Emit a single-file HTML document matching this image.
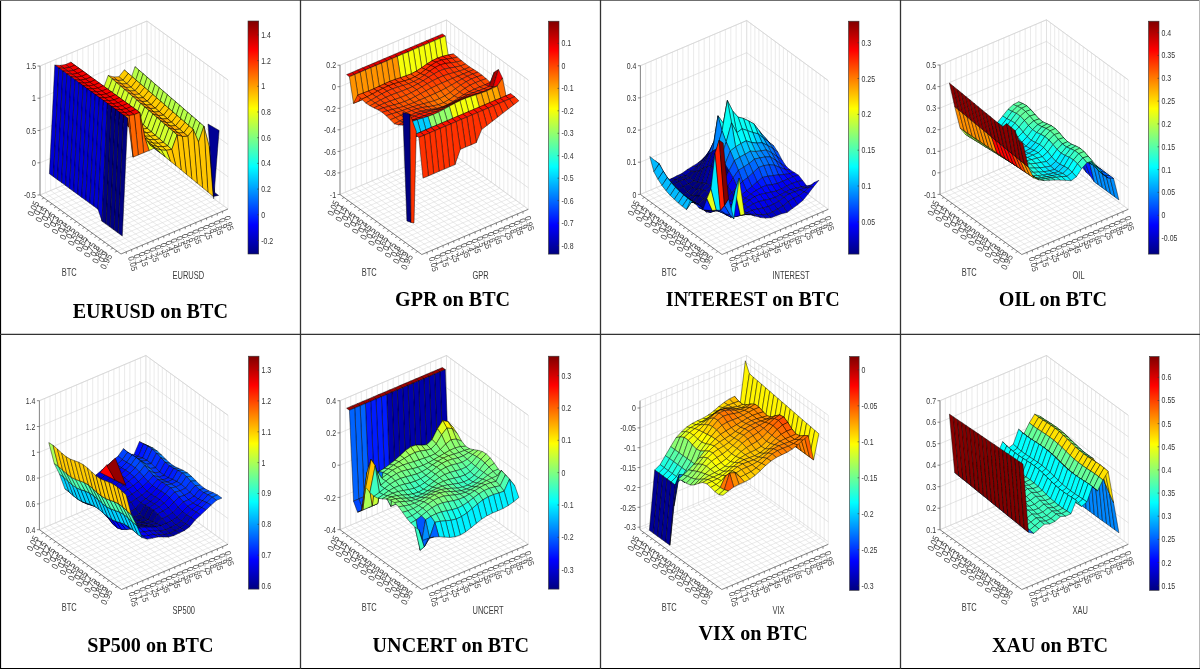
<!DOCTYPE html>
<html><head><meta charset="utf-8"><style>
html,body{margin:0;padding:0;background:#fff;}
svg{display:block;will-change:transform;}
</style></head><body>
<svg width="1200" height="669" viewBox="0 0 1200 669">
<rect width="1200" height="669" fill="#fff"/>
<g transform="translate(0,0)"><g stroke="#dcdcdc" stroke-width="0.6" fill="none">
<line x1="40.0" y1="195.0" x2="147.0" y2="150.0"/>
<line x1="40.0" y1="195.0" x2="121.0" y2="254.0"/>
<line x1="40.0" y1="195.0" x2="40.0" y2="66.0"/>
<line x1="147.0" y1="150.0" x2="147.0" y2="21.0"/>
<line x1="44.0" y1="197.9" x2="151.1" y2="152.9"/>
<line x1="45.4" y1="192.8" x2="126.3" y2="251.8"/>
<line x1="45.4" y1="192.8" x2="45.4" y2="63.8"/>
<line x1="151.1" y1="152.9" x2="151.1" y2="23.9"/>
<line x1="48.1" y1="200.9" x2="155.1" y2="155.9"/>
<line x1="50.7" y1="190.5" x2="131.7" y2="249.5"/>
<line x1="50.7" y1="190.5" x2="50.7" y2="61.5"/>
<line x1="155.1" y1="155.9" x2="155.1" y2="26.9"/>
<line x1="52.1" y1="203.8" x2="159.2" y2="158.8"/>
<line x1="56.0" y1="188.2" x2="137.1" y2="247.2"/>
<line x1="56.0" y1="188.2" x2="56.0" y2="59.2"/>
<line x1="159.2" y1="158.8" x2="159.2" y2="29.8"/>
<line x1="56.2" y1="206.8" x2="163.2" y2="161.8"/>
<line x1="61.4" y1="186.0" x2="142.4" y2="245.0"/>
<line x1="61.4" y1="186.0" x2="61.4" y2="57.0"/>
<line x1="163.2" y1="161.8" x2="163.2" y2="32.8"/>
<line x1="60.2" y1="209.8" x2="167.2" y2="164.8"/>
<line x1="66.8" y1="183.8" x2="147.8" y2="242.8"/>
<line x1="66.8" y1="183.8" x2="66.8" y2="54.8"/>
<line x1="167.2" y1="164.8" x2="167.2" y2="35.8"/>
<line x1="64.3" y1="212.7" x2="171.3" y2="167.7"/>
<line x1="72.1" y1="181.5" x2="153.1" y2="240.5"/>
<line x1="72.1" y1="181.5" x2="72.1" y2="52.5"/>
<line x1="171.3" y1="167.7" x2="171.3" y2="38.7"/>
<line x1="68.3" y1="215.7" x2="175.3" y2="170.7"/>
<line x1="77.4" y1="179.2" x2="158.4" y2="238.2"/>
<line x1="77.4" y1="179.2" x2="77.4" y2="50.2"/>
<line x1="175.3" y1="170.7" x2="175.3" y2="41.7"/>
<line x1="72.4" y1="218.6" x2="179.4" y2="173.6"/>
<line x1="82.8" y1="177.0" x2="163.8" y2="236.0"/>
<line x1="82.8" y1="177.0" x2="82.8" y2="48.0"/>
<line x1="179.4" y1="173.6" x2="179.4" y2="44.6"/>
<line x1="76.5" y1="221.6" x2="183.4" y2="176.6"/>
<line x1="88.2" y1="174.8" x2="169.2" y2="233.8"/>
<line x1="88.2" y1="174.8" x2="88.2" y2="45.8"/>
<line x1="183.4" y1="176.6" x2="183.4" y2="47.6"/>
<line x1="80.5" y1="224.5" x2="187.5" y2="179.5"/>
<line x1="93.5" y1="172.5" x2="174.5" y2="231.5"/>
<line x1="93.5" y1="172.5" x2="93.5" y2="43.5"/>
<line x1="187.5" y1="179.5" x2="187.5" y2="50.5"/>
<line x1="84.6" y1="227.4" x2="191.6" y2="182.4"/>
<line x1="98.8" y1="170.2" x2="179.8" y2="229.2"/>
<line x1="98.8" y1="170.2" x2="98.8" y2="41.2"/>
<line x1="191.6" y1="182.4" x2="191.6" y2="53.4"/>
<line x1="88.6" y1="230.4" x2="195.6" y2="185.4"/>
<line x1="104.2" y1="168.0" x2="185.2" y2="227.0"/>
<line x1="104.2" y1="168.0" x2="104.2" y2="39.0"/>
<line x1="195.6" y1="185.4" x2="195.6" y2="56.4"/>
<line x1="92.7" y1="233.3" x2="199.7" y2="188.3"/>
<line x1="109.5" y1="165.8" x2="190.6" y2="224.8"/>
<line x1="109.5" y1="165.8" x2="109.5" y2="36.8"/>
<line x1="199.7" y1="188.3" x2="199.7" y2="59.3"/>
<line x1="96.7" y1="236.3" x2="203.7" y2="191.3"/>
<line x1="114.9" y1="163.5" x2="195.9" y2="222.5"/>
<line x1="114.9" y1="163.5" x2="114.9" y2="34.5"/>
<line x1="203.7" y1="191.3" x2="203.7" y2="62.3"/>
<line x1="100.8" y1="239.2" x2="207.8" y2="194.2"/>
<line x1="120.2" y1="161.2" x2="201.2" y2="220.2"/>
<line x1="120.2" y1="161.2" x2="120.2" y2="32.2"/>
<line x1="207.8" y1="194.2" x2="207.8" y2="65.2"/>
<line x1="104.8" y1="242.2" x2="211.8" y2="197.2"/>
<line x1="125.6" y1="159.0" x2="206.6" y2="218.0"/>
<line x1="125.6" y1="159.0" x2="125.6" y2="30.0"/>
<line x1="211.8" y1="197.2" x2="211.8" y2="68.2"/>
<line x1="108.8" y1="245.2" x2="215.8" y2="200.2"/>
<line x1="130.9" y1="156.8" x2="211.9" y2="215.8"/>
<line x1="130.9" y1="156.8" x2="130.9" y2="27.8"/>
<line x1="215.8" y1="200.2" x2="215.8" y2="71.2"/>
<line x1="112.9" y1="248.1" x2="219.9" y2="203.1"/>
<line x1="136.3" y1="154.5" x2="217.3" y2="213.5"/>
<line x1="136.3" y1="154.5" x2="136.3" y2="25.5"/>
<line x1="219.9" y1="203.1" x2="219.9" y2="74.1"/>
<line x1="117.0" y1="251.1" x2="223.9" y2="206.1"/>
<line x1="141.6" y1="152.2" x2="222.6" y2="211.2"/>
<line x1="141.6" y1="152.2" x2="141.6" y2="23.2"/>
<line x1="223.9" y1="206.1" x2="223.9" y2="77.1"/>
<line x1="121.0" y1="254.0" x2="228.0" y2="209.0"/>
<line x1="147.0" y1="150.0" x2="228.0" y2="209.0"/>
<line x1="147.0" y1="150.0" x2="147.0" y2="21.0"/>
<line x1="228.0" y1="209.0" x2="228.0" y2="80.0"/>
<polyline points="40.0,195.0 147.0,150.0 228.0,209.0" stroke="#d2d2d2"/>
<polyline points="40.0,162.8 147.0,117.8 228.0,176.8" stroke="#d2d2d2"/>
<polyline points="40.0,130.5 147.0,85.5 228.0,144.5" stroke="#d2d2d2"/>
<polyline points="40.0,98.2 147.0,53.2 228.0,112.2" stroke="#d2d2d2"/>
<polyline points="40.0,66.0 147.0,21.0 228.0,80.0" stroke="#d2d2d2"/>
<polyline points="40.0,66.0 147.0,21.0 228.0,80.0" stroke="#d2d2d2"/>
</g>
<g stroke="#5a5a5a" stroke-width="0.7" fill="none">
<polyline points="40.0,195.0 121.0,254.0 228.0,209.0"/>
<polyline points="40.0,195.0 40.0,66.0"/>
<line x1="44.0" y1="197.9" x2="41.8" y2="199.1"/>
<line x1="126.3" y1="251.8" x2="126.3" y2="253.9"/>
<line x1="48.1" y1="200.9" x2="45.9" y2="202.1"/>
<line x1="131.7" y1="249.5" x2="131.7" y2="251.7"/>
<line x1="52.1" y1="203.8" x2="49.9" y2="205.0"/>
<line x1="137.1" y1="247.2" x2="137.1" y2="249.4"/>
<line x1="56.2" y1="206.8" x2="54.0" y2="208.0"/>
<line x1="142.4" y1="245.0" x2="142.4" y2="247.2"/>
<line x1="60.2" y1="209.8" x2="58.0" y2="210.9"/>
<line x1="147.8" y1="242.8" x2="147.8" y2="244.9"/>
<line x1="64.3" y1="212.7" x2="62.1" y2="213.9"/>
<line x1="153.1" y1="240.5" x2="153.1" y2="242.7"/>
<line x1="68.3" y1="215.7" x2="66.1" y2="216.8"/>
<line x1="158.4" y1="238.2" x2="158.4" y2="240.4"/>
<line x1="72.4" y1="218.6" x2="70.2" y2="219.8"/>
<line x1="163.8" y1="236.0" x2="163.8" y2="238.2"/>
<line x1="76.5" y1="221.6" x2="74.2" y2="222.8"/>
<line x1="169.2" y1="233.8" x2="169.2" y2="235.9"/>
<line x1="80.5" y1="224.5" x2="78.3" y2="225.7"/>
<line x1="174.5" y1="231.5" x2="174.5" y2="233.7"/>
<line x1="84.6" y1="227.4" x2="82.4" y2="228.6"/>
<line x1="179.8" y1="229.2" x2="179.8" y2="231.4"/>
<line x1="88.6" y1="230.4" x2="86.4" y2="231.6"/>
<line x1="185.2" y1="227.0" x2="185.2" y2="229.2"/>
<line x1="92.7" y1="233.3" x2="90.5" y2="234.5"/>
<line x1="190.6" y1="224.8" x2="190.6" y2="226.9"/>
<line x1="96.7" y1="236.3" x2="94.5" y2="237.5"/>
<line x1="195.9" y1="222.5" x2="195.9" y2="224.7"/>
<line x1="100.8" y1="239.2" x2="98.5" y2="240.4"/>
<line x1="201.2" y1="220.2" x2="201.2" y2="222.4"/>
<line x1="104.8" y1="242.2" x2="102.6" y2="243.4"/>
<line x1="206.6" y1="218.0" x2="206.6" y2="220.2"/>
<line x1="108.8" y1="245.2" x2="106.6" y2="246.3"/>
<line x1="211.9" y1="215.8" x2="211.9" y2="217.9"/>
<line x1="112.9" y1="248.1" x2="110.7" y2="249.3"/>
<line x1="217.3" y1="213.5" x2="217.3" y2="215.7"/>
<line x1="117.0" y1="251.1" x2="114.8" y2="252.2"/>
<line x1="222.6" y1="211.2" x2="222.6" y2="213.4"/>
<line x1="40.0" y1="195.0" x2="37.5" y2="195.0"/>
<line x1="40.0" y1="162.8" x2="37.5" y2="162.8"/>
<line x1="40.0" y1="130.5" x2="37.5" y2="130.5"/>
<line x1="40.0" y1="98.2" x2="37.5" y2="98.2"/>
<line x1="40.0" y1="66.0" x2="37.5" y2="66.0"/>
</g>
<g font-family="Liberation Sans" font-size="8.5" fill="#333" text-anchor="end">
<text transform="translate(36.00 198.20) scale(0.82 1)" text-anchor="end">-0.5</text>
<text transform="translate(36.00 165.95) scale(0.82 1)" text-anchor="end">0</text>
<text transform="translate(36.00 133.70) scale(0.82 1)" text-anchor="end">0.5</text>
<text transform="translate(36.00 101.45) scale(0.82 1)" text-anchor="end">1</text>
<text transform="translate(36.00 69.20) scale(0.82 1)" text-anchor="end">1.5</text>
</g>
<g stroke="#000" stroke-width="0.45" stroke-linejoin="round">
<polygon points="140.3,87.0 144.4,90.5 149.8,145.2 145.7,142.3" fill="#000082"/>
<polygon points="135.0,66.7 139.1,70.2 144.4,90.5 140.3,87.0" fill="#b7ff48"/>
<polygon points="144.4,90.5 148.4,94.0 153.8,148.2 149.8,145.2" fill="#000082"/>
<polygon points="129.6,82.5 133.7,86.0 139.1,70.2 135.0,66.7" fill="#b7ff48"/>
<polygon points="139.1,70.2 143.1,73.7 148.4,94.0 144.4,90.5" fill="#b7ff48"/>
<polygon points="148.4,94.0 152.5,97.5 157.8,151.2 153.8,148.2" fill="#000082"/>
<polygon points="124.3,69.9 128.3,73.4 133.7,86.0 129.6,82.5" fill="#ffd700"/>
<polygon points="133.7,86.0 137.8,89.5 143.1,73.7 139.1,70.2" fill="#b7ff48"/>
<polygon points="143.1,73.7 147.2,77.2 152.5,97.5 148.4,94.0" fill="#b7ff48"/>
<polygon points="152.5,97.5 156.6,101.0 161.9,154.1 157.8,151.2" fill="#000082"/>
<polygon points="118.9,76.7 123.0,80.2 128.3,73.4 124.3,69.9" fill="#ffcb00"/>
<polygon points="128.3,73.4 132.4,76.9 137.8,89.5 133.7,86.0" fill="#ffd700"/>
<polygon points="137.8,89.5 141.8,93.0 147.2,77.2 143.1,73.7" fill="#b7ff48"/>
<polygon points="147.2,77.2 151.2,80.7 156.6,101.0 152.5,97.5" fill="#b7ff48"/>
<polygon points="113.6,77.0 117.7,80.5 123.0,80.2 118.9,76.7" fill="#ffaf00"/>
<polygon points="156.6,101.0 160.6,104.5 165.9,157.0 161.9,154.1" fill="#000082"/>
<polygon points="123.0,80.2 127.0,83.7 132.4,76.9 128.3,73.4" fill="#ffcb00"/>
<polygon points="132.4,76.9 136.4,80.4 141.8,93.0 137.8,89.5" fill="#ffd700"/>
<polygon points="141.8,93.0 145.8,96.5 151.2,80.7 147.2,77.2" fill="#b7ff48"/>
<polygon points="108.2,75.4 112.3,78.9 117.7,80.5 113.6,77.0" fill="#ff9e00"/>
<polygon points="151.2,80.7 155.2,84.2 160.6,104.5 156.6,101.0" fill="#b7ff48"/>
<polygon points="117.7,80.5 121.7,84.0 127.0,83.7 123.0,80.2" fill="#ffcb00"/>
<polygon points="160.6,104.5 164.6,108.0 170.0,160.0 165.9,157.0" fill="#000082"/>
<polygon points="127.0,83.7 131.1,87.2 136.4,80.4 132.4,76.9" fill="#ffcb00"/>
<polygon points="136.4,80.4 140.5,83.9 145.8,96.5 141.8,93.0" fill="#ffd700"/>
<polygon points="102.9,89.9 106.9,93.4 112.3,78.9 108.2,75.4" fill="#d3ff2c"/>
<polygon points="145.8,96.5 149.9,100.0 155.2,84.2 151.2,80.7" fill="#b7ff48"/>
<polygon points="112.3,78.9 116.3,82.4 121.7,84.0 117.7,80.5" fill="#ff9e00"/>
<polygon points="155.2,84.2 159.3,87.7 164.6,108.0 160.6,104.5" fill="#b7ff48"/>
<polygon points="121.7,84.0 125.8,87.5 131.1,87.2 127.0,83.7" fill="#ffaf00"/>
<polygon points="164.6,108.0 168.7,111.5 174.1,162.9 170.0,160.0" fill="#000082"/>
<polygon points="131.1,87.2 135.1,90.7 140.5,83.9 136.4,80.4" fill="#ffcb00"/>
<polygon points="97.5,90.9 101.6,94.4 106.9,93.4 102.9,89.9" fill="#ffd700"/>
<polygon points="140.5,83.9 144.6,87.4 149.9,100.0 145.8,96.5" fill="#ffd700"/>
<polygon points="106.9,93.4 111.0,96.9 116.3,82.4 112.3,78.9" fill="#d3ff2c"/>
<polygon points="149.9,100.0 153.9,103.5 159.3,87.7 155.2,84.2" fill="#b7ff48"/>
<polygon points="116.3,82.4 120.4,85.9 125.8,87.5 121.7,84.0" fill="#ff9e00"/>
<polygon points="159.3,87.7 163.4,91.2 168.7,111.5 164.6,108.0" fill="#b7ff48"/>
<polygon points="125.8,87.5 129.8,91.0 135.1,90.7 131.1,87.2" fill="#ffcb00"/>
<polygon points="92.2,90.5 96.2,94.0 101.6,94.4 97.5,90.9" fill="#ffd700"/>
<polygon points="168.7,111.5 172.8,115.0 178.1,165.9 174.1,162.9" fill="#000082"/>
<polygon points="135.1,90.7 139.2,94.2 144.6,87.4 140.5,83.9" fill="#ffcb00"/>
<polygon points="101.6,94.4 105.6,97.9 111.0,96.9 106.9,93.4" fill="#ffd700"/>
<polygon points="144.6,87.4 148.6,90.9 153.9,103.5 149.9,100.0" fill="#ffd700"/>
<polygon points="111.0,96.9 115.0,100.4 120.4,85.9 116.3,82.4" fill="#d3ff2c"/>
<polygon points="153.9,103.5 158.0,107.0 163.4,91.2 159.3,87.7" fill="#b7ff48"/>
<polygon points="120.4,85.9 124.5,89.4 129.8,91.0 125.8,87.5" fill="#ff9e00"/>
<polygon points="86.8,88.9 90.9,92.4 96.2,94.0 92.2,90.5" fill="#ffd700"/>
<polygon points="163.4,91.2 167.4,94.7 172.8,115.0 168.7,111.5" fill="#b7ff48"/>
<polygon points="129.8,91.0 133.8,94.5 139.2,94.2 135.1,90.7" fill="#ffaf00"/>
<polygon points="96.2,94.0 100.3,97.5 105.6,97.9 101.6,94.4" fill="#ffd700"/>
<polygon points="172.8,115.0 176.8,118.5 182.1,168.8 178.1,165.9" fill="#000082"/>
<polygon points="139.2,94.2 143.2,97.7 148.6,90.9 144.6,87.4" fill="#ffcb00"/>
<polygon points="105.6,97.9 109.7,101.4 115.0,100.4 111.0,96.9" fill="#ffd700"/>
<polygon points="148.6,90.9 152.7,94.4 158.0,107.0 153.9,103.5" fill="#ffd700"/>
<polygon points="115.0,100.4 119.1,103.9 124.5,89.4 120.4,85.9" fill="#d3ff2c"/>
<polygon points="81.5,86.0 85.5,89.5 90.9,92.4 86.8,88.9" fill="#ffd700"/>
<polygon points="158.0,107.0 162.0,110.5 167.4,94.7 163.4,91.2" fill="#b7ff48"/>
<polygon points="124.5,89.4 128.5,92.9 133.8,94.5 129.8,91.0" fill="#ff9e00"/>
<polygon points="90.9,92.4 94.9,95.9 100.3,97.5 96.2,94.0" fill="#ffd700"/>
<polygon points="167.4,94.7 171.4,98.2 176.8,118.5 172.8,115.0" fill="#b7ff48"/>
<polygon points="133.8,94.5 137.9,98.0 143.2,97.7 139.2,94.2" fill="#ffcb00"/>
<polygon points="100.3,97.5 104.3,101.0 109.7,101.4 105.6,97.9" fill="#ffd700"/>
<polygon points="176.8,118.5 180.8,122.0 186.2,171.8 182.1,168.8" fill="#000082"/>
<polygon points="143.2,97.7 147.3,101.2 152.7,94.4 148.6,90.9" fill="#ffcb00"/>
<polygon points="109.7,101.4 113.8,104.9 119.1,103.9 115.0,100.4" fill="#ffd700"/>
<polygon points="76.2,78.6 80.2,82.1 85.5,89.5 81.5,86.0" fill="#ff2e00"/>
<polygon points="152.7,94.4 156.7,97.9 162.0,110.5 158.0,107.0" fill="#ffd700"/>
<polygon points="119.1,103.9 123.1,107.4 128.5,92.9 124.5,89.4" fill="#d3ff2c"/>
<polygon points="85.5,89.5 89.6,93.0 94.9,95.9 90.9,92.4" fill="#ffd700"/>
<polygon points="162.0,110.5 166.1,114.0 171.4,98.2 167.4,94.7" fill="#b7ff48"/>
<polygon points="128.5,92.9 132.6,96.4 137.9,98.0 133.8,94.5" fill="#ff9e00"/>
<polygon points="94.9,95.9 99.0,99.4 104.3,101.0 100.3,97.5" fill="#ffd700"/>
<polygon points="171.4,98.2 175.5,101.7 180.8,122.0 176.8,118.5" fill="#b7ff48"/>
<polygon points="137.9,98.0 141.9,101.5 147.3,101.2 143.2,97.7" fill="#ffaf00"/>
<polygon points="104.3,101.0 108.4,104.5 113.8,104.9 109.7,101.4" fill="#ffd700"/>
<polygon points="70.8,62.2 74.8,65.2 80.2,82.1 76.2,78.6" fill="#ff2e00"/>
<polygon points="180.8,122.0 184.9,125.5 190.2,174.8 186.2,171.8" fill="#000082"/>
<polygon points="147.3,101.2 151.3,104.7 156.7,97.9 152.7,94.4" fill="#ffcb00"/>
<polygon points="113.8,104.9 117.8,108.3 123.1,107.4 119.1,103.9" fill="#ffd700"/>
<polygon points="80.2,82.1 84.2,85.6 89.6,93.0 85.5,89.5" fill="#ff2e00"/>
<polygon points="156.7,97.9 160.8,101.4 166.1,114.0 162.0,110.5" fill="#ffd700"/>
<polygon points="123.1,107.4 127.2,110.9 132.6,96.4 128.5,92.9" fill="#d3ff2c"/>
<polygon points="89.6,93.0 93.7,96.5 99.0,99.4 94.9,95.9" fill="#ffd700"/>
<polygon points="166.1,114.0 170.1,117.5 175.5,101.7 171.4,98.2" fill="#b7ff48"/>
<polygon points="132.6,96.4 136.6,99.9 141.9,101.5 137.9,98.0" fill="#ff9e00"/>
<polygon points="99.0,99.4 103.0,102.9 108.4,104.5 104.3,101.0" fill="#ffd700"/>
<polygon points="65.5,64.5 69.5,67.4 74.8,65.2 70.8,62.2" fill="#f50000"/>
<polygon points="175.5,101.7 179.6,105.2 184.9,125.5 180.8,122.0" fill="#b7ff48"/>
<polygon points="141.9,101.5 146.0,105.0 151.3,104.7 147.3,101.2" fill="#ffcb00"/>
<polygon points="108.4,104.5 112.4,108.0 117.8,108.3 113.8,104.9" fill="#ffd700"/>
<polygon points="74.8,65.2 78.9,68.1 84.2,85.6 80.2,82.1" fill="#ff2e00"/>
<polygon points="184.9,125.5 188.9,129.0 194.3,177.7 190.2,174.8" fill="#000082"/>
<polygon points="151.3,104.7 155.4,108.2 160.8,101.4 156.7,97.9" fill="#ffcb00"/>
<polygon points="117.8,108.3 121.8,111.8 127.2,110.9 123.1,107.4" fill="#ffd700"/>
<polygon points="84.2,85.6 88.3,89.1 93.7,96.5 89.6,93.0" fill="#ff2e00"/>
<polygon points="160.8,101.4 164.8,104.9 170.1,117.5 166.1,114.0" fill="#ffd700"/>
<polygon points="127.2,110.9 131.2,114.4 136.6,99.9 132.6,96.4" fill="#d3ff2c"/>
<polygon points="93.7,96.5 97.7,100.0 103.0,102.9 99.0,99.4" fill="#ffd700"/>
<polygon points="60.1,65.4 64.2,68.4 69.5,67.4 65.5,64.5" fill="#f50000"/>
<polygon points="170.1,117.5 174.2,121.0 179.6,105.2 175.5,101.7" fill="#b7ff48"/>
<polygon points="136.6,99.9 140.6,103.4 146.0,105.0 141.9,101.5" fill="#ff9e00"/>
<polygon points="103.0,102.9 107.1,106.4 112.4,108.0 108.4,104.5" fill="#ffd700"/>
<polygon points="69.5,67.4 73.5,70.4 78.9,68.1 74.8,65.2" fill="#f50000"/>
<polygon points="179.6,105.2 183.6,108.7 188.9,129.0 184.9,125.5" fill="#b7ff48"/>
<polygon points="146.0,105.0 150.1,108.5 155.4,108.2 151.3,104.7" fill="#ffaf00"/>
<polygon points="112.4,108.0 116.5,111.5 121.8,111.8 117.8,108.3" fill="#ffd700"/>
<polygon points="78.9,68.1 83.0,71.1 88.3,89.1 84.2,85.6" fill="#ff2e00"/>
<polygon points="188.9,129.0 193.0,132.5 198.3,180.7 194.3,177.7" fill="#000082"/>
<polygon points="155.4,108.2 159.4,111.7 164.8,104.9 160.8,101.4" fill="#ffcb00"/>
<polygon points="121.8,111.8 125.9,115.3 131.2,114.4 127.2,110.9" fill="#ffd700"/>
<polygon points="88.3,89.1 92.3,92.6 97.7,100.0 93.7,96.5" fill="#ff2e00"/>
<polygon points="54.8,65.1 58.8,68.0 64.2,68.4 60.1,65.4" fill="#f50000"/>
<polygon points="164.8,104.9 168.8,108.4 174.2,121.0 170.1,117.5" fill="#ffd700"/>
<polygon points="131.2,114.4 135.3,117.9 140.6,103.4 136.6,99.9" fill="#d3ff2c"/>
<polygon points="97.7,100.0 101.8,103.5 107.1,106.4 103.0,102.9" fill="#ffd700"/>
<polygon points="64.2,68.4 68.2,71.3 73.5,70.4 69.5,67.4" fill="#f50000"/>
<polygon points="174.2,121.0 178.2,124.5 183.6,108.7 179.6,105.2" fill="#b7ff48"/>
<polygon points="140.6,103.4 144.7,106.9 150.1,108.5 146.0,105.0" fill="#ff9e00"/>
<polygon points="107.1,106.4 111.1,109.9 116.5,111.5 112.4,108.0" fill="#ffd700"/>
<polygon points="73.5,70.4 77.6,73.3 83.0,71.1 78.9,68.1" fill="#f50000"/>
<polygon points="183.6,108.7 187.6,112.2 193.0,132.5 188.9,129.0" fill="#b7ff48"/>
<polygon points="150.1,108.5 154.1,112.0 159.4,111.7 155.4,108.2" fill="#ffcb00"/>
<polygon points="116.5,111.5 120.6,115.0 125.9,115.3 121.8,111.8" fill="#ffd700"/>
<polygon points="83.0,71.1 87.0,74.0 92.3,92.6 88.3,89.1" fill="#ff2e00"/>
<polygon points="49.4,173.8 53.5,176.7 58.8,68.0 54.8,65.1" fill="#0000d1"/>
<polygon points="193.0,132.5 197.1,136.0 202.4,183.6 198.3,180.7" fill="#000082"/>
<polygon points="159.4,111.7 163.5,115.2 168.8,108.4 164.8,104.9" fill="#ffcb00"/>
<polygon points="125.9,115.3 129.9,118.8 135.3,117.9 131.2,114.4" fill="#ffd700"/>
<polygon points="92.3,92.6 96.4,96.1 101.8,103.5 97.7,100.0" fill="#ff2e00"/>
<polygon points="58.8,68.0 62.9,71.0 68.2,71.3 64.2,68.4" fill="#f50000"/>
<polygon points="168.8,108.4 172.9,111.9 178.2,124.5 174.2,121.0" fill="#ffd700"/>
<polygon points="135.3,117.9 139.3,121.4 144.7,106.9 140.6,103.4" fill="#d3ff2c"/>
<polygon points="101.8,103.5 105.8,107.0 111.1,109.9 107.1,106.4" fill="#ffd700"/>
<polygon points="68.2,71.3 72.2,74.3 77.6,73.3 73.5,70.4" fill="#f50000"/>
<polygon points="178.2,124.5 182.3,128.0 187.6,112.2 183.6,108.7" fill="#b7ff48"/>
<polygon points="144.7,106.9 148.8,110.4 154.1,112.0 150.1,108.5" fill="#ff9e00"/>
<polygon points="111.1,109.9 115.2,113.4 120.6,115.0 116.5,111.5" fill="#ffd700"/>
<polygon points="77.6,73.3 81.7,76.3 87.0,74.0 83.0,71.1" fill="#f50000"/>
<polygon points="187.6,112.2 191.7,115.7 197.1,136.0 193.0,132.5" fill="#b7ff48"/>
<polygon points="154.1,112.0 158.1,115.5 163.5,115.2 159.4,111.7" fill="#ffaf00"/>
<polygon points="120.6,115.0 124.6,118.5 129.9,118.8 125.9,115.3" fill="#ffd700"/>
<polygon points="87.0,74.0 91.0,77.0 96.4,96.1 92.3,92.6" fill="#ff2e00"/>
<polygon points="53.5,176.7 57.5,179.7 62.9,71.0 58.8,68.0" fill="#0000d1"/>
<polygon points="197.1,136.0 201.1,139.5 206.4,186.5 202.4,183.6" fill="#000082"/>
<polygon points="163.5,115.2 167.6,118.7 172.9,111.9 168.8,108.4" fill="#ffcb00"/>
<polygon points="129.9,118.8 134.0,122.3 139.3,121.4 135.3,117.9" fill="#ffd700"/>
<polygon points="96.4,96.1 100.4,99.6 105.8,107.0 101.8,103.5" fill="#ff2e00"/>
<polygon points="62.9,71.0 66.9,73.9 72.2,74.3 68.2,71.3" fill="#f50000"/>
<polygon points="172.9,111.9 176.9,115.4 182.3,128.0 178.2,124.5" fill="#ffd700"/>
<polygon points="139.3,121.4 143.4,124.9 148.8,110.4 144.7,106.9" fill="#d3ff2c"/>
<polygon points="105.8,107.0 109.8,110.5 115.2,113.4 111.1,109.9" fill="#ffd700"/>
<polygon points="72.2,74.3 76.3,77.2 81.7,76.3 77.6,73.3" fill="#f50000"/>
<polygon points="182.3,128.0 186.3,131.5 191.7,115.7 187.6,112.2" fill="#b7ff48"/>
<polygon points="148.8,110.4 152.8,113.9 158.1,115.5 154.1,112.0" fill="#ff9e00"/>
<polygon points="115.2,113.4 119.2,116.9 124.6,118.5 120.6,115.0" fill="#ffd700"/>
<polygon points="81.7,76.3 85.7,79.2 91.0,77.0 87.0,74.0" fill="#f50000"/>
<polygon points="191.7,115.7 195.8,119.2 201.1,139.5 197.1,136.0" fill="#b7ff48"/>
<polygon points="158.1,115.5 162.2,119.0 167.6,118.7 163.5,115.2" fill="#ffcb00"/>
<polygon points="124.6,118.5 128.7,122.0 134.0,122.3 129.9,118.8" fill="#ffd700"/>
<polygon points="91.0,77.0 95.1,79.9 100.4,99.6 96.4,96.1" fill="#ff2e00"/>
<polygon points="57.5,179.7 61.6,182.6 66.9,73.9 62.9,71.0" fill="#0000d1"/>
<polygon points="201.1,139.5 205.1,143.0 210.5,189.5 206.4,186.5" fill="#000082"/>
<polygon points="167.6,118.7 171.6,122.2 176.9,115.4 172.9,111.9" fill="#ffcb00"/>
<polygon points="134.0,122.3 138.0,125.8 143.4,124.9 139.3,121.4" fill="#ffd700"/>
<polygon points="100.4,99.6 104.5,103.1 109.8,110.5 105.8,107.0" fill="#ff2e00"/>
<polygon points="66.9,73.9 71.0,76.9 76.3,77.2 72.2,74.3" fill="#f50000"/>
<polygon points="176.9,115.4 181.0,118.9 186.3,131.5 182.3,128.0" fill="#ffd700"/>
<polygon points="143.4,124.9 147.4,128.4 152.8,113.9 148.8,110.4" fill="#d3ff2c"/>
<polygon points="109.8,110.5 113.9,114.0 119.2,116.9 115.2,113.4" fill="#ffd700"/>
<polygon points="76.3,77.2 80.3,80.2 85.7,79.2 81.7,76.3" fill="#f50000"/>
<polygon points="186.3,131.5 190.4,135.0 195.8,119.2 191.7,115.7" fill="#b7ff48"/>
<polygon points="152.8,113.9 156.9,117.4 162.2,119.0 158.1,115.5" fill="#ff9e00"/>
<polygon points="119.2,116.9 123.3,120.4 128.7,122.0 124.6,118.5" fill="#ffd700"/>
<polygon points="85.7,79.2 89.8,82.2 95.1,79.9 91.0,77.0" fill="#f50000"/>
<polygon points="195.8,119.2 199.8,122.7 205.1,143.0 201.1,139.5" fill="#b7ff48"/>
<polygon points="162.2,119.0 166.2,122.5 171.6,122.2 167.6,118.7" fill="#ffaf00"/>
<polygon points="128.7,122.0 132.7,125.5 138.0,125.8 134.0,122.3" fill="#ffd700"/>
<polygon points="95.1,79.9 99.2,82.9 104.5,103.1 100.4,99.6" fill="#ff2e00"/>
<polygon points="61.6,182.6 65.6,185.6 71.0,76.9 66.9,73.9" fill="#0000d1"/>
<polygon points="205.1,143.0 209.2,146.5 214.6,192.4 210.5,189.5" fill="#000082"/>
<polygon points="171.6,122.2 175.6,125.7 181.0,118.9 176.9,115.4" fill="#ffcb00"/>
<polygon points="138.0,125.8 142.1,129.3 147.4,128.4 143.4,124.9" fill="#ffd700"/>
<polygon points="104.5,103.1 108.5,106.6 113.9,114.0 109.8,110.5" fill="#ff2e00"/>
<polygon points="71.0,76.9 75.0,79.8 80.3,80.2 76.3,77.2" fill="#f50000"/>
<polygon points="181.0,118.9 185.1,122.4 190.4,135.0 186.3,131.5" fill="#ffd700"/>
<polygon points="147.4,128.4 151.5,131.9 156.9,117.4 152.8,113.9" fill="#d3ff2c"/>
<polygon points="113.9,114.0 117.9,117.5 123.3,120.4 119.2,116.9" fill="#ffd700"/>
<polygon points="80.3,80.2 84.4,83.1 89.8,82.2 85.7,79.2" fill="#f50000"/>
<polygon points="190.4,135.0 194.4,138.5 199.8,122.7 195.8,119.2" fill="#b7ff48"/>
<polygon points="156.9,117.4 160.9,120.9 166.2,122.5 162.2,119.0" fill="#ff9e00"/>
<polygon points="123.3,120.4 127.3,123.9 132.7,125.5 128.7,122.0" fill="#ffd700"/>
<polygon points="89.8,82.2 93.8,85.1 99.2,82.9 95.1,79.9" fill="#f50000"/>
<polygon points="199.8,122.7 203.9,126.2 209.2,146.5 205.1,143.0" fill="#b7ff48"/>
<polygon points="166.2,122.5 170.3,126.0 175.6,125.7 171.6,122.2" fill="#ffcb00"/>
<polygon points="132.7,125.5 136.8,129.0 142.1,129.3 138.0,125.8" fill="#ffd700"/>
<polygon points="99.2,82.9 103.2,85.8 108.5,106.6 104.5,103.1" fill="#ff2e00"/>
<polygon points="65.6,185.6 69.6,188.5 75.0,79.8 71.0,76.9" fill="#0000d1"/>
<polygon points="209.2,146.5 213.2,196.4 218.6,195.4 214.6,192.4" fill="#000082"/>
<polygon points="175.6,125.7 179.7,129.2 185.1,122.4 181.0,118.9" fill="#ffcb00"/>
<polygon points="142.1,129.3 146.2,132.8 151.5,131.9 147.4,128.4" fill="#ffd700"/>
<polygon points="108.5,106.6 112.6,110.1 117.9,117.5 113.9,114.0" fill="#ff2e00"/>
<polygon points="75.0,79.8 79.0,82.8 84.4,83.1 80.3,80.2" fill="#f50000"/>
<polygon points="185.1,122.4 189.1,125.9 194.4,138.5 190.4,135.0" fill="#ffd700"/>
<polygon points="151.5,131.9 155.5,135.4 160.9,120.9 156.9,117.4" fill="#d3ff2c"/>
<polygon points="117.9,117.5 122.0,121.0 127.3,123.9 123.3,120.4" fill="#ffd700"/>
<polygon points="84.4,83.1 88.5,86.1 93.8,85.1 89.8,82.2" fill="#f50000"/>
<polygon points="194.4,138.5 198.5,142.0 203.9,126.2 199.8,122.7" fill="#b7ff48"/>
<polygon points="160.9,120.9 164.9,124.4 170.3,126.0 166.2,122.5" fill="#ff9e00"/>
<polygon points="127.3,123.9 131.4,127.4 136.8,129.0 132.7,125.5" fill="#ffd700"/>
<polygon points="93.8,85.1 97.8,88.1 103.2,85.8 99.2,82.9" fill="#f50000"/>
<polygon points="203.9,126.2 207.9,192.0 213.2,196.4 209.2,146.5" fill="#ffc600"/>
<polygon points="170.3,126.0 174.3,129.5 179.7,129.2 175.6,125.7" fill="#ffaf00"/>
<polygon points="136.8,129.0 140.8,132.5 146.2,132.8 142.1,129.3" fill="#ffd700"/>
<polygon points="103.2,85.8 107.2,88.8 112.6,110.1 108.5,106.6" fill="#ff2e00"/>
<polygon points="69.6,188.5 73.7,191.5 79.0,82.8 75.0,79.8" fill="#0000d1"/>
<polygon points="179.7,129.2 183.8,132.7 189.1,125.9 185.1,122.4" fill="#ffcb00"/>
<polygon points="146.2,132.8 150.2,136.3 155.5,135.4 151.5,131.9" fill="#ffd700"/>
<polygon points="112.6,110.1 116.7,113.6 122.0,121.0 117.9,117.5" fill="#ff2e00"/>
<polygon points="79.0,82.8 83.1,85.7 88.5,86.1 84.4,83.1" fill="#f50000"/>
<polygon points="189.1,125.9 193.2,129.4 198.5,142.0 194.4,138.5" fill="#ffd700"/>
<polygon points="155.5,135.4 159.6,138.9 164.9,124.4 160.9,120.9" fill="#d3ff2c"/>
<polygon points="122.0,121.0 126.0,124.5 131.4,127.4 127.3,123.9" fill="#ffd700"/>
<polygon points="88.5,86.1 92.5,89.0 97.8,88.1 93.8,85.1" fill="#f50000"/>
<polygon points="198.5,142.0 202.6,187.6 207.9,192.0 203.9,126.2" fill="#ffc600"/>
<polygon points="164.9,124.4 169.0,127.9 174.3,129.5 170.3,126.0" fill="#ff9e00"/>
<polygon points="131.4,127.4 135.4,130.9 140.8,132.5 136.8,129.0" fill="#ffd700"/>
<polygon points="97.8,88.1 101.9,91.0 107.2,88.8 103.2,85.8" fill="#f50000"/>
<polygon points="174.3,129.5 178.4,133.0 183.8,132.7 179.7,129.2" fill="#ffcb00"/>
<polygon points="140.8,132.5 144.8,136.0 150.2,136.3 146.2,132.8" fill="#ffd700"/>
<polygon points="107.2,88.8 111.3,91.7 116.7,113.6 112.6,110.1" fill="#ff2e00"/>
<polygon points="73.7,191.5 77.8,194.4 83.1,85.7 79.0,82.8" fill="#0000d1"/>
<polygon points="183.8,132.7 187.8,136.2 193.2,129.4 189.1,125.9" fill="#ffcb00"/>
<polygon points="150.2,136.3 154.2,139.8 159.6,138.9 155.5,135.4" fill="#ffd700"/>
<polygon points="116.7,113.6 120.7,117.1 126.0,124.5 122.0,121.0" fill="#ff2e00"/>
<polygon points="83.1,85.7 87.1,88.7 92.5,89.0 88.5,86.1" fill="#f50000"/>
<polygon points="193.2,129.4 197.2,183.2 202.6,187.6 198.5,142.0" fill="#ffc600"/>
<polygon points="159.6,138.9 163.6,142.4 169.0,127.9 164.9,124.4" fill="#d3ff2c"/>
<polygon points="126.0,124.5 130.1,128.0 135.4,130.9 131.4,127.4" fill="#ffd700"/>
<polygon points="92.5,89.0 96.5,92.0 101.9,91.0 97.8,88.1" fill="#f50000"/>
<polygon points="169.0,127.9 173.1,131.4 178.4,133.0 174.3,129.5" fill="#ff9e00"/>
<polygon points="135.4,130.9 139.5,134.4 144.8,136.0 140.8,132.5" fill="#ffd700"/>
<polygon points="101.9,91.0 106.0,94.0 111.3,91.7 107.2,88.8" fill="#f50000"/>
<polygon points="178.4,133.0 182.4,136.5 187.8,136.2 183.8,132.7" fill="#ffaf00"/>
<polygon points="144.8,136.0 148.9,139.5 154.2,139.8 150.2,136.3" fill="#ffd700"/>
<polygon points="111.3,91.7 115.3,94.7 120.7,117.1 116.7,113.6" fill="#ff2e00"/>
<polygon points="77.8,194.4 81.8,197.4 87.1,88.7 83.1,85.7" fill="#0000d1"/>
<polygon points="187.8,136.2 191.8,178.8 197.2,183.2 193.2,129.4" fill="#ffc600"/>
<polygon points="154.2,139.8 158.3,143.3 163.6,142.4 159.6,138.9" fill="#ffd700"/>
<polygon points="120.7,117.1 124.8,120.6 130.1,128.0 126.0,124.5" fill="#ff2e00"/>
<polygon points="87.1,88.7 91.2,91.6 96.5,92.0 92.5,89.0" fill="#f50000"/>
<polygon points="163.6,142.4 167.7,145.9 173.1,131.4 169.0,127.9" fill="#d3ff2c"/>
<polygon points="130.1,128.0 134.1,131.5 139.5,134.4 135.4,130.9" fill="#ffd700"/>
<polygon points="96.5,92.0 100.6,94.9 106.0,94.0 101.9,91.0" fill="#f50000"/>
<polygon points="173.1,131.4 177.1,134.9 182.4,136.5 178.4,133.0" fill="#ff9e00"/>
<polygon points="139.5,134.4 143.6,137.9 148.9,139.5 144.8,136.0" fill="#ffd700"/>
<polygon points="106.0,94.0 110.0,96.9 115.3,94.7 111.3,91.7" fill="#f50000"/>
<polygon points="182.4,136.5 186.5,174.4 191.8,178.8 187.8,136.2" fill="#ffc600"/>
<polygon points="148.9,139.5 152.9,143.0 158.3,143.3 154.2,139.8" fill="#ffd700"/>
<polygon points="115.3,94.7 119.4,97.6 124.8,120.6 120.7,117.1" fill="#ff2e00"/>
<polygon points="81.8,197.4 85.8,200.3 91.2,91.6 87.1,88.7" fill="#0000d1"/>
<polygon points="158.3,143.3 162.3,146.8 167.7,145.9 163.6,142.4" fill="#ffd700"/>
<polygon points="124.8,120.6 128.8,124.1 134.1,131.5 130.1,128.0" fill="#ff2e00"/>
<polygon points="91.2,91.6 95.2,94.6 100.6,94.9 96.5,92.0" fill="#f50000"/>
<polygon points="167.7,145.9 171.8,149.4 177.1,134.9 173.1,131.4" fill="#d3ff2c"/>
<polygon points="134.1,131.5 138.2,135.0 143.6,137.9 139.5,134.4" fill="#ffd700"/>
<polygon points="100.6,94.9 104.6,97.9 110.0,96.9 106.0,94.0" fill="#f50000"/>
<polygon points="177.1,134.9 181.2,170.0 186.5,174.4 182.4,136.5" fill="#ffc600"/>
<polygon points="143.6,137.9 147.6,141.4 152.9,143.0 148.9,139.5" fill="#ffd700"/>
<polygon points="110.0,96.9 114.1,99.9 119.4,97.6 115.3,94.7" fill="#f50000"/>
<polygon points="152.9,143.0 157.0,146.5 162.3,146.8 158.3,143.3" fill="#ffd700"/>
<polygon points="119.4,97.6 123.4,100.6 128.8,124.1 124.8,120.6" fill="#ff2e00"/>
<polygon points="85.8,200.3 89.9,203.3 95.2,94.6 91.2,91.6" fill="#0000d1"/>
<polygon points="162.3,146.8 166.4,150.3 171.8,149.4 167.7,145.9" fill="#ffd700"/>
<polygon points="128.8,124.1 132.8,127.5 138.2,135.0 134.1,131.5" fill="#ff2e00"/>
<polygon points="95.2,94.6 99.3,97.5 104.6,97.9 100.6,94.9" fill="#f50000"/>
<polygon points="171.8,149.4 175.8,165.6 181.2,170.0 177.1,134.9" fill="#ffc600"/>
<polygon points="138.2,135.0 142.2,138.5 147.6,141.4 143.6,137.9" fill="#ffd700"/>
<polygon points="104.6,97.9 108.7,100.8 114.1,99.9 110.0,96.9" fill="#f50000"/>
<polygon points="147.6,141.4 151.6,144.9 157.0,146.5 152.9,143.0" fill="#ffd700"/>
<polygon points="114.1,99.9 118.1,102.8 123.4,100.6 119.4,97.6" fill="#f50000"/>
<polygon points="157.0,146.5 161.1,150.0 166.4,150.3 162.3,146.8" fill="#ffd700"/>
<polygon points="123.4,100.6 127.5,103.5 132.8,127.5 128.8,124.1" fill="#ff2e00"/>
<polygon points="89.9,203.3 93.9,206.2 99.3,97.5 95.2,94.6" fill="#0000d1"/>
<polygon points="166.4,150.3 170.4,161.2 175.8,165.6 171.8,149.4" fill="#ffc600"/>
<polygon points="132.8,127.5 136.9,131.0 142.2,138.5 138.2,135.0" fill="#ff2e00"/>
<polygon points="99.3,97.5 103.4,100.5 108.7,100.8 104.6,97.9" fill="#f50000"/>
<polygon points="142.2,138.5 146.3,142.0 151.6,144.9 147.6,141.4" fill="#ffd700"/>
<polygon points="108.7,100.8 112.7,103.8 118.1,102.8 114.1,99.9" fill="#f50000"/>
<polygon points="151.6,144.9 155.7,148.4 161.1,150.0 157.0,146.5" fill="#ffd700"/>
<polygon points="118.1,102.8 122.2,105.8 127.5,103.5 123.4,100.6" fill="#f50000"/>
<polygon points="161.1,150.0 165.1,156.8 170.4,161.2 166.4,150.3" fill="#e4ff1b"/>
<polygon points="127.5,103.5 131.6,106.5 136.9,131.0 132.8,127.5" fill="#ff2e00"/>
<polygon points="93.9,206.2 98.0,209.2 103.4,100.5 99.3,97.5" fill="#0000d1"/>
<polygon points="136.9,131.0 140.9,134.5 146.3,142.0 142.2,138.5" fill="#ff2e00"/>
<polygon points="103.4,100.5 107.4,103.4 112.7,103.8 108.7,100.8" fill="#f50000"/>
<polygon points="146.3,142.0 150.3,145.5 155.7,148.4 151.6,144.9" fill="#ffd700"/>
<polygon points="112.7,103.8 116.8,106.7 122.2,105.8 118.1,102.8" fill="#f50000"/>
<polygon points="155.7,148.4 159.8,152.4 165.1,156.8 161.1,150.0" fill="#e4ff1b"/>
<polygon points="122.2,105.8 126.2,108.7 131.6,106.5 127.5,103.5" fill="#f50000"/>
<polygon points="131.6,106.5 135.6,109.4 140.9,134.5 136.9,131.0" fill="#ff2e00"/>
<polygon points="98.0,209.2 102.0,221.2 107.4,103.4 103.4,100.5" fill="#0000d1"/>
<polygon points="140.9,134.5 145.0,138.0 150.3,145.5 146.3,142.0" fill="#ff2e00"/>
<polygon points="107.4,103.4 111.5,106.4 116.8,106.7 112.7,103.8" fill="#f50000"/>
<polygon points="150.3,145.5 154.4,148.2 159.8,152.4 155.7,148.4" fill="#e4ff1b"/>
<polygon points="116.8,106.7 120.8,109.7 126.2,108.7 122.2,105.8" fill="#f50000"/>
<polygon points="126.2,108.7 130.2,111.7 135.6,109.4 131.6,106.5" fill="#f50000"/>
<polygon points="135.6,109.4 139.7,112.4 145.0,138.0 140.9,134.5" fill="#ff2e00"/>
<polygon points="102.0,221.2 106.1,224.1 111.5,106.4 107.4,103.4" fill="#000082"/>
<polygon points="145.0,138.0 149.1,150.5 154.4,148.2 150.3,145.5" fill="#e4ff1b"/>
<polygon points="111.5,106.4 115.5,109.3 120.8,109.7 116.8,106.7" fill="#f50000"/>
<polygon points="120.8,109.7 124.9,112.6 130.2,111.7 126.2,108.7" fill="#f50000"/>
<polygon points="130.2,111.7 134.3,114.6 139.7,112.4 135.6,109.4" fill="#f50000"/>
<polygon points="139.7,112.4 143.7,152.7 149.1,150.5 145.0,138.0" fill="#ff6600"/>
<polygon points="106.1,224.1 110.1,227.0 115.5,109.3 111.5,106.4" fill="#000082"/>
<polygon points="115.5,109.3 119.5,112.3 124.9,112.6 120.8,109.7" fill="#f50000"/>
<polygon points="124.9,112.6 129.0,115.6 134.3,114.6 130.2,111.7" fill="#f50000"/>
<polygon points="134.3,114.6 138.3,155.0 143.7,152.7 139.7,112.4" fill="#ff6600"/>
<polygon points="110.1,227.0 114.2,230.0 119.5,112.3 115.5,109.3" fill="#000082"/>
<polygon points="119.5,112.3 123.6,115.2 129.0,115.6 124.9,112.6" fill="#f50000"/>
<polygon points="129.0,115.6 133.0,157.2 138.3,155.0 134.3,114.6" fill="#ff6600"/>
<polygon points="114.2,230.0 118.2,232.9 123.6,115.2 119.5,112.3" fill="#000082"/>
<polygon points="123.6,115.2 127.7,118.2 133.0,157.2 129.0,115.6" fill="#ff6600"/>
<polygon points="118.2,232.9 122.3,235.9 127.7,118.2 123.6,115.2" fill="#000082"/>
<polygon points="208.0,124.0 219.1,130.4 213.7,198.7" fill="#000094"/>
</g>
<defs><linearGradient id="jg1" x1="0" y1="1" x2="0" y2="0">
<stop offset="0.000" stop-color="#000080"/>
<stop offset="0.125" stop-color="#0000ff"/>
<stop offset="0.250" stop-color="#0080ff"/>
<stop offset="0.375" stop-color="#00ffff"/>
<stop offset="0.500" stop-color="#80ff80"/>
<stop offset="0.625" stop-color="#ffff00"/>
<stop offset="0.750" stop-color="#ff8000"/>
<stop offset="0.875" stop-color="#ff0000"/>
<stop offset="1.000" stop-color="#800000"/>
</linearGradient></defs>
<rect x="248.0" y="21.0" width="10.7" height="233.0" fill="url(#jg1)" stroke="#333" stroke-width="0.6"/>
<g font-family="Liberation Sans" font-size="8.5" fill="#333">
<line x1="257.2" y1="240.5" x2="258.7" y2="240.5" stroke="#333" stroke-width="0.6"/>
<text transform="translate(261.20 243.51) scale(0.82 1)">-0.2</text>
<line x1="257.2" y1="214.8" x2="258.7" y2="214.8" stroke="#333" stroke-width="0.6"/>
<text transform="translate(261.20 217.80) scale(0.82 1)">0</text>
<line x1="257.2" y1="189.1" x2="258.7" y2="189.1" stroke="#333" stroke-width="0.6"/>
<text transform="translate(261.20 192.10) scale(0.82 1)">0.2</text>
<line x1="257.2" y1="163.4" x2="258.7" y2="163.4" stroke="#333" stroke-width="0.6"/>
<text transform="translate(261.20 166.40) scale(0.82 1)">0.4</text>
<line x1="257.2" y1="137.7" x2="258.7" y2="137.7" stroke="#333" stroke-width="0.6"/>
<text transform="translate(261.20 140.69) scale(0.82 1)">0.6</text>
<line x1="257.2" y1="112.0" x2="258.7" y2="112.0" stroke="#333" stroke-width="0.6"/>
<text transform="translate(261.20 114.99) scale(0.82 1)">0.8</text>
<line x1="257.2" y1="86.3" x2="258.7" y2="86.3" stroke="#333" stroke-width="0.6"/>
<text transform="translate(261.20 89.29) scale(0.82 1)">1</text>
<line x1="257.2" y1="60.6" x2="258.7" y2="60.6" stroke="#333" stroke-width="0.6"/>
<text transform="translate(261.20 63.58) scale(0.82 1)">1.2</text>
<line x1="257.2" y1="34.9" x2="258.7" y2="34.9" stroke="#333" stroke-width="0.6"/>
<text transform="translate(261.20 37.88) scale(0.82 1)">1.4</text>
</g>
<g font-family="Liberation Sans" font-size="10.0" fill="#3a3a3a">
<text transform="translate(61.70 276.30) scale(0.75 1)">BTC</text>
<text transform="translate(172.50 279.20) scale(0.75 1)">EURUSD</text>
</g>
<g font-family="Liberation Sans" font-size="8.5" fill="#444">
<text transform="translate(39.55 202.95) rotate(-63.0) scale(0.90 1)" font-size="9.0" text-anchor="end">0.05</text>
<text transform="translate(128.05 257.15) rotate(75.0) scale(0.90 1)">0.05</text>
<text transform="translate(43.60 205.90) rotate(-63.0) scale(0.90 1)" font-size="9.0" text-anchor="end">0.1</text>
<text transform="translate(133.40 254.90) rotate(75.0) scale(0.90 1)">0.1</text>
<text transform="translate(47.65 208.85) rotate(-63.0) scale(0.90 1)" font-size="9.0" text-anchor="end">0.15</text>
<text transform="translate(138.75 252.65) rotate(75.0) scale(0.90 1)">0.15</text>
<text transform="translate(51.70 211.80) rotate(-63.0) scale(0.90 1)" font-size="9.0" text-anchor="end">0.2</text>
<text transform="translate(144.10 250.40) rotate(75.0) scale(0.90 1)">0.2</text>
<text transform="translate(55.75 214.75) rotate(-63.0) scale(0.90 1)" font-size="9.0" text-anchor="end">0.25</text>
<text transform="translate(149.45 248.15) rotate(75.0) scale(0.90 1)">0.25</text>
<text transform="translate(59.80 217.70) rotate(-63.0) scale(0.90 1)" font-size="9.0" text-anchor="end">0.3</text>
<text transform="translate(154.80 245.90) rotate(75.0) scale(0.90 1)">0.3</text>
<text transform="translate(63.85 220.65) rotate(-63.0) scale(0.90 1)" font-size="9.0" text-anchor="end">0.35</text>
<text transform="translate(160.15 243.65) rotate(75.0) scale(0.90 1)">0.35</text>
<text transform="translate(67.90 223.60) rotate(-63.0) scale(0.90 1)" font-size="9.0" text-anchor="end">0.4</text>
<text transform="translate(165.50 241.40) rotate(75.0) scale(0.90 1)">0.4</text>
<text transform="translate(71.95 226.55) rotate(-63.0) scale(0.90 1)" font-size="9.0" text-anchor="end">0.45</text>
<text transform="translate(170.85 239.15) rotate(75.0) scale(0.90 1)">0.45</text>
<text transform="translate(76.00 229.50) rotate(-63.0) scale(0.90 1)" font-size="9.0" text-anchor="end">0.5</text>
<text transform="translate(176.20 236.90) rotate(75.0) scale(0.90 1)">0.5</text>
<text transform="translate(80.05 232.45) rotate(-63.0) scale(0.90 1)" font-size="9.0" text-anchor="end">0.55</text>
<text transform="translate(181.55 234.65) rotate(75.0) scale(0.90 1)">0.55</text>
<text transform="translate(84.10 235.40) rotate(-63.0) scale(0.90 1)" font-size="9.0" text-anchor="end">0.6</text>
<text transform="translate(186.90 232.40) rotate(75.0) scale(0.90 1)">0.6</text>
<text transform="translate(88.15 238.35) rotate(-63.0) scale(0.90 1)" font-size="9.0" text-anchor="end">0.65</text>
<text transform="translate(192.25 230.15) rotate(75.0) scale(0.90 1)">0.65</text>
<text transform="translate(92.20 241.30) rotate(-63.0) scale(0.90 1)" font-size="9.0" text-anchor="end">0.7</text>
<text transform="translate(197.60 227.90) rotate(75.0) scale(0.90 1)">0.7</text>
<text transform="translate(96.25 244.25) rotate(-63.0) scale(0.90 1)" font-size="9.0" text-anchor="end">0.75</text>
<text transform="translate(202.95 225.65) rotate(75.0) scale(0.90 1)">0.75</text>
<text transform="translate(100.30 247.20) rotate(-63.0) scale(0.90 1)" font-size="9.0" text-anchor="end">0.8</text>
<text transform="translate(208.30 223.40) rotate(75.0) scale(0.90 1)">0.8</text>
<text transform="translate(104.35 250.15) rotate(-63.0) scale(0.90 1)" font-size="9.0" text-anchor="end">0.85</text>
<text transform="translate(213.65 221.15) rotate(75.0) scale(0.90 1)">0.85</text>
<text transform="translate(108.40 253.10) rotate(-63.0) scale(0.90 1)" font-size="9.0" text-anchor="end">0.9</text>
<text transform="translate(219.00 218.90) rotate(75.0) scale(0.90 1)">0.9</text>
<text transform="translate(112.45 256.05) rotate(-63.0) scale(0.90 1)" font-size="9.0" text-anchor="end">0.95</text>
<text transform="translate(224.35 216.65) rotate(75.0) scale(0.90 1)">0.95</text>
</g>
<text x="150.3" y="317.5" font-family="Liberation Serif" font-weight="bold" font-size="20.1" fill="#000" text-anchor="middle">EURUSD on BTC</text></g>
<g transform="translate(300,0)"><g stroke="#dcdcdc" stroke-width="0.6" fill="none">
<line x1="40.0" y1="194.5" x2="146.5" y2="149.3"/>
<line x1="40.0" y1="194.5" x2="121.8" y2="254.5"/>
<line x1="40.0" y1="194.5" x2="40.0" y2="65.2"/>
<line x1="146.5" y1="149.3" x2="146.5" y2="20.0"/>
<line x1="44.1" y1="197.5" x2="150.6" y2="152.3"/>
<line x1="45.3" y1="192.2" x2="127.1" y2="252.2"/>
<line x1="45.3" y1="192.2" x2="45.3" y2="62.9"/>
<line x1="150.6" y1="152.3" x2="150.6" y2="23.0"/>
<line x1="48.2" y1="200.5" x2="154.7" y2="155.3"/>
<line x1="50.7" y1="190.0" x2="132.4" y2="250.0"/>
<line x1="50.7" y1="190.0" x2="50.7" y2="60.7"/>
<line x1="154.7" y1="155.3" x2="154.7" y2="26.0"/>
<line x1="52.3" y1="203.5" x2="158.8" y2="158.3"/>
<line x1="56.0" y1="187.7" x2="137.8" y2="247.7"/>
<line x1="56.0" y1="187.7" x2="56.0" y2="58.4"/>
<line x1="158.8" y1="158.3" x2="158.8" y2="29.0"/>
<line x1="56.4" y1="206.5" x2="162.9" y2="161.3"/>
<line x1="61.3" y1="185.5" x2="143.1" y2="245.5"/>
<line x1="61.3" y1="185.5" x2="61.3" y2="56.2"/>
<line x1="162.9" y1="161.3" x2="162.9" y2="32.0"/>
<line x1="60.5" y1="209.5" x2="167.0" y2="164.3"/>
<line x1="66.6" y1="183.2" x2="148.4" y2="243.2"/>
<line x1="66.6" y1="183.2" x2="66.6" y2="53.9"/>
<line x1="167.0" y1="164.3" x2="167.0" y2="35.0"/>
<line x1="64.5" y1="212.5" x2="171.0" y2="167.3"/>
<line x1="72.0" y1="180.9" x2="153.8" y2="240.9"/>
<line x1="72.0" y1="180.9" x2="72.0" y2="51.6"/>
<line x1="171.0" y1="167.3" x2="171.0" y2="38.0"/>
<line x1="68.6" y1="215.5" x2="175.1" y2="170.3"/>
<line x1="77.3" y1="178.7" x2="159.1" y2="238.7"/>
<line x1="77.3" y1="178.7" x2="77.3" y2="49.4"/>
<line x1="175.1" y1="170.3" x2="175.1" y2="41.0"/>
<line x1="72.7" y1="218.5" x2="179.2" y2="173.3"/>
<line x1="82.6" y1="176.4" x2="164.4" y2="236.4"/>
<line x1="82.6" y1="176.4" x2="82.6" y2="47.1"/>
<line x1="179.2" y1="173.3" x2="179.2" y2="44.0"/>
<line x1="76.8" y1="221.5" x2="183.3" y2="176.3"/>
<line x1="87.9" y1="174.2" x2="169.7" y2="234.2"/>
<line x1="87.9" y1="174.2" x2="87.9" y2="44.9"/>
<line x1="183.3" y1="176.3" x2="183.3" y2="47.0"/>
<line x1="80.9" y1="224.5" x2="187.4" y2="179.3"/>
<line x1="93.2" y1="171.9" x2="175.1" y2="231.9"/>
<line x1="93.2" y1="171.9" x2="93.2" y2="42.6"/>
<line x1="187.4" y1="179.3" x2="187.4" y2="50.0"/>
<line x1="85.0" y1="227.5" x2="191.5" y2="182.3"/>
<line x1="98.6" y1="169.6" x2="180.4" y2="229.6"/>
<line x1="98.6" y1="169.6" x2="98.6" y2="40.3"/>
<line x1="191.5" y1="182.3" x2="191.5" y2="53.0"/>
<line x1="89.1" y1="230.5" x2="195.6" y2="185.3"/>
<line x1="103.9" y1="167.4" x2="185.7" y2="227.4"/>
<line x1="103.9" y1="167.4" x2="103.9" y2="38.1"/>
<line x1="195.6" y1="185.3" x2="195.6" y2="56.0"/>
<line x1="93.2" y1="233.5" x2="199.7" y2="188.3"/>
<line x1="109.2" y1="165.1" x2="191.0" y2="225.1"/>
<line x1="109.2" y1="165.1" x2="109.2" y2="35.8"/>
<line x1="199.7" y1="188.3" x2="199.7" y2="59.0"/>
<line x1="97.3" y1="236.5" x2="203.8" y2="191.3"/>
<line x1="114.6" y1="162.9" x2="196.4" y2="222.9"/>
<line x1="114.6" y1="162.9" x2="114.6" y2="33.6"/>
<line x1="203.8" y1="191.3" x2="203.8" y2="62.0"/>
<line x1="101.3" y1="239.5" x2="207.9" y2="194.3"/>
<line x1="119.9" y1="160.6" x2="201.7" y2="220.6"/>
<line x1="119.9" y1="160.6" x2="119.9" y2="31.3"/>
<line x1="207.9" y1="194.3" x2="207.9" y2="65.0"/>
<line x1="105.4" y1="242.5" x2="211.9" y2="197.3"/>
<line x1="125.2" y1="158.3" x2="207.0" y2="218.3"/>
<line x1="125.2" y1="158.3" x2="125.2" y2="29.0"/>
<line x1="211.9" y1="197.3" x2="211.9" y2="68.0"/>
<line x1="109.5" y1="245.5" x2="216.0" y2="200.3"/>
<line x1="130.5" y1="156.1" x2="212.3" y2="216.1"/>
<line x1="130.5" y1="156.1" x2="130.5" y2="26.8"/>
<line x1="216.0" y1="200.3" x2="216.0" y2="71.0"/>
<line x1="113.6" y1="248.5" x2="220.1" y2="203.3"/>
<line x1="135.9" y1="153.8" x2="217.7" y2="213.8"/>
<line x1="135.9" y1="153.8" x2="135.9" y2="24.5"/>
<line x1="220.1" y1="203.3" x2="220.1" y2="74.0"/>
<line x1="117.7" y1="251.5" x2="224.2" y2="206.3"/>
<line x1="141.2" y1="151.6" x2="223.0" y2="211.6"/>
<line x1="141.2" y1="151.6" x2="141.2" y2="22.3"/>
<line x1="224.2" y1="206.3" x2="224.2" y2="77.0"/>
<line x1="121.8" y1="254.5" x2="228.3" y2="209.3"/>
<line x1="146.5" y1="149.3" x2="228.3" y2="209.3"/>
<line x1="146.5" y1="149.3" x2="146.5" y2="20.0"/>
<line x1="228.3" y1="209.3" x2="228.3" y2="80.0"/>
<polyline points="40.0,194.5 146.5,149.3 228.3,209.3" stroke="#d2d2d2"/>
<polyline points="40.0,172.9 146.5,127.8 228.3,187.8" stroke="#d2d2d2"/>
<polyline points="40.0,151.4 146.5,106.2 228.3,166.2" stroke="#d2d2d2"/>
<polyline points="40.0,129.8 146.5,84.7 228.3,144.7" stroke="#d2d2d2"/>
<polyline points="40.0,108.3 146.5,63.1 228.3,123.1" stroke="#d2d2d2"/>
<polyline points="40.0,86.7 146.5,41.5 228.3,101.5" stroke="#d2d2d2"/>
<polyline points="40.0,65.2 146.5,20.0 228.3,80.0" stroke="#d2d2d2"/>
<polyline points="40.0,65.2 146.5,20.0 228.3,80.0" stroke="#d2d2d2"/>
</g>
<g stroke="#5a5a5a" stroke-width="0.7" fill="none">
<polyline points="40.0,194.5 121.8,254.5 228.3,209.3"/>
<polyline points="40.0,194.5 40.0,65.2"/>
<line x1="44.1" y1="197.5" x2="41.9" y2="198.7"/>
<line x1="127.1" y1="252.2" x2="127.1" y2="254.4"/>
<line x1="48.2" y1="200.5" x2="46.0" y2="201.7"/>
<line x1="132.4" y1="250.0" x2="132.4" y2="252.2"/>
<line x1="52.3" y1="203.5" x2="50.1" y2="204.7"/>
<line x1="137.8" y1="247.7" x2="137.8" y2="249.9"/>
<line x1="56.4" y1="206.5" x2="54.2" y2="207.7"/>
<line x1="143.1" y1="245.5" x2="143.1" y2="247.7"/>
<line x1="60.5" y1="209.5" x2="58.2" y2="210.7"/>
<line x1="148.4" y1="243.2" x2="148.4" y2="245.4"/>
<line x1="64.5" y1="212.5" x2="62.3" y2="213.7"/>
<line x1="153.8" y1="240.9" x2="153.8" y2="243.1"/>
<line x1="68.6" y1="215.5" x2="66.4" y2="216.7"/>
<line x1="159.1" y1="238.7" x2="159.1" y2="240.9"/>
<line x1="72.7" y1="218.5" x2="70.5" y2="219.7"/>
<line x1="164.4" y1="236.4" x2="164.4" y2="238.6"/>
<line x1="76.8" y1="221.5" x2="74.6" y2="222.7"/>
<line x1="169.7" y1="234.2" x2="169.7" y2="236.4"/>
<line x1="80.9" y1="224.5" x2="78.7" y2="225.7"/>
<line x1="175.1" y1="231.9" x2="175.1" y2="234.1"/>
<line x1="85.0" y1="227.5" x2="82.8" y2="228.7"/>
<line x1="180.4" y1="229.6" x2="180.4" y2="231.8"/>
<line x1="89.1" y1="230.5" x2="86.9" y2="231.7"/>
<line x1="185.7" y1="227.4" x2="185.7" y2="229.6"/>
<line x1="93.2" y1="233.5" x2="91.0" y2="234.7"/>
<line x1="191.0" y1="225.1" x2="191.0" y2="227.3"/>
<line x1="97.3" y1="236.5" x2="95.1" y2="237.7"/>
<line x1="196.4" y1="222.9" x2="196.4" y2="225.1"/>
<line x1="101.3" y1="239.5" x2="99.1" y2="240.7"/>
<line x1="201.7" y1="220.6" x2="201.7" y2="222.8"/>
<line x1="105.4" y1="242.5" x2="103.2" y2="243.7"/>
<line x1="207.0" y1="218.3" x2="207.0" y2="220.5"/>
<line x1="109.5" y1="245.5" x2="107.3" y2="246.7"/>
<line x1="212.3" y1="216.1" x2="212.3" y2="218.3"/>
<line x1="113.6" y1="248.5" x2="111.4" y2="249.7"/>
<line x1="217.7" y1="213.8" x2="217.7" y2="216.0"/>
<line x1="117.7" y1="251.5" x2="115.5" y2="252.7"/>
<line x1="223.0" y1="211.6" x2="223.0" y2="213.8"/>
<line x1="40.0" y1="194.5" x2="37.5" y2="194.5"/>
<line x1="40.0" y1="172.9" x2="37.5" y2="172.9"/>
<line x1="40.0" y1="151.4" x2="37.5" y2="151.4"/>
<line x1="40.0" y1="129.8" x2="37.5" y2="129.8"/>
<line x1="40.0" y1="108.3" x2="37.5" y2="108.3"/>
<line x1="40.0" y1="86.7" x2="37.5" y2="86.7"/>
<line x1="40.0" y1="65.2" x2="37.5" y2="65.2"/>
</g>
<g font-family="Liberation Sans" font-size="8.5" fill="#333" text-anchor="end">
<text transform="translate(36.00 197.70) scale(0.82 1)" text-anchor="end">-1</text>
<text transform="translate(36.00 176.15) scale(0.82 1)" text-anchor="end">-0.8</text>
<text transform="translate(36.00 154.60) scale(0.82 1)" text-anchor="end">-0.6</text>
<text transform="translate(36.00 133.05) scale(0.82 1)" text-anchor="end">-0.4</text>
<text transform="translate(36.00 111.50) scale(0.82 1)" text-anchor="end">-0.2</text>
<text transform="translate(36.00 89.95) scale(0.82 1)" text-anchor="end">0</text>
<text transform="translate(36.00 68.40) scale(0.82 1)" text-anchor="end">0.2</text>
</g>
<g stroke="#000" stroke-width="0.45" stroke-linejoin="round">
<polygon points="137.1,36.2 139.9,38.3 145.3,36.0 142.4,33.9" fill="#e10000"/>
<polygon points="131.8,38.5 134.6,40.6 139.9,38.3 137.1,36.2" fill="#e10000"/>
<polygon points="139.9,38.3 144.0,65.0 149.4,62.7 145.3,36.0" fill="#f5ff0a"/>
<polygon points="126.4,40.7 129.3,42.8 134.6,40.6 131.8,38.5" fill="#e10000"/>
<polygon points="134.6,40.6 138.7,67.3 144.0,65.0 139.9,38.3" fill="#f5ff0a"/>
<polygon points="144.0,65.0 148.1,55.0 153.4,53.9 149.4,62.7" fill="#ff3000"/>
<polygon points="121.1,43.0 124.0,45.1 129.3,42.8 126.4,40.7" fill="#e10000"/>
<polygon points="129.3,42.8 133.4,69.5 138.7,67.3 134.6,40.6" fill="#f5ff0a"/>
<polygon points="138.7,67.3 142.8,56.3 148.1,55.0 144.0,65.0" fill="#ff2700"/>
<polygon points="148.1,55.0 152.2,58.3 157.5,57.2 153.4,53.9" fill="#ff3300"/>
<polygon points="115.8,45.2 118.6,47.3 124.0,45.1 121.1,43.0" fill="#e10000"/>
<polygon points="124.0,45.1 128.1,71.8 133.4,69.5 129.3,42.8" fill="#f5ff0a"/>
<polygon points="133.4,69.5 137.5,58.1 142.8,56.3 138.7,67.3" fill="#ff2300"/>
<polygon points="142.8,56.3 146.9,59.1 152.2,58.3 148.1,55.0" fill="#ff2500"/>
<polygon points="110.5,47.5 113.3,49.6 118.6,47.3 115.8,45.2" fill="#e10000"/>
<polygon points="152.2,58.3 156.3,62.1 161.6,60.7 157.5,57.2" fill="#ff3a00"/>
<polygon points="118.6,47.3 122.7,74.0 128.1,71.8 124.0,45.1" fill="#f5ff0a"/>
<polygon points="128.1,71.8 132.1,60.7 137.5,58.1 133.4,69.5" fill="#ff2600"/>
<polygon points="137.5,58.1 141.6,60.1 146.9,59.1 142.8,56.3" fill="#ff1a00"/>
<polygon points="105.1,49.8 108.0,51.9 113.3,49.6 110.5,47.5" fill="#e10000"/>
<polygon points="146.9,59.1 151.0,62.8 156.3,62.1 152.2,58.3" fill="#ff2c00"/>
<polygon points="113.3,49.6 117.4,76.3 122.7,74.0 118.6,47.3" fill="#f5ff0a"/>
<polygon points="156.3,62.1 160.4,66.0 165.7,64.0 161.6,60.7" fill="#ff4200"/>
<polygon points="122.7,74.0 126.8,64.1 132.1,60.7 128.1,71.8" fill="#ff3100"/>
<polygon points="132.1,60.7 136.2,62.1 141.6,60.1 137.5,58.1" fill="#ff1800"/>
<polygon points="99.8,52.0 102.7,54.1 108.0,51.9 105.1,49.8" fill="#e10000"/>
<polygon points="141.6,60.1 145.7,63.4 151.0,62.8 146.9,59.1" fill="#ff1d00"/>
<polygon points="108.0,51.9 112.1,78.6 117.4,76.3 113.3,49.6" fill="#f5ff0a"/>
<polygon points="151.0,62.8 155.1,67.2 160.4,66.0 156.3,62.1" fill="#ff3800"/>
<polygon points="117.4,76.3 121.5,67.8 126.8,64.1 122.7,74.0" fill="#ff3e00"/>
<polygon points="160.4,66.0 164.5,69.3 169.8,67.0 165.7,64.0" fill="#ff4500"/>
<polygon points="126.8,64.1 130.9,65.4 136.2,62.1 132.1,60.7" fill="#ff2100"/>
<polygon points="94.5,54.3 97.3,56.4 102.7,54.1 99.8,52.0" fill="#e10000"/>
<polygon points="136.2,62.1 140.3,64.8 145.7,63.4 141.6,60.1" fill="#ff1400"/>
<polygon points="102.7,54.1 106.8,80.8 112.1,78.6 108.0,51.9" fill="#f5ff0a"/>
<polygon points="145.7,63.4 149.7,68.0 155.1,67.2 151.0,62.8" fill="#ff2b00"/>
<polygon points="112.1,78.6 116.2,71.2 121.5,67.8 117.4,76.3" fill="#ff4800"/>
<polygon points="155.1,67.2 159.2,71.1 164.5,69.3 160.4,66.0" fill="#ff4100"/>
<polygon points="121.5,67.8 125.6,69.5 130.9,65.4 126.8,64.1" fill="#ff3200"/>
<polygon points="89.2,56.5 92.0,58.6 97.3,56.4 94.5,54.3" fill="#e10000"/>
<polygon points="164.5,69.3 168.6,71.7 173.9,69.6 169.8,67.0" fill="#ff4000"/>
<polygon points="130.9,65.4 135.0,67.5 140.3,64.8 136.2,62.1" fill="#ff1800"/>
<polygon points="97.3,56.4 101.4,83.1 106.8,80.8 102.7,54.1" fill="#f5ff0a"/>
<polygon points="140.3,64.8 144.4,69.1 149.7,68.0 145.7,63.4" fill="#ff2000"/>
<polygon points="106.8,80.8 110.8,74.0 116.2,71.2 112.1,78.6" fill="#ff4d00"/>
<polygon points="149.7,68.0 153.8,72.6 159.2,71.1 155.1,67.2" fill="#ff3900"/>
<polygon points="116.2,71.2 120.3,73.5 125.6,69.5 121.5,67.8" fill="#ff4200"/>
<polygon points="83.8,58.8 86.7,60.9 92.0,58.6 89.2,56.5" fill="#e10000"/>
<polygon points="159.2,71.1 163.2,74.0 168.6,71.7 164.5,69.3" fill="#ff3f00"/>
<polygon points="125.6,69.5 129.7,71.2 135.0,67.5 130.9,65.4" fill="#ff2600"/>
<polygon points="92.0,58.6 96.1,85.3 101.4,83.1 97.3,56.4" fill="#ff9300"/>
<polygon points="168.6,71.7 172.7,74.0 178.0,72.2 173.9,69.6" fill="#ff3900"/>
<polygon points="135.0,67.5 139.1,71.1 144.4,69.1 140.3,64.8" fill="#ff1e00"/>
<polygon points="101.4,83.1 105.5,76.0 110.8,74.0 106.8,80.8" fill="#ff4b00"/>
<polygon points="144.4,69.1 148.5,74.1 153.8,72.6 149.7,68.0" fill="#ff3200"/>
<polygon points="110.8,74.0 114.9,76.8 120.3,73.5 116.2,71.2" fill="#ff4b00"/>
<polygon points="78.5,61.1 81.4,63.2 86.7,60.9 83.8,58.8" fill="#e10000"/>
<polygon points="153.8,72.6 157.9,76.2 163.2,74.0 159.2,71.1" fill="#ff3f00"/>
<polygon points="120.3,73.5 124.4,75.2 129.7,71.2 125.6,69.5" fill="#ff3600"/>
<polygon points="86.7,60.9 90.8,87.6 96.1,85.3 92.0,58.6" fill="#ff9300"/>
<polygon points="163.2,74.0 167.3,76.3 172.7,74.0 168.6,71.7" fill="#ff3900"/>
<polygon points="129.7,71.2 133.8,74.0 139.1,71.1 135.0,67.5" fill="#ff2400"/>
<polygon points="96.1,85.3 100.2,77.8 105.5,76.0 101.4,83.1" fill="#ff4600"/>
<polygon points="172.7,74.0 176.8,76.9 182.1,75.2 178.0,72.2" fill="#ff3800"/>
<polygon points="139.1,71.1 143.2,75.9 148.5,74.1 144.4,69.1" fill="#ff2e00"/>
<polygon points="105.5,76.0 109.6,79.2 114.9,76.8 110.8,74.0" fill="#ff4c00"/>
<polygon points="73.2,63.3 76.0,65.4 81.4,63.2 78.5,61.1" fill="#e10000"/>
<polygon points="148.5,74.1 152.6,78.4 157.9,76.2 153.8,72.6" fill="#ff3f00"/>
<polygon points="114.9,76.8 119.0,78.8 124.4,75.2 120.3,73.5" fill="#ff4200"/>
<polygon points="81.4,63.2 85.5,89.9 90.8,87.6 86.7,60.9" fill="#ff9300"/>
<polygon points="157.9,76.2 162.0,79.0 167.3,76.3 163.2,74.0" fill="#ff3d00"/>
<polygon points="124.4,75.2 128.4,77.4 133.8,74.0 129.7,71.2" fill="#ff2f00"/>
<polygon points="90.8,87.6 94.9,79.5 100.2,77.8 96.1,85.3" fill="#ff4200"/>
<polygon points="167.3,76.3 171.4,79.0 176.8,76.9 172.7,74.0" fill="#ff3700"/>
<polygon points="133.8,74.0 137.9,78.2 143.2,75.9 139.1,71.1" fill="#ff2f00"/>
<polygon points="100.2,77.8 104.3,80.9 109.6,79.2 105.5,76.0" fill="#ff4700"/>
<polygon points="67.9,65.6 70.7,67.7 76.0,65.4 73.2,63.3" fill="#e10000"/>
<polygon points="176.8,76.9 180.8,80.6 186.2,78.7 182.1,75.2" fill="#ff3e00"/>
<polygon points="143.2,75.9 147.3,80.7 152.6,78.4 148.5,74.1" fill="#ff3f00"/>
<polygon points="109.6,79.2 113.7,81.6 119.0,78.8 114.9,76.8" fill="#ff4700"/>
<polygon points="76.0,65.4 80.1,92.1 85.5,89.9 81.4,63.2" fill="#ff9300"/>
<polygon points="152.6,78.4 156.7,82.0 162.0,79.0 157.9,76.2" fill="#ff4400"/>
<polygon points="119.0,78.8 123.1,80.8 128.4,77.4 124.4,75.2" fill="#ff3900"/>
<polygon points="85.5,89.9 89.5,81.5 94.9,79.5 90.8,87.6" fill="#ff3f00"/>
<polygon points="162.0,79.0 166.1,81.8 171.4,79.0 167.3,76.3" fill="#ff3b00"/>
<polygon points="128.4,77.4 132.5,80.8 137.9,78.2 133.8,74.0" fill="#ff3200"/>
<polygon points="94.9,79.5 99.0,82.3 104.3,80.9 100.2,77.8" fill="#ff4000"/>
<polygon points="62.5,67.8 65.4,69.9 70.7,67.7 67.9,65.6" fill="#e10000"/>
<polygon points="171.4,79.0 175.5,82.7 180.8,80.6 176.8,76.9" fill="#ff3d00"/>
<polygon points="137.9,78.2 141.9,83.1 147.3,80.7 143.2,75.9" fill="#ff4000"/>
<polygon points="104.3,80.9 108.4,83.8 113.7,81.6 109.6,79.2" fill="#ff4600"/>
<polygon points="70.7,67.7 74.8,94.4 80.1,92.1 76.0,65.4" fill="#ff9300"/>
<polygon points="180.8,80.6 184.9,84.8 190.3,82.4 186.2,78.7" fill="#ff4900"/>
<polygon points="147.3,80.7 151.4,85.1 156.7,82.0 152.6,78.4" fill="#ff4c00"/>
<polygon points="113.7,81.6 117.8,83.9 123.1,80.8 119.0,78.8" fill="#ff4100"/>
<polygon points="80.1,92.1 84.2,83.9 89.5,81.5 85.5,89.9" fill="#ff4000"/>
<polygon points="156.7,82.0 160.8,85.1 166.1,81.8 162.0,79.0" fill="#ff4500"/>
<polygon points="123.1,80.8 127.2,83.8 132.5,80.8 128.4,77.4" fill="#ff3800"/>
<polygon points="89.5,81.5 93.6,83.9 99.0,82.3 94.9,79.5" fill="#ff3900"/>
<polygon points="57.2,70.1 60.1,72.2 65.4,69.9 62.5,67.8" fill="#e10000"/>
<polygon points="166.1,81.8 170.2,85.2 175.5,82.7 171.4,79.0" fill="#ff4000"/>
<polygon points="132.5,80.8 136.6,85.5 141.9,83.1 137.9,78.2" fill="#ff4100"/>
<polygon points="99.0,82.3 103.1,85.5 108.4,83.8 104.3,80.9" fill="#ff4100"/>
<polygon points="65.4,69.9 69.5,96.6 74.8,94.4 70.7,67.7" fill="#ff9300"/>
<polygon points="175.5,82.7 179.6,87.0 184.9,84.8 180.8,80.6" fill="#ff4900"/>
<polygon points="141.9,83.1 146.0,88.1 151.4,85.1 147.3,80.7" fill="#ff5200"/>
<polygon points="108.4,83.8 112.5,86.7 117.8,83.9 113.7,81.6" fill="#ff4500"/>
<polygon points="74.8,94.4 78.9,86.4 84.2,83.9 80.1,92.1" fill="#ff4200"/>
<polygon points="184.9,84.8 189.0,86.5 194.3,72.0 190.3,82.4" fill="#f50000"/>
<polygon points="151.4,85.1 155.4,88.8 160.8,85.1 156.7,82.0" fill="#ff5300"/>
<polygon points="117.8,83.9 121.9,86.8 127.2,83.8 123.1,80.8" fill="#ff4000"/>
<polygon points="84.2,83.9 88.3,85.9 93.6,83.9 89.5,81.5" fill="#ff3700"/>
<polygon points="51.9,72.4 54.7,74.5 60.1,72.2 57.2,70.1" fill="#e10000"/>
<polygon points="160.8,85.1 164.9,88.4 170.2,85.2 166.1,81.8" fill="#ff4800"/>
<polygon points="127.2,83.8 131.3,88.0 136.6,85.5 132.5,80.8" fill="#ff4400"/>
<polygon points="93.6,83.9 97.7,87.1 103.1,85.5 99.0,82.3" fill="#ff3b00"/>
<polygon points="60.1,72.2 64.2,98.9 69.5,96.6 65.4,69.9" fill="#ff9300"/>
<polygon points="170.2,85.2 174.3,89.2 179.6,87.0 175.5,82.7" fill="#ff4800"/>
<polygon points="136.6,85.5 140.7,90.9 146.0,88.1 141.9,83.1" fill="#ff5700"/>
<polygon points="103.1,85.5 107.1,89.0 112.5,86.7 108.4,83.8" fill="#ff4600"/>
<polygon points="69.5,96.6 73.6,88.9 78.9,86.4 74.8,94.4" fill="#ff4400"/>
<polygon points="179.6,87.0 183.7,88.8 189.0,86.5 184.9,84.8" fill="#ff3e00"/>
<polygon points="146.0,88.1 150.1,92.6 155.4,88.8 151.4,85.1" fill="#ff6000"/>
<polygon points="112.5,86.7 116.6,89.9 121.9,86.8 117.8,83.9" fill="#ff4700"/>
<polygon points="78.9,86.4 83.0,88.3 88.3,85.9 84.2,83.9" fill="#ff3900"/>
<polygon points="46.6,74.6 49.4,76.7 54.7,74.5 51.9,72.4" fill="#e10000"/>
<polygon points="189.0,86.5 193.1,87.2 198.4,69.6 194.3,72.0" fill="#a60000"/>
<polygon points="155.4,88.8 159.5,92.1 164.9,88.4 160.8,85.1" fill="#ff5500"/>
<polygon points="121.9,86.8 126.0,90.8 131.3,88.0 127.2,83.8" fill="#ff4900"/>
<polygon points="88.3,85.9 92.4,88.9 97.7,87.1 93.6,83.9" fill="#ff3700"/>
<polygon points="54.7,74.5 58.8,101.2 64.2,98.9 60.1,72.2" fill="#ff9300"/>
<polygon points="164.9,88.4 169.0,91.7 174.3,89.2 170.2,85.2" fill="#ff4b00"/>
<polygon points="131.3,88.0 135.4,93.4 140.7,90.9 136.6,85.5" fill="#ff5a00"/>
<polygon points="97.7,87.1 101.8,91.1 107.1,89.0 103.1,85.5" fill="#ff4400"/>
<polygon points="64.2,98.9 68.2,91.1 73.6,88.9 69.5,96.6" fill="#ff4400"/>
<polygon points="174.3,89.2 178.4,90.9 183.7,88.8 179.6,87.0" fill="#ff3c00"/>
<polygon points="140.7,90.9 144.8,95.9 150.1,92.6 146.0,88.1" fill="#ff6a00"/>
<polygon points="107.1,89.0 111.2,92.8 116.6,89.9 112.5,86.7" fill="#ff4d00"/>
<polygon points="73.6,88.9 77.7,91.1 83.0,88.3 78.9,86.4" fill="#ff3e00"/>
<polygon points="183.7,88.8 187.8,89.8 193.1,87.2 189.0,86.5" fill="#ff2c00"/>
<polygon points="150.1,92.6 154.2,96.0 159.5,92.1 155.4,88.8" fill="#ff6400"/>
<polygon points="116.6,89.9 120.6,93.7 126.0,90.8 121.9,86.8" fill="#ff4e00"/>
<polygon points="83.0,88.3 87.1,91.2 92.4,88.9 88.3,85.9" fill="#ff3700"/>
<polygon points="49.4,76.7 53.5,103.4 58.8,101.2 54.7,74.5" fill="#ff9300"/>
<polygon points="193.1,87.2 197.2,86.1 202.5,78.0 198.4,69.6" fill="#f50000"/>
<polygon points="159.5,92.1 163.6,94.7 169.0,91.7 164.9,88.4" fill="#ff5200"/>
<polygon points="126.0,90.8 130.1,95.7 135.4,93.4 131.3,88.0" fill="#ff5a00"/>
<polygon points="92.4,88.9 96.5,93.0 101.8,91.1 97.7,87.1" fill="#ff4100"/>
<polygon points="58.8,101.2 62.9,93.2 68.2,91.1 64.2,98.9" fill="#ff4200"/>
<polygon points="169.0,91.7 173.0,92.8 178.4,90.9 174.3,89.2" fill="#ff3a00"/>
<polygon points="135.4,93.4 139.5,98.7 144.8,95.9 140.7,90.9" fill="#ff6f00"/>
<polygon points="101.8,91.1 105.9,95.3 111.2,92.8 107.1,89.0" fill="#ff4f00"/>
<polygon points="68.2,91.1 72.3,94.0 77.7,91.1 73.6,88.9" fill="#ff4300"/>
<polygon points="178.4,90.9 182.5,91.9 187.8,89.8 183.7,88.8" fill="#ff2a00"/>
<polygon points="144.8,95.9 148.9,99.7 154.2,96.0 150.1,92.6" fill="#ff7100"/>
<polygon points="111.2,92.8 115.3,96.5 120.6,93.7 116.6,89.9" fill="#ff5400"/>
<polygon points="77.7,91.1 81.8,93.9 87.1,91.2 83.0,88.3" fill="#ff3c00"/>
<polygon points="187.8,89.8 191.9,88.6 197.2,86.1 193.1,87.2" fill="#ff0600"/>
<polygon points="154.2,96.0 158.3,98.1 163.6,94.7 159.5,92.1" fill="#ff5c00"/>
<polygon points="120.6,93.7 124.7,98.0 130.1,95.7 126.0,90.8" fill="#ff5a00"/>
<polygon points="87.1,91.2 91.2,95.0 96.5,93.0 92.4,88.9" fill="#ff3f00"/>
<polygon points="53.5,103.4 57.6,95.1 62.9,93.2 58.8,101.2" fill="#ff3f00"/>
<polygon points="197.2,86.1 201.3,100.5 206.6,98.3 202.5,78.0" fill="#ff6c00"/>
<polygon points="163.6,94.7 167.7,95.0 173.0,92.8 169.0,91.7" fill="#ff3900"/>
<polygon points="130.1,95.7 134.1,100.8 139.5,98.7 135.4,93.4" fill="#ff6d00"/>
<polygon points="96.5,93.0 100.6,97.5 105.9,95.3 101.8,91.1" fill="#ff4f00"/>
<polygon points="62.9,93.2 67.0,96.8 72.3,94.0 68.2,91.1" fill="#ff4800"/>
<polygon points="173.0,92.8 177.1,93.7 182.5,91.9 178.4,90.9" fill="#ff2600"/>
<polygon points="139.5,98.7 143.6,102.7 148.9,99.7 144.8,95.9" fill="#ff7800"/>
<polygon points="105.9,95.3 110.0,99.2 115.3,96.5 111.2,92.8" fill="#ff5800"/>
<polygon points="72.3,94.0 76.4,97.0 81.8,93.9 77.7,91.1" fill="#ff4300"/>
<polygon points="182.5,91.9 186.6,91.0 191.9,88.6 187.8,89.8" fill="#ff0600"/>
<polygon points="148.9,99.7 153.0,101.6 158.3,98.1 154.2,96.0" fill="#ff6700"/>
<polygon points="115.3,96.5 119.4,100.2 124.7,98.0 120.6,93.7" fill="#ff5a00"/>
<polygon points="81.8,93.9 85.8,97.4 91.2,95.0 87.1,91.2" fill="#ff4000"/>
<polygon points="191.9,88.6 196.0,102.8 201.3,100.5 197.2,86.1" fill="#ffa700"/>
<polygon points="158.3,98.1 162.4,97.5 167.7,95.0 163.6,94.7" fill="#ff3b00"/>
<polygon points="124.7,98.0 128.8,102.3 134.1,100.8 130.1,95.7" fill="#ff6700"/>
<polygon points="91.2,95.0 95.3,99.4 100.6,97.5 96.5,93.0" fill="#ff4b00"/>
<polygon points="57.6,95.1 61.7,99.2 67.0,96.8 62.9,93.2" fill="#ff4900"/>
<polygon points="201.3,100.5 205.4,96.0 210.7,93.7 206.6,98.3" fill="#ff2700"/>
<polygon points="167.7,95.0 171.8,95.3 177.1,93.7 173.0,92.8" fill="#ff2000"/>
<polygon points="134.1,100.8 138.2,104.7 143.6,102.7 139.5,98.7" fill="#ff7600"/>
<polygon points="100.6,97.5 104.7,101.5 110.0,99.2 105.9,95.3" fill="#ff5800"/>
<polygon points="67.0,96.8 71.1,100.1 76.4,97.0 72.3,94.0" fill="#ff4b00"/>
<polygon points="177.1,93.7 181.2,93.0 186.6,91.0 182.5,91.9" fill="#ff0400"/>
<polygon points="143.6,102.7 147.7,104.7 153.0,101.6 148.9,99.7" fill="#ff6f00"/>
<polygon points="110.0,99.2 114.1,102.5 119.4,100.2 115.3,96.5" fill="#ff5a00"/>
<polygon points="76.4,97.0 80.5,100.1 85.8,97.4 81.8,93.9" fill="#ff4400"/>
<polygon points="186.6,91.0 190.6,105.1 196.0,102.8 191.9,88.6" fill="#ffa700"/>
<polygon points="153.0,101.6 157.1,100.4 162.4,97.5 158.3,98.1" fill="#ff4000"/>
<polygon points="119.4,100.2 123.5,103.7 128.8,102.3 124.7,98.0" fill="#ff5e00"/>
<polygon points="85.8,97.4 89.9,101.2 95.3,99.4 91.2,95.0" fill="#ff4700"/>
<polygon points="196.0,102.8 200.1,98.3 205.4,96.0 201.3,100.5" fill="#ffa700"/>
<polygon points="162.4,97.5 166.5,97.1 171.8,95.3 167.7,95.0" fill="#ff1c00"/>
<polygon points="128.8,102.3 132.9,106.0 138.2,104.7 134.1,100.8" fill="#ff6d00"/>
<polygon points="95.3,99.4 99.3,103.4 104.7,101.5 100.6,97.5" fill="#ff5400"/>
<polygon points="61.7,99.2 65.8,103.0 71.1,100.1 67.0,96.8" fill="#ff5000"/>
<polygon points="205.4,96.0 209.5,99.0 214.8,96.7 210.7,93.7" fill="#ff1300"/>
<polygon points="171.8,95.3 175.9,94.8 181.2,93.0 177.1,93.7" fill="#ff0000"/>
<polygon points="138.2,104.7 142.3,107.0 147.7,104.7 143.6,102.7" fill="#ff6f00"/>
<polygon points="104.7,101.5 108.8,104.6 114.1,102.5 110.0,99.2" fill="#ff5900"/>
<polygon points="71.1,100.1 75.2,103.0 80.5,100.1 76.4,97.0" fill="#ff4900"/>
<polygon points="181.2,93.0 185.3,107.3 190.6,105.1 186.6,91.0" fill="#ffa700"/>
<polygon points="147.7,104.7 151.7,103.3 157.1,100.4 153.0,101.6" fill="#ff4600"/>
<polygon points="114.1,102.5 118.2,105.1 123.5,103.7 119.4,100.2" fill="#ff5700"/>
<polygon points="80.5,100.1 84.6,103.2 89.9,101.2 85.8,97.4" fill="#ff4500"/>
<polygon points="190.6,105.1 194.7,100.5 200.1,98.3 196.0,102.8" fill="#ffa700"/>
<polygon points="157.1,100.4 161.2,99.3 166.5,97.1 162.4,97.5" fill="#ff1b00"/>
<polygon points="123.5,103.7 127.6,106.7 132.9,106.0 128.8,102.3" fill="#ff5f00"/>
<polygon points="89.9,101.2 94.0,104.9 99.3,103.4 95.3,99.4" fill="#ff4e00"/>
<polygon points="200.1,98.3 204.1,101.3 209.5,99.0 205.4,96.0" fill="#ff1300"/>
<polygon points="166.5,97.1 170.6,96.5 175.9,94.8 171.8,95.3" fill="#fa0000"/>
<polygon points="132.9,106.0 137.0,108.5 142.3,107.0 138.2,104.7" fill="#ff6800"/>
<polygon points="99.3,103.4 103.4,106.5 108.8,104.6 104.7,101.5" fill="#ff5500"/>
<polygon points="65.8,103.0 69.9,105.8 75.2,103.0 71.1,100.1" fill="#ff4f00"/>
<polygon points="209.5,99.0 213.6,104.9 218.9,100.8 214.8,96.7" fill="#ff3100"/>
<polygon points="175.9,94.8 180.0,109.6 185.3,107.3 181.2,93.0" fill="#ffa700"/>
<polygon points="142.3,107.0 146.4,105.9 151.7,103.3 147.7,104.7" fill="#ff4a00"/>
<polygon points="108.8,104.6 112.8,106.8 118.2,105.1 114.1,102.5" fill="#ff5200"/>
<polygon points="75.2,103.0 79.3,105.4 84.6,103.2 80.5,100.1" fill="#ff4500"/>
<polygon points="185.3,107.3 189.4,102.8 194.7,100.5 190.6,105.1" fill="#ffa700"/>
<polygon points="151.7,103.3 155.8,101.9 161.2,99.3 157.1,100.4" fill="#ff1f00"/>
<polygon points="118.2,105.1 122.3,107.5 127.6,106.7 123.5,103.7" fill="#ff5100"/>
<polygon points="84.6,103.2 88.7,106.3 94.0,104.9 89.9,101.2" fill="#ff4600"/>
<polygon points="194.7,100.5 198.8,103.5 204.1,101.3 200.1,98.3" fill="#ff1300"/>
<polygon points="161.2,99.3 165.2,98.4 170.6,96.5 166.5,97.1" fill="#f70000"/>
<polygon points="127.6,106.7 131.7,109.4 137.0,108.5 132.9,106.0" fill="#ff5b00"/>
<polygon points="94.0,104.9 98.1,108.0 103.4,106.5 99.3,103.4" fill="#ff4f00"/>
<polygon points="204.1,101.3 208.2,109.0 213.6,104.9 209.5,99.0" fill="#ff3100"/>
<polygon points="170.6,96.5 174.7,111.8 180.0,109.6 175.9,94.8" fill="#f5ff0a"/>
<polygon points="137.0,108.5 141.1,108.1 146.4,105.9 142.3,107.0" fill="#ff4900"/>
<polygon points="103.4,106.5 107.5,108.7 112.8,106.8 108.8,104.6" fill="#ff4e00"/>
<polygon points="69.9,105.8 74.0,107.9 79.3,105.4 75.2,103.0" fill="#ff4700"/>
<polygon points="180.0,109.6 184.1,105.0 189.4,102.8 185.3,107.3" fill="#ffa700"/>
<polygon points="146.4,105.9 150.5,104.7 155.8,101.9 151.7,103.3" fill="#ff2400"/>
<polygon points="112.8,106.8 116.9,108.8 122.3,107.5 118.2,105.1" fill="#ff4800"/>
<polygon points="79.3,105.4 83.4,107.9 88.7,106.3 84.6,103.2" fill="#ff4000"/>
<polygon points="189.4,102.8 193.5,105.8 198.8,103.5 194.7,100.5" fill="#ff1300"/>
<polygon points="155.8,101.9 159.9,100.7 165.2,98.4 161.2,99.3" fill="#f70000"/>
<polygon points="122.3,107.5 126.4,110.1 131.7,109.4 127.6,106.7" fill="#ff4d00"/>
<polygon points="88.7,106.3 92.8,109.4 98.1,108.0 94.0,104.9" fill="#ff4700"/>
<polygon points="198.8,103.5 202.9,113.1 208.2,109.0 204.1,101.3" fill="#ff3100"/>
<polygon points="165.2,98.4 169.3,114.1 174.7,111.8 170.6,96.5" fill="#f5ff0a"/>
<polygon points="131.7,109.4 135.8,109.7 141.1,108.1 137.0,108.5" fill="#ff4300"/>
<polygon points="98.1,108.0 102.2,110.6 107.5,108.7 103.4,106.5" fill="#ff4b00"/>
<polygon points="174.7,111.8 178.8,107.3 184.1,105.0 180.0,109.6" fill="#f5ff0a"/>
<polygon points="141.1,108.1 145.2,107.5 150.5,104.7 146.4,105.9" fill="#ff2800"/>
<polygon points="107.5,108.7 111.6,110.6 116.9,108.8 112.8,106.8" fill="#ff4400"/>
<polygon points="74.0,107.9 78.0,109.8 83.4,107.9 79.3,105.4" fill="#ff3d00"/>
<polygon points="184.1,105.0 188.2,108.0 193.5,105.8 189.4,102.8" fill="#ff1300"/>
<polygon points="150.5,104.7 154.6,103.4 159.9,100.7 155.8,101.9" fill="#fb0000"/>
<polygon points="116.9,108.8 121.0,111.2 126.4,110.1 122.3,107.5" fill="#ff4300"/>
<polygon points="83.4,107.9 87.5,110.7 92.8,109.4 88.7,106.3" fill="#ff3e00"/>
<polygon points="193.5,105.8 197.6,117.2 202.9,113.1 198.8,103.5" fill="#ff3100"/>
<polygon points="159.9,100.7 164.0,116.4 169.3,114.1 165.2,98.4" fill="#f5ff0a"/>
<polygon points="126.4,110.1 130.4,111.0 135.8,109.7 131.7,109.4" fill="#ff3a00"/>
<polygon points="92.8,109.4 96.9,112.4 102.2,110.6 98.1,108.0" fill="#ff4600"/>
<polygon points="169.3,114.1 173.4,109.6 178.8,107.3 174.7,111.8" fill="#f5ff0a"/>
<polygon points="135.8,109.7 139.9,110.0 145.2,107.5 141.1,108.1" fill="#ff2a00"/>
<polygon points="102.2,110.6 106.3,112.8 111.6,110.6 107.5,108.7" fill="#ff4400"/>
<polygon points="178.8,107.3 182.8,110.3 188.2,108.0 184.1,105.0" fill="#ff1300"/>
<polygon points="145.2,107.5 149.3,106.3 154.6,103.4 150.5,104.7" fill="#ff0200"/>
<polygon points="111.6,110.6 115.7,112.9 121.0,111.2 116.9,108.8" fill="#ff3e00"/>
<polygon points="78.0,109.8 82.1,112.3 87.5,110.7 83.4,107.9" fill="#ff3800"/>
<polygon points="188.2,108.0 192.3,121.3 197.6,117.2 193.5,105.8" fill="#ff3100"/>
<polygon points="154.6,103.4 158.7,118.6 164.0,116.4 159.9,100.7" fill="#f5ff0a"/>
<polygon points="121.0,111.2 125.1,112.3 130.4,111.0 126.4,110.1" fill="#ff3100"/>
<polygon points="87.5,110.7 91.5,114.0 96.9,112.4 92.8,109.4" fill="#ff4100"/>
<polygon points="164.0,116.4 168.1,111.8 173.4,109.6 169.3,114.1" fill="#f5ff0a"/>
<polygon points="130.4,111.0 134.5,112.1 139.9,110.0 135.8,109.7" fill="#ff2900"/>
<polygon points="96.9,112.4 101.0,115.3 106.3,112.8 102.2,110.6" fill="#ff4600"/>
<polygon points="173.4,109.6 177.5,112.6 182.8,110.3 178.8,107.3" fill="#ff1300"/>
<polygon points="139.9,110.0 143.9,109.3 149.3,106.3 145.2,107.5" fill="#ff0900"/>
<polygon points="106.3,112.8 110.4,115.3 115.7,112.9 111.6,110.6" fill="#ff3f00"/>
<polygon points="182.8,110.3 186.9,125.5 192.3,121.3 188.2,108.0" fill="#ff3100"/>
<polygon points="149.3,106.3 153.4,120.9 158.7,118.6 154.6,103.4" fill="#f5ff0a"/>
<polygon points="115.7,112.9 119.8,114.0 125.1,112.3 121.0,111.2" fill="#ff2c00"/>
<polygon points="82.1,112.3 86.2,115.7 91.5,114.0 87.5,110.7" fill="#ff3c00"/>
<polygon points="158.7,118.6 162.8,114.1 168.1,111.8 164.0,116.4" fill="#f5ff0a"/>
<polygon points="125.1,112.3 129.2,114.0 134.5,112.1 130.4,111.0" fill="#ff2600"/>
<polygon points="91.5,114.0 95.6,117.6 101.0,115.3 96.9,112.4" fill="#ff4600"/>
<polygon points="168.1,111.8 172.2,114.8 177.5,112.6 173.4,109.6" fill="#ff1300"/>
<polygon points="134.5,112.1 138.6,112.1 143.9,109.3 139.9,110.0" fill="#ff0e00"/>
<polygon points="101.0,115.3 105.1,118.2 110.4,115.3 106.3,112.8" fill="#ff4500"/>
<polygon points="177.5,112.6 181.6,129.6 186.9,125.5 182.8,110.3" fill="#ff3100"/>
<polygon points="143.9,109.3 148.0,123.1 153.4,120.9 149.3,106.3" fill="#93ff6c"/>
<polygon points="110.4,115.3 114.5,116.2 119.8,114.0 115.7,112.9" fill="#ff2c00"/>
<polygon points="153.4,120.9 157.5,116.3 162.8,114.1 158.7,118.6" fill="#f5ff0a"/>
<polygon points="119.8,114.0 123.9,115.8 129.2,114.0 125.1,112.3" fill="#ff2100"/>
<polygon points="86.2,115.7 90.3,119.8 95.6,117.6 91.5,114.0" fill="#ff4500"/>
<polygon points="162.8,114.1 166.9,117.1 172.2,114.8 168.1,111.8" fill="#ff1300"/>
<polygon points="129.2,114.0 133.3,114.5 138.6,112.1 134.5,112.1" fill="#ff0f00"/>
<polygon points="95.6,117.6 99.7,121.1 105.1,118.2 101.0,115.3" fill="#ff4b00"/>
<polygon points="172.2,114.8 176.3,142.6 181.6,129.6 177.5,112.6" fill="#ff3100"/>
<polygon points="138.6,112.1 142.7,125.4 148.0,123.1 143.9,109.3" fill="#93ff6c"/>
<polygon points="105.1,118.2 109.1,119.0 114.5,116.2 110.4,115.3" fill="#ff3100"/>
<polygon points="148.0,123.1 152.1,118.6 157.5,116.3 153.4,120.9" fill="#93ff6c"/>
<polygon points="114.5,116.2 118.6,117.7 123.9,115.8 119.8,114.0" fill="#ff1e00"/>
<polygon points="157.5,116.3 161.5,119.3 166.9,117.1 162.8,114.1" fill="#ff1300"/>
<polygon points="123.9,115.8 128.0,116.4 133.3,114.5 129.2,114.0" fill="#ff0c00"/>
<polygon points="90.3,119.8 94.4,123.8 99.7,121.1 95.6,117.6" fill="#ff4f00"/>
<polygon points="166.9,117.1 171.0,144.9 176.3,142.6 172.2,114.8" fill="#ff3100"/>
<polygon points="133.3,114.5 137.4,127.7 142.7,125.4 138.6,112.1" fill="#93ff6c"/>
<polygon points="99.7,121.1 103.8,122.0 109.1,119.0 105.1,118.2" fill="#ff3700"/>
<polygon points="142.7,125.4 146.8,120.9 152.1,118.6 148.0,123.1" fill="#93ff6c"/>
<polygon points="109.1,119.0 113.2,119.9 118.6,117.7 114.5,116.2" fill="#ff1d00"/>
<polygon points="152.1,118.6 156.2,121.6 161.5,119.3 157.5,116.3" fill="#ff1300"/>
<polygon points="118.6,117.7 122.7,118.1 128.0,116.4 123.9,115.8" fill="#ff0600"/>
<polygon points="161.5,119.3 165.6,147.1 171.0,144.9 166.9,117.1" fill="#ff3100"/>
<polygon points="128.0,116.4 132.1,129.9 137.4,127.7 133.3,114.5" fill="#93ff6c"/>
<polygon points="94.4,123.8 98.5,124.9 103.8,122.0 99.7,121.1" fill="#ff3d00"/>
<polygon points="137.4,127.7 141.5,123.1 146.8,120.9 142.7,125.4" fill="#93ff6c"/>
<polygon points="103.8,122.0 107.9,122.4 113.2,119.9 109.1,119.0" fill="#ff2000"/>
<polygon points="146.8,120.9 150.9,123.9 156.2,121.6 152.1,118.6" fill="#ff1300"/>
<polygon points="113.2,119.9 117.3,119.7 122.7,118.1 118.6,117.7" fill="#ff0000"/>
<polygon points="156.2,121.6 160.3,149.4 165.6,147.1 161.5,119.3" fill="#ff3100"/>
<polygon points="122.7,118.1 126.7,132.2 132.1,129.9 128.0,116.4" fill="#00cdff"/>
<polygon points="132.1,129.9 136.2,125.4 141.5,123.1 137.4,127.7" fill="#93ff6c"/>
<polygon points="98.5,124.9 102.6,125.0 107.9,122.4 103.8,122.0" fill="#ff2300"/>
<polygon points="141.5,123.1 145.6,126.1 150.9,123.9 146.8,120.9" fill="#ff1300"/>
<polygon points="107.9,122.4 112.0,121.5 117.3,119.7 113.2,119.9" fill="#fb0000"/>
<polygon points="150.9,123.9 155.0,164.6 160.3,149.4 156.2,121.6" fill="#ff3100"/>
<polygon points="117.3,119.7 121.4,134.4 126.7,132.2 122.7,118.1" fill="#00cdff"/>
<polygon points="126.7,132.2 130.8,127.6 136.2,125.4 132.1,129.9" fill="#00cdff"/>
<polygon points="136.2,125.4 140.2,128.4 145.6,126.1 141.5,123.1" fill="#ff1300"/>
<polygon points="102.6,125.0 106.7,123.7 112.0,121.5 107.9,122.4" fill="#fa0000"/>
<polygon points="145.6,126.1 149.7,166.8 155.0,164.6 150.9,123.9" fill="#ff3100"/>
<polygon points="112.0,121.5 116.1,136.7 121.4,134.4 117.3,119.7" fill="#00cdff"/>
<polygon points="121.4,134.4 125.5,129.9 130.8,127.6 126.7,132.2" fill="#00cdff"/>
<polygon points="130.8,127.6 134.9,130.6 140.2,128.4 136.2,125.4" fill="#ff1300"/>
<polygon points="140.2,128.4 144.3,169.1 149.7,166.8 145.6,126.1" fill="#ff3100"/>
<polygon points="106.7,123.7 110.8,139.0 116.1,136.7 112.0,121.5" fill="#00cdff"/>
<polygon points="116.1,136.7 120.2,132.2 125.5,129.9 121.4,134.4" fill="#00cdff"/>
<polygon points="125.5,129.9 129.6,132.9 134.9,130.6 130.8,127.6" fill="#ff1300"/>
<polygon points="134.9,130.6 139.0,171.3 144.3,169.1 140.2,128.4" fill="#ff3100"/>
<polygon points="110.8,139.0 114.9,134.4 120.2,132.2 116.1,136.7" fill="#00cdff"/>
<polygon points="120.2,132.2 124.3,135.2 129.6,132.9 125.5,129.9" fill="#ff1300"/>
<polygon points="129.6,132.9 133.7,173.6 139.0,171.3 134.9,130.6" fill="#ff3100"/>
<polygon points="114.9,134.4 118.9,137.4 124.3,135.2 120.2,132.2" fill="#ff1300"/>
<polygon points="124.3,135.2 128.4,175.9 133.7,173.6 129.6,132.9" fill="#ff3100"/>
<polygon points="118.9,137.4 123.0,178.1 128.4,175.9 124.3,135.2" fill="#ff3100"/>
<polygon points="102.8,112.6 110.0,114.2 111.0,222.4 106.9,220.9" fill="#000080"/>
<polygon points="110.0,114.2 116.3,131.4 114.0,223.0 111.0,222.4" fill="#ff3300"/>
</g>
<defs><linearGradient id="jg2" x1="0" y1="1" x2="0" y2="0">
<stop offset="0.000" stop-color="#000080"/>
<stop offset="0.125" stop-color="#0000ff"/>
<stop offset="0.250" stop-color="#0080ff"/>
<stop offset="0.375" stop-color="#00ffff"/>
<stop offset="0.500" stop-color="#80ff80"/>
<stop offset="0.625" stop-color="#ffff00"/>
<stop offset="0.750" stop-color="#ff8000"/>
<stop offset="0.875" stop-color="#ff0000"/>
<stop offset="1.000" stop-color="#800000"/>
</linearGradient></defs>
<rect x="248.5" y="21.2" width="10.5" height="232.9" fill="url(#jg2)" stroke="#333" stroke-width="0.6"/>
<g font-family="Liberation Sans" font-size="8.5" fill="#333">
<line x1="257.5" y1="245.6" x2="259.0" y2="245.6" stroke="#333" stroke-width="0.6"/>
<text transform="translate(261.50 248.57) scale(0.82 1)">-0.8</text>
<line x1="257.5" y1="223.1" x2="259.0" y2="223.1" stroke="#333" stroke-width="0.6"/>
<text transform="translate(261.50 226.11) scale(0.82 1)">-0.7</text>
<line x1="257.5" y1="200.6" x2="259.0" y2="200.6" stroke="#333" stroke-width="0.6"/>
<text transform="translate(261.50 203.65) scale(0.82 1)">-0.6</text>
<line x1="257.5" y1="178.2" x2="259.0" y2="178.2" stroke="#333" stroke-width="0.6"/>
<text transform="translate(261.50 181.19) scale(0.82 1)">-0.5</text>
<line x1="257.5" y1="155.7" x2="259.0" y2="155.7" stroke="#333" stroke-width="0.6"/>
<text transform="translate(261.50 158.73) scale(0.82 1)">-0.4</text>
<line x1="257.5" y1="133.3" x2="259.0" y2="133.3" stroke="#333" stroke-width="0.6"/>
<text transform="translate(261.50 136.27) scale(0.82 1)">-0.3</text>
<line x1="257.5" y1="110.8" x2="259.0" y2="110.8" stroke="#333" stroke-width="0.6"/>
<text transform="translate(261.50 113.81) scale(0.82 1)">-0.2</text>
<line x1="257.5" y1="88.4" x2="259.0" y2="88.4" stroke="#333" stroke-width="0.6"/>
<text transform="translate(261.50 91.35) scale(0.82 1)">-0.1</text>
<line x1="257.5" y1="65.9" x2="259.0" y2="65.9" stroke="#333" stroke-width="0.6"/>
<text transform="translate(261.50 68.89) scale(0.82 1)">0</text>
<line x1="257.5" y1="43.4" x2="259.0" y2="43.4" stroke="#333" stroke-width="0.6"/>
<text transform="translate(261.50 46.43) scale(0.82 1)">0.1</text>
</g>
<g font-family="Liberation Sans" font-size="10.0" fill="#3a3a3a">
<text transform="translate(61.70 276.30) scale(0.75 1)">BTC</text>
<text transform="translate(172.50 279.20) scale(0.75 1)">GPR</text>
</g>
<g font-family="Liberation Sans" font-size="8.5" fill="#444">
<text transform="translate(39.59 202.50) rotate(-63.0) scale(0.90 1)" font-size="9.0" text-anchor="end">0.05</text>
<text transform="translate(128.82 257.64) rotate(75.0) scale(0.90 1)">0.05</text>
<text transform="translate(43.68 205.50) rotate(-63.0) scale(0.90 1)" font-size="9.0" text-anchor="end">0.1</text>
<text transform="translate(134.15 255.38) rotate(75.0) scale(0.90 1)">0.1</text>
<text transform="translate(47.77 208.50) rotate(-63.0) scale(0.90 1)" font-size="9.0" text-anchor="end">0.15</text>
<text transform="translate(139.47 253.12) rotate(75.0) scale(0.90 1)">0.15</text>
<text transform="translate(51.86 211.50) rotate(-63.0) scale(0.90 1)" font-size="9.0" text-anchor="end">0.2</text>
<text transform="translate(144.80 250.86) rotate(75.0) scale(0.90 1)">0.2</text>
<text transform="translate(55.95 214.50) rotate(-63.0) scale(0.90 1)" font-size="9.0" text-anchor="end">0.25</text>
<text transform="translate(150.12 248.60) rotate(75.0) scale(0.90 1)">0.25</text>
<text transform="translate(60.04 217.50) rotate(-63.0) scale(0.90 1)" font-size="9.0" text-anchor="end">0.3</text>
<text transform="translate(155.45 246.34) rotate(75.0) scale(0.90 1)">0.3</text>
<text transform="translate(64.13 220.50) rotate(-63.0) scale(0.90 1)" font-size="9.0" text-anchor="end">0.35</text>
<text transform="translate(160.77 244.08) rotate(75.0) scale(0.90 1)">0.35</text>
<text transform="translate(68.22 223.50) rotate(-63.0) scale(0.90 1)" font-size="9.0" text-anchor="end">0.4</text>
<text transform="translate(166.10 241.82) rotate(75.0) scale(0.90 1)">0.4</text>
<text transform="translate(72.31 226.50) rotate(-63.0) scale(0.90 1)" font-size="9.0" text-anchor="end">0.45</text>
<text transform="translate(171.42 239.56) rotate(75.0) scale(0.90 1)">0.45</text>
<text transform="translate(76.40 229.50) rotate(-63.0) scale(0.90 1)" font-size="9.0" text-anchor="end">0.5</text>
<text transform="translate(176.75 237.30) rotate(75.0) scale(0.90 1)">0.5</text>
<text transform="translate(80.49 232.50) rotate(-63.0) scale(0.90 1)" font-size="9.0" text-anchor="end">0.55</text>
<text transform="translate(182.07 235.04) rotate(75.0) scale(0.90 1)">0.55</text>
<text transform="translate(84.58 235.50) rotate(-63.0) scale(0.90 1)" font-size="9.0" text-anchor="end">0.6</text>
<text transform="translate(187.40 232.78) rotate(75.0) scale(0.90 1)">0.6</text>
<text transform="translate(88.67 238.50) rotate(-63.0) scale(0.90 1)" font-size="9.0" text-anchor="end">0.65</text>
<text transform="translate(192.72 230.52) rotate(75.0) scale(0.90 1)">0.65</text>
<text transform="translate(92.76 241.50) rotate(-63.0) scale(0.90 1)" font-size="9.0" text-anchor="end">0.7</text>
<text transform="translate(198.05 228.26) rotate(75.0) scale(0.90 1)">0.7</text>
<text transform="translate(96.85 244.50) rotate(-63.0) scale(0.90 1)" font-size="9.0" text-anchor="end">0.75</text>
<text transform="translate(203.38 226.00) rotate(75.0) scale(0.90 1)">0.75</text>
<text transform="translate(100.94 247.50) rotate(-63.0) scale(0.90 1)" font-size="9.0" text-anchor="end">0.8</text>
<text transform="translate(208.70 223.74) rotate(75.0) scale(0.90 1)">0.8</text>
<text transform="translate(105.03 250.50) rotate(-63.0) scale(0.90 1)" font-size="9.0" text-anchor="end">0.85</text>
<text transform="translate(214.02 221.48) rotate(75.0) scale(0.90 1)">0.85</text>
<text transform="translate(109.12 253.50) rotate(-63.0) scale(0.90 1)" font-size="9.0" text-anchor="end">0.9</text>
<text transform="translate(219.35 219.22) rotate(75.0) scale(0.90 1)">0.9</text>
<text transform="translate(113.21 256.50) rotate(-63.0) scale(0.90 1)" font-size="9.0" text-anchor="end">0.95</text>
<text transform="translate(224.68 216.96) rotate(75.0) scale(0.90 1)">0.95</text>
</g>
<text x="152.6" y="305.8" font-family="Liberation Serif" font-weight="bold" font-size="20.1" fill="#000" text-anchor="middle">GPR on BTC</text></g>
<g transform="translate(600,0)"><g stroke="#dcdcdc" stroke-width="0.6" fill="none">
<line x1="40.4" y1="194.4" x2="146.7" y2="149.2"/>
<line x1="40.4" y1="194.4" x2="122.0" y2="254.5"/>
<line x1="40.4" y1="194.4" x2="40.4" y2="65.7"/>
<line x1="146.7" y1="149.2" x2="146.7" y2="20.5"/>
<line x1="44.5" y1="197.4" x2="150.8" y2="152.2"/>
<line x1="45.7" y1="192.1" x2="127.3" y2="252.2"/>
<line x1="45.7" y1="192.1" x2="45.7" y2="63.4"/>
<line x1="150.8" y1="152.2" x2="150.8" y2="23.5"/>
<line x1="48.6" y1="200.4" x2="154.9" y2="155.2"/>
<line x1="51.0" y1="189.9" x2="132.6" y2="250.0"/>
<line x1="51.0" y1="189.9" x2="51.0" y2="61.2"/>
<line x1="154.9" y1="155.2" x2="154.9" y2="26.5"/>
<line x1="52.6" y1="203.4" x2="158.9" y2="158.2"/>
<line x1="56.3" y1="187.6" x2="137.9" y2="247.7"/>
<line x1="56.3" y1="187.6" x2="56.3" y2="58.9"/>
<line x1="158.9" y1="158.2" x2="158.9" y2="29.5"/>
<line x1="56.7" y1="206.4" x2="163.0" y2="161.2"/>
<line x1="61.7" y1="185.4" x2="143.3" y2="245.5"/>
<line x1="61.7" y1="185.4" x2="61.7" y2="56.7"/>
<line x1="163.0" y1="161.2" x2="163.0" y2="32.5"/>
<line x1="60.8" y1="209.4" x2="167.1" y2="164.2"/>
<line x1="67.0" y1="183.1" x2="148.6" y2="243.2"/>
<line x1="67.0" y1="183.1" x2="67.0" y2="54.4"/>
<line x1="167.1" y1="164.2" x2="167.1" y2="35.5"/>
<line x1="64.9" y1="212.4" x2="171.2" y2="167.2"/>
<line x1="72.3" y1="180.8" x2="153.9" y2="240.9"/>
<line x1="72.3" y1="180.8" x2="72.3" y2="52.1"/>
<line x1="171.2" y1="167.2" x2="171.2" y2="38.5"/>
<line x1="69.0" y1="215.4" x2="175.3" y2="170.2"/>
<line x1="77.6" y1="178.6" x2="159.2" y2="238.7"/>
<line x1="77.6" y1="178.6" x2="77.6" y2="49.9"/>
<line x1="175.3" y1="170.2" x2="175.3" y2="41.5"/>
<line x1="73.0" y1="218.4" x2="179.3" y2="173.2"/>
<line x1="82.9" y1="176.3" x2="164.5" y2="236.4"/>
<line x1="82.9" y1="176.3" x2="82.9" y2="47.6"/>
<line x1="179.3" y1="173.2" x2="179.3" y2="44.5"/>
<line x1="77.1" y1="221.4" x2="183.4" y2="176.2"/>
<line x1="88.2" y1="174.1" x2="169.8" y2="234.2"/>
<line x1="88.2" y1="174.1" x2="88.2" y2="45.4"/>
<line x1="183.4" y1="176.2" x2="183.4" y2="47.5"/>
<line x1="81.2" y1="224.4" x2="187.5" y2="179.2"/>
<line x1="93.6" y1="171.8" x2="175.2" y2="231.9"/>
<line x1="93.6" y1="171.8" x2="93.6" y2="43.1"/>
<line x1="187.5" y1="179.2" x2="187.5" y2="50.6"/>
<line x1="85.3" y1="227.5" x2="191.6" y2="182.3"/>
<line x1="98.9" y1="169.5" x2="180.5" y2="229.6"/>
<line x1="98.9" y1="169.5" x2="98.9" y2="40.8"/>
<line x1="191.6" y1="182.3" x2="191.6" y2="53.6"/>
<line x1="89.4" y1="230.5" x2="195.7" y2="185.3"/>
<line x1="104.2" y1="167.3" x2="185.8" y2="227.4"/>
<line x1="104.2" y1="167.3" x2="104.2" y2="38.6"/>
<line x1="195.7" y1="185.3" x2="195.7" y2="56.6"/>
<line x1="93.4" y1="233.5" x2="199.7" y2="188.3"/>
<line x1="109.5" y1="165.0" x2="191.1" y2="225.1"/>
<line x1="109.5" y1="165.0" x2="109.5" y2="36.3"/>
<line x1="199.7" y1="188.3" x2="199.7" y2="59.6"/>
<line x1="97.5" y1="236.5" x2="203.8" y2="191.3"/>
<line x1="114.8" y1="162.8" x2="196.4" y2="222.9"/>
<line x1="114.8" y1="162.8" x2="114.8" y2="34.1"/>
<line x1="203.8" y1="191.3" x2="203.8" y2="62.6"/>
<line x1="101.6" y1="239.5" x2="207.9" y2="194.3"/>
<line x1="120.1" y1="160.5" x2="201.7" y2="220.6"/>
<line x1="120.1" y1="160.5" x2="120.1" y2="31.8"/>
<line x1="207.9" y1="194.3" x2="207.9" y2="65.6"/>
<line x1="105.7" y1="242.5" x2="212.0" y2="197.3"/>
<line x1="125.4" y1="158.2" x2="207.0" y2="218.3"/>
<line x1="125.4" y1="158.2" x2="125.4" y2="29.5"/>
<line x1="212.0" y1="197.3" x2="212.0" y2="68.6"/>
<line x1="109.8" y1="245.5" x2="216.1" y2="200.3"/>
<line x1="130.8" y1="156.0" x2="212.4" y2="216.1"/>
<line x1="130.8" y1="156.0" x2="130.8" y2="27.3"/>
<line x1="216.1" y1="200.3" x2="216.1" y2="71.6"/>
<line x1="113.8" y1="248.5" x2="220.1" y2="203.3"/>
<line x1="136.1" y1="153.7" x2="217.7" y2="213.8"/>
<line x1="136.1" y1="153.7" x2="136.1" y2="25.0"/>
<line x1="220.1" y1="203.3" x2="220.1" y2="74.6"/>
<line x1="117.9" y1="251.5" x2="224.2" y2="206.3"/>
<line x1="141.4" y1="151.5" x2="223.0" y2="211.6"/>
<line x1="141.4" y1="151.5" x2="141.4" y2="22.8"/>
<line x1="224.2" y1="206.3" x2="224.2" y2="77.6"/>
<line x1="122.0" y1="254.5" x2="228.3" y2="209.3"/>
<line x1="146.7" y1="149.2" x2="228.3" y2="209.3"/>
<line x1="146.7" y1="149.2" x2="146.7" y2="20.5"/>
<line x1="228.3" y1="209.3" x2="228.3" y2="80.6"/>
<polyline points="40.4,194.4 146.7,149.2 228.3,209.3" stroke="#d2d2d2"/>
<polyline points="40.4,162.2 146.7,117.0 228.3,177.1" stroke="#d2d2d2"/>
<polyline points="40.4,130.1 146.7,84.9 228.3,145.0" stroke="#d2d2d2"/>
<polyline points="40.4,97.9 146.7,52.7 228.3,112.8" stroke="#d2d2d2"/>
<polyline points="40.4,65.7 146.7,20.5 228.3,80.6" stroke="#d2d2d2"/>
<polyline points="40.4,65.7 146.7,20.5 228.3,80.6" stroke="#d2d2d2"/>
</g>
<g stroke="#5a5a5a" stroke-width="0.7" fill="none">
<polyline points="40.4,194.4 122.0,254.5 228.3,209.3"/>
<polyline points="40.4,194.4 40.4,65.7"/>
<line x1="44.5" y1="197.4" x2="42.3" y2="198.6"/>
<line x1="127.3" y1="252.2" x2="127.3" y2="254.4"/>
<line x1="48.6" y1="200.4" x2="46.4" y2="201.6"/>
<line x1="132.6" y1="250.0" x2="132.6" y2="252.2"/>
<line x1="52.6" y1="203.4" x2="50.4" y2="204.6"/>
<line x1="137.9" y1="247.7" x2="137.9" y2="249.9"/>
<line x1="56.7" y1="206.4" x2="54.5" y2="207.6"/>
<line x1="143.3" y1="245.5" x2="143.3" y2="247.7"/>
<line x1="60.8" y1="209.4" x2="58.6" y2="210.6"/>
<line x1="148.6" y1="243.2" x2="148.6" y2="245.4"/>
<line x1="64.9" y1="212.4" x2="62.7" y2="213.6"/>
<line x1="153.9" y1="240.9" x2="153.9" y2="243.1"/>
<line x1="69.0" y1="215.4" x2="66.8" y2="216.6"/>
<line x1="159.2" y1="238.7" x2="159.2" y2="240.9"/>
<line x1="73.0" y1="218.4" x2="70.8" y2="219.6"/>
<line x1="164.5" y1="236.4" x2="164.5" y2="238.6"/>
<line x1="77.1" y1="221.4" x2="74.9" y2="222.6"/>
<line x1="169.8" y1="234.2" x2="169.8" y2="236.4"/>
<line x1="81.2" y1="224.4" x2="79.0" y2="225.6"/>
<line x1="175.2" y1="231.9" x2="175.2" y2="234.1"/>
<line x1="85.3" y1="227.5" x2="83.1" y2="228.7"/>
<line x1="180.5" y1="229.6" x2="180.5" y2="231.8"/>
<line x1="89.4" y1="230.5" x2="87.2" y2="231.7"/>
<line x1="185.8" y1="227.4" x2="185.8" y2="229.6"/>
<line x1="93.4" y1="233.5" x2="91.2" y2="234.7"/>
<line x1="191.1" y1="225.1" x2="191.1" y2="227.3"/>
<line x1="97.5" y1="236.5" x2="95.3" y2="237.7"/>
<line x1="196.4" y1="222.9" x2="196.4" y2="225.1"/>
<line x1="101.6" y1="239.5" x2="99.4" y2="240.7"/>
<line x1="201.7" y1="220.6" x2="201.7" y2="222.8"/>
<line x1="105.7" y1="242.5" x2="103.5" y2="243.7"/>
<line x1="207.0" y1="218.3" x2="207.0" y2="220.5"/>
<line x1="109.8" y1="245.5" x2="107.6" y2="246.7"/>
<line x1="212.4" y1="216.1" x2="212.4" y2="218.3"/>
<line x1="113.8" y1="248.5" x2="111.6" y2="249.7"/>
<line x1="217.7" y1="213.8" x2="217.7" y2="216.0"/>
<line x1="117.9" y1="251.5" x2="115.7" y2="252.7"/>
<line x1="223.0" y1="211.6" x2="223.0" y2="213.8"/>
<line x1="40.4" y1="194.4" x2="37.9" y2="194.4"/>
<line x1="40.4" y1="162.2" x2="37.9" y2="162.2"/>
<line x1="40.4" y1="130.1" x2="37.9" y2="130.1"/>
<line x1="40.4" y1="97.9" x2="37.9" y2="97.9"/>
<line x1="40.4" y1="65.7" x2="37.9" y2="65.7"/>
</g>
<g font-family="Liberation Sans" font-size="8.5" fill="#333" text-anchor="end">
<text transform="translate(36.40 197.60) scale(0.82 1)" text-anchor="end">0</text>
<text transform="translate(36.40 165.43) scale(0.82 1)" text-anchor="end">0.1</text>
<text transform="translate(36.40 133.25) scale(0.82 1)" text-anchor="end">0.2</text>
<text transform="translate(36.40 101.08) scale(0.82 1)" text-anchor="end">0.3</text>
<text transform="translate(36.40 68.90) scale(0.82 1)" text-anchor="end">0.4</text>
</g>
<g stroke="#000" stroke-width="0.45" stroke-linejoin="round">
<polygon points="140.2,140.6 144.2,140.0 149.5,138.6 145.5,139.3" fill="#0000e0"/>
<polygon points="134.8,140.9 138.9,141.2 144.2,140.0 140.2,140.6" fill="#0000ed"/>
<polygon points="144.2,140.0 148.3,140.3 153.6,139.9 149.5,138.6" fill="#0000f8"/>
<polygon points="129.5,140.6 133.6,141.8 138.9,141.2 134.8,140.9" fill="#0000fe"/>
<polygon points="138.9,141.2 143.0,141.6 148.3,140.3 144.2,140.0" fill="#0000ff"/>
<polygon points="148.3,140.3 152.4,142.7 157.7,144.0 153.6,139.9" fill="#000aff"/>
<polygon points="124.2,141.8 128.3,142.4 133.6,141.8 129.5,140.6" fill="#0006ff"/>
<polygon points="133.6,141.8 137.7,142.8 143.0,141.6 138.9,141.2" fill="#000bff"/>
<polygon points="143.0,141.6 147.1,142.2 152.4,142.7 148.3,140.3" fill="#0011ff"/>
<polygon points="152.4,142.7 156.5,142.4 161.8,146.2 157.7,144.0" fill="#000fff"/>
<polygon points="118.9,144.0 123.0,143.0 128.3,142.4 124.2,141.8" fill="#0006ff"/>
<polygon points="128.3,142.4 132.4,143.6 137.7,142.8 133.6,141.8" fill="#0016ff"/>
<polygon points="137.7,142.8 141.8,142.4 147.1,142.2 143.0,141.6" fill="#0018ff"/>
<polygon points="147.1,142.2 151.2,138.5 156.5,142.4 152.4,142.7" fill="#0021ff"/>
<polygon points="113.6,147.3 117.7,144.3 123.0,143.0 118.9,144.0" fill="#0000fe"/>
<polygon points="156.5,142.4 160.6,140.7 165.9,145.7 161.8,146.2" fill="#0024ff"/>
<polygon points="123.0,143.0 127.0,143.3 132.4,143.6 128.3,142.4" fill="#0021ff"/>
<polygon points="132.4,143.6 136.4,142.5 141.8,142.4 137.7,142.8" fill="#0022ff"/>
<polygon points="141.8,142.4 145.8,135.3 151.2,138.5 147.1,142.2" fill="#002fff"/>
<polygon points="108.3,153.2 112.3,149.8 117.7,144.3 113.6,147.3" fill="#0000e6"/>
<polygon points="151.2,138.5 155.2,134.8 160.6,140.7 156.5,142.4" fill="#004dff"/>
<polygon points="117.7,144.3 121.7,142.4 127.0,143.3 123.0,143.0" fill="#0027ff"/>
<polygon points="160.6,140.7 164.6,137.2 169.9,143.0 165.9,145.7" fill="#0043ff"/>
<polygon points="127.0,143.3 131.1,141.8 136.4,142.5 132.4,143.6" fill="#0033ff"/>
<polygon points="136.4,142.5 140.5,134.2 145.8,135.3 141.8,142.4" fill="#003dff"/>
<polygon points="102.9,158.7 107.0,155.7 112.3,149.8 108.3,153.2" fill="#0000d1"/>
<polygon points="145.8,135.3 149.9,128.7 155.2,134.8 151.2,138.5" fill="#0072ff"/>
<polygon points="112.3,149.8 116.4,146.2 121.7,142.4 117.7,144.3" fill="#0012ff"/>
<polygon points="155.2,134.8 159.3,130.9 164.6,137.2 160.6,140.7" fill="#007aff"/>
<polygon points="121.7,142.4 125.8,139.9 131.1,141.8 127.0,143.3" fill="#0047ff"/>
<polygon points="164.6,137.2 168.7,141.9 174.0,146.2 169.9,143.0" fill="#006fff"/>
<polygon points="131.1,141.8 135.2,133.5 140.5,134.2 136.4,142.5" fill="#0051ff"/>
<polygon points="97.6,163.2 101.7,161.0 107.0,155.7 102.9,158.7" fill="#0000c2"/>
<polygon points="140.5,134.2 144.6,126.2 149.9,128.7 145.8,135.3" fill="#0088ff"/>
<polygon points="107.0,155.7 111.1,150.8 116.4,146.2 112.3,149.8" fill="#0000f9"/>
<polygon points="149.9,128.7 154.0,123.9 159.3,130.9 155.2,134.8" fill="#00b1ff"/>
<polygon points="116.4,146.2 120.5,142.7 125.8,139.9 121.7,142.4" fill="#003dff"/>
<polygon points="159.3,130.9 163.4,138.1 168.7,141.9 164.6,137.2" fill="#00a7ff"/>
<polygon points="125.8,139.9 129.9,132.4 135.2,133.5 131.1,141.8" fill="#006cff"/>
<polygon points="92.3,166.4 96.4,166.6 101.7,161.0 97.6,163.2" fill="#0000bc"/>
<polygon points="168.7,141.9 172.8,148.4 178.1,152.4 174.0,146.2" fill="#0063ff"/>
<polygon points="135.2,133.5 139.3,124.8 144.6,126.2 140.5,134.2" fill="#009bff"/>
<polygon points="101.7,161.0 105.8,155.9 111.1,150.8 107.0,155.7" fill="#0000e4"/>
<polygon points="144.6,126.2 148.7,120.9 154.0,123.9 149.9,128.7" fill="#00d1ff"/>
<polygon points="111.1,150.8 115.2,145.8 120.5,142.7 116.4,146.2" fill="#002eff"/>
<polygon points="154.0,123.9 158.1,133.8 163.4,138.1 159.3,130.9" fill="#00e5ff"/>
<polygon points="120.5,142.7 124.6,135.7 129.9,132.4 125.8,139.9" fill="#0069ff"/>
<polygon points="87.0,169.7 91.1,171.3 96.4,166.6 92.3,166.4" fill="#0000b5"/>
<polygon points="163.4,138.1 167.5,145.4 172.8,148.4 168.7,141.9" fill="#008cff"/>
<polygon points="129.9,132.4 134.0,124.2 139.3,124.8 135.2,133.5" fill="#00b2ff"/>
<polygon points="96.4,166.6 100.5,164.2 105.8,155.9 101.7,161.0" fill="#0000ce"/>
<polygon points="172.8,148.4 176.9,156.4 182.2,160.3 178.1,152.4" fill="#004cff"/>
<polygon points="139.3,124.8 143.4,118.4 148.7,120.9 144.6,126.2" fill="#00e9ff"/>
<polygon points="105.8,155.9 109.9,149.8 115.2,145.8 111.1,150.8" fill="#001bff"/>
<polygon points="148.7,120.9 152.8,132.5 158.1,133.8 154.0,123.9" fill="#09fff6"/>
<polygon points="115.2,145.8 119.3,138.5 124.6,135.7 120.5,142.7" fill="#0063ff"/>
<polygon points="81.7,173.6 85.8,175.7 91.1,171.3 87.0,169.7" fill="#0000aa"/>
<polygon points="158.1,133.8 162.2,142.7 167.5,145.4 163.4,138.1" fill="#00b7ff"/>
<polygon points="124.6,135.7 128.7,128.9 134.0,124.2 129.9,132.4" fill="#00abff"/>
<polygon points="91.1,171.3 95.2,171.6 100.5,164.2 96.4,166.6" fill="#00008f"/>
<polygon points="167.5,145.4 171.6,152.8 176.9,156.4 172.8,148.4" fill="#0070ff"/>
<polygon points="134.0,124.2 138.1,117.1 143.4,118.4 139.3,124.8" fill="#00fcff"/>
<polygon points="100.5,164.2 104.6,160.2 109.9,149.8 105.8,155.9" fill="#0000f2"/>
<polygon points="176.9,156.4 180.9,163.8 186.3,166.6 182.2,160.3" fill="#002cff"/>
<polygon points="143.4,118.4 147.4,130.6 152.8,132.5 148.7,120.9" fill="#0afff5"/>
<polygon points="109.9,149.8 113.9,141.6 119.3,138.5 115.2,145.8" fill="#0057ff"/>
<polygon points="76.4,176.1 80.5,177.1 85.8,175.7 81.7,173.6" fill="#0000a8"/>
<polygon points="152.8,132.5 156.8,143.1 162.2,142.7 158.1,133.8" fill="#00cfff"/>
<polygon points="119.3,138.5 123.3,123.2 128.7,128.9 124.6,135.7" fill="#00a7ff"/>
<polygon points="85.8,175.7 89.8,178.1 95.2,171.6 91.1,171.3" fill="#000081"/>
<polygon points="162.2,142.7 166.2,150.0 171.6,152.8 167.5,145.4" fill="#0090ff"/>
<polygon points="128.7,128.9 132.7,111.1 138.1,117.1 134.0,124.2" fill="#00ecff"/>
<polygon points="95.2,171.6 99.2,170.8 104.6,160.2 100.5,164.2" fill="#00009f"/>
<polygon points="171.6,152.8 175.6,160.2 180.9,163.8 176.9,156.4" fill="#0052ff"/>
<polygon points="138.1,117.1 142.1,128.8 147.4,130.6 143.4,118.4" fill="#0afff5"/>
<polygon points="104.6,160.2 108.6,154.2 113.9,141.6 109.9,149.8" fill="#0022ff"/>
<polygon points="71.1,178.7 75.1,179.5 80.5,177.1 76.4,176.1" fill="#0000a6"/>
<polygon points="180.9,163.8 185.0,169.2 190.3,170.0 186.3,166.6" fill="#000eff"/>
<polygon points="147.4,130.6 151.5,142.5 156.8,143.1 152.8,132.5" fill="#00eaff"/>
<polygon points="113.9,141.6 118.0,115.8 123.3,123.2 119.3,138.5" fill="#00a2ff"/>
<polygon points="80.5,177.1 84.5,179.5 89.8,178.1 85.8,175.7" fill="#000086"/>
<polygon points="156.8,143.1 160.9,150.9 166.2,150.0 162.2,142.7" fill="#009cff"/>
<polygon points="123.3,123.2 127.4,100.5 132.7,111.1 128.7,128.9" fill="#0afff5"/>
<polygon points="89.8,178.1 93.9,181.0 99.2,170.8 95.2,171.6" fill="#000085"/>
<polygon points="166.2,150.0 170.3,156.9 175.6,160.2 171.6,152.8" fill="#0074ff"/>
<polygon points="132.7,111.1 136.8,132.7 142.1,128.8 138.1,117.1" fill="#0afff5"/>
<polygon points="99.2,170.8 103.3,168.0 108.6,154.2 104.6,160.2" fill="#00009f"/>
<polygon points="65.7,180.6 69.8,182.4 75.1,179.5 71.1,178.7" fill="#0000a9"/>
<polygon points="175.6,160.2 179.7,167.5 185.0,169.2 180.9,163.8" fill="#0035ff"/>
<polygon points="142.1,128.8 146.2,140.8 151.5,142.5 147.4,130.6" fill="#06fff9"/>
<polygon points="108.6,154.2 112.7,151.1 118.0,115.8 113.9,141.6" fill="#005dff"/>
<polygon points="75.1,179.5 79.2,181.5 84.5,179.5 80.5,177.1" fill="#000085"/>
<polygon points="185.0,169.2 189.1,173.6 194.4,172.5 190.3,170.0" fill="#0000fd"/>
<polygon points="151.5,142.5 155.6,151.5 160.9,150.9 156.8,143.1" fill="#00b0ff"/>
<polygon points="118.0,115.8 122.1,130.8 127.4,100.5 123.3,123.2" fill="#0afff5"/>
<polygon points="84.5,179.5 88.6,183.9 93.9,181.0 89.8,178.1" fill="#00008b"/>
<polygon points="160.9,150.9 165.0,157.0 170.3,156.9 166.2,150.0" fill="#007dff"/>
<polygon points="127.4,100.5 131.5,122.8 136.8,132.7 132.7,111.1" fill="#0afff5"/>
<polygon points="93.9,181.0 98.0,182.2 103.3,168.0 99.2,170.8" fill="#000086"/>
<polygon points="60.4,177.8 64.5,180.8 69.8,182.4 65.7,180.6" fill="#0000ca"/>
<polygon points="170.3,156.9 174.4,165.2 179.7,167.5 175.6,160.2" fill="#005aff"/>
<polygon points="136.8,132.7 140.9,143.5 146.2,140.8 142.1,128.8" fill="#00faff"/>
<polygon points="103.3,168.0 107.4,166.6 112.7,151.1 108.6,154.2" fill="#00009f"/>
<polygon points="69.8,182.4 73.9,184.7 79.2,181.5 75.1,179.5" fill="#000081"/>
<polygon points="179.7,167.5 183.8,174.6 189.1,173.6 185.0,169.2" fill="#0019ff"/>
<polygon points="146.2,140.8 150.3,151.2 155.6,151.5 151.5,142.5" fill="#00caff"/>
<polygon points="112.7,151.1 116.8,148.6 122.1,130.8 118.0,115.8" fill="#0086ff"/>
<polygon points="79.2,181.5 83.3,186.5 88.6,183.9 84.5,179.5" fill="#00008c"/>
<polygon points="189.1,173.6 193.2,176.6 198.5,175.2 194.4,172.5" fill="#0000f4"/>
<polygon points="155.6,151.5 159.7,157.9 165.0,157.0 160.9,150.9" fill="#0088ff"/>
<polygon points="122.1,130.8 126.2,142.0 131.5,122.8 127.4,100.5" fill="#0afff5"/>
<polygon points="88.6,183.9 92.7,187.6 98.0,182.2 93.9,181.0" fill="#000081"/>
<polygon points="55.1,160.7 59.2,163.7 64.5,180.8 60.4,177.8" fill="#0000ce"/>
<polygon points="165.0,157.0 169.1,164.9 174.4,165.2 170.3,156.9" fill="#0069ff"/>
<polygon points="131.5,122.8 135.6,146.8 140.9,143.5 136.8,132.7" fill="#0afff5"/>
<polygon points="98.0,182.2 102.1,183.0 107.4,166.6 103.3,168.0" fill="#000091"/>
<polygon points="64.5,180.8 68.6,183.8 73.9,184.7 69.8,182.4" fill="#00009b"/>
<polygon points="174.4,165.2 178.5,174.9 183.8,174.6 179.7,167.5" fill="#0037ff"/>
<polygon points="140.9,143.5 145.0,154.3 150.3,151.2 146.2,140.8" fill="#00c7ff"/>
<polygon points="107.4,166.6 111.5,165.9 116.8,148.6 112.7,151.1" fill="#00009f"/>
<polygon points="73.9,184.7 78.0,189.6 83.3,186.5 79.2,181.5" fill="#000086"/>
<polygon points="183.8,174.6 187.9,179.0 193.2,176.6 189.1,173.6" fill="#0000fc"/>
<polygon points="150.3,151.2 154.4,159.2 159.7,157.9 155.6,151.5" fill="#0099ff"/>
<polygon points="116.8,148.6 120.9,157.7 126.2,142.0 122.1,130.8" fill="#00aaff"/>
<polygon points="83.3,186.5 87.4,191.9 92.7,187.6 88.6,183.9" fill="#000080"/>
<polygon points="49.8,156.5 53.9,171.8 59.2,163.7 55.1,160.7" fill="#00baff"/>
<polygon points="193.2,176.6 197.3,181.6 202.6,180.5 198.5,175.2" fill="#0000f4"/>
<polygon points="159.7,157.9 163.8,165.6 169.1,164.9 165.0,157.0" fill="#0071ff"/>
<polygon points="126.2,142.0 130.3,151.0 135.6,146.8 131.5,122.8" fill="#00dbff"/>
<polygon points="92.7,187.6 96.8,189.4 102.1,183.0 98.0,182.2" fill="#000080"/>
<polygon points="59.2,163.7 63.3,171.2 68.6,183.8 64.5,180.8" fill="#00009f"/>
<polygon points="169.1,164.9 173.2,175.6 178.5,174.9 174.4,165.2" fill="#0048ff"/>
<polygon points="135.6,146.8 139.7,157.2 145.0,154.3 140.9,143.5" fill="#00c0ff"/>
<polygon points="102.1,183.0 106.2,183.4 111.5,165.9 107.4,166.6" fill="#00009f"/>
<polygon points="68.6,183.8 72.7,186.8 78.0,189.6 73.9,184.7" fill="#00009b"/>
<polygon points="178.5,174.9 182.6,181.3 187.9,179.0 183.8,174.6" fill="#000aff"/>
<polygon points="145.0,154.3 149.1,163.5 154.4,159.2 150.3,151.2" fill="#0093ff"/>
<polygon points="111.5,165.9 115.6,172.2 120.9,157.7 116.8,148.6" fill="#00009f"/>
<polygon points="78.0,189.6 82.1,195.5 87.4,191.9 83.3,186.5" fill="#000080"/>
<polygon points="187.9,179.0 192.0,183.5 197.3,181.6 193.2,176.6" fill="#0000f3"/>
<polygon points="154.4,159.2 158.5,167.5 163.8,165.6 159.7,157.9" fill="#0078ff"/>
<polygon points="120.9,157.7 125.0,164.2 130.3,151.0 126.2,142.0" fill="#0082ff"/>
<polygon points="87.4,191.9 91.5,195.4 96.8,189.4 92.7,187.6" fill="#000080"/>
<polygon points="53.9,171.8 58.0,179.3 63.3,171.2 59.2,163.7" fill="#00baff"/>
<polygon points="197.3,181.6 201.3,187.0 206.7,185.8 202.6,180.5" fill="#0000e7"/>
<polygon points="163.8,165.6 167.8,176.2 173.2,175.6 169.1,164.9" fill="#0052ff"/>
<polygon points="130.3,151.0 134.3,160.7 139.7,157.2 135.6,146.8" fill="#00b4ff"/>
<polygon points="96.8,189.4 100.8,189.3 106.2,183.4 102.1,183.0" fill="#000085"/>
<polygon points="63.3,171.2 67.3,177.4 72.7,186.8 68.6,183.8" fill="#00009f"/>
<polygon points="173.2,175.6 177.2,183.5 182.6,181.3 178.5,174.9" fill="#0015ff"/>
<polygon points="139.7,157.2 143.7,167.1 149.1,163.5 145.0,154.3" fill="#008fff"/>
<polygon points="106.2,183.4 110.2,186.1 115.6,172.2 111.5,165.9" fill="#00009f"/>
<polygon points="72.7,186.8 76.7,189.8 82.1,195.5 78.0,189.6" fill="#00009b"/>
<polygon points="182.6,181.3 186.6,186.1 192.0,183.5 187.9,179.0" fill="#0000f3"/>
<polygon points="149.1,163.5 153.1,172.7 158.5,167.5 154.4,159.2" fill="#006aff"/>
<polygon points="115.6,172.2 119.6,177.2 125.0,164.2 120.9,157.7" fill="#00009f"/>
<polygon points="82.1,195.5 86.1,200.2 91.5,195.4 87.4,191.9" fill="#000080"/>
<polygon points="192.0,183.5 196.0,188.1 201.3,187.0 197.3,181.6" fill="#0000e9"/>
<polygon points="158.5,167.5 162.5,177.5 167.8,176.2 163.8,165.6" fill="#0055ff"/>
<polygon points="125.0,164.2 129.0,170.8 134.3,160.7 130.3,151.0" fill="#006bff"/>
<polygon points="91.5,195.4 95.5,195.9 100.8,189.3 96.8,189.4" fill="#000080"/>
<polygon points="58.0,179.3 62.0,185.5 67.3,177.4 63.3,171.2" fill="#00baff"/>
<polygon points="201.3,187.0 205.4,188.0 210.7,185.1 206.7,185.8" fill="#0000d7"/>
<polygon points="167.8,176.2 171.9,184.7 177.2,183.5 173.2,175.6" fill="#0020ff"/>
<polygon points="134.3,160.7 138.4,170.3 143.7,167.1 139.7,157.2" fill="#0086ff"/>
<polygon points="100.8,189.3 104.9,190.6 110.2,186.1 106.2,183.4" fill="#000099"/>
<polygon points="67.3,177.4 71.4,182.7 76.7,189.8 72.7,186.8" fill="#00009f"/>
<polygon points="177.2,183.5 181.3,189.0 186.6,186.1 182.6,181.3" fill="#0000f3"/>
<polygon points="143.7,167.1 147.8,177.5 153.1,172.7 149.1,163.5" fill="#0062ff"/>
<polygon points="110.2,186.1 114.3,189.4 119.6,177.2 115.6,172.2" fill="#00009f"/>
<polygon points="76.7,189.8 80.8,193.0 86.1,200.2 82.1,195.5" fill="#00009b"/>
<polygon points="186.6,186.1 190.7,189.7 196.0,188.1 192.0,183.5" fill="#0000e7"/>
<polygon points="153.1,172.7 157.2,181.8 162.5,177.5 158.5,167.5" fill="#0041ff"/>
<polygon points="119.6,177.2 123.7,181.8 129.0,170.8 125.0,164.2" fill="#000080"/>
<polygon points="86.1,200.2 90.2,202.4 95.5,195.9 91.5,195.4" fill="#000080"/>
<polygon points="196.0,188.1 200.1,190.0 205.4,188.0 201.3,187.0" fill="#0000df"/>
<polygon points="162.5,177.5 166.6,185.3 171.9,184.7 167.8,176.2" fill="#0026ff"/>
<polygon points="129.0,170.8 133.1,177.9 138.4,170.3 134.3,160.7" fill="#0052ff"/>
<polygon points="95.5,195.9 99.6,196.0 104.9,190.6 100.8,189.3" fill="#000080"/>
<polygon points="62.0,185.5 66.1,190.8 71.4,182.7 67.3,177.4" fill="#00baff"/>
<polygon points="205.4,188.0 209.5,187.3 214.8,182.2 210.7,185.1" fill="#0000e4"/>
<polygon points="171.9,184.7 176.0,191.2 181.3,189.0 177.2,183.5" fill="#0000fa"/>
<polygon points="138.4,170.3 142.5,181.4 147.8,177.5 143.7,167.1" fill="#005bff"/>
<polygon points="104.9,190.6 109.0,194.0 114.3,189.4 110.2,186.1" fill="#00009f"/>
<polygon points="71.4,182.7 75.5,187.3 80.8,193.0 76.7,189.8" fill="#00009f"/>
<polygon points="181.3,189.0 185.4,192.1 190.7,189.7 186.6,186.1" fill="#0000e3"/>
<polygon points="147.8,177.5 151.9,186.5 157.2,181.8 153.1,172.7" fill="#0030ff"/>
<polygon points="114.3,189.4 118.4,192.8 123.7,181.8 119.6,177.2" fill="#000080"/>
<polygon points="80.8,193.0 84.9,196.3 90.2,202.4 86.1,200.2" fill="#00009a"/>
<polygon points="190.7,189.7 194.8,191.8 200.1,190.0 196.0,188.1" fill="#0000e3"/>
<polygon points="157.2,181.8 161.3,187.5 166.6,185.3 162.5,177.5" fill="#0019ff"/>
<polygon points="123.7,181.8 127.8,186.5 133.1,177.9 129.0,170.8" fill="#0000f8"/>
<polygon points="90.2,202.4 94.3,202.5 99.6,196.0 95.5,195.9" fill="#000080"/>
<polygon points="200.1,190.0 204.2,191.9 209.5,187.3 205.4,188.0" fill="#0000e6"/>
<polygon points="166.6,185.3 170.7,192.2 176.0,191.2 171.9,184.7" fill="#0007ff"/>
<polygon points="133.1,177.9 137.2,187.0 142.5,181.4 138.4,170.3" fill="#0038ff"/>
<polygon points="99.6,196.0 103.7,198.7 109.0,194.0 104.9,190.6" fill="#000090"/>
<polygon points="66.1,190.8 70.2,195.4 75.5,187.3 71.4,182.7" fill="#00baff"/>
<polygon points="209.5,187.3 213.6,186.7 218.9,180.3 214.8,182.2" fill="#0000fd"/>
<polygon points="176.0,191.2 180.1,195.0 185.4,192.1 181.3,189.0" fill="#0000e3"/>
<polygon points="142.5,181.4 146.6,190.8 151.9,186.5 147.8,177.5" fill="#0025ff"/>
<polygon points="109.0,194.0 113.1,198.8 118.4,192.8 114.3,189.4" fill="#000080"/>
<polygon points="75.5,187.3 79.6,191.3 84.9,196.3 80.8,193.0" fill="#00009f"/>
<polygon points="185.4,192.1 189.5,193.9 194.8,191.8 190.7,189.7" fill="#0000e2"/>
<polygon points="151.9,186.5 156.0,190.5 161.3,187.5 157.2,181.8" fill="#0008ff"/>
<polygon points="118.4,192.8 122.5,195.9 127.8,186.5 123.7,181.8" fill="#0000be"/>
<polygon points="84.9,196.3 89.0,198.8 94.3,202.5 90.2,202.4" fill="#000097"/>
<polygon points="194.8,191.8 198.9,195.6 204.2,191.9 200.1,190.0" fill="#0000e9"/>
<polygon points="161.3,187.5 165.4,193.3 170.7,192.2 166.6,185.3" fill="#0007ff"/>
<polygon points="127.8,186.5 131.9,192.5 137.2,187.0 133.1,177.9" fill="#0000ed"/>
<polygon points="94.3,202.5 98.4,204.4 103.7,198.7 99.6,196.0" fill="#000080"/>
<polygon points="204.2,191.9 208.3,193.7 213.6,186.7 209.5,187.3" fill="#0000ee"/>
<polygon points="170.7,192.2 174.8,197.5 180.1,195.0 176.0,191.2" fill="#0000eb"/>
<polygon points="137.2,187.0 141.3,195.1 146.6,190.8 142.5,181.4" fill="#0010ff"/>
<polygon points="103.7,198.7 107.8,204.0 113.1,198.8 109.0,194.0" fill="#000080"/>
<polygon points="70.2,195.4 74.3,199.3 79.6,191.3 75.5,187.3" fill="#00baff"/>
<polygon points="180.1,195.0 184.2,197.1 189.5,193.9 185.4,192.1" fill="#0000de"/>
<polygon points="146.6,190.8 150.7,194.1 156.0,190.5 151.9,186.5" fill="#0000fa"/>
<polygon points="113.1,198.8 117.2,202.2 122.5,195.9 118.4,192.8" fill="#0000a6"/>
<polygon points="79.6,191.3 83.7,194.9 89.0,198.8 84.9,196.3" fill="#00009f"/>
<polygon points="189.5,193.9 193.6,198.4 198.9,195.6 194.8,191.8" fill="#0000ea"/>
<polygon points="156.0,190.5 160.1,194.5 165.4,193.3 161.3,187.5" fill="#0002ff"/>
<polygon points="122.5,195.9 126.6,198.6 131.9,192.5 127.8,186.5" fill="#0000bd"/>
<polygon points="89.0,198.8 93.1,201.8 98.4,204.4 94.3,202.5" fill="#00009b"/>
<polygon points="198.9,195.6 203.0,200.2 208.3,193.7 204.2,191.9" fill="#0000e4"/>
<polygon points="165.4,193.3 169.5,199.2 174.8,197.5 170.7,192.2" fill="#0000f3"/>
<polygon points="131.9,192.5 136.0,198.3 141.3,195.1 137.2,187.0" fill="#0000da"/>
<polygon points="98.4,204.4 102.5,208.8 107.8,204.0 103.7,198.7" fill="#000080"/>
<polygon points="174.8,197.5 178.9,201.1 184.2,197.1 180.1,195.0" fill="#0000dc"/>
<polygon points="141.3,195.1 145.4,198.3 150.7,194.1 146.6,190.8" fill="#0000ed"/>
<polygon points="107.8,204.0 111.9,207.6 117.2,202.2 113.1,198.8" fill="#000092"/>
<polygon points="74.3,199.3 78.4,203.0 83.7,194.9 79.6,191.3" fill="#00baff"/>
<polygon points="184.2,197.1 188.2,201.7 193.6,198.4 189.5,193.9" fill="#0000e4"/>
<polygon points="150.7,194.1 154.8,196.7 160.1,194.5 156.0,190.5" fill="#0000f8"/>
<polygon points="117.2,202.2 121.2,203.3 126.6,198.6 122.5,195.9" fill="#0000a3"/>
<polygon points="83.7,194.9 87.8,198.3 93.1,201.8 89.0,198.8" fill="#00009f"/>
<polygon points="193.6,198.4 197.6,204.8 203.0,200.2 198.9,195.6" fill="#0000e0"/>
<polygon points="160.1,194.5 164.1,200.3 169.5,199.2 165.4,193.3" fill="#0000fa"/>
<polygon points="126.6,198.6 130.6,201.2 136.0,198.3 131.9,192.5" fill="#0000c0"/>
<polygon points="93.1,201.8 97.1,204.8 102.5,208.8 98.4,204.4" fill="#000080"/>
<polygon points="169.5,199.2 173.5,204.1 178.9,201.1 174.8,197.5" fill="#0000e0"/>
<polygon points="136.0,198.3 140.0,201.7 145.4,198.3 141.3,195.1" fill="#0000e6"/>
<polygon points="102.5,208.8 106.5,211.8 111.9,207.6 107.8,204.0" fill="#000081"/>
<polygon points="178.9,201.1 182.9,206.0 188.2,201.7 184.2,197.1" fill="#0000d8"/>
<polygon points="145.4,198.3 149.4,200.2 154.8,196.7 150.7,194.1" fill="#0000eb"/>
<polygon points="111.9,207.6 115.9,208.2 121.2,203.3 117.2,202.2" fill="#00008e"/>
<polygon points="78.4,203.0 82.4,206.3 87.8,198.3 83.7,194.9" fill="#00baff"/>
<polygon points="188.2,201.7 192.3,208.6 197.6,204.8 193.6,198.4" fill="#0000da"/>
<polygon points="154.8,196.7 158.8,201.6 164.1,200.3 160.1,194.5" fill="#0000fb"/>
<polygon points="121.2,203.3 125.3,203.6 130.6,201.2 126.6,198.6" fill="#0000af"/>
<polygon points="87.8,198.3 91.8,201.6 97.1,204.8 93.1,201.8" fill="#00009f"/>
<polygon points="164.1,200.3 168.2,206.5 173.5,204.1 169.5,199.2" fill="#0000e8"/>
<polygon points="130.6,201.2 134.7,204.2 140.0,201.7 136.0,198.3" fill="#0000e2"/>
<polygon points="97.1,204.8 101.2,207.4 106.5,211.8 102.5,208.8" fill="#0000ab"/>
<polygon points="173.5,204.1 177.6,209.0 182.9,206.0 178.9,201.1" fill="#0000d3"/>
<polygon points="140.0,201.7 144.1,204.1 149.4,200.2 145.4,198.3" fill="#0000e4"/>
<polygon points="106.5,211.8 110.6,212.4 115.9,208.2 111.9,207.6" fill="#000081"/>
<polygon points="182.9,206.0 187.0,212.4 192.3,208.6 188.2,201.7" fill="#0000cc"/>
<polygon points="149.4,200.2 153.5,203.8 158.8,201.6 154.8,196.7" fill="#0000f2"/>
<polygon points="115.9,208.2 120.0,207.0 125.3,203.6 121.2,203.3" fill="#00009e"/>
<polygon points="82.4,206.3 86.5,209.6 91.8,201.6 87.8,198.3" fill="#00baff"/>
<polygon points="158.8,201.6 162.9,208.0 168.2,206.5 164.1,200.3" fill="#0000ee"/>
<polygon points="125.3,203.6 129.4,205.4 134.7,204.2 130.6,201.2" fill="#0000e1"/>
<polygon points="91.8,201.6 95.9,203.3 101.2,207.4 97.1,204.8" fill="#0000ce"/>
<polygon points="168.2,206.5 172.3,212.1 177.6,209.0 173.5,204.1" fill="#0000d3"/>
<polygon points="134.7,204.2 138.8,207.6 144.1,204.1 140.0,201.7" fill="#0000e2"/>
<polygon points="101.2,207.4 105.3,209.5 110.6,212.4 106.5,211.8" fill="#0000ad"/>
<polygon points="177.6,209.0 181.7,213.7 187.0,212.4 182.9,206.0" fill="#0000c7"/>
<polygon points="144.1,204.1 148.2,207.1 153.5,203.8 149.4,200.2" fill="#0000e7"/>
<polygon points="110.6,212.4 114.7,211.0 120.0,207.0 115.9,208.2" fill="#000091"/>
<polygon points="153.5,203.8 157.6,209.0 162.9,208.0 158.8,201.6" fill="#0000ef"/>
<polygon points="120.0,207.0 124.1,207.2 129.4,205.4 125.3,203.6" fill="#0000d9"/>
<polygon points="86.5,209.6 90.6,199.9 95.9,203.3 91.8,201.6" fill="#00baff"/>
<polygon points="162.9,208.0 167.0,214.3 172.3,212.1 168.2,206.5" fill="#0000d7"/>
<polygon points="129.4,205.4 133.5,209.3 138.8,207.6 134.7,204.2" fill="#0000e9"/>
<polygon points="95.9,203.3 100.0,206.0 105.3,209.5 101.2,207.4" fill="#0000f7"/>
<polygon points="172.3,212.1 176.4,215.7 181.7,213.7 177.6,209.0" fill="#0000c2"/>
<polygon points="138.8,207.6 142.9,211.0 148.2,207.1 144.1,204.1" fill="#0000df"/>
<polygon points="105.3,209.5 109.4,210.6 114.7,211.0 110.6,212.4" fill="#0000b3"/>
<polygon points="148.2,207.1 152.3,210.4 157.6,209.0 153.5,203.8" fill="#0000e8"/>
<polygon points="114.7,211.0 118.8,210.2 124.1,207.2 120.0,207.0" fill="#0000ce"/>
<polygon points="157.6,209.0 161.7,214.7 167.0,214.3 162.9,208.0" fill="#0000e0"/>
<polygon points="124.1,207.2 128.2,210.5 133.5,209.3 129.4,205.4" fill="#0000ec"/>
<polygon points="90.6,199.9 94.7,202.6 100.0,206.0 95.9,203.3" fill="#00baff"/>
<polygon points="167.0,214.3 171.1,217.8 176.4,215.7 172.3,212.1" fill="#0000c2"/>
<polygon points="133.5,209.3 137.6,213.4 142.9,211.0 138.8,207.6" fill="#0000e3"/>
<polygon points="100.0,206.0 104.1,209.5 109.4,210.6 105.3,209.5" fill="#0000f9"/>
<polygon points="142.9,211.0 147.0,212.8 152.3,210.4 148.2,207.1" fill="#0000dd"/>
<polygon points="109.4,210.6 113.5,210.2 118.8,210.2 114.7,211.0" fill="#0000df"/>
<polygon points="152.3,210.4 156.4,214.4 161.7,214.7 157.6,209.0" fill="#0000e5"/>
<polygon points="118.8,210.2 122.9,212.0 128.2,210.5 124.1,207.2" fill="#0000e7"/>
<polygon points="161.7,214.7 165.8,218.1 171.1,217.8 167.0,214.3" fill="#0000ce"/>
<polygon points="128.2,210.5 132.3,214.8 137.6,213.4 133.5,209.3" fill="#0000ea"/>
<polygon points="94.7,202.6 98.8,207.7 104.1,209.5 100.0,206.0" fill="#0020ff"/>
<polygon points="137.6,213.4 141.6,214.8 147.0,212.8 142.9,211.0" fill="#0000dc"/>
<polygon points="104.1,209.5 108.1,210.3 113.5,210.2 109.4,210.6" fill="#0000f6"/>
<polygon points="147.0,212.8 151.0,214.3 156.4,214.4 152.3,210.4" fill="#0000e5"/>
<polygon points="113.5,210.2 117.5,210.9 122.9,212.0 118.8,210.2" fill="#0000f6"/>
<polygon points="156.4,214.4 160.4,217.4 165.8,218.1 161.7,214.7" fill="#0000df"/>
<polygon points="122.9,212.0 126.9,215.3 132.3,214.8 128.2,210.5" fill="#0000ef"/>
<polygon points="132.3,214.8 136.3,216.5 141.6,214.8 137.6,213.4" fill="#0000e2"/>
<polygon points="98.8,207.7 102.8,209.7 108.1,210.3 104.1,209.5" fill="#0012ff"/>
<polygon points="141.6,214.8 145.7,214.5 151.0,214.3 147.0,212.8" fill="#0000e6"/>
<polygon points="108.1,210.3 112.2,210.5 117.5,210.9 113.5,210.2" fill="#0005ff"/>
<polygon points="151.0,214.3 155.1,216.0 160.4,217.4 156.4,214.4" fill="#0000ef"/>
<polygon points="117.5,210.9 121.6,212.4 126.9,215.3 122.9,212.0" fill="#0006ff"/>
<polygon points="126.9,215.3 131.0,217.2 136.3,216.5 132.3,214.8" fill="#0000ed"/>
<polygon points="136.3,216.5 140.4,215.5 145.7,214.5 141.6,214.8" fill="#0000ea"/>
<polygon points="102.8,209.7 106.9,198.6 112.2,210.5 108.1,210.3" fill="#0018ff"/>
<polygon points="145.7,214.5 149.8,214.7 155.1,216.0 151.0,214.3" fill="#0000fc"/>
<polygon points="112.2,210.5 116.3,210.0 121.6,212.4 117.5,210.9" fill="#0018ff"/>
<polygon points="121.6,212.4 125.7,213.9 131.0,217.2 126.9,215.3" fill="#0010ff"/>
<polygon points="131.0,217.2 135.1,191.2 140.4,215.5 136.3,216.5" fill="#0000f5"/>
<polygon points="140.4,215.5 144.5,214.3 149.8,214.7 145.7,214.5" fill="#0006ff"/>
<polygon points="106.9,198.6 111.0,188.7 116.3,210.0 112.2,210.5" fill="#e5ff1a"/>
<polygon points="116.3,210.0 120.4,210.3 125.7,213.9 121.6,212.4" fill="#002fff"/>
<polygon points="125.7,213.9 129.8,214.3 135.1,191.2 131.0,217.2" fill="#001aff"/>
<polygon points="135.1,191.2 139.2,178.1 144.5,214.3 140.4,215.5" fill="#e5ff1a"/>
<polygon points="111.0,188.7 115.1,153.1 120.4,210.3 116.3,210.0" fill="#00e9ff"/>
<polygon points="120.4,210.3 124.5,205.4 129.8,214.3 125.7,213.9" fill="#0041ff"/>
<polygon points="129.8,214.3 133.9,219.0 139.2,178.1 135.1,191.2" fill="#00e9ff"/>
<polygon points="115.1,153.1 119.2,140.1 124.5,205.4 120.4,210.3" fill="#ff1d00"/>
<polygon points="124.5,205.4 128.5,198.7 133.9,219.0 129.8,214.3" fill="#0076ff"/>
<polygon points="119.2,140.1 123.2,143.1 128.5,198.7 124.5,205.4" fill="#800000"/>
</g>
<defs><linearGradient id="jg3" x1="0" y1="1" x2="0" y2="0">
<stop offset="0.000" stop-color="#000080"/>
<stop offset="0.125" stop-color="#0000ff"/>
<stop offset="0.250" stop-color="#0080ff"/>
<stop offset="0.375" stop-color="#00ffff"/>
<stop offset="0.500" stop-color="#80ff80"/>
<stop offset="0.625" stop-color="#ffff00"/>
<stop offset="0.750" stop-color="#ff8000"/>
<stop offset="0.875" stop-color="#ff0000"/>
<stop offset="1.000" stop-color="#800000"/>
</linearGradient></defs>
<rect x="248.5" y="21.2" width="10.5" height="232.9" fill="url(#jg3)" stroke="#333" stroke-width="0.6"/>
<g font-family="Liberation Sans" font-size="8.5" fill="#333">
<line x1="257.5" y1="221.9" x2="259.0" y2="221.9" stroke="#333" stroke-width="0.6"/>
<text transform="translate(261.50 224.85) scale(0.82 1)">0.05</text>
<line x1="257.5" y1="186.0" x2="259.0" y2="186.0" stroke="#333" stroke-width="0.6"/>
<text transform="translate(261.50 189.02) scale(0.82 1)">0.1</text>
<line x1="257.5" y1="150.2" x2="259.0" y2="150.2" stroke="#333" stroke-width="0.6"/>
<text transform="translate(261.50 153.19) scale(0.82 1)">0.15</text>
<line x1="257.5" y1="114.4" x2="259.0" y2="114.4" stroke="#333" stroke-width="0.6"/>
<text transform="translate(261.50 117.36) scale(0.82 1)">0.2</text>
<line x1="257.5" y1="78.5" x2="259.0" y2="78.5" stroke="#333" stroke-width="0.6"/>
<text transform="translate(261.50 81.53) scale(0.82 1)">0.25</text>
<line x1="257.5" y1="42.7" x2="259.0" y2="42.7" stroke="#333" stroke-width="0.6"/>
<text transform="translate(261.50 45.70) scale(0.82 1)">0.3</text>
</g>
<g font-family="Liberation Sans" font-size="10.0" fill="#3a3a3a">
<text transform="translate(61.70 276.30) scale(0.75 1)">BTC</text>
<text transform="translate(172.50 279.20) scale(0.75 1)">INTEREST</text>
</g>
<g font-family="Liberation Sans" font-size="8.5" fill="#444">
<text transform="translate(39.98 202.41) rotate(-63.0) scale(0.90 1)" font-size="9.0" text-anchor="end">0.05</text>
<text transform="translate(129.01 257.64) rotate(75.0) scale(0.90 1)">0.05</text>
<text transform="translate(44.06 205.41) rotate(-63.0) scale(0.90 1)" font-size="9.0" text-anchor="end">0.1</text>
<text transform="translate(134.33 255.38) rotate(75.0) scale(0.90 1)">0.1</text>
<text transform="translate(48.14 208.41) rotate(-63.0) scale(0.90 1)" font-size="9.0" text-anchor="end">0.15</text>
<text transform="translate(139.64 253.12) rotate(75.0) scale(0.90 1)">0.15</text>
<text transform="translate(52.22 211.42) rotate(-63.0) scale(0.90 1)" font-size="9.0" text-anchor="end">0.2</text>
<text transform="translate(144.96 250.86) rotate(75.0) scale(0.90 1)">0.2</text>
<text transform="translate(56.30 214.43) rotate(-63.0) scale(0.90 1)" font-size="9.0" text-anchor="end">0.25</text>
<text transform="translate(150.27 248.60) rotate(75.0) scale(0.90 1)">0.25</text>
<text transform="translate(60.38 217.43) rotate(-63.0) scale(0.90 1)" font-size="9.0" text-anchor="end">0.3</text>
<text transform="translate(155.59 246.34) rotate(75.0) scale(0.90 1)">0.3</text>
<text transform="translate(64.46 220.44) rotate(-63.0) scale(0.90 1)" font-size="9.0" text-anchor="end">0.35</text>
<text transform="translate(160.90 244.08) rotate(75.0) scale(0.90 1)">0.35</text>
<text transform="translate(68.54 223.44) rotate(-63.0) scale(0.90 1)" font-size="9.0" text-anchor="end">0.4</text>
<text transform="translate(166.22 241.82) rotate(75.0) scale(0.90 1)">0.4</text>
<text transform="translate(72.62 226.44) rotate(-63.0) scale(0.90 1)" font-size="9.0" text-anchor="end">0.45</text>
<text transform="translate(171.53 239.56) rotate(75.0) scale(0.90 1)">0.45</text>
<text transform="translate(76.70 229.45) rotate(-63.0) scale(0.90 1)" font-size="9.0" text-anchor="end">0.5</text>
<text transform="translate(176.85 237.30) rotate(75.0) scale(0.90 1)">0.5</text>
<text transform="translate(80.78 232.46) rotate(-63.0) scale(0.90 1)" font-size="9.0" text-anchor="end">0.55</text>
<text transform="translate(182.16 235.04) rotate(75.0) scale(0.90 1)">0.55</text>
<text transform="translate(84.86 235.46) rotate(-63.0) scale(0.90 1)" font-size="9.0" text-anchor="end">0.6</text>
<text transform="translate(187.48 232.78) rotate(75.0) scale(0.90 1)">0.6</text>
<text transform="translate(88.94 238.47) rotate(-63.0) scale(0.90 1)" font-size="9.0" text-anchor="end">0.65</text>
<text transform="translate(192.80 230.52) rotate(75.0) scale(0.90 1)">0.65</text>
<text transform="translate(93.02 241.47) rotate(-63.0) scale(0.90 1)" font-size="9.0" text-anchor="end">0.7</text>
<text transform="translate(198.11 228.26) rotate(75.0) scale(0.90 1)">0.7</text>
<text transform="translate(97.10 244.47) rotate(-63.0) scale(0.90 1)" font-size="9.0" text-anchor="end">0.75</text>
<text transform="translate(203.43 226.00) rotate(75.0) scale(0.90 1)">0.75</text>
<text transform="translate(101.18 247.48) rotate(-63.0) scale(0.90 1)" font-size="9.0" text-anchor="end">0.8</text>
<text transform="translate(208.74 223.74) rotate(75.0) scale(0.90 1)">0.8</text>
<text transform="translate(105.26 250.49) rotate(-63.0) scale(0.90 1)" font-size="9.0" text-anchor="end">0.85</text>
<text transform="translate(214.06 221.48) rotate(75.0) scale(0.90 1)">0.85</text>
<text transform="translate(109.34 253.49) rotate(-63.0) scale(0.90 1)" font-size="9.0" text-anchor="end">0.9</text>
<text transform="translate(219.37 219.22) rotate(75.0) scale(0.90 1)">0.9</text>
<text transform="translate(113.42 256.50) rotate(-63.0) scale(0.90 1)" font-size="9.0" text-anchor="end">0.95</text>
<text transform="translate(224.69 216.96) rotate(75.0) scale(0.90 1)">0.95</text>
</g>
<text x="152.8" y="305.9" font-family="Liberation Serif" font-weight="bold" font-size="20.1" fill="#000" text-anchor="middle">INTEREST on BTC</text></g>
<g transform="translate(900,0)"><g stroke="#dcdcdc" stroke-width="0.6" fill="none">
<line x1="40.0" y1="194.4" x2="146.5" y2="149.2"/>
<line x1="40.0" y1="194.4" x2="121.8" y2="254.5"/>
<line x1="40.0" y1="194.4" x2="40.0" y2="65.0"/>
<line x1="146.5" y1="149.2" x2="146.5" y2="19.8"/>
<line x1="44.1" y1="197.4" x2="150.6" y2="152.2"/>
<line x1="45.3" y1="192.1" x2="127.1" y2="252.2"/>
<line x1="45.3" y1="192.1" x2="45.3" y2="62.7"/>
<line x1="150.6" y1="152.2" x2="150.6" y2="22.8"/>
<line x1="48.2" y1="200.4" x2="154.7" y2="155.2"/>
<line x1="50.7" y1="189.9" x2="132.4" y2="250.0"/>
<line x1="50.7" y1="189.9" x2="50.7" y2="60.5"/>
<line x1="154.7" y1="155.2" x2="154.7" y2="25.8"/>
<line x1="52.3" y1="203.4" x2="158.8" y2="158.2"/>
<line x1="56.0" y1="187.6" x2="137.8" y2="247.7"/>
<line x1="56.0" y1="187.6" x2="56.0" y2="58.2"/>
<line x1="158.8" y1="158.2" x2="158.8" y2="28.8"/>
<line x1="56.4" y1="206.4" x2="162.9" y2="161.2"/>
<line x1="61.3" y1="185.4" x2="143.1" y2="245.5"/>
<line x1="61.3" y1="185.4" x2="61.3" y2="56.0"/>
<line x1="162.9" y1="161.2" x2="162.9" y2="31.8"/>
<line x1="60.5" y1="209.4" x2="167.0" y2="164.2"/>
<line x1="66.6" y1="183.1" x2="148.4" y2="243.2"/>
<line x1="66.6" y1="183.1" x2="66.6" y2="53.7"/>
<line x1="167.0" y1="164.2" x2="167.0" y2="34.8"/>
<line x1="64.5" y1="212.4" x2="171.0" y2="167.2"/>
<line x1="72.0" y1="180.8" x2="153.8" y2="240.9"/>
<line x1="72.0" y1="180.8" x2="72.0" y2="51.4"/>
<line x1="171.0" y1="167.2" x2="171.0" y2="37.8"/>
<line x1="68.6" y1="215.4" x2="175.1" y2="170.2"/>
<line x1="77.3" y1="178.6" x2="159.1" y2="238.7"/>
<line x1="77.3" y1="178.6" x2="77.3" y2="49.2"/>
<line x1="175.1" y1="170.2" x2="175.1" y2="40.8"/>
<line x1="72.7" y1="218.4" x2="179.2" y2="173.2"/>
<line x1="82.6" y1="176.3" x2="164.4" y2="236.4"/>
<line x1="82.6" y1="176.3" x2="82.6" y2="46.9"/>
<line x1="179.2" y1="173.2" x2="179.2" y2="43.8"/>
<line x1="76.8" y1="221.4" x2="183.3" y2="176.2"/>
<line x1="87.9" y1="174.1" x2="169.7" y2="234.2"/>
<line x1="87.9" y1="174.1" x2="87.9" y2="44.7"/>
<line x1="183.3" y1="176.2" x2="183.3" y2="46.8"/>
<line x1="80.9" y1="224.4" x2="187.4" y2="179.2"/>
<line x1="93.2" y1="171.8" x2="175.1" y2="231.9"/>
<line x1="93.2" y1="171.8" x2="93.2" y2="42.4"/>
<line x1="187.4" y1="179.2" x2="187.4" y2="49.8"/>
<line x1="85.0" y1="227.5" x2="191.5" y2="182.3"/>
<line x1="98.6" y1="169.5" x2="180.4" y2="229.6"/>
<line x1="98.6" y1="169.5" x2="98.6" y2="40.1"/>
<line x1="191.5" y1="182.3" x2="191.5" y2="52.9"/>
<line x1="89.1" y1="230.5" x2="195.6" y2="185.3"/>
<line x1="103.9" y1="167.3" x2="185.7" y2="227.4"/>
<line x1="103.9" y1="167.3" x2="103.9" y2="37.9"/>
<line x1="195.6" y1="185.3" x2="195.6" y2="55.9"/>
<line x1="93.2" y1="233.5" x2="199.7" y2="188.3"/>
<line x1="109.2" y1="165.0" x2="191.0" y2="225.1"/>
<line x1="109.2" y1="165.0" x2="109.2" y2="35.6"/>
<line x1="199.7" y1="188.3" x2="199.7" y2="58.9"/>
<line x1="97.3" y1="236.5" x2="203.8" y2="191.3"/>
<line x1="114.6" y1="162.8" x2="196.4" y2="222.9"/>
<line x1="114.6" y1="162.8" x2="114.6" y2="33.4"/>
<line x1="203.8" y1="191.3" x2="203.8" y2="61.9"/>
<line x1="101.3" y1="239.5" x2="207.9" y2="194.3"/>
<line x1="119.9" y1="160.5" x2="201.7" y2="220.6"/>
<line x1="119.9" y1="160.5" x2="119.9" y2="31.1"/>
<line x1="207.9" y1="194.3" x2="207.9" y2="64.9"/>
<line x1="105.4" y1="242.5" x2="211.9" y2="197.3"/>
<line x1="125.2" y1="158.2" x2="207.0" y2="218.3"/>
<line x1="125.2" y1="158.2" x2="125.2" y2="28.8"/>
<line x1="211.9" y1="197.3" x2="211.9" y2="67.9"/>
<line x1="109.5" y1="245.5" x2="216.0" y2="200.3"/>
<line x1="130.5" y1="156.0" x2="212.3" y2="216.1"/>
<line x1="130.5" y1="156.0" x2="130.5" y2="26.6"/>
<line x1="216.0" y1="200.3" x2="216.0" y2="70.9"/>
<line x1="113.6" y1="248.5" x2="220.1" y2="203.3"/>
<line x1="135.9" y1="153.7" x2="217.7" y2="213.8"/>
<line x1="135.9" y1="153.7" x2="135.9" y2="24.3"/>
<line x1="220.1" y1="203.3" x2="220.1" y2="73.9"/>
<line x1="117.7" y1="251.5" x2="224.2" y2="206.3"/>
<line x1="141.2" y1="151.5" x2="223.0" y2="211.6"/>
<line x1="141.2" y1="151.5" x2="141.2" y2="22.1"/>
<line x1="224.2" y1="206.3" x2="224.2" y2="76.9"/>
<line x1="121.8" y1="254.5" x2="228.3" y2="209.3"/>
<line x1="146.5" y1="149.2" x2="228.3" y2="209.3"/>
<line x1="146.5" y1="149.2" x2="146.5" y2="19.8"/>
<line x1="228.3" y1="209.3" x2="228.3" y2="79.9"/>
<polyline points="40.0,194.4 146.5,149.2 228.3,209.3" stroke="#d2d2d2"/>
<polyline points="40.0,172.8 146.5,127.6 228.3,187.7" stroke="#d2d2d2"/>
<polyline points="40.0,151.3 146.5,106.1 228.3,166.2" stroke="#d2d2d2"/>
<polyline points="40.0,129.7 146.5,84.5 228.3,144.6" stroke="#d2d2d2"/>
<polyline points="40.0,108.1 146.5,62.9 228.3,123.0" stroke="#d2d2d2"/>
<polyline points="40.0,86.6 146.5,41.4 228.3,101.5" stroke="#d2d2d2"/>
<polyline points="40.0,65.0 146.5,19.8 228.3,79.9" stroke="#d2d2d2"/>
<polyline points="40.0,65.0 146.5,19.8 228.3,79.9" stroke="#d2d2d2"/>
</g>
<g stroke="#5a5a5a" stroke-width="0.7" fill="none">
<polyline points="40.0,194.4 121.8,254.5 228.3,209.3"/>
<polyline points="40.0,194.4 40.0,65.0"/>
<line x1="44.1" y1="197.4" x2="41.9" y2="198.6"/>
<line x1="127.1" y1="252.2" x2="127.1" y2="254.4"/>
<line x1="48.2" y1="200.4" x2="46.0" y2="201.6"/>
<line x1="132.4" y1="250.0" x2="132.4" y2="252.2"/>
<line x1="52.3" y1="203.4" x2="50.1" y2="204.6"/>
<line x1="137.8" y1="247.7" x2="137.8" y2="249.9"/>
<line x1="56.4" y1="206.4" x2="54.2" y2="207.6"/>
<line x1="143.1" y1="245.5" x2="143.1" y2="247.7"/>
<line x1="60.5" y1="209.4" x2="58.2" y2="210.6"/>
<line x1="148.4" y1="243.2" x2="148.4" y2="245.4"/>
<line x1="64.5" y1="212.4" x2="62.3" y2="213.6"/>
<line x1="153.8" y1="240.9" x2="153.8" y2="243.1"/>
<line x1="68.6" y1="215.4" x2="66.4" y2="216.6"/>
<line x1="159.1" y1="238.7" x2="159.1" y2="240.9"/>
<line x1="72.7" y1="218.4" x2="70.5" y2="219.6"/>
<line x1="164.4" y1="236.4" x2="164.4" y2="238.6"/>
<line x1="76.8" y1="221.4" x2="74.6" y2="222.6"/>
<line x1="169.7" y1="234.2" x2="169.7" y2="236.4"/>
<line x1="80.9" y1="224.4" x2="78.7" y2="225.6"/>
<line x1="175.1" y1="231.9" x2="175.1" y2="234.1"/>
<line x1="85.0" y1="227.5" x2="82.8" y2="228.7"/>
<line x1="180.4" y1="229.6" x2="180.4" y2="231.8"/>
<line x1="89.1" y1="230.5" x2="86.9" y2="231.7"/>
<line x1="185.7" y1="227.4" x2="185.7" y2="229.6"/>
<line x1="93.2" y1="233.5" x2="91.0" y2="234.7"/>
<line x1="191.0" y1="225.1" x2="191.0" y2="227.3"/>
<line x1="97.3" y1="236.5" x2="95.1" y2="237.7"/>
<line x1="196.4" y1="222.9" x2="196.4" y2="225.1"/>
<line x1="101.3" y1="239.5" x2="99.1" y2="240.7"/>
<line x1="201.7" y1="220.6" x2="201.7" y2="222.8"/>
<line x1="105.4" y1="242.5" x2="103.2" y2="243.7"/>
<line x1="207.0" y1="218.3" x2="207.0" y2="220.5"/>
<line x1="109.5" y1="245.5" x2="107.3" y2="246.7"/>
<line x1="212.3" y1="216.1" x2="212.3" y2="218.3"/>
<line x1="113.6" y1="248.5" x2="111.4" y2="249.7"/>
<line x1="217.7" y1="213.8" x2="217.7" y2="216.0"/>
<line x1="117.7" y1="251.5" x2="115.5" y2="252.7"/>
<line x1="223.0" y1="211.6" x2="223.0" y2="213.8"/>
<line x1="40.0" y1="194.4" x2="37.5" y2="194.4"/>
<line x1="40.0" y1="172.8" x2="37.5" y2="172.8"/>
<line x1="40.0" y1="151.3" x2="37.5" y2="151.3"/>
<line x1="40.0" y1="129.7" x2="37.5" y2="129.7"/>
<line x1="40.0" y1="108.1" x2="37.5" y2="108.1"/>
<line x1="40.0" y1="86.6" x2="37.5" y2="86.6"/>
<line x1="40.0" y1="65.0" x2="37.5" y2="65.0"/>
</g>
<g font-family="Liberation Sans" font-size="8.5" fill="#333" text-anchor="end">
<text transform="translate(36.00 197.60) scale(0.82 1)" text-anchor="end">-0.1</text>
<text transform="translate(36.00 176.03) scale(0.82 1)" text-anchor="end">0</text>
<text transform="translate(36.00 154.47) scale(0.82 1)" text-anchor="end">0.1</text>
<text transform="translate(36.00 132.90) scale(0.82 1)" text-anchor="end">0.2</text>
<text transform="translate(36.00 111.33) scale(0.82 1)" text-anchor="end">0.3</text>
<text transform="translate(36.00 89.77) scale(0.82 1)" text-anchor="end">0.4</text>
<text transform="translate(36.00 68.20) scale(0.82 1)" text-anchor="end">0.5</text>
</g>
<g stroke="#000" stroke-width="0.45" stroke-linejoin="round">
<polygon points="139.9,127.3 144.0,130.0 149.4,131.5 145.3,126.9" fill="#002eff"/>
<polygon points="134.6,127.8 138.7,129.7 144.0,130.0 139.9,127.3" fill="#003eff"/>
<polygon points="144.0,130.0 148.1,134.0 153.4,137.1 149.4,131.5" fill="#0031ff"/>
<polygon points="129.3,126.3 133.4,127.6 138.7,129.7 134.6,127.8" fill="#0061ff"/>
<polygon points="138.7,129.7 142.8,133.1 148.1,134.0 144.0,130.0" fill="#0048ff"/>
<polygon points="148.1,134.0 152.2,138.4 157.5,142.7 153.4,137.1" fill="#0027ff"/>
<polygon points="124.0,116.2 128.1,117.5 133.4,127.6 129.3,126.3" fill="#00d3ff"/>
<polygon points="133.4,127.6 137.5,130.4 142.8,133.1 138.7,129.7" fill="#0070ff"/>
<polygon points="142.8,133.1 146.9,137.3 152.2,138.4 148.1,134.0" fill="#0045ff"/>
<polygon points="152.2,138.4 156.3,142.0 161.6,147.0 157.5,142.7" fill="#001aff"/>
<polygon points="118.6,101.8 122.7,103.5 128.1,117.5 124.0,116.2" fill="#62ff9e"/>
<polygon points="128.1,117.5 132.1,119.9 137.5,130.4 133.4,127.6" fill="#00e3ff"/>
<polygon points="137.5,130.4 141.6,134.3 146.9,137.3 142.8,133.1" fill="#0073ff"/>
<polygon points="146.9,137.3 151.0,141.0 156.3,142.0 152.2,138.4" fill="#0039ff"/>
<polygon points="113.3,104.5 117.4,106.3 122.7,103.5 118.6,101.8" fill="#62ff9e"/>
<polygon points="156.3,142.0 160.4,144.0 165.7,150.0 161.6,147.0" fill="#0015ff"/>
<polygon points="122.7,103.5 126.8,105.8 132.1,119.9 128.1,117.5" fill="#62ff9e"/>
<polygon points="132.1,119.9 136.2,123.7 141.6,134.3 137.5,130.4" fill="#00e8ff"/>
<polygon points="141.6,134.3 145.7,138.2 151.0,141.0 146.9,137.3" fill="#006aff"/>
<polygon points="108.0,109.3 112.1,111.4 117.4,106.3 113.3,104.5" fill="#53ffac"/>
<polygon points="151.0,141.0 155.1,143.4 160.4,144.0 156.3,142.0" fill="#0033ff"/>
<polygon points="117.4,106.3 121.5,108.3 126.8,105.8 122.7,103.5" fill="#62ff9e"/>
<polygon points="160.4,144.0 164.5,145.4 169.8,152.6 165.7,150.0" fill="#001dff"/>
<polygon points="126.8,105.8 130.9,109.7 136.2,123.7 132.1,119.9" fill="#62ff9e"/>
<polygon points="136.2,123.7 140.3,128.1 145.7,138.2 141.6,134.3" fill="#00e1ff"/>
<polygon points="102.7,116.0 106.8,118.7 112.1,111.4 108.0,109.3" fill="#2affd5"/>
<polygon points="145.7,138.2 149.7,141.0 155.1,143.4 151.0,141.0" fill="#0061ff"/>
<polygon points="112.1,111.4 116.2,113.3 121.5,108.3 117.4,106.3" fill="#5bffa4"/>
<polygon points="155.1,143.4 159.2,144.6 164.5,145.4 160.4,144.0" fill="#0038ff"/>
<polygon points="121.5,108.3 125.6,111.5 130.9,109.7 126.8,105.8" fill="#62ff9e"/>
<polygon points="164.5,145.4 168.6,147.2 173.9,156.3 169.8,152.6" fill="#002dff"/>
<polygon points="130.9,109.7 135.0,114.4 140.3,128.1 136.2,123.7" fill="#62ff9e"/>
<polygon points="97.3,122.6 101.4,125.6 106.8,118.7 102.7,116.0" fill="#02fffd"/>
<polygon points="140.3,128.1 144.4,131.6 149.7,141.0 145.7,138.2" fill="#00d5ff"/>
<polygon points="106.8,118.7 110.8,120.6 116.2,113.3 112.1,111.4" fill="#2dffd2"/>
<polygon points="149.7,141.0 153.8,142.4 159.2,144.6 155.1,143.4" fill="#0063ff"/>
<polygon points="116.2,113.3 120.3,116.1 125.6,111.5 121.5,108.3" fill="#62ff9e"/>
<polygon points="159.2,144.6 163.2,145.9 168.6,147.2 164.5,145.4" fill="#0049ff"/>
<polygon points="125.6,111.5 129.7,116.1 135.0,114.4 130.9,109.7" fill="#62ff9e"/>
<polygon points="92.0,126.7 96.1,130.1 101.4,125.6 97.3,122.6" fill="#00efff"/>
<polygon points="168.6,147.2 172.7,150.5 178.0,161.4 173.9,156.3" fill="#0038ff"/>
<polygon points="135.0,114.4 139.1,118.9 144.4,131.6 140.3,128.1" fill="#62ff9e"/>
<polygon points="101.4,125.6 105.5,127.5 110.8,120.6 106.8,118.7" fill="#02fffd"/>
<polygon points="144.4,131.6 148.5,133.7 153.8,142.4 149.7,141.0" fill="#00d0ff"/>
<polygon points="110.8,120.6 114.9,123.1 120.3,116.1 116.2,113.3" fill="#37ffc8"/>
<polygon points="153.8,142.4 157.9,143.4 163.2,145.9 159.2,144.6" fill="#0072ff"/>
<polygon points="120.3,116.1 124.4,120.4 129.7,116.1 125.6,111.5" fill="#62ff9e"/>
<polygon points="86.7,130.7 90.8,134.3 96.1,130.1 92.0,126.7" fill="#00dfff"/>
<polygon points="163.2,145.9 167.3,148.3 172.7,150.5 168.6,147.2" fill="#0059ff"/>
<polygon points="129.7,116.1 133.8,120.8 139.1,118.9 135.0,114.4" fill="#62ff9e"/>
<polygon points="96.1,130.1 100.2,132.0 105.5,127.5 101.4,125.6" fill="#00ecff"/>
<polygon points="172.7,150.5 176.8,154.8 182.1,167.2 178.0,161.4" fill="#0035ff"/>
<polygon points="139.1,118.9 143.2,122.0 148.5,133.7 144.4,131.6" fill="#5cffa3"/>
<polygon points="105.5,127.5 109.6,129.5 114.9,123.1 110.8,120.6" fill="#0cfff3"/>
<polygon points="148.5,133.7 152.6,134.9 157.9,143.4 153.8,142.4" fill="#00d8ff"/>
<polygon points="114.9,123.1 119.0,127.0 124.4,120.4 120.3,116.1" fill="#3cffc3"/>
<polygon points="81.4,132.4 85.5,136.4 90.8,134.3 86.7,130.7" fill="#00e4ff"/>
<polygon points="157.9,143.4 162.0,145.2 167.3,148.3 163.2,145.9" fill="#0085ff"/>
<polygon points="124.4,120.4 128.4,125.4 133.8,120.8 129.7,116.1" fill="#5bffa4"/>
<polygon points="90.8,134.3 94.9,136.5 100.2,132.0 96.1,130.1" fill="#00daff"/>
<polygon points="167.3,148.3 171.4,152.2 176.8,154.8 172.7,150.5" fill="#005eff"/>
<polygon points="133.8,120.8 137.9,124.5 143.2,122.0 139.1,118.9" fill="#5fffa0"/>
<polygon points="100.2,132.0 104.3,133.6 109.6,129.5 105.5,127.5" fill="#00f6ff"/>
<polygon points="176.8,154.8 180.8,159.0 186.2,172.3 182.1,167.2" fill="#0029ff"/>
<polygon points="143.2,122.0 147.3,123.9 152.6,134.9 148.5,133.7" fill="#5bffa4"/>
<polygon points="109.6,129.5 113.7,132.8 119.0,127.0 114.9,123.1" fill="#15ffea"/>
<polygon points="76.0,134.1 80.1,138.2 85.5,136.4 81.4,132.4" fill="#00eaff"/>
<polygon points="152.6,134.9 156.7,136.6 162.0,145.2 157.9,143.4" fill="#00e9ff"/>
<polygon points="119.0,127.0 123.1,132.0 128.4,125.4 124.4,120.4" fill="#33ffcc"/>
<polygon points="85.5,136.4 89.5,138.9 94.9,136.5 90.8,134.3" fill="#00dcff"/>
<polygon points="162.0,145.2 166.1,148.5 171.4,152.2 167.3,148.3" fill="#0090ff"/>
<polygon points="128.4,125.4 132.5,129.6 137.9,124.5 133.8,120.8" fill="#4affb5"/>
<polygon points="94.9,136.5 99.0,137.8 104.3,133.6 100.2,132.0" fill="#00e1ff"/>
<polygon points="171.4,152.2 175.5,156.3 180.8,159.0 176.8,154.8" fill="#0057ff"/>
<polygon points="137.9,124.5 141.9,126.7 147.3,123.9 143.2,122.0" fill="#58ffa7"/>
<polygon points="104.3,133.6 108.4,136.1 113.7,132.8 109.6,129.5" fill="#04fffb"/>
<polygon points="70.7,133.6 74.8,137.8 80.1,138.2 76.0,134.1" fill="#04fffb"/>
<polygon points="180.8,159.0 184.9,162.0 190.3,176.1 186.2,172.3" fill="#001eff"/>
<polygon points="147.3,123.9 151.4,125.7 156.7,136.6 152.6,134.9" fill="#62ff9e"/>
<polygon points="113.7,132.8 117.8,137.3 123.1,132.0 119.0,127.0" fill="#13ffec"/>
<polygon points="80.1,138.2 84.2,141.2 89.5,138.9 85.5,136.4" fill="#00e0ff"/>
<polygon points="156.7,136.6 160.8,139.5 166.1,148.5 162.0,145.2" fill="#00f5ff"/>
<polygon points="123.1,132.0 127.2,136.7 132.5,129.6 128.4,125.4" fill="#21ffde"/>
<polygon points="89.5,138.9 93.6,140.3 99.0,137.8 94.9,136.5" fill="#00e0ff"/>
<polygon points="166.1,148.5 170.2,152.6 175.5,156.3 171.4,152.2" fill="#008eff"/>
<polygon points="132.5,129.6 136.6,132.5 141.9,126.7 137.9,124.5" fill="#3effc1"/>
<polygon points="99.0,137.8 103.1,139.6 108.4,136.1 104.3,133.6" fill="#00f1ff"/>
<polygon points="65.4,134.4 69.5,137.0 74.8,137.8 70.7,133.6" fill="#11ffee"/>
<polygon points="175.5,156.3 179.6,159.6 184.9,162.0 180.8,159.0" fill="#004cff"/>
<polygon points="141.9,126.7 146.0,128.4 151.4,125.7 147.3,123.9" fill="#5fffa0"/>
<polygon points="108.4,136.1 112.5,140.0 117.8,137.3 113.7,132.8" fill="#09fff6"/>
<polygon points="74.8,137.8 78.9,141.4 84.2,141.2 80.1,138.2" fill="#00f8ff"/>
<polygon points="184.9,162.0 189.0,160.4 194.3,181.9 190.3,176.1" fill="#001eff"/>
<polygon points="151.4,125.7 155.4,128.6 160.8,139.5 156.7,136.6" fill="#62ff9e"/>
<polygon points="117.8,137.3 121.9,142.2 127.2,136.7 123.1,132.0" fill="#04fffb"/>
<polygon points="84.2,141.2 88.3,142.8 93.6,140.3 89.5,138.9" fill="#00e0ff"/>
<polygon points="160.8,139.5 164.9,143.7 170.2,152.6 166.1,148.5" fill="#00f6ff"/>
<polygon points="127.2,136.7 131.3,140.3 136.6,132.5 132.5,129.6" fill="#11ffee"/>
<polygon points="93.6,140.3 97.7,141.7 103.1,139.6 99.0,137.8" fill="#00efff"/>
<polygon points="60.1,128.1 64.2,130.8 69.5,137.0 65.4,134.4" fill="#bcff43"/>
<polygon points="170.2,152.6 174.3,156.2 179.6,159.6 175.5,156.3" fill="#0084ff"/>
<polygon points="136.6,132.5 140.7,134.3 146.0,128.4 141.9,126.7" fill="#3fffc0"/>
<polygon points="103.1,139.6 107.1,142.8 112.5,140.0 108.4,136.1" fill="#00fcff"/>
<polygon points="69.5,137.0 73.6,139.5 78.9,141.4 74.8,137.8" fill="#16ffe9"/>
<polygon points="179.6,159.6 183.7,161.4 189.0,160.4 184.9,162.0" fill="#0049ff"/>
<polygon points="146.0,128.4 150.1,130.8 155.4,128.6 151.4,125.7" fill="#62ff9e"/>
<polygon points="112.5,140.0 116.6,144.7 121.9,142.2 117.8,137.3" fill="#01fffe"/>
<polygon points="78.9,141.4 83.0,143.4 88.3,142.8 84.2,141.2" fill="#00f3ff"/>
<polygon points="189.0,160.4 193.1,163.4 198.4,184.9 194.3,181.9" fill="#008eff"/>
<polygon points="155.4,128.6 159.5,132.9 164.9,143.7 160.8,139.5" fill="#62ff9e"/>
<polygon points="121.9,142.2 126.0,146.2 131.3,140.3 127.2,136.7" fill="#00f2ff"/>
<polygon points="88.3,142.8 92.4,143.9 97.7,141.7 93.6,140.3" fill="#00edff"/>
<polygon points="54.7,106.6 58.8,110.0 64.2,130.8 60.1,128.1" fill="#ff8f00"/>
<polygon points="164.9,143.7 169.0,147.9 174.3,156.2 170.2,152.6" fill="#00ebff"/>
<polygon points="131.3,140.3 135.4,142.5 140.7,134.3 136.6,132.5" fill="#0cfff3"/>
<polygon points="97.7,141.7 101.8,144.2 107.1,142.8 103.1,139.6" fill="#00feff"/>
<polygon points="64.2,130.8 68.2,133.6 73.6,139.5 69.5,137.0" fill="#bcff43"/>
<polygon points="174.3,156.2 178.4,158.4 183.7,161.4 179.6,159.6" fill="#007eff"/>
<polygon points="140.7,134.3 144.8,136.5 150.1,130.8 146.0,128.4" fill="#4affb5"/>
<polygon points="107.1,142.8 111.2,147.1 116.6,144.7 112.5,140.0" fill="#00fbff"/>
<polygon points="73.6,139.5 77.7,142.0 83.0,143.4 78.9,141.4" fill="#1affe5"/>
<polygon points="183.7,161.4 187.8,162.5 193.1,163.4 189.0,160.4" fill="#0054ff"/>
<polygon points="150.1,130.8 154.2,134.6 159.5,132.9 155.4,128.6" fill="#62ff9e"/>
<polygon points="116.6,144.7 120.6,148.9 126.0,146.2 121.9,142.2" fill="#00f0ff"/>
<polygon points="83.0,143.4 87.1,144.6 92.4,143.9 88.3,142.8" fill="#00fcff"/>
<polygon points="49.4,83.0 53.5,86.4 58.8,110.0 54.7,106.6" fill="#890000"/>
<polygon points="193.1,163.4 197.2,166.4 202.5,187.9 198.4,184.9" fill="#008eff"/>
<polygon points="159.5,132.9 163.6,137.7 169.0,147.9 164.9,143.7" fill="#62ff9e"/>
<polygon points="126.0,146.2 130.1,148.7 135.4,142.5 131.3,140.3" fill="#00e9ff"/>
<polygon points="92.4,143.9 96.5,145.7 101.8,144.2 97.7,141.7" fill="#00feff"/>
<polygon points="58.8,110.0 62.9,113.3 68.2,133.6 64.2,130.8" fill="#ff8f00"/>
<polygon points="169.0,147.9 173.0,150.9 178.4,158.4 174.3,156.2" fill="#00e0ff"/>
<polygon points="135.4,142.5 139.5,144.5 144.8,136.5 140.7,134.3" fill="#13ffec"/>
<polygon points="101.8,144.2 105.9,148.0 111.2,147.1 107.1,142.8" fill="#04fffb"/>
<polygon points="68.2,133.6 72.3,136.4 77.7,142.0 73.6,139.5" fill="#bcff43"/>
<polygon points="178.4,158.4 182.5,159.5 187.8,162.5 183.7,161.4" fill="#0085ff"/>
<polygon points="144.8,136.5 148.9,139.9 154.2,134.6 150.1,130.8" fill="#52ffad"/>
<polygon points="111.2,147.1 115.3,151.3 120.6,148.9 116.6,144.7" fill="#00efff"/>
<polygon points="77.7,142.0 81.8,144.6 87.1,144.6 83.0,143.4" fill="#1fffe0"/>
<polygon points="187.8,162.5 191.9,164.1 197.2,166.4 193.1,163.4" fill="#0066ff"/>
<polygon points="154.2,134.6 158.3,139.4 163.6,137.7 159.5,132.9" fill="#62ff9e"/>
<polygon points="120.6,148.9 124.7,151.6 130.1,148.7 126.0,146.2" fill="#00e5ff"/>
<polygon points="87.1,144.6 91.2,146.0 96.5,145.7 92.4,143.9" fill="#0efff1"/>
<polygon points="53.5,86.4 57.6,89.7 62.9,113.3 58.8,110.0" fill="#890000"/>
<polygon points="197.2,166.4 201.3,169.4 206.6,190.9 202.5,187.9" fill="#008eff"/>
<polygon points="163.6,137.7 167.7,141.7 173.0,150.9 169.0,147.9" fill="#54ffab"/>
<polygon points="130.1,148.7 134.1,150.4 139.5,144.5 135.4,142.5" fill="#00eeff"/>
<polygon points="96.5,145.7 100.6,149.0 105.9,148.0 101.8,144.2" fill="#0afff5"/>
<polygon points="62.9,113.3 67.0,116.7 72.3,136.4 68.2,133.6" fill="#ff8f00"/>
<polygon points="173.0,150.9 177.1,152.5 182.5,159.5 178.4,158.4" fill="#00e0ff"/>
<polygon points="139.5,144.5 143.6,147.5 148.9,139.9 144.8,136.5" fill="#1dffe2"/>
<polygon points="105.9,148.0 110.0,152.3 115.3,151.3 111.2,147.1" fill="#00fbff"/>
<polygon points="72.3,136.4 76.4,139.1 81.8,144.6 77.7,142.0" fill="#bcff43"/>
<polygon points="182.5,159.5 186.6,160.6 191.9,164.1 187.8,162.5" fill="#0097ff"/>
<polygon points="148.9,139.9 153.0,144.6 158.3,139.4 154.2,134.6" fill="#4effb1"/>
<polygon points="115.3,151.3 119.4,154.4 124.7,151.6 120.6,148.9" fill="#00e3ff"/>
<polygon points="81.8,144.6 85.8,147.1 91.2,146.0 87.1,144.6" fill="#23ffdc"/>
<polygon points="191.9,164.1 196.0,167.2 201.3,169.4 197.2,166.4" fill="#0073ff"/>
<polygon points="158.3,139.4 162.4,143.9 167.7,141.7 163.6,137.7" fill="#59ffa6"/>
<polygon points="124.7,151.6 128.8,153.3 134.1,150.4 130.1,148.7" fill="#00e7ff"/>
<polygon points="91.2,146.0 95.3,148.7 100.6,149.0 96.5,145.7" fill="#1dffe2"/>
<polygon points="57.6,89.7 61.7,93.1 67.0,116.7 62.9,113.3" fill="#890000"/>
<polygon points="201.3,169.4 205.4,172.5 210.7,193.9 206.6,190.9" fill="#008eff"/>
<polygon points="167.7,141.7 171.8,144.3 177.1,152.5 173.0,150.9" fill="#4bffb4"/>
<polygon points="134.1,150.4 138.2,152.8 143.6,147.5 139.5,144.5" fill="#00f9ff"/>
<polygon points="100.6,149.0 104.7,153.2 110.0,152.3 105.9,148.0" fill="#07fff8"/>
<polygon points="67.0,116.7 71.1,120.1 76.4,139.1 72.3,136.4" fill="#ff8f00"/>
<polygon points="177.1,152.5 181.2,153.7 186.6,160.6 182.5,159.5" fill="#00edff"/>
<polygon points="143.6,147.5 147.7,151.9 153.0,144.6 148.9,139.9" fill="#1dffe2"/>
<polygon points="110.0,152.3 114.1,155.8 119.4,154.4 115.3,151.3" fill="#00efff"/>
<polygon points="76.4,139.1 80.5,141.9 85.8,147.1 81.8,144.6" fill="#bcff43"/>
<polygon points="186.6,160.6 190.6,163.0 196.0,167.2 191.9,164.1" fill="#00a8ff"/>
<polygon points="153.0,144.6 157.1,149.4 162.4,143.9 158.3,139.4" fill="#3fffc0"/>
<polygon points="119.4,154.4 123.5,156.1 128.8,153.3 124.7,151.6" fill="#00e2ff"/>
<polygon points="85.8,147.1 89.9,149.6 95.3,148.7 91.2,146.0" fill="#28ffd7"/>
<polygon points="196.0,167.2 200.1,171.3 205.4,172.5 201.3,169.4" fill="#0072ff"/>
<polygon points="162.4,143.9 166.5,147.0 171.8,144.3 167.7,141.7" fill="#4cffb3"/>
<polygon points="128.8,153.3 132.9,155.1 138.2,152.8 134.1,150.4" fill="#00f4ff"/>
<polygon points="95.3,148.7 99.3,152.7 104.7,153.2 100.6,149.0" fill="#1fffe0"/>
<polygon points="61.7,93.1 65.8,96.5 71.1,120.1 67.0,116.7" fill="#890000"/>
<polygon points="205.4,172.5 209.5,175.5 214.8,196.9 210.7,193.9" fill="#008eff"/>
<polygon points="171.8,144.3 175.9,146.0 181.2,153.7 177.1,152.5" fill="#4fffb0"/>
<polygon points="138.2,152.8 142.3,156.7 147.7,151.9 143.6,147.5" fill="#00ffff"/>
<polygon points="104.7,153.2 108.8,157.0 114.1,155.8 110.0,152.3" fill="#00fbff"/>
<polygon points="71.1,120.1 75.2,123.4 80.5,141.9 76.4,139.1" fill="#ff8f00"/>
<polygon points="181.2,153.7 185.3,155.8 190.6,163.0 186.6,160.6" fill="#00fdff"/>
<polygon points="147.7,151.9 151.7,156.9 157.1,149.4 153.0,144.6" fill="#10ffef"/>
<polygon points="114.1,155.8 118.2,157.9 123.5,156.1 119.4,154.4" fill="#00eaff"/>
<polygon points="80.5,141.9 84.6,144.7 89.9,149.6 85.8,147.1" fill="#bcff43"/>
<polygon points="190.6,163.0 194.7,166.7 200.1,171.3 196.0,167.2" fill="#00aeff"/>
<polygon points="157.1,149.4 161.2,153.2 166.5,147.0 162.4,143.9" fill="#2effd1"/>
<polygon points="123.5,156.1 127.6,157.5 132.9,155.1 128.8,153.3" fill="#00eeff"/>
<polygon points="89.9,149.6 94.0,152.1 99.3,152.7 95.3,148.7" fill="#2cffd3"/>
<polygon points="200.1,171.3 204.1,175.3 209.5,175.5 205.4,172.5" fill="#0068ff"/>
<polygon points="166.5,147.0 170.6,148.8 175.9,146.0 171.8,144.3" fill="#4bffb4"/>
<polygon points="132.9,155.1 137.0,158.1 142.3,156.7 138.2,152.8" fill="#00ffff"/>
<polygon points="99.3,152.7 103.4,156.8 108.8,157.0 104.7,153.2" fill="#16ffe9"/>
<polygon points="65.8,96.5 69.9,99.8 75.2,123.4 71.1,120.1" fill="#890000"/>
<polygon points="209.5,175.5 213.6,178.5 218.9,199.9 214.8,196.9" fill="#008eff"/>
<polygon points="175.9,146.0 180.0,148.1 185.3,155.8 181.2,153.7" fill="#5bffa4"/>
<polygon points="142.3,156.7 146.4,161.5 151.7,156.9 147.7,151.9" fill="#00f7ff"/>
<polygon points="108.8,157.0 112.8,159.5 118.2,157.9 114.1,155.8" fill="#00f4ff"/>
<polygon points="75.2,123.4 79.3,126.8 84.6,144.7 80.5,141.9" fill="#ff8f00"/>
<polygon points="185.3,155.8 189.4,159.3 194.7,166.7 190.6,163.0" fill="#07fff8"/>
<polygon points="151.7,156.9 155.8,161.3 161.2,153.2 157.1,149.4" fill="#00fcff"/>
<polygon points="118.2,157.9 122.3,159.1 127.6,157.5 123.5,156.1" fill="#00f3ff"/>
<polygon points="84.6,144.7 88.7,147.4 94.0,152.1 89.9,149.6" fill="#bcff43"/>
<polygon points="194.7,166.7 198.8,170.8 204.1,175.3 200.1,171.3" fill="#00a7ff"/>
<polygon points="161.2,153.2 165.2,155.5 170.6,148.8 166.5,147.0" fill="#27ffd8"/>
<polygon points="127.6,157.5 131.7,159.7 137.0,158.1 132.9,155.1" fill="#00feff"/>
<polygon points="94.0,152.1 98.1,154.7 103.4,156.8 99.3,152.7" fill="#31ffce"/>
<polygon points="204.1,175.3 208.2,178.0 213.6,178.5 209.5,175.5" fill="#005fff"/>
<polygon points="170.6,148.8 174.7,150.6 180.0,148.1 175.9,146.0" fill="#56ffa9"/>
<polygon points="137.0,158.1 141.1,162.4 146.4,161.5 142.3,156.7" fill="#00ffff"/>
<polygon points="103.4,156.8 107.5,159.8 112.8,159.5 108.8,157.0" fill="#0cfff3"/>
<polygon points="69.9,99.8 74.0,103.2 79.3,126.8 75.2,123.4" fill="#890000"/>
<polygon points="180.0,148.1 184.1,151.6 189.4,159.3 185.3,155.8" fill="#62ff9e"/>
<polygon points="146.4,161.5 150.5,166.2 155.8,161.3 151.7,156.9" fill="#00e6ff"/>
<polygon points="112.8,159.5 116.9,160.7 122.3,159.1 118.2,157.9" fill="#00f9ff"/>
<polygon points="79.3,126.8 83.4,130.2 88.7,147.4 84.6,144.7" fill="#ff8f00"/>
<polygon points="189.4,159.3 193.5,163.7 198.8,170.8 194.7,166.7" fill="#02fffd"/>
<polygon points="155.8,161.3 159.9,164.3 165.2,155.5 161.2,153.2" fill="#00efff"/>
<polygon points="122.3,159.1 126.4,160.7 131.7,159.7 127.6,157.5" fill="#05fffa"/>
<polygon points="88.7,147.4 92.8,150.2 98.1,154.7 94.0,152.1" fill="#bcff43"/>
<polygon points="198.8,170.8 202.9,173.9 208.2,178.0 204.1,175.3" fill="#009eff"/>
<polygon points="165.2,155.5 169.3,157.3 174.7,150.6 170.6,148.8" fill="#2dffd2"/>
<polygon points="131.7,159.7 135.8,163.4 141.1,162.4 137.0,158.1" fill="#06fff9"/>
<polygon points="98.1,154.7 102.2,157.2 107.5,159.8 103.4,156.8" fill="#35ffca"/>
<polygon points="174.7,150.6 178.8,153.6 184.1,151.6 180.0,148.1" fill="#61ff9e"/>
<polygon points="141.1,162.4 145.2,167.1 150.5,166.2 146.4,161.5" fill="#00f2ff"/>
<polygon points="107.5,159.8 111.6,161.4 116.9,160.7 112.8,159.5" fill="#0cfff3"/>
<polygon points="74.0,103.2 78.0,106.5 83.4,130.2 79.3,126.8" fill="#890000"/>
<polygon points="184.1,151.6 188.2,156.2 193.5,163.7 189.4,159.3" fill="#5fffa0"/>
<polygon points="150.5,166.2 154.6,169.5 159.9,164.3 155.8,161.3" fill="#00d7ff"/>
<polygon points="116.9,160.7 121.0,162.0 126.4,160.7 122.3,159.1" fill="#0bfff4"/>
<polygon points="83.4,130.2 87.5,133.5 92.8,150.2 88.7,147.4" fill="#ff8f00"/>
<polygon points="193.5,163.7 197.6,167.5 202.9,173.9 198.8,170.8" fill="#00f5ff"/>
<polygon points="159.9,164.3 164.0,166.2 169.3,157.3 165.2,155.5" fill="#00efff"/>
<polygon points="126.4,160.7 130.4,163.8 135.8,163.4 131.7,159.7" fill="#11ffee"/>
<polygon points="92.8,150.2 96.9,153.0 102.2,157.2 98.1,154.7" fill="#bcff43"/>
<polygon points="169.3,157.3 173.4,159.9 178.8,153.6 174.7,150.6" fill="#38ffc7"/>
<polygon points="135.8,163.4 139.9,167.9 145.2,167.1 141.1,162.4" fill="#00feff"/>
<polygon points="102.2,157.2 106.3,159.7 111.6,161.4 107.5,159.8" fill="#39ffc6"/>
<polygon points="178.8,153.6 182.8,157.9 188.2,156.2 184.1,151.6" fill="#61ff9e"/>
<polygon points="145.2,167.1 149.3,170.8 154.6,169.5 150.5,166.2" fill="#00e3ff"/>
<polygon points="111.6,161.4 115.7,162.5 121.0,162.0 116.9,160.7" fill="#19ffe6"/>
<polygon points="78.0,106.5 82.1,109.9 87.5,133.5 83.4,130.2" fill="#890000"/>
<polygon points="188.2,156.2 192.3,160.9 197.6,167.5 193.5,163.7" fill="#50ffaf"/>
<polygon points="154.6,169.5 158.7,171.6 164.0,166.2 159.9,164.3" fill="#00d4ff"/>
<polygon points="121.0,162.0 125.1,164.3 130.4,163.8 126.4,160.7" fill="#1bffe4"/>
<polygon points="87.5,133.5 91.5,136.9 96.9,153.0 92.8,150.2" fill="#ff8f00"/>
<polygon points="164.0,166.2 168.1,168.5 173.4,159.9 169.3,157.3" fill="#00f9ff"/>
<polygon points="130.4,163.8 134.5,168.0 139.9,167.9 135.8,163.4" fill="#11ffee"/>
<polygon points="96.9,153.0 101.0,155.7 106.3,159.7 102.2,157.2" fill="#bcff43"/>
<polygon points="173.4,159.9 177.5,163.8 182.8,157.9 178.8,153.6" fill="#3cffc3"/>
<polygon points="139.9,167.9 143.9,171.8 149.3,170.8 145.2,167.1" fill="#00f1ff"/>
<polygon points="106.3,159.7 110.4,162.2 115.7,162.5 111.6,161.4" fill="#3effc1"/>
<polygon points="182.8,157.9 186.9,162.7 192.3,160.9 188.2,156.2" fill="#55ffaa"/>
<polygon points="149.3,170.8 153.4,173.0 158.7,171.6 154.6,169.5" fill="#00ddff"/>
<polygon points="115.7,162.5 119.8,164.4 125.1,164.3 121.0,162.0" fill="#2bffd4"/>
<polygon points="82.1,109.9 86.2,113.3 91.5,136.9 87.5,133.5" fill="#890000"/>
<polygon points="158.7,171.6 162.8,173.5 168.1,168.5 164.0,166.2" fill="#00dcff"/>
<polygon points="125.1,164.3 129.2,168.1 134.5,168.0 130.4,163.8" fill="#21ffde"/>
<polygon points="91.5,136.9 95.6,140.3 101.0,155.7 96.9,153.0" fill="#ff0200"/>
<polygon points="168.1,168.5 172.2,172.1 177.5,163.8 173.4,159.9" fill="#01fffe"/>
<polygon points="134.5,168.0 138.6,172.1 143.9,171.8 139.9,167.9" fill="#06fff9"/>
<polygon points="101.0,155.7 105.1,158.5 110.4,162.2 106.3,159.7" fill="#bcff43"/>
<polygon points="177.5,163.8 181.6,168.7 186.9,162.7 182.8,157.9" fill="#33ffcc"/>
<polygon points="143.9,171.8 148.0,174.3 153.4,173.0 149.3,170.8" fill="#00e8ff"/>
<polygon points="110.4,162.2 114.5,164.8 119.8,164.4 115.7,162.5" fill="#42ffbd"/>
<polygon points="153.4,173.0 157.5,174.6 162.8,173.5 158.7,171.6" fill="#00e4ff"/>
<polygon points="119.8,164.4 123.9,167.7 129.2,168.1 125.1,164.3" fill="#35ffca"/>
<polygon points="86.2,113.3 90.3,116.6 95.6,140.3 91.5,136.9" fill="#890000"/>
<polygon points="162.8,173.5 166.9,176.4 172.2,172.1 168.1,168.5" fill="#00e7ff"/>
<polygon points="129.2,168.1 133.3,172.3 138.6,172.1 134.5,168.0" fill="#1affe5"/>
<polygon points="95.6,140.3 99.7,143.6 105.1,158.5 101.0,155.7" fill="#ff0200"/>
<polygon points="172.2,172.1 176.3,176.9 181.6,168.7 177.5,163.8" fill="#00fbff"/>
<polygon points="138.6,172.1 142.7,175.1 148.0,174.3 143.9,171.8" fill="#00faff"/>
<polygon points="105.1,158.5 109.1,161.3 114.5,164.8 110.4,162.2" fill="#bcff43"/>
<polygon points="148.0,174.3 152.1,175.7 157.5,174.6 153.4,173.0" fill="#00edff"/>
<polygon points="114.5,164.8 118.6,167.3 123.9,167.7 119.8,164.4" fill="#47ffb8"/>
<polygon points="157.5,174.6 161.5,176.7 166.9,176.4 162.8,173.5" fill="#00f2ff"/>
<polygon points="123.9,167.7 128.0,171.9 133.3,172.3 129.2,168.1" fill="#33ffcc"/>
<polygon points="90.3,116.6 94.4,120.0 99.7,143.6 95.6,140.3" fill="#890000"/>
<polygon points="166.9,176.4 171.0,180.7 176.3,176.9 172.2,172.1" fill="#00e8ff"/>
<polygon points="133.3,172.3 137.4,175.6 142.7,175.1 138.6,172.1" fill="#0ffff0"/>
<polygon points="99.7,143.6 103.8,147.0 109.1,161.3 105.1,158.5" fill="#ff0200"/>
<polygon points="142.7,175.1 146.8,176.7 152.1,175.7 148.0,174.3" fill="#00fbff"/>
<polygon points="109.1,161.3 113.2,164.0 118.6,167.3 114.5,164.8" fill="#ffca00"/>
<polygon points="152.1,175.7 156.2,177.3 161.5,176.7 157.5,174.6" fill="#00fcff"/>
<polygon points="118.6,167.3 122.7,169.8 128.0,171.9 123.9,167.7" fill="#4bffb4"/>
<polygon points="161.5,176.7 165.6,180.3 171.0,180.7 166.9,176.4" fill="#00f9ff"/>
<polygon points="128.0,171.9 132.1,175.7 137.4,175.6 133.3,172.3" fill="#28ffd7"/>
<polygon points="94.4,120.0 98.5,123.4 103.8,147.0 99.7,143.6" fill="#890000"/>
<polygon points="137.4,175.6 141.5,177.5 146.8,176.7 142.7,175.1" fill="#0cfff3"/>
<polygon points="103.8,147.0 107.9,150.4 113.2,164.0 109.1,161.3" fill="#ff0200"/>
<polygon points="146.8,176.7 150.9,177.9 156.2,177.3 152.1,175.7" fill="#09fff6"/>
<polygon points="113.2,164.0 117.3,166.8 122.7,169.8 118.6,167.3" fill="#ffca00"/>
<polygon points="156.2,177.3 160.3,180.1 165.6,180.3 161.5,176.7" fill="#0afff5"/>
<polygon points="122.7,169.8 126.7,172.3 132.1,175.7 128.0,171.9" fill="#50ffaf"/>
<polygon points="132.1,175.7 136.2,178.1 141.5,177.5 137.4,175.6" fill="#20ffdf"/>
<polygon points="98.5,123.4 102.6,126.7 107.9,150.4 103.8,147.0" fill="#890000"/>
<polygon points="141.5,177.5 145.6,178.6 150.9,177.9 146.8,176.7" fill="#16ffe9"/>
<polygon points="107.9,150.4 112.0,153.7 117.3,166.8 113.2,164.0" fill="#ff0200"/>
<polygon points="150.9,177.9 155.0,180.0 160.3,180.1 156.2,177.3" fill="#1affe5"/>
<polygon points="117.3,166.8 121.4,169.6 126.7,172.3 122.7,169.8" fill="#ffca00"/>
<polygon points="126.7,172.3 130.8,174.9 136.2,178.1 132.1,175.7" fill="#54ffab"/>
<polygon points="136.2,178.1 140.2,179.3 145.6,178.6 141.5,177.5" fill="#26ffd9"/>
<polygon points="102.6,126.7 106.7,123.6 112.0,153.7 107.9,150.4" fill="#890000"/>
<polygon points="145.6,178.6 149.7,180.2 155.0,180.0 150.9,177.9" fill="#28ffd7"/>
<polygon points="112.0,153.7 116.1,157.1 121.4,169.6 117.3,166.8" fill="#ff3e00"/>
<polygon points="121.4,169.6 125.5,172.3 130.8,174.9 126.7,172.3" fill="#ffca00"/>
<polygon points="130.8,174.9 134.9,177.4 140.2,179.3 136.2,178.1" fill="#59ffa6"/>
<polygon points="140.2,179.3 144.3,180.6 149.7,180.2 145.6,178.6" fill="#36ffc9"/>
<polygon points="106.7,123.6 110.8,127.0 116.1,157.1 112.0,153.7" fill="#890000"/>
<polygon points="116.1,157.1 120.2,160.4 125.5,172.3 121.4,169.6" fill="#ff3e00"/>
<polygon points="125.5,172.3 129.6,175.1 134.9,177.4 130.8,174.9" fill="#bcff43"/>
<polygon points="134.9,177.4 139.0,179.9 144.3,180.6 140.2,179.3" fill="#5dffa2"/>
<polygon points="110.8,127.0 114.9,130.4 120.2,160.4 116.1,157.1" fill="#890000"/>
<polygon points="120.2,160.4 124.3,163.8 129.6,175.1 125.5,172.3" fill="#ff8f00"/>
<polygon points="129.6,175.1 133.7,177.9 139.0,179.9 134.9,177.4" fill="#bcff43"/>
<polygon points="114.9,130.4 118.9,140.2 124.3,163.8 120.2,160.4" fill="#890000"/>
<polygon points="124.3,163.8 128.4,167.2 133.7,177.9 129.6,175.1" fill="#ff8f00"/>
<polygon points="118.9,140.2 123.0,143.6 128.4,167.2 124.3,163.8" fill="#890000"/>
</g>
<defs><linearGradient id="jg4" x1="0" y1="1" x2="0" y2="0">
<stop offset="0.000" stop-color="#000080"/>
<stop offset="0.125" stop-color="#0000ff"/>
<stop offset="0.250" stop-color="#0080ff"/>
<stop offset="0.375" stop-color="#00ffff"/>
<stop offset="0.500" stop-color="#80ff80"/>
<stop offset="0.625" stop-color="#ffff00"/>
<stop offset="0.750" stop-color="#ff8000"/>
<stop offset="0.875" stop-color="#ff0000"/>
<stop offset="1.000" stop-color="#800000"/>
</linearGradient></defs>
<rect x="248.5" y="21.2" width="10.5" height="232.9" fill="url(#jg4)" stroke="#333" stroke-width="0.6"/>
<g font-family="Liberation Sans" font-size="8.5" fill="#333">
<line x1="257.5" y1="238.1" x2="259.0" y2="238.1" stroke="#333" stroke-width="0.6"/>
<text transform="translate(261.50 241.12) scale(0.82 1)">-0.05</text>
<line x1="257.5" y1="215.3" x2="259.0" y2="215.3" stroke="#333" stroke-width="0.6"/>
<text transform="translate(261.50 218.28) scale(0.82 1)">0</text>
<line x1="257.5" y1="192.4" x2="259.0" y2="192.4" stroke="#333" stroke-width="0.6"/>
<text transform="translate(261.50 195.45) scale(0.82 1)">0.05</text>
<line x1="257.5" y1="169.6" x2="259.0" y2="169.6" stroke="#333" stroke-width="0.6"/>
<text transform="translate(261.50 172.62) scale(0.82 1)">0.1</text>
<line x1="257.5" y1="146.8" x2="259.0" y2="146.8" stroke="#333" stroke-width="0.6"/>
<text transform="translate(261.50 149.78) scale(0.82 1)">0.15</text>
<line x1="257.5" y1="123.9" x2="259.0" y2="123.9" stroke="#333" stroke-width="0.6"/>
<text transform="translate(261.50 126.95) scale(0.82 1)">0.2</text>
<line x1="257.5" y1="101.1" x2="259.0" y2="101.1" stroke="#333" stroke-width="0.6"/>
<text transform="translate(261.50 104.12) scale(0.82 1)">0.25</text>
<line x1="257.5" y1="78.3" x2="259.0" y2="78.3" stroke="#333" stroke-width="0.6"/>
<text transform="translate(261.50 81.28) scale(0.82 1)">0.3</text>
<line x1="257.5" y1="55.4" x2="259.0" y2="55.4" stroke="#333" stroke-width="0.6"/>
<text transform="translate(261.50 58.45) scale(0.82 1)">0.35</text>
<line x1="257.5" y1="32.6" x2="259.0" y2="32.6" stroke="#333" stroke-width="0.6"/>
<text transform="translate(261.50 35.62) scale(0.82 1)">0.4</text>
</g>
<g font-family="Liberation Sans" font-size="10.0" fill="#3a3a3a">
<text transform="translate(61.70 276.30) scale(0.75 1)">BTC</text>
<text transform="translate(172.50 279.20) scale(0.75 1)">OIL</text>
</g>
<g font-family="Liberation Sans" font-size="8.5" fill="#444">
<text transform="translate(39.59 202.41) rotate(-63.0) scale(0.90 1)" font-size="9.0" text-anchor="end">0.05</text>
<text transform="translate(128.82 257.64) rotate(75.0) scale(0.90 1)">0.05</text>
<text transform="translate(43.68 205.41) rotate(-63.0) scale(0.90 1)" font-size="9.0" text-anchor="end">0.1</text>
<text transform="translate(134.15 255.38) rotate(75.0) scale(0.90 1)">0.1</text>
<text transform="translate(47.77 208.41) rotate(-63.0) scale(0.90 1)" font-size="9.0" text-anchor="end">0.15</text>
<text transform="translate(139.47 253.12) rotate(75.0) scale(0.90 1)">0.15</text>
<text transform="translate(51.86 211.42) rotate(-63.0) scale(0.90 1)" font-size="9.0" text-anchor="end">0.2</text>
<text transform="translate(144.80 250.86) rotate(75.0) scale(0.90 1)">0.2</text>
<text transform="translate(55.95 214.43) rotate(-63.0) scale(0.90 1)" font-size="9.0" text-anchor="end">0.25</text>
<text transform="translate(150.12 248.60) rotate(75.0) scale(0.90 1)">0.25</text>
<text transform="translate(60.04 217.43) rotate(-63.0) scale(0.90 1)" font-size="9.0" text-anchor="end">0.3</text>
<text transform="translate(155.45 246.34) rotate(75.0) scale(0.90 1)">0.3</text>
<text transform="translate(64.13 220.44) rotate(-63.0) scale(0.90 1)" font-size="9.0" text-anchor="end">0.35</text>
<text transform="translate(160.77 244.08) rotate(75.0) scale(0.90 1)">0.35</text>
<text transform="translate(68.22 223.44) rotate(-63.0) scale(0.90 1)" font-size="9.0" text-anchor="end">0.4</text>
<text transform="translate(166.10 241.82) rotate(75.0) scale(0.90 1)">0.4</text>
<text transform="translate(72.31 226.44) rotate(-63.0) scale(0.90 1)" font-size="9.0" text-anchor="end">0.45</text>
<text transform="translate(171.42 239.56) rotate(75.0) scale(0.90 1)">0.45</text>
<text transform="translate(76.40 229.45) rotate(-63.0) scale(0.90 1)" font-size="9.0" text-anchor="end">0.5</text>
<text transform="translate(176.75 237.30) rotate(75.0) scale(0.90 1)">0.5</text>
<text transform="translate(80.49 232.46) rotate(-63.0) scale(0.90 1)" font-size="9.0" text-anchor="end">0.55</text>
<text transform="translate(182.07 235.04) rotate(75.0) scale(0.90 1)">0.55</text>
<text transform="translate(84.58 235.46) rotate(-63.0) scale(0.90 1)" font-size="9.0" text-anchor="end">0.6</text>
<text transform="translate(187.40 232.78) rotate(75.0) scale(0.90 1)">0.6</text>
<text transform="translate(88.67 238.47) rotate(-63.0) scale(0.90 1)" font-size="9.0" text-anchor="end">0.65</text>
<text transform="translate(192.72 230.52) rotate(75.0) scale(0.90 1)">0.65</text>
<text transform="translate(92.76 241.47) rotate(-63.0) scale(0.90 1)" font-size="9.0" text-anchor="end">0.7</text>
<text transform="translate(198.05 228.26) rotate(75.0) scale(0.90 1)">0.7</text>
<text transform="translate(96.85 244.47) rotate(-63.0) scale(0.90 1)" font-size="9.0" text-anchor="end">0.75</text>
<text transform="translate(203.38 226.00) rotate(75.0) scale(0.90 1)">0.75</text>
<text transform="translate(100.94 247.48) rotate(-63.0) scale(0.90 1)" font-size="9.0" text-anchor="end">0.8</text>
<text transform="translate(208.70 223.74) rotate(75.0) scale(0.90 1)">0.8</text>
<text transform="translate(105.03 250.49) rotate(-63.0) scale(0.90 1)" font-size="9.0" text-anchor="end">0.85</text>
<text transform="translate(214.02 221.48) rotate(75.0) scale(0.90 1)">0.85</text>
<text transform="translate(109.12 253.49) rotate(-63.0) scale(0.90 1)" font-size="9.0" text-anchor="end">0.9</text>
<text transform="translate(219.35 219.22) rotate(75.0) scale(0.90 1)">0.9</text>
<text transform="translate(113.21 256.50) rotate(-63.0) scale(0.90 1)" font-size="9.0" text-anchor="end">0.95</text>
<text transform="translate(224.68 216.96) rotate(75.0) scale(0.90 1)">0.95</text>
</g>
<text x="152.8" y="305.9" font-family="Liberation Serif" font-weight="bold" font-size="20.1" fill="#000" text-anchor="middle">OIL on BTC</text></g>
<g transform="translate(0,335)"><g stroke="#dcdcdc" stroke-width="0.6" fill="none">
<line x1="39.4" y1="194.7" x2="145.9" y2="149.5"/>
<line x1="39.4" y1="194.7" x2="121.5" y2="254.5"/>
<line x1="39.4" y1="194.7" x2="39.4" y2="65.7"/>
<line x1="145.9" y1="149.5" x2="145.9" y2="20.5"/>
<line x1="43.5" y1="197.7" x2="150.0" y2="152.5"/>
<line x1="44.7" y1="192.4" x2="126.8" y2="252.2"/>
<line x1="44.7" y1="192.4" x2="44.7" y2="63.4"/>
<line x1="150.0" y1="152.5" x2="150.0" y2="23.5"/>
<line x1="47.6" y1="200.7" x2="154.1" y2="155.5"/>
<line x1="50.0" y1="190.2" x2="132.2" y2="250.0"/>
<line x1="50.0" y1="190.2" x2="50.0" y2="61.2"/>
<line x1="154.1" y1="155.5" x2="154.1" y2="26.5"/>
<line x1="51.7" y1="203.7" x2="158.2" y2="158.5"/>
<line x1="55.4" y1="187.9" x2="137.5" y2="247.7"/>
<line x1="55.4" y1="187.9" x2="55.4" y2="58.9"/>
<line x1="158.2" y1="158.5" x2="158.2" y2="29.5"/>
<line x1="55.8" y1="206.7" x2="162.3" y2="161.5"/>
<line x1="60.7" y1="185.7" x2="142.8" y2="245.5"/>
<line x1="60.7" y1="185.7" x2="60.7" y2="56.7"/>
<line x1="162.3" y1="161.5" x2="162.3" y2="32.5"/>
<line x1="59.9" y1="209.6" x2="166.4" y2="164.4"/>
<line x1="66.0" y1="183.4" x2="148.1" y2="243.2"/>
<line x1="66.0" y1="183.4" x2="66.0" y2="54.4"/>
<line x1="166.4" y1="164.4" x2="166.4" y2="35.4"/>
<line x1="64.0" y1="212.6" x2="170.5" y2="167.4"/>
<line x1="71.3" y1="181.1" x2="153.4" y2="240.9"/>
<line x1="71.3" y1="181.1" x2="71.3" y2="52.1"/>
<line x1="170.5" y1="167.4" x2="170.5" y2="38.4"/>
<line x1="68.1" y1="215.6" x2="174.6" y2="170.4"/>
<line x1="76.7" y1="178.9" x2="158.8" y2="238.7"/>
<line x1="76.7" y1="178.9" x2="76.7" y2="49.9"/>
<line x1="174.6" y1="170.4" x2="174.6" y2="41.4"/>
<line x1="72.2" y1="218.6" x2="178.7" y2="173.4"/>
<line x1="82.0" y1="176.6" x2="164.1" y2="236.4"/>
<line x1="82.0" y1="176.6" x2="82.0" y2="47.6"/>
<line x1="178.7" y1="173.4" x2="178.7" y2="44.4"/>
<line x1="76.3" y1="221.6" x2="182.8" y2="176.4"/>
<line x1="87.3" y1="174.4" x2="169.4" y2="234.2"/>
<line x1="87.3" y1="174.4" x2="87.3" y2="45.4"/>
<line x1="182.8" y1="176.4" x2="182.8" y2="47.4"/>
<line x1="80.4" y1="224.6" x2="186.9" y2="179.4"/>
<line x1="92.7" y1="172.1" x2="174.8" y2="231.9"/>
<line x1="92.7" y1="172.1" x2="92.7" y2="43.1"/>
<line x1="186.9" y1="179.4" x2="186.9" y2="50.4"/>
<line x1="84.6" y1="227.6" x2="191.1" y2="182.4"/>
<line x1="98.0" y1="169.8" x2="180.1" y2="229.6"/>
<line x1="98.0" y1="169.8" x2="98.0" y2="40.8"/>
<line x1="191.1" y1="182.4" x2="191.1" y2="53.4"/>
<line x1="88.7" y1="230.6" x2="195.2" y2="185.4"/>
<line x1="103.3" y1="167.6" x2="185.4" y2="227.4"/>
<line x1="103.3" y1="167.6" x2="103.3" y2="38.6"/>
<line x1="195.2" y1="185.4" x2="195.2" y2="56.4"/>
<line x1="92.8" y1="233.6" x2="199.3" y2="188.4"/>
<line x1="108.6" y1="165.3" x2="190.7" y2="225.1"/>
<line x1="108.6" y1="165.3" x2="108.6" y2="36.3"/>
<line x1="199.3" y1="188.4" x2="199.3" y2="59.4"/>
<line x1="96.9" y1="236.6" x2="203.4" y2="191.4"/>
<line x1="113.9" y1="163.1" x2="196.1" y2="222.9"/>
<line x1="113.9" y1="163.1" x2="113.9" y2="34.1"/>
<line x1="203.4" y1="191.4" x2="203.4" y2="62.4"/>
<line x1="101.0" y1="239.6" x2="207.5" y2="194.4"/>
<line x1="119.3" y1="160.8" x2="201.4" y2="220.6"/>
<line x1="119.3" y1="160.8" x2="119.3" y2="31.8"/>
<line x1="207.5" y1="194.4" x2="207.5" y2="65.4"/>
<line x1="105.1" y1="242.5" x2="211.6" y2="197.3"/>
<line x1="124.6" y1="158.5" x2="206.7" y2="218.3"/>
<line x1="124.6" y1="158.5" x2="124.6" y2="29.5"/>
<line x1="211.6" y1="197.3" x2="211.6" y2="68.3"/>
<line x1="109.2" y1="245.5" x2="215.7" y2="200.3"/>
<line x1="129.9" y1="156.3" x2="212.0" y2="216.1"/>
<line x1="129.9" y1="156.3" x2="129.9" y2="27.3"/>
<line x1="215.7" y1="200.3" x2="215.7" y2="71.3"/>
<line x1="113.3" y1="248.5" x2="219.8" y2="203.3"/>
<line x1="135.2" y1="154.0" x2="217.4" y2="213.8"/>
<line x1="135.2" y1="154.0" x2="135.2" y2="25.0"/>
<line x1="219.8" y1="203.3" x2="219.8" y2="74.3"/>
<line x1="117.4" y1="251.5" x2="223.9" y2="206.3"/>
<line x1="140.6" y1="151.8" x2="222.7" y2="211.6"/>
<line x1="140.6" y1="151.8" x2="140.6" y2="22.8"/>
<line x1="223.9" y1="206.3" x2="223.9" y2="77.3"/>
<line x1="121.5" y1="254.5" x2="228.0" y2="209.3"/>
<line x1="145.9" y1="149.5" x2="228.0" y2="209.3"/>
<line x1="145.9" y1="149.5" x2="145.9" y2="20.5"/>
<line x1="228.0" y1="209.3" x2="228.0" y2="80.3"/>
<polyline points="39.4,194.7 145.9,149.5 228.0,209.3" stroke="#d2d2d2"/>
<polyline points="39.4,168.9 145.9,123.7 228.0,183.5" stroke="#d2d2d2"/>
<polyline points="39.4,143.1 145.9,97.9 228.0,157.7" stroke="#d2d2d2"/>
<polyline points="39.4,117.3 145.9,72.1 228.0,131.9" stroke="#d2d2d2"/>
<polyline points="39.4,91.5 145.9,46.3 228.0,106.1" stroke="#d2d2d2"/>
<polyline points="39.4,65.7 145.9,20.5 228.0,80.3" stroke="#d2d2d2"/>
<polyline points="39.4,65.7 145.9,20.5 228.0,80.3" stroke="#d2d2d2"/>
</g>
<g stroke="#5a5a5a" stroke-width="0.7" fill="none">
<polyline points="39.4,194.7 121.5,254.5 228.0,209.3"/>
<polyline points="39.4,194.7 39.4,65.7"/>
<line x1="43.5" y1="197.7" x2="41.3" y2="198.9"/>
<line x1="126.8" y1="252.2" x2="126.8" y2="254.4"/>
<line x1="47.6" y1="200.7" x2="45.4" y2="201.9"/>
<line x1="132.2" y1="250.0" x2="132.2" y2="252.2"/>
<line x1="51.7" y1="203.7" x2="49.5" y2="204.9"/>
<line x1="137.5" y1="247.7" x2="137.5" y2="249.9"/>
<line x1="55.8" y1="206.7" x2="53.6" y2="207.9"/>
<line x1="142.8" y1="245.5" x2="142.8" y2="247.7"/>
<line x1="59.9" y1="209.6" x2="57.7" y2="210.8"/>
<line x1="148.1" y1="243.2" x2="148.1" y2="245.4"/>
<line x1="64.0" y1="212.6" x2="61.8" y2="213.8"/>
<line x1="153.4" y1="240.9" x2="153.4" y2="243.1"/>
<line x1="68.1" y1="215.6" x2="65.9" y2="216.8"/>
<line x1="158.8" y1="238.7" x2="158.8" y2="240.9"/>
<line x1="72.2" y1="218.6" x2="70.0" y2="219.8"/>
<line x1="164.1" y1="236.4" x2="164.1" y2="238.6"/>
<line x1="76.3" y1="221.6" x2="74.1" y2="222.8"/>
<line x1="169.4" y1="234.2" x2="169.4" y2="236.4"/>
<line x1="80.4" y1="224.6" x2="78.2" y2="225.8"/>
<line x1="174.8" y1="231.9" x2="174.8" y2="234.1"/>
<line x1="84.6" y1="227.6" x2="82.4" y2="228.8"/>
<line x1="180.1" y1="229.6" x2="180.1" y2="231.8"/>
<line x1="88.7" y1="230.6" x2="86.5" y2="231.8"/>
<line x1="185.4" y1="227.4" x2="185.4" y2="229.6"/>
<line x1="92.8" y1="233.6" x2="90.6" y2="234.8"/>
<line x1="190.7" y1="225.1" x2="190.7" y2="227.3"/>
<line x1="96.9" y1="236.6" x2="94.7" y2="237.8"/>
<line x1="196.1" y1="222.9" x2="196.1" y2="225.1"/>
<line x1="101.0" y1="239.6" x2="98.8" y2="240.8"/>
<line x1="201.4" y1="220.6" x2="201.4" y2="222.8"/>
<line x1="105.1" y1="242.5" x2="102.9" y2="243.7"/>
<line x1="206.7" y1="218.3" x2="206.7" y2="220.5"/>
<line x1="109.2" y1="245.5" x2="107.0" y2="246.7"/>
<line x1="212.0" y1="216.1" x2="212.0" y2="218.3"/>
<line x1="113.3" y1="248.5" x2="111.1" y2="249.7"/>
<line x1="217.4" y1="213.8" x2="217.4" y2="216.0"/>
<line x1="117.4" y1="251.5" x2="115.2" y2="252.7"/>
<line x1="222.7" y1="211.6" x2="222.7" y2="213.8"/>
<line x1="39.4" y1="194.7" x2="36.9" y2="194.7"/>
<line x1="39.4" y1="168.9" x2="36.9" y2="168.9"/>
<line x1="39.4" y1="143.1" x2="36.9" y2="143.1"/>
<line x1="39.4" y1="117.3" x2="36.9" y2="117.3"/>
<line x1="39.4" y1="91.5" x2="36.9" y2="91.5"/>
<line x1="39.4" y1="65.7" x2="36.9" y2="65.7"/>
</g>
<g font-family="Liberation Sans" font-size="8.5" fill="#333" text-anchor="end">
<text transform="translate(35.40 197.90) scale(0.82 1)" text-anchor="end">0.4</text>
<text transform="translate(35.40 172.10) scale(0.82 1)" text-anchor="end">0.6</text>
<text transform="translate(35.40 146.30) scale(0.82 1)" text-anchor="end">0.8</text>
<text transform="translate(35.40 120.50) scale(0.82 1)" text-anchor="end">1</text>
<text transform="translate(35.40 94.70) scale(0.82 1)" text-anchor="end">1.2</text>
<text transform="translate(35.40 68.90) scale(0.82 1)" text-anchor="end">1.4</text>
</g>
<g stroke="#000" stroke-width="0.45" stroke-linejoin="round">
<polygon points="139.4,106.7 143.6,108.9 149.0,111.2 144.7,109.3" fill="#007bff"/>
<polygon points="134.0,119.4 138.3,121.5 143.6,108.9 139.4,106.7" fill="#000dff"/>
<polygon points="143.6,108.9 147.9,111.2 153.3,113.2 149.0,111.2" fill="#0081ff"/>
<polygon points="128.7,119.2 133.0,121.8 138.3,121.5 134.0,119.4" fill="#0027ff"/>
<polygon points="138.3,121.5 142.6,123.2 147.9,111.2 143.6,108.9" fill="#0018ff"/>
<polygon points="147.9,111.2 152.2,114.1 157.5,116.2 153.3,113.2" fill="#0081ff"/>
<polygon points="123.4,113.7 127.7,117.2 133.0,121.8 128.7,119.2" fill="#0078ff"/>
<polygon points="133.0,121.8 137.3,123.8 142.6,123.2 138.3,121.5" fill="#002cff"/>
<polygon points="142.6,123.2 146.9,125.4 152.2,114.1 147.9,111.2" fill="#0027ff"/>
<polygon points="118.1,121.1 122.3,124.7 127.7,117.2 123.4,113.7" fill="#0043ff"/>
<polygon points="152.2,114.1 156.5,118.1 161.8,120.2 157.5,116.2" fill="#0081ff"/>
<polygon points="127.7,117.2 132.0,119.8 137.3,123.8 133.0,121.8" fill="#0074ff"/>
<polygon points="137.3,123.8 141.6,126.1 146.9,125.4 142.6,123.2" fill="#0038ff"/>
<polygon points="112.7,125.7 117.0,129.7 122.3,124.7 118.1,121.1" fill="#002aff"/>
<polygon points="146.9,125.4 151.2,128.7 156.5,118.1 152.2,114.1" fill="#0030ff"/>
<polygon points="122.3,124.7 126.6,127.4 132.0,119.8 127.7,117.2" fill="#003eff"/>
<polygon points="156.5,118.1 160.8,122.7 166.1,124.6 161.8,120.2" fill="#0081ff"/>
<polygon points="132.0,119.8 136.2,122.5 141.6,126.1 137.3,123.8" fill="#0079ff"/>
<polygon points="107.4,130.3 111.7,134.5 117.0,129.7 112.7,125.7" fill="#0011ff"/>
<polygon points="141.6,126.1 145.9,129.3 151.2,128.7 146.9,125.4" fill="#0041ff"/>
<polygon points="117.0,129.7 121.3,132.7 126.6,127.4 122.3,124.7" fill="#0020ff"/>
<polygon points="151.2,128.7 155.5,132.8 160.8,122.7 156.5,118.1" fill="#002fff"/>
<polygon points="126.6,127.4 130.9,129.8 136.2,122.5 132.0,119.8" fill="#0042ff"/>
<polygon points="160.8,122.7 165.1,127.2 170.4,128.5 166.1,124.6" fill="#0076ff"/>
<polygon points="102.1,134.8 106.4,139.2 111.7,134.5 107.4,130.3" fill="#0000f9"/>
<polygon points="136.2,122.5 140.5,126.0 145.9,129.3 141.6,126.1" fill="#007eff"/>
<polygon points="111.7,134.5 116.0,137.7 121.3,132.7 117.0,129.7" fill="#0006ff"/>
<polygon points="145.9,129.3 150.1,133.5 155.5,132.8 151.2,128.7" fill="#0040ff"/>
<polygon points="121.3,132.7 125.6,135.2 130.9,129.8 126.6,127.4" fill="#0022ff"/>
<polygon points="155.5,132.8 159.8,137.0 165.1,127.2 160.8,122.7" fill="#0025ff"/>
<polygon points="96.8,139.3 101.0,143.7 106.4,139.2 102.1,134.8" fill="#0000e1"/>
<polygon points="130.9,129.8 135.2,132.9 140.5,126.0 136.2,122.5" fill="#0049ff"/>
<polygon points="165.1,127.2 169.4,130.8 174.7,131.5 170.4,128.5" fill="#0068ff"/>
<polygon points="106.4,139.2 110.7,142.5 116.0,137.7 111.7,134.5" fill="#0000ec"/>
<polygon points="140.5,126.0 144.8,130.5 150.1,133.5 145.9,129.3" fill="#007aff"/>
<polygon points="116.0,137.7 120.3,140.2 125.6,135.2 121.3,132.7" fill="#0005ff"/>
<polygon points="150.1,133.5 154.4,138.0 159.8,137.0 155.5,132.8" fill="#0035ff"/>
<polygon points="91.4,143.7 95.7,148.1 101.0,143.7 96.8,139.3" fill="#0000ca"/>
<polygon points="125.6,135.2 129.9,138.1 135.2,132.9 130.9,129.8" fill="#0028ff"/>
<polygon points="159.8,137.0 164.0,140.4 169.4,130.8 165.1,127.2" fill="#001aff"/>
<polygon points="101.0,143.7 105.3,147.2 110.7,142.5 106.4,139.2" fill="#0000d4"/>
<polygon points="135.2,132.9 139.5,137.0 144.8,130.5 140.5,126.0" fill="#004aff"/>
<polygon points="169.4,130.8 173.7,133.3 179.0,133.5 174.7,131.5" fill="#0063ff"/>
<polygon points="110.7,142.5 114.9,145.0 120.3,140.2 116.0,137.7" fill="#0000e9"/>
<polygon points="144.8,130.5 149.1,135.6 154.4,138.0 150.1,133.5" fill="#006bff"/>
<polygon points="86.1,148.2 90.4,152.4 95.7,148.1 91.4,143.7" fill="#0000b3"/>
<polygon points="120.3,140.2 124.6,142.8 129.9,138.1 125.6,135.2" fill="#000cff"/>
<polygon points="154.4,138.0 158.7,142.1 164.0,140.4 159.8,137.0" fill="#0026ff"/>
<polygon points="95.7,148.1 100.0,151.7 105.3,147.2 101.0,143.7" fill="#0000bd"/>
<polygon points="129.9,138.1 134.2,141.9 139.5,137.0 135.2,132.9" fill="#002bff"/>
<polygon points="164.0,140.4 168.3,142.8 173.7,133.3 169.4,130.8" fill="#0016ff"/>
<polygon points="105.3,147.2 109.6,149.8 114.9,145.0 110.7,142.5" fill="#0000d0"/>
<polygon points="139.5,137.0 143.8,141.8 149.1,135.6 144.8,130.5" fill="#0040ff"/>
<polygon points="80.8,151.4 85.1,155.4 90.4,152.4 86.1,148.2" fill="#0000aa"/>
<polygon points="173.7,133.3 177.9,135.4 183.3,135.4 179.0,133.5" fill="#0069ff"/>
<polygon points="114.9,145.0 119.2,147.3 124.6,142.8 120.3,140.2" fill="#0000f0"/>
<polygon points="149.1,135.6 153.4,140.5 158.7,142.1 154.4,138.0" fill="#0057ff"/>
<polygon points="90.4,152.4 94.7,156.0 100.0,151.7 95.7,148.1" fill="#0000a8"/>
<polygon points="124.6,142.8 128.8,146.3 134.2,141.9 129.9,138.1" fill="#0011ff"/>
<polygon points="158.7,142.1 163.0,145.0 168.3,142.8 164.0,140.4" fill="#001cff"/>
<polygon points="100.0,151.7 104.3,154.3 109.6,149.8 105.3,147.2" fill="#0000b8"/>
<polygon points="134.2,141.9 138.5,146.7 143.8,141.8 139.5,137.0" fill="#0023ff"/>
<polygon points="75.5,154.6 79.7,158.4 85.1,155.4 80.8,151.4" fill="#00009f"/>
<polygon points="168.3,142.8 172.6,144.5 177.9,135.4 173.7,133.3" fill="#001eff"/>
<polygon points="109.6,149.8 113.9,151.9 119.2,147.3 114.9,145.0" fill="#0000d6"/>
<polygon points="143.8,141.8 148.1,146.7 153.4,140.5 149.1,135.6" fill="#002dff"/>
<polygon points="85.1,155.4 89.4,159.0 94.7,156.0 90.4,152.4" fill="#0000a1"/>
<polygon points="177.9,135.4 182.2,138.0 187.6,138.0 183.3,135.4" fill="#0074ff"/>
<polygon points="119.2,147.3 123.5,150.3 128.8,146.3 124.6,142.8" fill="#0000f8"/>
<polygon points="153.4,140.5 157.7,144.3 163.0,145.0 158.7,142.1" fill="#0045ff"/>
<polygon points="94.7,156.0 99.0,158.6 104.3,154.3 100.0,151.7" fill="#0000a3"/>
<polygon points="128.8,146.3 133.1,150.8 138.5,146.7 134.2,141.9" fill="#000eff"/>
<polygon points="70.1,156.7 74.4,160.2 79.7,158.4 75.5,154.6" fill="#0000a2"/>
<polygon points="163.0,145.0 167.3,147.2 172.6,144.5 168.3,142.8" fill="#001eff"/>
<polygon points="104.3,154.3 108.6,156.3 113.9,151.9 109.6,149.8" fill="#0000be"/>
<polygon points="138.5,146.7 142.7,151.7 148.1,146.7 143.8,141.8" fill="#0012ff"/>
<polygon points="79.7,158.4 84.0,162.1 89.4,159.0 85.1,155.4" fill="#000099"/>
<polygon points="172.6,144.5 176.9,146.5 182.2,138.0 177.9,135.4" fill="#002cff"/>
<polygon points="113.9,151.9 118.2,154.5 123.5,150.3 119.2,147.3" fill="#0000e0"/>
<polygon points="148.1,146.7 152.4,150.7 157.7,144.3 153.4,140.5" fill="#001bff"/>
<polygon points="89.4,159.0 93.6,161.7 99.0,158.6 94.7,156.0" fill="#00009b"/>
<polygon points="182.2,138.0 186.5,141.6 191.8,141.6 187.6,138.0" fill="#0079ff"/>
<polygon points="123.5,150.3 127.8,154.4 133.1,150.8 128.8,146.3" fill="#0000fa"/>
<polygon points="64.8,153.6 69.1,157.0 74.4,160.2 70.1,156.7" fill="#0000d9"/>
<polygon points="157.7,144.3 162.0,147.2 167.3,147.2 163.0,145.0" fill="#003dff"/>
<polygon points="99.0,158.6 103.3,160.3 108.6,156.3 104.3,154.3" fill="#0000a9"/>
<polygon points="133.1,150.8 137.4,155.7 142.7,151.7 138.5,146.7" fill="#0000fe"/>
<polygon points="74.4,160.2 78.7,163.9 84.0,162.1 79.7,158.4" fill="#00009e"/>
<polygon points="167.3,147.2 171.6,149.2 176.9,146.5 172.6,144.5" fill="#0028ff"/>
<polygon points="108.6,156.3 112.9,158.4 118.2,154.5 113.9,151.9" fill="#0000ca"/>
<polygon points="142.7,151.7 147.0,156.1 152.4,150.7 148.1,146.7" fill="#0000fd"/>
<polygon points="84.0,162.1 88.3,164.9 93.6,161.7 89.4,159.0" fill="#000093"/>
<polygon points="176.9,146.5 181.2,149.3 186.5,141.6 182.2,138.0" fill="#0039ff"/>
<polygon points="118.2,154.5 122.5,158.1 127.8,154.4 123.5,150.3" fill="#0000e6"/>
<polygon points="59.5,139.1 63.8,142.3 69.1,157.0 64.8,153.6" fill="#00d2ff"/>
<polygon points="152.4,150.7 156.6,153.7 162.0,147.2 157.7,144.3" fill="#0012ff"/>
<polygon points="93.6,161.7 97.9,163.4 103.3,160.3 99.0,158.6" fill="#0000a0"/>
<polygon points="186.5,141.6 190.8,146.1 196.1,145.9 191.8,141.6" fill="#0075ff"/>
<polygon points="127.8,154.4 132.1,159.2 137.4,155.7 133.1,150.8" fill="#0000f0"/>
<polygon points="69.1,157.0 73.4,160.8 78.7,163.9 74.4,160.2" fill="#0000d7"/>
<polygon points="162.0,147.2 166.3,149.8 171.6,149.2 167.3,147.2" fill="#003fff"/>
<polygon points="103.3,160.3 107.5,162.1 112.9,158.4 108.6,156.3" fill="#0000b7"/>
<polygon points="137.4,155.7 141.7,160.3 147.0,156.1 142.7,151.7" fill="#0000eb"/>
<polygon points="78.7,163.9 83.0,167.0 88.3,164.9 84.0,162.1" fill="#000097"/>
<polygon points="171.6,149.2 175.9,152.1 181.2,149.3 176.9,146.5" fill="#0033ff"/>
<polygon points="112.9,158.4 117.2,161.5 122.5,158.1 118.2,154.5" fill="#0000d4"/>
<polygon points="54.2,128.4 58.4,131.4 63.8,142.3 59.5,139.1" fill="#4dffb2"/>
<polygon points="147.0,156.1 151.3,159.5 156.6,153.7 152.4,150.7" fill="#0000f0"/>
<polygon points="88.3,164.9 92.6,166.7 97.9,163.4 93.6,161.7" fill="#000096"/>
<polygon points="181.2,149.3 185.5,153.1 190.8,146.1 186.5,141.6" fill="#003cff"/>
<polygon points="122.5,158.1 126.8,162.6 132.1,159.2 127.8,154.4" fill="#0000e0"/>
<polygon points="63.8,142.3 68.1,146.2 73.4,160.8 69.1,157.0" fill="#00d2ff"/>
<polygon points="156.6,153.7 160.9,156.1 166.3,149.8 162.0,147.2" fill="#0013ff"/>
<polygon points="97.9,163.4 102.2,164.8 107.5,162.1 103.3,160.3" fill="#0000af"/>
<polygon points="190.8,146.1 195.1,150.7 200.4,150.2 196.1,145.9" fill="#0066ff"/>
<polygon points="132.1,159.2 136.4,163.8 141.7,160.3 137.4,155.7" fill="#0000de"/>
<polygon points="73.4,160.8 77.7,164.2 83.0,167.0 78.7,163.9" fill="#0000cf"/>
<polygon points="166.3,149.8 170.5,152.9 175.9,152.1 171.6,149.2" fill="#0045ff"/>
<polygon points="107.5,162.1 111.8,164.6 117.2,161.5 112.9,158.4" fill="#0000c6"/>
<polygon points="48.8,107.6 53.1,110.3 58.4,131.4 54.2,128.4" fill="#abff54"/>
<polygon points="141.7,160.3 146.0,163.9 151.3,159.5 147.0,156.1" fill="#0000dc"/>
<polygon points="83.0,167.0 87.3,169.0 92.6,166.7 88.3,164.9" fill="#000098"/>
<polygon points="175.9,152.1 180.2,155.9 185.5,153.1 181.2,149.3" fill="#0037ff"/>
<polygon points="117.2,161.5 121.4,165.6 126.8,162.6 122.5,158.1" fill="#0000d5"/>
<polygon points="58.4,131.4 62.7,135.2 68.1,146.2 63.8,142.3" fill="#4dffb2"/>
<polygon points="151.3,159.5 155.6,162.1 160.9,156.1 156.6,153.7" fill="#0000ed"/>
<polygon points="92.6,166.7 96.9,168.0 102.2,164.8 97.9,163.4" fill="#0000a4"/>
<polygon points="185.5,153.1 189.8,157.4 195.1,150.7 190.8,146.1" fill="#0034ff"/>
<polygon points="126.8,162.6 131.1,167.3 136.4,163.8 132.1,159.2" fill="#0000d2"/>
<polygon points="68.1,146.2 72.3,150.0 77.7,164.2 73.4,160.8" fill="#00d2ff"/>
<polygon points="160.9,156.1 165.2,158.9 170.5,152.9 166.3,149.8" fill="#001aff"/>
<polygon points="102.2,164.8 106.5,166.8 111.8,164.6 107.5,162.1" fill="#0000c0"/>
<polygon points="195.1,150.7 199.4,154.7 204.7,153.5 200.4,150.2" fill="#0057ff"/>
<polygon points="136.4,163.8 140.7,167.6 146.0,163.9 141.7,160.3" fill="#0000ce"/>
<polygon points="77.7,164.2 82.0,166.6 87.3,169.0 83.0,167.0" fill="#0000cc"/>
<polygon points="170.5,152.9 174.8,157.0 180.2,155.9 175.9,152.1" fill="#0045ff"/>
<polygon points="111.8,164.6 116.1,168.1 121.4,165.6 117.2,161.5" fill="#0000cc"/>
<polygon points="53.1,110.3 57.4,114.0 62.7,135.2 58.4,131.4" fill="#ffcb00"/>
<polygon points="146.0,163.9 150.3,166.6 155.6,162.1 151.3,159.5" fill="#0000d7"/>
<polygon points="87.3,169.0 91.6,170.3 96.9,168.0 92.6,166.7" fill="#0000a3"/>
<polygon points="180.2,155.9 184.4,160.4 189.8,157.4 185.5,153.1" fill="#002fff"/>
<polygon points="121.4,165.6 125.7,170.1 131.1,167.3 126.8,162.6" fill="#0000ca"/>
<polygon points="62.7,135.2 67.0,139.1 72.3,150.0 68.1,146.2" fill="#4dffb2"/>
<polygon points="155.6,162.1 159.9,164.7 165.2,158.9 160.9,156.1" fill="#0000f3"/>
<polygon points="96.9,168.0 101.2,169.6 106.5,166.8 102.2,164.8" fill="#0000b7"/>
<polygon points="189.8,157.4 194.1,161.2 199.4,154.7 195.1,150.7" fill="#0028ff"/>
<polygon points="131.1,167.3 135.3,174.0 140.7,167.6 136.4,163.8" fill="#0000c2"/>
<polygon points="72.3,150.0 76.6,152.9 82.0,166.6 77.7,164.2" fill="#00d2ff"/>
<polygon points="165.2,158.9 169.5,162.5 174.8,157.0 170.5,152.9" fill="#001fff"/>
<polygon points="106.5,166.8 110.8,169.9 116.1,168.1 111.8,164.6" fill="#0000cc"/>
<polygon points="199.4,154.7 203.7,157.6 209.0,155.9 204.7,153.5" fill="#004eff"/>
<polygon points="140.7,167.6 145.0,170.4 150.3,166.6 146.0,163.9" fill="#0000c8"/>
<polygon points="82.0,166.6 86.2,168.1 91.6,170.3 87.3,169.0" fill="#0000d4"/>
<polygon points="174.8,157.0 179.1,162.0 184.4,160.4 180.2,155.9" fill="#003bff"/>
<polygon points="116.1,168.1 120.4,172.3 125.7,170.1 121.4,165.6" fill="#0000c8"/>
<polygon points="57.4,114.0 61.7,118.0 67.0,139.1 62.7,135.2" fill="#ffcb00"/>
<polygon points="150.3,166.6 154.6,169.0 159.9,164.7 155.6,162.1" fill="#0000db"/>
<polygon points="91.6,170.3 95.9,171.6 101.2,169.6 96.9,168.0" fill="#0000b7"/>
<polygon points="184.4,160.4 188.7,164.7 194.1,161.2 189.8,157.4" fill="#0020ff"/>
<polygon points="125.7,170.1 130.0,176.9 135.3,174.0 131.1,167.3" fill="#0000bc"/>
<polygon points="67.0,139.1 71.3,142.3 76.6,152.9 72.3,150.0" fill="#4dffb2"/>
<polygon points="159.9,164.7 164.2,168.1 169.5,162.5 165.2,158.9" fill="#0000f8"/>
<polygon points="101.2,169.6 105.5,172.2 110.8,169.9 106.5,166.8" fill="#0000c7"/>
<polygon points="194.1,161.2 198.3,164.0 203.7,157.6 199.4,154.7" fill="#0021ff"/>
<polygon points="135.3,174.0 139.6,179.1 145.0,170.4 140.7,167.6" fill="#00009c"/>
<polygon points="76.6,152.9 80.9,154.7 86.2,168.1 82.0,166.6" fill="#00d2ff"/>
<polygon points="169.5,162.5 173.8,167.2 179.1,162.0 174.8,157.0" fill="#0019ff"/>
<polygon points="110.8,169.9 115.1,173.7 120.4,172.3 116.1,168.1" fill="#0000cd"/>
<polygon points="203.7,157.6 208.0,159.8 213.3,157.7 209.0,155.9" fill="#0050ff"/>
<polygon points="145.0,170.4 149.2,172.6 154.6,169.0 150.3,166.6" fill="#0000cc"/>
<polygon points="86.2,168.1 90.5,169.4 95.9,171.6 91.6,170.3" fill="#0000e5"/>
<polygon points="179.1,162.0 183.4,167.0 188.7,164.7 184.4,160.4" fill="#0027ff"/>
<polygon points="120.4,172.3 124.7,179.0 130.0,176.9 125.7,170.1" fill="#0000bd"/>
<polygon points="61.7,118.0 66.0,121.6 71.3,142.3 67.0,139.1" fill="#ffcb00"/>
<polygon points="154.6,169.0 158.9,172.1 164.2,168.1 159.9,164.7" fill="#0000e2"/>
<polygon points="95.9,171.6 100.1,173.8 105.5,172.2 101.2,169.6" fill="#0000c9"/>
<polygon points="188.7,164.7 193.0,168.1 198.3,164.0 194.1,161.2" fill="#0014ff"/>
<polygon points="130.0,176.9 134.3,182.1 139.6,179.1 135.3,174.0" fill="#000096"/>
<polygon points="71.3,142.3 75.6,144.4 80.9,154.7 76.6,152.9" fill="#4dffb2"/>
<polygon points="164.2,168.1 168.5,172.6 173.8,167.2 169.5,162.5" fill="#0000f5"/>
<polygon points="105.5,172.2 109.8,175.7 115.1,173.7 110.8,169.9" fill="#0000cc"/>
<polygon points="198.3,164.0 202.6,165.9 208.0,159.8 203.7,157.6" fill="#0025ff"/>
<polygon points="139.6,179.1 143.9,182.6 149.2,172.6 145.0,170.4" fill="#000087"/>
<polygon points="80.9,154.7 85.2,156.1 90.5,169.4 86.2,168.1" fill="#00d2ff"/>
<polygon points="173.8,167.2 178.1,172.2 183.4,167.0 179.1,162.0" fill="#0009ff"/>
<polygon points="115.1,173.7 119.4,180.4 124.7,179.0 120.4,172.3" fill="#0000c6"/>
<polygon points="208.0,159.8 212.2,162.1 217.6,160.0 213.3,157.7" fill="#005aff"/>
<polygon points="149.2,172.6 153.5,175.3 158.9,172.1 154.6,169.0" fill="#0000d4"/>
<polygon points="90.5,169.4 94.8,171.4 100.1,173.8 95.9,171.6" fill="#0000f8"/>
<polygon points="183.4,167.0 187.7,171.3 193.0,168.1 188.7,164.7" fill="#0013ff"/>
<polygon points="124.7,179.0 129.0,184.2 134.3,182.1 130.0,176.9" fill="#000097"/>
<polygon points="66.0,121.6 70.3,124.1 75.6,144.4 71.3,142.3" fill="#ffcb00"/>
<polygon points="158.9,172.1 163.1,176.2 168.5,172.6 164.2,168.1" fill="#0000e3"/>
<polygon points="100.1,173.8 104.4,177.1 109.8,175.7 105.5,172.2" fill="#0000d3"/>
<polygon points="193.0,168.1 197.3,170.5 202.6,165.9 198.3,164.0" fill="#0011ff"/>
<polygon points="134.3,182.1 138.6,185.4 143.9,182.6 139.6,179.1" fill="#000080"/>
<polygon points="75.6,144.4 79.9,145.9 85.2,156.1 80.9,154.7" fill="#4dffb2"/>
<polygon points="168.5,172.6 172.8,177.6 178.1,172.2 173.8,167.2" fill="#0000e7"/>
<polygon points="109.8,175.7 114.0,182.3 119.4,180.4 115.1,173.7" fill="#0000c8"/>
<polygon points="202.6,165.9 206.9,167.6 212.2,162.1 208.0,159.8" fill="#0031ff"/>
<polygon points="143.9,182.6 148.2,184.9 153.5,175.3 149.2,172.6" fill="#000084"/>
<polygon points="85.2,156.1 89.5,158.0 94.8,171.4 90.5,169.4" fill="#00d2ff"/>
<polygon points="178.1,172.2 182.4,176.6 187.7,171.3 183.4,167.0" fill="#0000f4"/>
<polygon points="119.4,180.4 123.7,185.7 129.0,184.2 124.7,179.0" fill="#0000a1"/>
<polygon points="212.2,162.1 216.5,165.3 221.9,163.1 217.6,160.0" fill="#0062ff"/>
<polygon points="153.5,175.3 157.8,179.0 163.1,176.2 158.9,172.1" fill="#0000d9"/>
<polygon points="94.8,171.4 99.1,174.4 104.4,177.1 100.1,173.8" fill="#0005ff"/>
<polygon points="187.7,171.3 192.0,174.6 197.3,170.5 193.0,168.1" fill="#0007ff"/>
<polygon points="129.0,184.2 133.3,187.5 138.6,185.4 134.3,182.1" fill="#000081"/>
<polygon points="70.3,124.1 74.6,125.7 79.9,145.9 75.6,144.4" fill="#ffcb00"/>
<polygon points="163.1,176.2 167.4,181.1 172.8,177.6 168.5,172.6" fill="#0000d9"/>
<polygon points="104.4,177.1 108.7,183.6 114.0,182.3 109.8,175.7" fill="#0000d2"/>
<polygon points="197.3,170.5 201.6,172.5 206.9,167.6 202.6,165.9" fill="#0019ff"/>
<polygon points="138.6,185.4 142.9,187.4 148.2,184.9 143.9,182.6" fill="#000080"/>
<polygon points="79.9,145.9 84.2,147.5 89.5,158.0 85.2,156.1" fill="#4dffb2"/>
<polygon points="172.8,177.6 177.0,182.4 182.4,176.6 178.1,172.2" fill="#0000d3"/>
<polygon points="114.0,182.3 118.3,187.8 123.7,185.7 119.4,180.4" fill="#0000a4"/>
<polygon points="206.9,167.6 211.2,170.1 216.5,165.3 212.2,162.1" fill="#0040ff"/>
<polygon points="148.2,184.9 152.5,186.8 157.8,179.0 153.5,175.3" fill="#00008c"/>
<polygon points="89.5,158.0 93.8,160.8 99.1,174.4 94.8,171.4" fill="#00d2ff"/>
<polygon points="182.4,176.6 186.7,180.0 192.0,174.6 187.7,171.3" fill="#0000e7"/>
<polygon points="123.7,185.7 127.9,189.0 133.3,187.5 129.0,184.2" fill="#000089"/>
<polygon points="157.8,179.0 162.1,183.6 167.4,181.1 163.1,176.2" fill="#0000d3"/>
<polygon points="99.1,174.4 103.4,178.2 108.7,183.6 104.4,177.1" fill="#0006ff"/>
<polygon points="192.0,174.6 196.3,177.2 201.6,172.5 197.3,170.5" fill="#0006ff"/>
<polygon points="133.3,187.5 137.6,189.1 142.9,187.4 138.6,185.4" fill="#000080"/>
<polygon points="74.6,125.7 78.8,127.3 84.2,147.5 79.9,145.9" fill="#ffcb00"/>
<polygon points="167.4,181.1 171.7,185.9 177.0,182.4 172.8,177.6" fill="#0000c6"/>
<polygon points="108.7,183.6 113.0,189.3 118.3,187.8 114.0,182.3" fill="#0000ae"/>
<polygon points="201.6,172.5 205.9,175.0 211.2,170.1 206.9,167.6" fill="#0024ff"/>
<polygon points="142.9,187.4 147.2,188.8 152.5,186.8 148.2,184.9" fill="#00008a"/>
<polygon points="84.2,147.5 88.5,150.0 93.8,160.8 89.5,158.0" fill="#4dffb2"/>
<polygon points="177.0,182.4 181.3,186.1 186.7,180.0 182.4,176.6" fill="#0000c2"/>
<polygon points="118.3,187.8 122.6,191.3 127.9,189.0 123.7,185.7" fill="#00008b"/>
<polygon points="152.5,186.8 156.8,188.8 162.1,183.6 157.8,179.0" fill="#000099"/>
<polygon points="93.8,160.8 98.1,164.6 103.4,178.2 99.1,174.4" fill="#00d2ff"/>
<polygon points="186.7,180.0 190.9,182.5 196.3,177.2 192.0,174.6" fill="#0000e4"/>
<polygon points="127.9,189.0 132.2,190.4 137.6,189.1 133.3,187.5" fill="#000088"/>
<polygon points="162.1,183.6 166.4,188.4 171.7,185.9 167.4,181.1" fill="#0000c4"/>
<polygon points="103.4,178.2 107.7,181.8 113.0,189.3 108.7,183.6" fill="#0000ff"/>
<polygon points="196.3,177.2 200.6,180.0 205.9,175.0 201.6,172.5" fill="#000cff"/>
<polygon points="137.6,189.1 141.8,190.0 147.2,188.8 142.9,187.4" fill="#00008f"/>
<polygon points="78.8,127.3 83.1,129.6 88.5,150.0 84.2,147.5" fill="#ffcb00"/>
<polygon points="171.7,185.9 176.0,190.0 181.3,186.1 177.0,182.4" fill="#0000b4"/>
<polygon points="113.0,189.3 117.3,192.9 122.6,191.3 118.3,187.8" fill="#000094"/>
<polygon points="147.2,188.8 151.5,190.3 156.8,188.8 152.5,186.8" fill="#00009b"/>
<polygon points="88.5,150.0 92.7,153.6 98.1,164.6 93.8,160.8" fill="#4dffb2"/>
<polygon points="181.3,186.1 185.6,189.0 190.9,182.5 186.7,180.0" fill="#0000bb"/>
<polygon points="122.6,191.3 126.9,192.7 132.2,190.4 127.9,189.0" fill="#000088"/>
<polygon points="156.8,188.8 161.1,190.7 166.4,188.4 162.1,183.6" fill="#0000a5"/>
<polygon points="98.1,164.6 102.4,168.5 107.7,181.8 103.4,178.2" fill="#00d2ff"/>
<polygon points="190.9,182.5 195.2,185.0 200.6,180.0 196.3,177.2" fill="#0000ea"/>
<polygon points="132.2,190.4 136.5,190.9 141.8,190.0 137.6,189.1" fill="#000099"/>
<polygon points="166.4,188.4 170.7,192.5 176.0,190.0 171.7,185.9" fill="#0000b3"/>
<polygon points="107.7,181.8 112.0,184.7 117.3,192.9 113.0,189.3" fill="#0000f9"/>
<polygon points="141.8,190.0 146.1,190.9 151.5,190.3 147.2,188.8" fill="#0000a7"/>
<polygon points="83.1,129.6 87.4,132.9 92.7,153.6 88.5,150.0" fill="#ffcb00"/>
<polygon points="176.0,190.0 180.3,192.9 185.6,189.0 181.3,186.1" fill="#0000ab"/>
<polygon points="117.3,192.9 121.6,194.4 126.9,192.7 122.6,191.3" fill="#00008e"/>
<polygon points="151.5,190.3 155.7,191.9 161.1,190.7 156.8,188.8" fill="#0000ad"/>
<polygon points="92.7,153.6 97.0,157.5 102.4,168.5 98.1,164.6" fill="#4dffb2"/>
<polygon points="185.6,189.0 189.9,191.5 195.2,185.0 190.9,182.5" fill="#0000be"/>
<polygon points="126.9,192.7 131.2,192.8 136.5,190.9 132.2,190.4" fill="#00009a"/>
<polygon points="161.1,190.7 165.4,195.0 170.7,192.5 166.4,188.4" fill="#0000b2"/>
<polygon points="102.4,168.5 106.6,171.8 112.0,184.7 107.7,181.8" fill="#00d2ff"/>
<polygon points="136.5,190.9 140.8,191.3 146.1,190.9 141.8,190.0" fill="#0000b5"/>
<polygon points="170.7,192.5 175.0,195.6 180.3,192.9 176.0,190.0" fill="#0000a8"/>
<polygon points="112.0,184.7 116.3,186.5 121.6,194.4 117.3,192.9" fill="#0000fc"/>
<polygon points="146.1,190.9 150.4,192.1 155.7,191.9 151.5,190.3" fill="#0000be"/>
<polygon points="87.4,132.9 91.7,136.9 97.0,157.5 92.7,153.6" fill="#ffcb00"/>
<polygon points="180.3,192.9 184.6,195.4 189.9,191.5 185.6,189.0" fill="#0000ac"/>
<polygon points="121.6,194.4 125.9,194.4 131.2,192.8 126.9,192.7" fill="#00009f"/>
<polygon points="155.7,191.9 160.0,196.2 165.4,195.0 161.1,190.7" fill="#0000bc"/>
<polygon points="97.0,157.5 101.3,161.1 106.6,171.8 102.4,168.5" fill="#4dffb2"/>
<polygon points="131.2,192.8 135.5,192.7 140.8,191.3 136.5,190.9" fill="#0000b9"/>
<polygon points="165.4,195.0 169.6,198.3 175.0,195.6 170.7,192.5" fill="#0000a5"/>
<polygon points="106.6,171.8 110.9,174.0 116.3,186.5 112.0,184.7" fill="#00d2ff"/>
<polygon points="140.8,191.3 145.1,192.1 150.4,192.1 146.1,190.9" fill="#0000d2"/>
<polygon points="175.0,195.6 179.3,198.0 184.6,195.4 180.3,192.9" fill="#0000a8"/>
<polygon points="116.3,186.5 120.5,187.7 125.9,194.4 121.6,194.4" fill="#000bff"/>
<polygon points="150.4,192.1 154.7,196.2 160.0,196.2 155.7,191.9" fill="#0000d2"/>
<polygon points="91.7,136.9 96.0,140.7 101.3,161.1 97.0,157.5" fill="#ffcb00"/>
<polygon points="125.9,194.4 130.2,194.0 135.5,192.7 131.2,192.8" fill="#0000c0"/>
<polygon points="160.0,196.2 164.3,199.6 169.6,198.3 165.4,195.0" fill="#0000b0"/>
<polygon points="101.3,161.1 105.6,163.6 110.9,174.0 106.6,171.8" fill="#4dffb2"/>
<polygon points="135.5,192.7 139.8,193.1 145.1,192.1 140.8,191.3" fill="#0000db"/>
<polygon points="169.6,198.3 173.9,200.6 179.3,198.0 175.0,195.6" fill="#0000a4"/>
<polygon points="110.9,174.0 115.2,175.5 120.5,187.7 116.3,186.5" fill="#00d2ff"/>
<polygon points="145.1,192.1 149.4,196.0 154.7,196.2 150.4,192.1" fill="#0000eb"/>
<polygon points="120.5,187.7 124.8,189.4 130.2,194.0 125.9,194.4" fill="#001eff"/>
<polygon points="154.7,196.2 159.0,199.6 164.3,199.6 160.0,196.2" fill="#0000c8"/>
<polygon points="96.0,140.7 100.3,143.7 105.6,163.6 101.3,161.1" fill="#ffcb00"/>
<polygon points="130.2,194.0 134.4,194.0 139.8,193.1 135.5,192.7" fill="#0000e5"/>
<polygon points="164.3,199.6 168.6,202.0 173.9,200.6 169.6,198.3" fill="#0000ad"/>
<polygon points="105.6,163.6 109.9,165.2 115.2,175.5 110.9,174.0" fill="#4dffb2"/>
<polygon points="139.8,193.1 144.1,196.9 149.4,196.0 145.1,192.1" fill="#0000f7"/>
<polygon points="115.2,175.5 119.5,177.1 124.8,189.4 120.5,187.7" fill="#00d2ff"/>
<polygon points="149.4,196.0 153.7,199.5 159.0,199.6 154.7,196.2" fill="#0000e2"/>
<polygon points="124.8,189.4 129.1,192.0 134.4,194.0 130.2,194.0" fill="#002eff"/>
<polygon points="159.0,199.6 163.3,202.0 168.6,202.0 164.3,199.6" fill="#0000c5"/>
<polygon points="100.3,143.7 104.6,145.6 109.9,165.2 105.6,163.6" fill="#ffcb00"/>
<polygon points="134.4,194.0 138.7,197.6 144.1,196.9 139.8,193.1" fill="#0006ff"/>
<polygon points="109.9,165.2 114.2,166.7 119.5,177.1 115.2,175.5" fill="#4dffb2"/>
<polygon points="144.1,196.9 148.3,200.5 153.7,199.5 149.4,196.0" fill="#0000f0"/>
<polygon points="119.5,177.1 123.8,179.5 129.1,192.0 124.8,189.4" fill="#00d2ff"/>
<polygon points="153.7,199.5 158.0,201.9 163.3,202.0 159.0,199.6" fill="#0000de"/>
<polygon points="129.1,192.0 133.4,195.5 138.7,197.6 134.4,194.0" fill="#0033ff"/>
<polygon points="104.6,145.6 108.9,147.1 114.2,166.7 109.9,165.2" fill="#ffcb00"/>
<polygon points="138.7,197.6 143.0,201.3 148.3,200.5 144.1,196.9" fill="#0001ff"/>
<polygon points="114.2,166.7 118.5,168.8 123.8,179.5 119.5,177.1" fill="#4dffb2"/>
<polygon points="148.3,200.5 152.6,203.1 158.0,201.9 153.7,199.5" fill="#0000eb"/>
<polygon points="123.8,179.5 128.1,182.9 133.4,195.5 129.1,192.0" fill="#00d2ff"/>
<polygon points="133.4,195.5 137.7,199.3 143.0,201.3 138.7,197.6" fill="#002fff"/>
<polygon points="108.9,147.1 113.1,149.0 118.5,168.8 114.2,166.7" fill="#ffcb00"/>
<polygon points="143.0,201.3 147.3,204.1 152.6,203.1 148.3,200.5" fill="#0000fb"/>
<polygon points="118.5,168.8 122.8,172.0 128.1,182.9 123.8,179.5" fill="#4dffb2"/>
<polygon points="128.1,182.9 132.4,186.9 137.7,199.3 133.4,195.5" fill="#00d2ff"/>
<polygon points="137.7,199.3 142.0,202.5 147.3,204.1 143.0,201.3" fill="#0028ff"/>
<polygon points="113.1,149.0 117.4,151.9 122.8,172.0 118.5,168.8" fill="#ffcb00"/>
<polygon points="122.8,172.0 127.0,175.9 132.4,186.9 128.1,182.9" fill="#4dffb2"/>
<polygon points="132.4,186.9 136.7,190.5 142.0,202.5 137.7,199.3" fill="#00d2ff"/>
<polygon points="117.4,151.9 121.7,155.8 127.0,175.9 122.8,172.0" fill="#ffcb00"/>
<polygon points="127.0,175.9 131.3,179.7 136.7,190.5 132.4,186.9" fill="#4dffb2"/>
<polygon points="121.7,155.8 126.0,159.7 131.3,179.7 127.0,175.9" fill="#ffcb00"/>
<polygon points="100.0,137.5 107.0,129.5 115.0,145.0 108.0,141.5" fill="#ff0100"/>
<polygon points="107.0,131.0 115.3,123.0 126.0,150.5 115.0,145.0" fill="#940000"/>
</g>
<defs><linearGradient id="jg5" x1="0" y1="1" x2="0" y2="0">
<stop offset="0.000" stop-color="#000080"/>
<stop offset="0.125" stop-color="#0000ff"/>
<stop offset="0.250" stop-color="#0080ff"/>
<stop offset="0.375" stop-color="#00ffff"/>
<stop offset="0.500" stop-color="#80ff80"/>
<stop offset="0.625" stop-color="#ffff00"/>
<stop offset="0.750" stop-color="#ff8000"/>
<stop offset="0.875" stop-color="#ff0000"/>
<stop offset="1.000" stop-color="#800000"/>
</linearGradient></defs>
<rect x="248.5" y="21.2" width="10.5" height="232.9" fill="url(#jg5)" stroke="#333" stroke-width="0.6"/>
<g font-family="Liberation Sans" font-size="8.5" fill="#333">
<line x1="257.5" y1="251.0" x2="259.0" y2="251.0" stroke="#333" stroke-width="0.6"/>
<text transform="translate(261.50 254.02) scale(0.82 1)">0.6</text>
<line x1="257.5" y1="220.2" x2="259.0" y2="220.2" stroke="#333" stroke-width="0.6"/>
<text transform="translate(261.50 223.17) scale(0.82 1)">0.7</text>
<line x1="257.5" y1="189.3" x2="259.0" y2="189.3" stroke="#333" stroke-width="0.6"/>
<text transform="translate(261.50 192.32) scale(0.82 1)">0.8</text>
<line x1="257.5" y1="158.5" x2="259.0" y2="158.5" stroke="#333" stroke-width="0.6"/>
<text transform="translate(261.50 161.47) scale(0.82 1)">0.9</text>
<line x1="257.5" y1="127.6" x2="259.0" y2="127.6" stroke="#333" stroke-width="0.6"/>
<text transform="translate(261.50 130.62) scale(0.82 1)">1</text>
<line x1="257.5" y1="96.8" x2="259.0" y2="96.8" stroke="#333" stroke-width="0.6"/>
<text transform="translate(261.50 99.78) scale(0.82 1)">1.1</text>
<line x1="257.5" y1="65.9" x2="259.0" y2="65.9" stroke="#333" stroke-width="0.6"/>
<text transform="translate(261.50 68.93) scale(0.82 1)">1.2</text>
<line x1="257.5" y1="35.1" x2="259.0" y2="35.1" stroke="#333" stroke-width="0.6"/>
<text transform="translate(261.50 38.08) scale(0.82 1)">1.3</text>
</g>
<g font-family="Liberation Sans" font-size="10.0" fill="#3a3a3a">
<text transform="translate(61.70 276.30) scale(0.75 1)">BTC</text>
<text transform="translate(172.50 279.20) scale(0.75 1)">SP500</text>
</g>
<g font-family="Liberation Sans" font-size="8.5" fill="#444">
<text transform="translate(39.00 202.69) rotate(-63.0) scale(0.90 1)" font-size="9.0" text-anchor="end">0.05</text>
<text transform="translate(128.53 257.64) rotate(75.0) scale(0.90 1)">0.05</text>
<text transform="translate(43.11 205.68) rotate(-63.0) scale(0.90 1)" font-size="9.0" text-anchor="end">0.1</text>
<text transform="translate(133.85 255.38) rotate(75.0) scale(0.90 1)">0.1</text>
<text transform="translate(47.21 208.67) rotate(-63.0) scale(0.90 1)" font-size="9.0" text-anchor="end">0.15</text>
<text transform="translate(139.17 253.12) rotate(75.0) scale(0.90 1)">0.15</text>
<text transform="translate(51.32 211.66) rotate(-63.0) scale(0.90 1)" font-size="9.0" text-anchor="end">0.2</text>
<text transform="translate(144.50 250.86) rotate(75.0) scale(0.90 1)">0.2</text>
<text transform="translate(55.42 214.65) rotate(-63.0) scale(0.90 1)" font-size="9.0" text-anchor="end">0.25</text>
<text transform="translate(149.82 248.60) rotate(75.0) scale(0.90 1)">0.25</text>
<text transform="translate(59.53 217.64) rotate(-63.0) scale(0.90 1)" font-size="9.0" text-anchor="end">0.3</text>
<text transform="translate(155.15 246.34) rotate(75.0) scale(0.90 1)">0.3</text>
<text transform="translate(63.63 220.63) rotate(-63.0) scale(0.90 1)" font-size="9.0" text-anchor="end">0.35</text>
<text transform="translate(160.47 244.08) rotate(75.0) scale(0.90 1)">0.35</text>
<text transform="translate(67.74 223.62) rotate(-63.0) scale(0.90 1)" font-size="9.0" text-anchor="end">0.4</text>
<text transform="translate(165.80 241.82) rotate(75.0) scale(0.90 1)">0.4</text>
<text transform="translate(71.84 226.61) rotate(-63.0) scale(0.90 1)" font-size="9.0" text-anchor="end">0.45</text>
<text transform="translate(171.12 239.56) rotate(75.0) scale(0.90 1)">0.45</text>
<text transform="translate(75.95 229.60) rotate(-63.0) scale(0.90 1)" font-size="9.0" text-anchor="end">0.5</text>
<text transform="translate(176.45 237.30) rotate(75.0) scale(0.90 1)">0.5</text>
<text transform="translate(80.06 232.59) rotate(-63.0) scale(0.90 1)" font-size="9.0" text-anchor="end">0.55</text>
<text transform="translate(181.77 235.04) rotate(75.0) scale(0.90 1)">0.55</text>
<text transform="translate(84.16 235.58) rotate(-63.0) scale(0.90 1)" font-size="9.0" text-anchor="end">0.6</text>
<text transform="translate(187.10 232.78) rotate(75.0) scale(0.90 1)">0.6</text>
<text transform="translate(88.26 238.57) rotate(-63.0) scale(0.90 1)" font-size="9.0" text-anchor="end">0.65</text>
<text transform="translate(192.43 230.52) rotate(75.0) scale(0.90 1)">0.65</text>
<text transform="translate(92.37 241.56) rotate(-63.0) scale(0.90 1)" font-size="9.0" text-anchor="end">0.7</text>
<text transform="translate(197.75 228.26) rotate(75.0) scale(0.90 1)">0.7</text>
<text transform="translate(96.47 244.55) rotate(-63.0) scale(0.90 1)" font-size="9.0" text-anchor="end">0.75</text>
<text transform="translate(203.07 226.00) rotate(75.0) scale(0.90 1)">0.75</text>
<text transform="translate(100.58 247.54) rotate(-63.0) scale(0.90 1)" font-size="9.0" text-anchor="end">0.8</text>
<text transform="translate(208.40 223.74) rotate(75.0) scale(0.90 1)">0.8</text>
<text transform="translate(104.69 250.53) rotate(-63.0) scale(0.90 1)" font-size="9.0" text-anchor="end">0.85</text>
<text transform="translate(213.72 221.48) rotate(75.0) scale(0.90 1)">0.85</text>
<text transform="translate(108.79 253.52) rotate(-63.0) scale(0.90 1)" font-size="9.0" text-anchor="end">0.9</text>
<text transform="translate(219.05 219.22) rotate(75.0) scale(0.90 1)">0.9</text>
<text transform="translate(112.89 256.51) rotate(-63.0) scale(0.90 1)" font-size="9.0" text-anchor="end">0.95</text>
<text transform="translate(224.38 216.96) rotate(75.0) scale(0.90 1)">0.95</text>
</g>
<text x="150.4" y="317.0" font-family="Liberation Serif" font-weight="bold" font-size="20.1" fill="#000" text-anchor="middle">SP500 on BTC</text></g>
<g transform="translate(300,335)"><g stroke="#dcdcdc" stroke-width="0.6" fill="none">
<line x1="40.0" y1="194.7" x2="146.5" y2="149.5"/>
<line x1="40.0" y1="194.7" x2="121.8" y2="254.5"/>
<line x1="40.0" y1="194.7" x2="40.0" y2="65.7"/>
<line x1="146.5" y1="149.5" x2="146.5" y2="20.5"/>
<line x1="44.1" y1="197.7" x2="150.6" y2="152.5"/>
<line x1="45.3" y1="192.4" x2="127.1" y2="252.2"/>
<line x1="45.3" y1="192.4" x2="45.3" y2="63.4"/>
<line x1="150.6" y1="152.5" x2="150.6" y2="23.5"/>
<line x1="48.2" y1="200.7" x2="154.7" y2="155.5"/>
<line x1="50.7" y1="190.2" x2="132.4" y2="250.0"/>
<line x1="50.7" y1="190.2" x2="50.7" y2="61.2"/>
<line x1="154.7" y1="155.5" x2="154.7" y2="26.5"/>
<line x1="52.3" y1="203.7" x2="158.8" y2="158.5"/>
<line x1="56.0" y1="187.9" x2="137.8" y2="247.7"/>
<line x1="56.0" y1="187.9" x2="56.0" y2="58.9"/>
<line x1="158.8" y1="158.5" x2="158.8" y2="29.5"/>
<line x1="56.4" y1="206.7" x2="162.9" y2="161.5"/>
<line x1="61.3" y1="185.7" x2="143.1" y2="245.5"/>
<line x1="61.3" y1="185.7" x2="61.3" y2="56.7"/>
<line x1="162.9" y1="161.5" x2="162.9" y2="32.5"/>
<line x1="60.5" y1="209.6" x2="167.0" y2="164.4"/>
<line x1="66.6" y1="183.4" x2="148.4" y2="243.2"/>
<line x1="66.6" y1="183.4" x2="66.6" y2="54.4"/>
<line x1="167.0" y1="164.4" x2="167.0" y2="35.4"/>
<line x1="64.5" y1="212.6" x2="171.0" y2="167.4"/>
<line x1="72.0" y1="181.1" x2="153.8" y2="240.9"/>
<line x1="72.0" y1="181.1" x2="72.0" y2="52.1"/>
<line x1="171.0" y1="167.4" x2="171.0" y2="38.4"/>
<line x1="68.6" y1="215.6" x2="175.1" y2="170.4"/>
<line x1="77.3" y1="178.9" x2="159.1" y2="238.7"/>
<line x1="77.3" y1="178.9" x2="77.3" y2="49.9"/>
<line x1="175.1" y1="170.4" x2="175.1" y2="41.4"/>
<line x1="72.7" y1="218.6" x2="179.2" y2="173.4"/>
<line x1="82.6" y1="176.6" x2="164.4" y2="236.4"/>
<line x1="82.6" y1="176.6" x2="82.6" y2="47.6"/>
<line x1="179.2" y1="173.4" x2="179.2" y2="44.4"/>
<line x1="76.8" y1="221.6" x2="183.3" y2="176.4"/>
<line x1="87.9" y1="174.4" x2="169.7" y2="234.2"/>
<line x1="87.9" y1="174.4" x2="87.9" y2="45.4"/>
<line x1="183.3" y1="176.4" x2="183.3" y2="47.4"/>
<line x1="80.9" y1="224.6" x2="187.4" y2="179.4"/>
<line x1="93.2" y1="172.1" x2="175.1" y2="231.9"/>
<line x1="93.2" y1="172.1" x2="93.2" y2="43.1"/>
<line x1="187.4" y1="179.4" x2="187.4" y2="50.4"/>
<line x1="85.0" y1="227.6" x2="191.5" y2="182.4"/>
<line x1="98.6" y1="169.8" x2="180.4" y2="229.6"/>
<line x1="98.6" y1="169.8" x2="98.6" y2="40.8"/>
<line x1="191.5" y1="182.4" x2="191.5" y2="53.4"/>
<line x1="89.1" y1="230.6" x2="195.6" y2="185.4"/>
<line x1="103.9" y1="167.6" x2="185.7" y2="227.4"/>
<line x1="103.9" y1="167.6" x2="103.9" y2="38.6"/>
<line x1="195.6" y1="185.4" x2="195.6" y2="56.4"/>
<line x1="93.2" y1="233.6" x2="199.7" y2="188.4"/>
<line x1="109.2" y1="165.3" x2="191.0" y2="225.1"/>
<line x1="109.2" y1="165.3" x2="109.2" y2="36.3"/>
<line x1="199.7" y1="188.4" x2="199.7" y2="59.4"/>
<line x1="97.3" y1="236.6" x2="203.8" y2="191.4"/>
<line x1="114.6" y1="163.1" x2="196.4" y2="222.9"/>
<line x1="114.6" y1="163.1" x2="114.6" y2="34.1"/>
<line x1="203.8" y1="191.4" x2="203.8" y2="62.4"/>
<line x1="101.3" y1="239.6" x2="207.9" y2="194.4"/>
<line x1="119.9" y1="160.8" x2="201.7" y2="220.6"/>
<line x1="119.9" y1="160.8" x2="119.9" y2="31.8"/>
<line x1="207.9" y1="194.4" x2="207.9" y2="65.4"/>
<line x1="105.4" y1="242.5" x2="211.9" y2="197.3"/>
<line x1="125.2" y1="158.5" x2="207.0" y2="218.3"/>
<line x1="125.2" y1="158.5" x2="125.2" y2="29.5"/>
<line x1="211.9" y1="197.3" x2="211.9" y2="68.3"/>
<line x1="109.5" y1="245.5" x2="216.0" y2="200.3"/>
<line x1="130.5" y1="156.3" x2="212.3" y2="216.1"/>
<line x1="130.5" y1="156.3" x2="130.5" y2="27.3"/>
<line x1="216.0" y1="200.3" x2="216.0" y2="71.3"/>
<line x1="113.6" y1="248.5" x2="220.1" y2="203.3"/>
<line x1="135.9" y1="154.0" x2="217.7" y2="213.8"/>
<line x1="135.9" y1="154.0" x2="135.9" y2="25.0"/>
<line x1="220.1" y1="203.3" x2="220.1" y2="74.3"/>
<line x1="117.7" y1="251.5" x2="224.2" y2="206.3"/>
<line x1="141.2" y1="151.8" x2="223.0" y2="211.6"/>
<line x1="141.2" y1="151.8" x2="141.2" y2="22.8"/>
<line x1="224.2" y1="206.3" x2="224.2" y2="77.3"/>
<line x1="121.8" y1="254.5" x2="228.3" y2="209.3"/>
<line x1="146.5" y1="149.5" x2="228.3" y2="209.3"/>
<line x1="146.5" y1="149.5" x2="146.5" y2="20.5"/>
<line x1="228.3" y1="209.3" x2="228.3" y2="80.3"/>
<polyline points="40.0,194.7 146.5,149.5 228.3,209.3" stroke="#d2d2d2"/>
<polyline points="40.0,162.4 146.5,117.2 228.3,177.1" stroke="#d2d2d2"/>
<polyline points="40.0,130.2 146.5,85.0 228.3,144.8" stroke="#d2d2d2"/>
<polyline points="40.0,97.9 146.5,52.7 228.3,112.5" stroke="#d2d2d2"/>
<polyline points="40.0,65.7 146.5,20.5 228.3,80.3" stroke="#d2d2d2"/>
<polyline points="40.0,65.7 146.5,20.5 228.3,80.3" stroke="#d2d2d2"/>
</g>
<g stroke="#5a5a5a" stroke-width="0.7" fill="none">
<polyline points="40.0,194.7 121.8,254.5 228.3,209.3"/>
<polyline points="40.0,194.7 40.0,65.7"/>
<line x1="44.1" y1="197.7" x2="41.9" y2="198.9"/>
<line x1="127.1" y1="252.2" x2="127.1" y2="254.4"/>
<line x1="48.2" y1="200.7" x2="46.0" y2="201.9"/>
<line x1="132.4" y1="250.0" x2="132.4" y2="252.2"/>
<line x1="52.3" y1="203.7" x2="50.1" y2="204.9"/>
<line x1="137.8" y1="247.7" x2="137.8" y2="249.9"/>
<line x1="56.4" y1="206.7" x2="54.2" y2="207.9"/>
<line x1="143.1" y1="245.5" x2="143.1" y2="247.7"/>
<line x1="60.5" y1="209.6" x2="58.2" y2="210.8"/>
<line x1="148.4" y1="243.2" x2="148.4" y2="245.4"/>
<line x1="64.5" y1="212.6" x2="62.3" y2="213.8"/>
<line x1="153.8" y1="240.9" x2="153.8" y2="243.1"/>
<line x1="68.6" y1="215.6" x2="66.4" y2="216.8"/>
<line x1="159.1" y1="238.7" x2="159.1" y2="240.9"/>
<line x1="72.7" y1="218.6" x2="70.5" y2="219.8"/>
<line x1="164.4" y1="236.4" x2="164.4" y2="238.6"/>
<line x1="76.8" y1="221.6" x2="74.6" y2="222.8"/>
<line x1="169.7" y1="234.2" x2="169.7" y2="236.4"/>
<line x1="80.9" y1="224.6" x2="78.7" y2="225.8"/>
<line x1="175.1" y1="231.9" x2="175.1" y2="234.1"/>
<line x1="85.0" y1="227.6" x2="82.8" y2="228.8"/>
<line x1="180.4" y1="229.6" x2="180.4" y2="231.8"/>
<line x1="89.1" y1="230.6" x2="86.9" y2="231.8"/>
<line x1="185.7" y1="227.4" x2="185.7" y2="229.6"/>
<line x1="93.2" y1="233.6" x2="91.0" y2="234.8"/>
<line x1="191.0" y1="225.1" x2="191.0" y2="227.3"/>
<line x1="97.3" y1="236.6" x2="95.1" y2="237.8"/>
<line x1="196.4" y1="222.9" x2="196.4" y2="225.1"/>
<line x1="101.3" y1="239.6" x2="99.1" y2="240.8"/>
<line x1="201.7" y1="220.6" x2="201.7" y2="222.8"/>
<line x1="105.4" y1="242.5" x2="103.2" y2="243.7"/>
<line x1="207.0" y1="218.3" x2="207.0" y2="220.5"/>
<line x1="109.5" y1="245.5" x2="107.3" y2="246.7"/>
<line x1="212.3" y1="216.1" x2="212.3" y2="218.3"/>
<line x1="113.6" y1="248.5" x2="111.4" y2="249.7"/>
<line x1="217.7" y1="213.8" x2="217.7" y2="216.0"/>
<line x1="117.7" y1="251.5" x2="115.5" y2="252.7"/>
<line x1="223.0" y1="211.6" x2="223.0" y2="213.8"/>
<line x1="40.0" y1="194.7" x2="37.5" y2="194.7"/>
<line x1="40.0" y1="162.4" x2="37.5" y2="162.4"/>
<line x1="40.0" y1="130.2" x2="37.5" y2="130.2"/>
<line x1="40.0" y1="97.9" x2="37.5" y2="97.9"/>
<line x1="40.0" y1="65.7" x2="37.5" y2="65.7"/>
</g>
<g font-family="Liberation Sans" font-size="8.5" fill="#333" text-anchor="end">
<text transform="translate(36.00 197.90) scale(0.82 1)" text-anchor="end">-0.4</text>
<text transform="translate(36.00 165.65) scale(0.82 1)" text-anchor="end">-0.2</text>
<text transform="translate(36.00 133.40) scale(0.82 1)" text-anchor="end">0</text>
<text transform="translate(36.00 101.15) scale(0.82 1)" text-anchor="end">0.2</text>
<text transform="translate(36.00 68.90) scale(0.82 1)" text-anchor="end">0.4</text>
</g>
<g stroke="#000" stroke-width="0.45" stroke-linejoin="round">
<polygon points="137.1,34.8 139.9,36.9 145.3,34.6 142.4,32.5" fill="#9c0000"/>
<polygon points="131.8,37.0 134.6,39.1 139.9,36.9 137.1,34.8" fill="#9c0000"/>
<polygon points="139.9,36.9 144.0,148.7 149.4,146.5 145.3,34.6" fill="#0000aa"/>
<polygon points="126.4,39.3 129.3,41.4 134.6,39.1 131.8,37.0" fill="#9c0000"/>
<polygon points="134.6,39.1 138.7,151.0 144.0,148.7 139.9,36.9" fill="#0000aa"/>
<polygon points="144.0,148.7 148.1,86.7 153.4,92.7 149.4,146.5" fill="#ffec00"/>
<polygon points="121.1,41.6 124.0,43.7 129.3,41.4 126.4,39.3" fill="#9c0000"/>
<polygon points="129.3,41.4 133.4,153.2 138.7,151.0 134.6,39.1" fill="#0000aa"/>
<polygon points="138.7,151.0 142.8,85.6 148.1,86.7 144.0,148.7" fill="#ffcf00"/>
<polygon points="148.1,86.7 152.2,93.7 157.5,98.8 153.4,92.7" fill="#eeff11"/>
<polygon points="115.8,43.8 118.6,45.9 124.0,43.7 121.1,41.6" fill="#9c0000"/>
<polygon points="124.0,43.7 128.1,155.5 133.4,153.2 129.3,41.4" fill="#0000aa"/>
<polygon points="133.4,153.2 137.5,93.8 142.8,85.6 138.7,151.0" fill="#fbff04"/>
<polygon points="142.8,85.6 146.9,93.0 152.2,93.7 148.1,86.7" fill="#fff600"/>
<polygon points="110.5,46.1 113.3,48.2 118.6,45.9 115.8,43.8" fill="#9c0000"/>
<polygon points="152.2,93.7 156.3,104.1 161.6,106.1 157.5,98.8" fill="#adff52"/>
<polygon points="118.6,45.9 122.7,157.8 128.1,155.5 124.0,43.7" fill="#0000aa"/>
<polygon points="128.1,155.5 132.1,104.5 137.5,93.8 133.4,153.2" fill="#b1ff4e"/>
<polygon points="137.5,93.8 141.6,99.8 146.9,93.0 142.8,85.6" fill="#e1ff1e"/>
<polygon points="105.1,48.3 108.0,50.4 113.3,48.2 110.5,46.1" fill="#9c0000"/>
<polygon points="146.9,93.0 151.0,104.7 156.3,104.1 152.2,93.7" fill="#bcff43"/>
<polygon points="113.3,48.2 117.4,160.0 122.7,157.8 118.6,45.9" fill="#0000aa"/>
<polygon points="156.3,104.1 160.4,111.5 165.7,111.3 161.6,106.1" fill="#86ff79"/>
<polygon points="122.7,157.8 126.8,109.8 132.1,104.5 128.1,155.5" fill="#96ff69"/>
<polygon points="132.1,104.5 136.2,108.8 141.6,99.8 137.5,93.8" fill="#a5ff5a"/>
<polygon points="99.8,50.6 102.7,52.7 108.0,50.4 105.1,48.3" fill="#9c0000"/>
<polygon points="141.6,99.8 145.7,109.0 151.0,104.7 146.9,93.0" fill="#aaff55"/>
<polygon points="108.0,50.4 112.1,162.3 117.4,160.0 113.3,48.2" fill="#0000aa"/>
<polygon points="151.0,104.7 155.1,113.0 160.4,111.5 156.3,104.1" fill="#8eff71"/>
<polygon points="117.4,160.0 121.5,110.2 126.8,109.8 122.7,157.8" fill="#a6ff59"/>
<polygon points="160.4,111.5 164.5,115.4 169.8,113.8 165.7,111.3" fill="#7fff80"/>
<polygon points="126.8,109.8 130.9,114.0 136.2,108.8 132.1,104.5" fill="#8bff74"/>
<polygon points="94.5,52.9 97.3,55.0 102.7,52.7 99.8,50.6" fill="#9c0000"/>
<polygon points="136.2,108.8 140.3,114.6 145.7,109.0 141.6,99.8" fill="#8dff72"/>
<polygon points="102.7,52.7 106.8,164.5 112.1,162.3 108.0,50.4" fill="#0000aa"/>
<polygon points="145.7,109.0 149.7,115.4 155.1,113.0 151.0,104.7" fill="#8cff73"/>
<polygon points="112.1,162.3 116.2,110.0 121.5,110.2 117.4,160.0" fill="#bcff43"/>
<polygon points="155.1,113.0 159.2,117.5 164.5,115.4 160.4,111.5" fill="#80ff7f"/>
<polygon points="121.5,110.2 125.6,115.4 130.9,114.0 126.8,109.8" fill="#93ff6c"/>
<polygon points="89.2,55.1 92.0,57.2 97.3,55.0 94.5,52.9" fill="#9c0000"/>
<polygon points="164.5,115.4 168.6,117.7 173.9,114.7 169.8,113.8" fill="#85ff7a"/>
<polygon points="130.9,114.0 135.0,118.8 140.3,114.6 136.2,108.8" fill="#7cff83"/>
<polygon points="97.3,55.0 101.4,166.8 106.8,164.5 102.7,52.7" fill="#0000aa"/>
<polygon points="140.3,114.6 144.4,118.4 149.7,115.4 145.7,109.0" fill="#86ff79"/>
<polygon points="106.8,164.5 110.8,111.8 116.2,110.0 112.1,162.3" fill="#c0ff3f"/>
<polygon points="149.7,115.4 153.8,119.2 159.2,117.5 155.1,113.0" fill="#85ff7a"/>
<polygon points="116.2,110.0 120.3,116.0 125.6,115.4 121.5,110.2" fill="#a2ff5d"/>
<polygon points="83.8,57.4 86.7,59.5 92.0,57.2 89.2,55.1" fill="#9c0000"/>
<polygon points="159.2,117.5 163.2,120.9 168.6,117.7 164.5,115.4" fill="#7dff82"/>
<polygon points="125.6,115.4 129.7,121.3 135.0,118.8 130.9,114.0" fill="#7aff85"/>
<polygon points="92.0,57.2 96.1,169.1 101.4,166.8 97.3,55.0" fill="#0000aa"/>
<polygon points="168.6,117.7 172.7,119.6 178.0,115.3 173.9,114.7" fill="#8eff71"/>
<polygon points="135.0,118.8 139.1,121.5 144.4,118.4 140.3,114.6" fill="#7eff81"/>
<polygon points="101.4,166.8 105.5,115.6 110.8,111.8 106.8,164.5" fill="#b2ff4d"/>
<polygon points="144.4,118.4 148.5,120.8 153.8,119.2 149.7,115.4" fill="#8aff75"/>
<polygon points="110.8,111.8 114.9,117.5 120.3,116.0 116.2,110.0" fill="#a8ff57"/>
<polygon points="78.5,59.6 81.4,61.7 86.7,59.5 83.8,57.4" fill="#9c0000"/>
<polygon points="153.8,119.2 157.9,122.9 163.2,120.9 159.2,117.5" fill="#7fff80"/>
<polygon points="120.3,116.0 124.4,123.1 129.7,121.3 125.6,115.4" fill="#7dff82"/>
<polygon points="86.7,59.5 90.8,171.3 96.1,169.1 92.0,57.2" fill="#0000aa"/>
<polygon points="163.2,120.9 167.3,124.3 172.7,119.6 168.6,117.7" fill="#79ff86"/>
<polygon points="129.7,121.3 133.8,124.6 139.1,121.5 135.0,118.8" fill="#77ff88"/>
<polygon points="96.1,169.1 100.2,120.4 105.5,115.6 101.4,166.8" fill="#9cff63"/>
<polygon points="172.7,119.6 176.8,121.7 182.1,116.4 178.0,115.3" fill="#96ff69"/>
<polygon points="139.1,121.5 143.2,123.1 148.5,120.8 144.4,118.4" fill="#8aff75"/>
<polygon points="105.5,115.6 109.6,120.2 114.9,117.5 110.8,111.8" fill="#a5ff5a"/>
<polygon points="73.2,61.9 76.0,64.0 81.4,61.7 78.5,59.6" fill="#9c0000"/>
<polygon points="148.5,120.8 152.6,124.1 157.9,122.9 153.8,119.2" fill="#88ff77"/>
<polygon points="114.9,117.5 119.0,124.9 124.4,123.1 120.3,116.0" fill="#81ff7e"/>
<polygon points="81.4,61.7 85.5,160.7 90.8,171.3 86.7,59.5" fill="#001cff"/>
<polygon points="157.9,122.9 162.0,127.3 167.3,124.3 163.2,120.9" fill="#72ff8d"/>
<polygon points="124.4,123.1 128.4,127.7 133.8,124.6 129.7,121.3" fill="#70ff8f"/>
<polygon points="90.8,171.3 94.9,125.2 100.2,120.4 96.1,169.1" fill="#85ff7a"/>
<polygon points="167.3,124.3 171.4,127.8 176.8,121.7 172.7,119.6" fill="#74ff8b"/>
<polygon points="133.8,124.6 137.9,126.2 143.2,123.1 139.1,121.5" fill="#83ff7c"/>
<polygon points="100.2,120.4 104.3,123.4 109.6,120.2 105.5,115.6" fill="#9dff62"/>
<polygon points="67.9,64.2 70.7,66.3 76.0,64.0 73.2,61.9" fill="#9c0000"/>
<polygon points="176.8,121.7 180.8,124.4 186.2,118.8 182.1,116.4" fill="#98ff67"/>
<polygon points="143.2,123.1 147.3,125.7 152.6,124.1 148.5,120.8" fill="#8dff72"/>
<polygon points="109.6,120.2 113.7,126.7 119.0,124.9 114.9,117.5" fill="#86ff79"/>
<polygon points="76.0,64.0 80.1,162.9 85.5,160.7 81.4,61.7" fill="#001cff"/>
<polygon points="152.6,124.1 156.7,128.8 162.0,127.3 157.9,122.9" fill="#79ff86"/>
<polygon points="119.0,124.9 123.1,130.3 128.4,127.7 124.4,123.1" fill="#6cff93"/>
<polygon points="85.5,160.7 89.5,129.6 94.9,125.2 90.8,171.3" fill="#73ff8c"/>
<polygon points="162.0,127.3 166.1,132.1 171.4,127.8 167.3,124.3" fill="#62ff9d"/>
<polygon points="128.4,127.7 132.5,129.9 137.9,126.2 133.8,124.6" fill="#76ff89"/>
<polygon points="94.9,125.2 99.0,126.7 104.3,123.4 100.2,120.4" fill="#93ff6c"/>
<polygon points="62.5,66.4 65.4,68.5 70.7,66.3 67.9,64.2" fill="#9c0000"/>
<polygon points="171.4,127.8 175.5,131.3 180.8,124.4 176.8,121.7" fill="#70ff8f"/>
<polygon points="137.9,126.2 141.9,128.4 147.3,125.7 143.2,123.1" fill="#8aff75"/>
<polygon points="104.3,123.4 108.4,128.3 113.7,126.7 109.6,120.2" fill="#8bff74"/>
<polygon points="70.7,66.3 74.8,165.2 80.1,162.9 76.0,64.0" fill="#001cff"/>
<polygon points="180.8,124.4 184.9,127.9 190.3,122.9 186.2,118.8" fill="#94ff6b"/>
<polygon points="147.3,125.7 151.4,130.1 156.7,128.8 152.6,124.1" fill="#81ff7e"/>
<polygon points="113.7,126.7 117.8,132.3 123.1,130.3 119.0,124.9" fill="#6eff91"/>
<polygon points="80.1,162.9 84.2,133.4 89.5,129.6 85.5,160.7" fill="#66ff99"/>
<polygon points="156.7,128.8 160.8,134.5 166.1,132.1 162.0,127.3" fill="#61ff9e"/>
<polygon points="123.1,130.3 127.2,133.6 132.5,129.9 128.4,127.7" fill="#6aff95"/>
<polygon points="89.5,129.6 93.6,130.1 99.0,126.7 94.9,125.2" fill="#89ff76"/>
<polygon points="57.2,68.7 60.1,70.8 65.4,68.5 62.5,66.4" fill="#9c0000"/>
<polygon points="166.1,132.1 170.2,136.7 175.5,131.3 171.4,127.8" fill="#54ffab"/>
<polygon points="132.5,129.9 136.6,132.1 141.9,128.4 137.9,126.2" fill="#7dff82"/>
<polygon points="99.0,126.7 103.1,130.0 108.4,128.3 104.3,123.4" fill="#90ff6f"/>
<polygon points="65.4,68.5 69.5,167.5 74.8,165.2 70.7,66.3" fill="#001cff"/>
<polygon points="175.5,131.3 179.6,134.6 184.9,127.9 180.8,124.4" fill="#6dff92"/>
<polygon points="141.9,128.4 146.0,132.2 151.4,130.1 147.3,125.7" fill="#83ff7c"/>
<polygon points="108.4,128.3 112.5,133.7 117.8,132.3 113.7,126.7" fill="#76ff89"/>
<polygon points="74.8,165.2 78.9,136.5 84.2,133.4 80.1,162.9" fill="#5fffa0"/>
<polygon points="184.9,127.9 189.0,132.0 194.3,128.2 190.3,122.9" fill="#8bff74"/>
<polygon points="151.4,130.1 155.4,135.9 160.8,134.5 156.7,128.8" fill="#69ff96"/>
<polygon points="117.8,132.3 121.9,136.7 127.2,133.6 123.1,130.3" fill="#62ff9d"/>
<polygon points="84.2,133.4 88.3,133.8 93.6,130.1 89.5,129.6" fill="#7cff83"/>
<polygon points="51.9,70.9 54.7,73.0 60.1,70.8 57.2,68.7" fill="#9c0000"/>
<polygon points="160.8,134.5 164.9,140.0 170.2,136.7 166.1,132.1" fill="#4bffb4"/>
<polygon points="127.2,133.6 131.3,136.3 136.6,132.1 132.5,129.9" fill="#6cff93"/>
<polygon points="93.6,130.1 97.7,132.3 103.1,130.0 99.0,126.7" fill="#90ff6f"/>
<polygon points="60.1,70.8 64.2,161.6 69.5,167.5 65.4,68.5" fill="#0063ff"/>
<polygon points="170.2,136.7 174.3,140.3 179.6,134.6 175.5,131.3" fill="#4fffb0"/>
<polygon points="136.6,132.1 140.7,135.2 146.0,132.2 141.9,128.4" fill="#7cff83"/>
<polygon points="103.1,130.0 107.1,134.8 112.5,133.7 108.4,128.3" fill="#80ff7f"/>
<polygon points="69.5,167.5 73.6,170.4 78.9,136.5 74.8,165.2" fill="#0047ff"/>
<polygon points="179.6,134.6 183.7,137.5 189.0,132.0 184.9,127.9" fill="#6eff91"/>
<polygon points="146.0,132.2 150.1,137.4 155.4,135.9 151.4,130.1" fill="#6fff90"/>
<polygon points="112.5,133.7 116.6,139.0 121.9,136.7 117.8,132.3" fill="#62ff9d"/>
<polygon points="78.9,136.5 83.0,137.5 88.3,133.8 84.2,133.4" fill="#6fff90"/>
<polygon points="46.6,73.2 49.4,75.3 54.7,73.0 51.9,70.9" fill="#9c0000"/>
<polygon points="189.0,132.0 193.1,136.4 198.4,134.1 194.3,128.2" fill="#7eff81"/>
<polygon points="155.4,135.9 159.5,141.9 164.9,140.0 160.8,134.5" fill="#4effb1"/>
<polygon points="121.9,136.7 126.0,140.4 131.3,136.3 127.2,133.6" fill="#5cffa3"/>
<polygon points="88.3,133.8 92.4,135.3 97.7,132.3 93.6,130.1" fill="#89ff76"/>
<polygon points="54.7,73.0 58.8,163.9 64.2,161.6 60.1,70.8" fill="#0063ff"/>
<polygon points="164.9,140.0 169.0,144.4 174.3,140.3 170.2,136.7" fill="#3fffc0"/>
<polygon points="131.3,136.3 135.4,139.2 140.7,135.2 136.6,132.1" fill="#6dff92"/>
<polygon points="97.7,132.3 101.8,136.3 107.1,134.8 103.1,130.0" fill="#87ff78"/>
<polygon points="64.2,161.6 68.2,172.7 73.6,170.4 69.5,167.5" fill="#0047ff"/>
<polygon points="174.3,140.3 178.4,142.8 183.7,137.5 179.6,134.6" fill="#53ffac"/>
<polygon points="140.7,135.2 144.8,139.5 150.1,137.4 146.0,132.2" fill="#71ff8e"/>
<polygon points="107.1,134.8 111.2,140.5 116.6,139.0 112.5,133.7" fill="#69ff96"/>
<polygon points="73.6,170.4 77.7,168.6 83.0,137.5 78.9,136.5" fill="#0071ff"/>
<polygon points="183.7,137.5 187.8,140.3 193.1,136.4 189.0,132.0" fill="#70ff8f"/>
<polygon points="150.1,137.4 154.2,143.2 159.5,141.9 155.4,135.9" fill="#57ffa8"/>
<polygon points="116.6,139.0 120.6,143.8 126.0,140.4 121.9,136.7" fill="#52ffad"/>
<polygon points="83.0,137.5 87.1,139.2 92.4,135.3 88.3,133.8" fill="#7bff84"/>
<polygon points="49.4,75.3 53.5,166.2 58.8,163.9 54.7,73.0" fill="#0063ff"/>
<polygon points="193.1,136.4 197.2,140.8 202.5,139.6 198.4,134.1" fill="#71ff8e"/>
<polygon points="159.5,141.9 163.6,147.0 169.0,144.4 164.9,140.0" fill="#3cffc3"/>
<polygon points="126.0,140.4 130.1,143.6 135.4,139.2 131.3,136.3" fill="#5affa5"/>
<polygon points="92.4,135.3 96.5,138.6 101.8,136.3 97.7,132.3" fill="#87ff78"/>
<polygon points="58.8,163.9 62.9,175.0 68.2,172.7 64.2,161.6" fill="#0047ff"/>
<polygon points="169.0,144.4 173.0,147.0 178.4,142.8 174.3,140.3" fill="#42ffbd"/>
<polygon points="135.4,139.2 139.5,142.5 144.8,139.5 140.7,135.2" fill="#6aff95"/>
<polygon points="101.8,136.3 105.9,141.8 111.2,140.5 107.1,134.8" fill="#71ff8e"/>
<polygon points="68.2,172.7 72.3,170.9 77.7,168.6 73.6,170.4" fill="#0071ff"/>
<polygon points="178.4,142.8 182.5,144.3 187.8,140.3 183.7,137.5" fill="#60ff9f"/>
<polygon points="144.8,139.5 148.9,144.4 154.2,143.2 150.1,137.4" fill="#60ff9f"/>
<polygon points="111.2,140.5 115.3,146.2 120.6,143.8 116.6,139.0" fill="#50ffaf"/>
<polygon points="77.7,168.6 81.8,143.3 87.1,139.2 83.0,137.5" fill="#6bff94"/>
<polygon points="187.8,140.3 191.9,143.1 197.2,140.8 193.1,136.4" fill="#72ff8d"/>
<polygon points="154.2,143.2 158.3,148.4 163.6,147.0 159.5,141.9" fill="#43ffbc"/>
<polygon points="120.6,143.8 124.7,147.7 130.1,143.6 126.0,140.4" fill="#4affb5"/>
<polygon points="87.1,139.2 91.2,141.9 96.5,138.6 92.4,135.3" fill="#7dff82"/>
<polygon points="53.5,166.2 57.6,177.2 62.9,175.0 58.8,163.9" fill="#0047ff"/>
<polygon points="197.2,140.8 201.3,135.4 206.6,144.2 202.5,139.6" fill="#bbff44"/>
<polygon points="163.6,147.0 167.7,150.2 173.0,147.0 169.0,144.4" fill="#3affc5"/>
<polygon points="130.1,143.6 134.1,146.4 139.5,142.5 135.4,139.2" fill="#5cffa3"/>
<polygon points="96.5,138.6 100.6,143.4 105.9,141.8 101.8,136.3" fill="#77ff88"/>
<polygon points="62.9,175.0 67.0,137.6 72.3,170.9 68.2,172.7" fill="#aaff55"/>
<polygon points="173.0,147.0 177.1,148.1 182.5,144.3 178.4,142.8" fill="#53ffac"/>
<polygon points="139.5,142.5 143.6,146.2 148.9,144.4 144.8,139.5" fill="#64ff9b"/>
<polygon points="105.9,141.8 110.0,147.9 115.3,146.2 111.2,140.5" fill="#56ffa9"/>
<polygon points="72.3,170.9 76.4,135.1 81.8,143.3 77.7,168.6" fill="#c6ff39"/>
<polygon points="182.5,144.3 186.6,145.6 191.9,143.1 187.8,140.3" fill="#6fff90"/>
<polygon points="148.9,144.4 153.0,149.2 158.3,148.4 154.2,143.2" fill="#50ffaf"/>
<polygon points="115.3,146.2 119.4,151.1 124.7,147.7 120.6,143.8" fill="#40ffbf"/>
<polygon points="81.8,143.3 85.8,146.1 91.2,141.9 87.1,139.2" fill="#6dff92"/>
<polygon points="191.9,143.1 196.0,146.4 201.3,135.4 197.2,140.8" fill="#6fff90"/>
<polygon points="158.3,148.4 162.4,152.1 167.7,150.2 163.6,147.0" fill="#3dffc2"/>
<polygon points="124.7,147.7 128.8,150.5 134.1,146.4 130.1,143.6" fill="#4cffb3"/>
<polygon points="91.2,141.9 95.3,145.9 100.6,143.4 96.5,138.6" fill="#75ff8a"/>
<polygon points="57.6,177.2 61.7,175.4 67.0,137.6 62.9,175.0" fill="#ffb800"/>
<polygon points="201.3,135.4 205.4,139.8 210.7,147.8 206.6,144.2" fill="#afff50"/>
<polygon points="167.7,150.2 171.8,151.5 177.1,148.1 173.0,147.0" fill="#49ffb6"/>
<polygon points="134.1,146.4 138.2,148.8 143.6,146.2 139.5,142.5" fill="#61ff9e"/>
<polygon points="100.6,143.4 104.7,149.1 110.0,147.9 105.9,141.8" fill="#5fffa0"/>
<polygon points="67.0,137.6 71.1,124.5 76.4,135.1 72.3,170.9" fill="#ffd500"/>
<polygon points="177.1,148.1 181.2,148.5 186.6,145.6 182.5,144.3" fill="#6aff95"/>
<polygon points="143.6,146.2 147.7,149.9 153.0,149.2 148.9,144.4" fill="#5effa1"/>
<polygon points="110.0,147.9 114.1,153.3 119.4,151.1 115.3,146.2" fill="#40ffbf"/>
<polygon points="76.4,135.1 80.5,150.5 85.8,146.1 81.8,143.3" fill="#5affa5"/>
<polygon points="186.6,145.6 190.6,147.7 196.0,146.4 191.9,143.1" fill="#76ff89"/>
<polygon points="153.0,149.2 157.1,153.1 162.4,152.1 158.3,148.4" fill="#48ffb7"/>
<polygon points="119.4,151.1 123.5,154.3 128.8,150.5 124.7,147.7" fill="#3effc1"/>
<polygon points="85.8,146.1 89.9,149.3 95.3,145.9 91.2,141.9" fill="#6bff94"/>
<polygon points="196.0,146.4 200.1,150.8 205.4,139.8 201.3,135.4" fill="#62ff9d"/>
<polygon points="162.4,152.1 166.5,154.1 171.8,151.5 167.7,150.2" fill="#46ffb9"/>
<polygon points="128.8,150.5 132.9,152.2 138.2,148.8 134.1,146.4" fill="#57ffa8"/>
<polygon points="95.3,145.9 99.3,150.6 104.7,149.1 100.6,143.4" fill="#65ff9a"/>
<polygon points="61.7,175.4 65.8,152.3 71.1,124.5 67.0,137.6" fill="#ffb800"/>
<polygon points="205.4,139.8 209.5,144.1 214.8,150.8 210.7,147.8" fill="#a3ff5c"/>
<polygon points="171.8,151.5 175.9,151.7 181.2,148.5 177.1,148.1" fill="#61ff9e"/>
<polygon points="138.2,148.8 142.3,151.2 147.7,149.9 143.6,146.2" fill="#66ff99"/>
<polygon points="104.7,149.1 108.8,154.6 114.1,153.3 110.0,147.9" fill="#49ffb6"/>
<polygon points="71.1,124.5 75.2,130.7 80.5,150.5 76.4,135.1" fill="#fff100"/>
<polygon points="181.2,148.5 185.3,149.7 190.6,147.7 186.6,145.6" fill="#7aff85"/>
<polygon points="147.7,149.9 151.7,153.3 157.1,153.1 153.0,149.2" fill="#5affa5"/>
<polygon points="114.1,153.3 118.2,157.2 123.5,154.3 119.4,151.1" fill="#39ffc6"/>
<polygon points="80.5,150.5 84.6,153.4 89.9,149.3 85.8,146.1" fill="#5bffa4"/>
<polygon points="190.6,147.7 194.7,151.9 200.1,150.8 196.0,146.4" fill="#6dff92"/>
<polygon points="157.1,153.1 161.2,155.7 166.5,154.1 162.4,152.1" fill="#4bffb4"/>
<polygon points="123.5,154.3 127.6,155.8 132.9,152.2 128.8,150.5" fill="#4bffb4"/>
<polygon points="89.9,149.3 94.0,152.8 99.3,150.6 95.3,145.9" fill="#66ff99"/>
<polygon points="200.1,150.8 204.1,156.2 209.5,144.1 205.4,139.8" fill="#4dffb2"/>
<polygon points="166.5,154.1 170.6,154.8 175.9,151.7 171.8,151.5" fill="#5affa5"/>
<polygon points="132.9,152.2 137.0,153.3 142.3,151.2 138.2,148.8" fill="#68ff97"/>
<polygon points="99.3,150.6 103.4,155.5 108.8,154.6 104.7,149.1" fill="#55ffaa"/>
<polygon points="65.8,152.3 69.9,157.5 75.2,130.7 71.1,124.5" fill="#ffc600"/>
<polygon points="209.5,144.1 213.6,166.8 218.9,162.5 214.8,150.8" fill="#00f1ff"/>
<polygon points="175.9,151.7 180.0,152.4 185.3,149.7 181.2,148.5" fill="#75ff8a"/>
<polygon points="142.3,151.2 146.4,153.7 151.7,153.3 147.7,149.9" fill="#6bff94"/>
<polygon points="108.8,154.6 112.8,158.9 118.2,157.2 114.1,153.3" fill="#3dffc2"/>
<polygon points="75.2,130.7 79.3,157.6 84.6,153.4 80.5,150.5" fill="#49ffb6"/>
<polygon points="185.3,149.7 189.4,153.3 194.7,151.9 190.6,147.7" fill="#74ff8b"/>
<polygon points="151.7,153.3 155.8,156.4 161.2,155.7 157.1,153.1" fill="#59ffa6"/>
<polygon points="118.2,157.2 122.3,159.0 127.6,155.8 123.5,154.3" fill="#43ffbc"/>
<polygon points="84.6,153.4 88.7,155.9 94.0,152.8 89.9,149.3" fill="#5fffa0"/>
<polygon points="194.7,151.9 198.8,158.0 204.1,156.2 200.1,150.8" fill="#51ffae"/>
<polygon points="161.2,155.7 165.2,157.4 170.6,154.8 166.5,154.1" fill="#57ffa8"/>
<polygon points="127.6,155.8 131.7,156.2 137.0,153.3 132.9,152.2" fill="#62ff9d"/>
<polygon points="94.0,152.8 98.1,156.5 103.4,155.5 99.3,150.6" fill="#60ff9f"/>
<polygon points="204.1,156.2 208.2,170.6 213.6,166.8 209.5,144.1" fill="#00f1ff"/>
<polygon points="170.6,154.8 174.7,155.8 180.0,152.4 175.9,151.7" fill="#6cff93"/>
<polygon points="137.0,153.3 141.1,154.6 146.4,153.7 142.3,151.2" fill="#76ff89"/>
<polygon points="103.4,155.5 107.5,159.7 112.8,158.9 108.8,154.6" fill="#4affb5"/>
<polygon points="69.9,157.5 74.0,161.3 79.3,157.6 75.2,130.7" fill="#3dffc2"/>
<polygon points="180.0,152.4 184.1,155.6 189.4,153.3 185.3,149.7" fill="#74ff8b"/>
<polygon points="146.4,153.7 150.5,156.5 155.8,156.4 151.7,153.3" fill="#6cff93"/>
<polygon points="112.8,158.9 116.9,161.4 122.3,159.0 118.2,157.2" fill="#41ffbe"/>
<polygon points="79.3,157.6 83.4,159.6 88.7,155.9 84.6,153.4" fill="#52ffad"/>
<polygon points="189.4,153.3 193.5,159.6 198.8,158.0 194.7,151.9" fill="#57ffa8"/>
<polygon points="155.8,156.4 159.9,159.1 165.2,157.4 161.2,155.7" fill="#5cffa3"/>
<polygon points="122.3,159.0 126.4,159.4 131.7,156.2 127.6,155.8" fill="#5affa5"/>
<polygon points="88.7,155.9 92.8,158.2 98.1,156.5 94.0,152.8" fill="#65ff9a"/>
<polygon points="198.8,158.0 202.9,173.6 208.2,170.6 204.1,156.2" fill="#00f1ff"/>
<polygon points="165.2,157.4 169.3,159.2 174.7,155.8 170.6,154.8" fill="#61ff9e"/>
<polygon points="131.7,156.2 135.8,156.5 141.1,154.6 137.0,153.3" fill="#79ff86"/>
<polygon points="98.1,156.5 102.2,160.1 107.5,159.7 103.4,155.5" fill="#5bffa4"/>
<polygon points="174.7,155.8 178.8,158.9 184.1,155.6 180.0,152.4" fill="#6aff95"/>
<polygon points="141.1,154.6 145.2,156.8 150.5,156.5 146.4,153.7" fill="#7dff82"/>
<polygon points="107.5,159.7 111.6,162.8 116.9,161.4 112.8,158.9" fill="#4affb5"/>
<polygon points="74.0,161.3 78.0,163.3 83.4,159.6 79.3,157.6" fill="#46ffb9"/>
<polygon points="184.1,155.6 188.2,161.8 193.5,159.6 189.4,153.3" fill="#57ffa8"/>
<polygon points="150.5,156.5 154.6,159.9 159.9,159.1 155.8,156.4" fill="#68ff97"/>
<polygon points="116.9,161.4 121.0,162.4 126.4,159.4 122.3,159.0" fill="#53ffac"/>
<polygon points="83.4,159.6 87.5,160.8 92.8,158.2 88.7,155.9" fill="#62ff9d"/>
<polygon points="193.5,159.6 197.6,175.9 202.9,173.6 198.8,158.0" fill="#00f1ff"/>
<polygon points="159.9,159.1 164.0,162.2 169.3,159.2 165.2,157.4" fill="#5bffa4"/>
<polygon points="126.4,159.4 130.4,159.3 135.8,156.5 131.7,156.2" fill="#75ff8a"/>
<polygon points="92.8,158.2 96.9,160.6 102.2,160.1 98.1,156.5" fill="#6aff95"/>
<polygon points="169.3,159.2 173.4,162.9 178.8,158.9 174.7,155.8" fill="#5bffa4"/>
<polygon points="135.8,156.5 139.9,157.9 145.2,156.8 141.1,154.6" fill="#87ff78"/>
<polygon points="102.2,160.1 106.3,163.2 111.6,162.8 107.5,159.7" fill="#5affa5"/>
<polygon points="178.8,158.9 182.8,164.9 188.2,161.8 184.1,155.6" fill="#50ffaf"/>
<polygon points="145.2,156.8 149.3,160.4 154.6,159.9 150.5,156.5" fill="#78ff87"/>
<polygon points="111.6,162.8 115.7,164.6 121.0,162.4 116.9,161.4" fill="#54ffab"/>
<polygon points="78.0,163.3 82.1,163.9 87.5,160.8 83.4,159.6" fill="#5affa5"/>
<polygon points="188.2,161.8 192.3,178.1 197.6,175.9 193.5,159.6" fill="#00f1ff"/>
<polygon points="154.6,159.9 158.7,164.4 164.0,162.2 159.9,159.1" fill="#5cffa3"/>
<polygon points="121.0,162.4 125.1,162.6 130.4,159.3 126.4,159.4" fill="#6cff93"/>
<polygon points="87.5,160.8 91.5,161.9 96.9,160.6 92.8,158.2" fill="#72ff8d"/>
<polygon points="164.0,162.2 168.1,167.0 173.4,162.9 169.3,159.2" fill="#4bffb4"/>
<polygon points="130.4,159.3 134.5,160.1 139.9,157.9 135.8,156.5" fill="#88ff77"/>
<polygon points="96.9,160.6 101.0,163.3 106.3,163.2 102.2,160.1" fill="#6cff93"/>
<polygon points="173.4,162.9 177.5,169.0 182.8,164.9 178.8,158.9" fill="#40ffbf"/>
<polygon points="139.9,157.9 143.9,161.1 149.3,160.4 145.2,156.8" fill="#85ff7a"/>
<polygon points="106.3,163.2 110.4,165.9 115.7,164.6 111.6,162.8" fill="#5cffa3"/>
<polygon points="182.8,164.9 186.9,180.8 192.3,178.1 188.2,161.8" fill="#00f1ff"/>
<polygon points="149.3,160.4 153.4,165.7 158.7,164.4 154.6,159.9" fill="#64ff9b"/>
<polygon points="115.7,164.6 119.8,165.8 125.1,162.6 121.0,162.4" fill="#64ff9b"/>
<polygon points="82.1,163.9 86.2,164.1 91.5,161.9 87.5,160.8" fill="#73ff8c"/>
<polygon points="158.7,164.4 162.8,170.5 168.1,167.0 164.0,162.2" fill="#40ffbf"/>
<polygon points="125.1,162.6 129.2,163.2 134.5,160.1 130.4,159.3" fill="#81ff7e"/>
<polygon points="91.5,161.9 95.6,163.8 101.0,163.3 96.9,160.6" fill="#7cff83"/>
<polygon points="168.1,167.0 172.2,173.5 177.5,169.0 173.4,162.9" fill="#2cffd3"/>
<polygon points="134.5,160.1 138.6,162.7 143.9,161.1 139.9,157.9" fill="#8cff73"/>
<polygon points="101.0,163.3 105.1,166.5 110.4,165.9 106.3,163.2" fill="#6bff94"/>
<polygon points="177.5,169.0 181.6,184.2 186.9,180.8 182.8,164.9" fill="#00f1ff"/>
<polygon points="143.9,161.1 148.0,166.7 153.4,165.7 149.3,160.4" fill="#6fff90"/>
<polygon points="110.4,165.9 114.5,168.3 119.8,165.8 115.7,164.6" fill="#61ff9e"/>
<polygon points="153.4,165.7 157.5,173.1 162.8,170.5 158.7,164.4" fill="#3dffc2"/>
<polygon points="119.8,165.8 123.9,166.9 129.2,163.2 125.1,162.6" fill="#74ff8b"/>
<polygon points="86.2,164.1 90.3,165.1 95.6,163.8 91.5,161.9" fill="#85ff7a"/>
<polygon points="162.8,170.5 166.9,177.9 172.2,173.5 168.1,167.0" fill="#19ffe6"/>
<polygon points="129.2,163.2 133.3,165.3 138.6,162.7 134.5,160.1" fill="#88ff77"/>
<polygon points="95.6,163.8 99.7,166.8 105.1,166.5 101.0,163.3" fill="#7cff83"/>
<polygon points="172.2,173.5 176.3,188.4 181.6,184.2 177.5,169.0" fill="#00f1ff"/>
<polygon points="138.6,162.7 142.7,167.8 148.0,166.7 143.9,161.1" fill="#79ff86"/>
<polygon points="105.1,166.5 109.1,170.0 114.5,168.3 110.4,165.9" fill="#67ff98"/>
<polygon points="148.0,166.7 152.1,174.7 157.5,173.1 153.4,165.7" fill="#43ffbc"/>
<polygon points="114.5,168.3 118.6,170.6 123.9,166.9 119.8,165.8" fill="#67ff98"/>
<polygon points="157.5,173.1 161.5,181.6 166.9,177.9 162.8,170.5" fill="#0dfff2"/>
<polygon points="123.9,166.9 128.0,169.0 133.3,165.3 129.2,163.2" fill="#7cff83"/>
<polygon points="90.3,165.1 94.4,167.6 99.7,166.8 95.6,163.8" fill="#89ff76"/>
<polygon points="166.9,177.9 171.0,192.8 176.3,188.4 172.2,173.5" fill="#00f1ff"/>
<polygon points="133.3,165.3 137.4,169.7 142.7,167.8 138.6,162.7" fill="#7cff83"/>
<polygon points="99.7,166.8 103.8,171.0 109.1,170.0 105.1,166.5" fill="#72ff8d"/>
<polygon points="142.7,167.8 146.8,175.8 152.1,174.7 148.0,166.7" fill="#4dffb2"/>
<polygon points="109.1,170.0 113.2,173.6 118.6,170.6 114.5,168.3" fill="#61ff9e"/>
<polygon points="152.1,174.7 156.2,184.0 161.5,181.6 157.5,173.1" fill="#0bfff4"/>
<polygon points="118.6,170.6 122.7,173.2 128.0,169.0 123.9,166.9" fill="#6bff94"/>
<polygon points="161.5,181.6 165.6,196.9 171.0,192.8 166.9,177.9" fill="#00f1ff"/>
<polygon points="128.0,169.0 132.1,172.7 137.4,169.7 133.3,165.3" fill="#76ff89"/>
<polygon points="94.4,167.6 98.5,171.8 103.8,171.0 99.7,166.8" fill="#7eff81"/>
<polygon points="137.4,169.7 141.5,176.9 146.8,175.8 142.7,167.8" fill="#57ffa8"/>
<polygon points="103.8,171.0 107.9,175.8 113.2,173.6 109.1,170.0" fill="#61ff9e"/>
<polygon points="146.8,175.8 150.9,185.3 156.2,184.0 152.1,174.7" fill="#14ffeb"/>
<polygon points="113.2,173.6 117.3,177.3 122.7,173.2 118.6,170.6" fill="#5bffa4"/>
<polygon points="156.2,184.0 160.3,200.0 165.6,196.9 161.5,181.6" fill="#00f1ff"/>
<polygon points="122.7,173.2 126.7,176.6 132.1,172.7 128.0,169.0" fill="#68ff97"/>
<polygon points="132.1,172.7 136.2,178.7 141.5,176.9 137.4,169.7" fill="#5bffa4"/>
<polygon points="98.5,171.8 102.6,177.3 107.9,175.8 103.8,171.0" fill="#68ff97"/>
<polygon points="141.5,176.9 145.6,185.8 150.9,185.3 146.8,175.8" fill="#23ffdc"/>
<polygon points="107.9,175.8 112.0,180.7 117.3,177.3 113.2,173.6" fill="#51ffae"/>
<polygon points="150.9,185.3 155.0,201.8 160.3,200.0 156.2,184.0" fill="#00f1ff"/>
<polygon points="117.3,177.3 121.4,180.9 126.7,176.6 122.7,173.2" fill="#56ffa9"/>
<polygon points="126.7,176.6 130.8,181.4 136.2,178.7 132.1,172.7" fill="#58ffa7"/>
<polygon points="136.2,178.7 140.2,186.3 145.6,185.8 141.5,176.9" fill="#33ffcc"/>
<polygon points="102.6,177.3 106.7,183.1 112.0,180.7 107.9,175.8" fill="#50ffaf"/>
<polygon points="145.6,185.8 149.7,202.4 155.0,201.8 150.9,185.3" fill="#00f1ff"/>
<polygon points="112.0,180.7 116.1,184.9 121.4,180.9 117.3,177.3" fill="#46ffb9"/>
<polygon points="121.4,180.9 125.5,184.8 130.8,181.4 126.7,176.6" fill="#4dffb2"/>
<polygon points="130.8,181.4 134.9,187.3 140.2,186.3 136.2,178.7" fill="#3effc1"/>
<polygon points="140.2,186.3 144.3,202.1 149.7,202.4 145.6,185.8" fill="#00f1ff"/>
<polygon points="106.7,183.1 110.8,188.1 116.1,184.9 112.0,180.7" fill="#3dffc2"/>
<polygon points="116.1,184.9 120.2,215.2 125.5,184.8 121.4,180.9" fill="#0055ff"/>
<polygon points="125.5,184.8 129.6,203.0 134.9,187.3 130.8,181.4" fill="#00c6ff"/>
<polygon points="134.9,187.3 139.0,201.8 144.3,202.1 140.2,186.3" fill="#00f1ff"/>
<polygon points="110.8,188.1 114.9,192.1 120.2,215.2 116.1,184.9" fill="#35ffca"/>
<polygon points="120.2,215.2 124.3,211.8 129.6,203.0 125.5,184.8" fill="#008eff"/>
<polygon points="129.6,203.0 133.7,202.1 139.0,201.8 134.9,187.3" fill="#0063ff"/>
<polygon points="114.9,192.1 118.9,194.6 124.3,211.8 120.2,215.2" fill="#39ffc6"/>
<polygon points="124.3,211.8 128.4,203.2 133.7,202.1 129.6,203.0" fill="#0063ff"/>
<polygon points="118.9,194.6 123.0,205.3 128.4,203.2 124.3,211.8" fill="#0063ff"/>
</g>
<defs><linearGradient id="jg6" x1="0" y1="1" x2="0" y2="0">
<stop offset="0.000" stop-color="#000080"/>
<stop offset="0.125" stop-color="#0000ff"/>
<stop offset="0.250" stop-color="#0080ff"/>
<stop offset="0.375" stop-color="#00ffff"/>
<stop offset="0.500" stop-color="#80ff80"/>
<stop offset="0.625" stop-color="#ffff00"/>
<stop offset="0.750" stop-color="#ff8000"/>
<stop offset="0.875" stop-color="#ff0000"/>
<stop offset="1.000" stop-color="#800000"/>
</linearGradient></defs>
<rect x="248.5" y="21.2" width="10.5" height="232.9" fill="url(#jg6)" stroke="#333" stroke-width="0.6"/>
<g font-family="Liberation Sans" font-size="8.5" fill="#333">
<line x1="257.5" y1="234.7" x2="259.0" y2="234.7" stroke="#333" stroke-width="0.6"/>
<text transform="translate(261.50 237.69) scale(0.82 1)">-0.3</text>
<line x1="257.5" y1="202.3" x2="259.0" y2="202.3" stroke="#333" stroke-width="0.6"/>
<text transform="translate(261.50 205.34) scale(0.82 1)">-0.2</text>
<line x1="257.5" y1="170.0" x2="259.0" y2="170.0" stroke="#333" stroke-width="0.6"/>
<text transform="translate(261.50 173.00) scale(0.82 1)">-0.1</text>
<line x1="257.5" y1="137.6" x2="259.0" y2="137.6" stroke="#333" stroke-width="0.6"/>
<text transform="translate(261.50 140.65) scale(0.82 1)">0</text>
<line x1="257.5" y1="105.3" x2="259.0" y2="105.3" stroke="#333" stroke-width="0.6"/>
<text transform="translate(261.50 108.30) scale(0.82 1)">0.1</text>
<line x1="257.5" y1="73.0" x2="259.0" y2="73.0" stroke="#333" stroke-width="0.6"/>
<text transform="translate(261.50 75.96) scale(0.82 1)">0.2</text>
<line x1="257.5" y1="40.6" x2="259.0" y2="40.6" stroke="#333" stroke-width="0.6"/>
<text transform="translate(261.50 43.61) scale(0.82 1)">0.3</text>
</g>
<g font-family="Liberation Sans" font-size="10.0" fill="#3a3a3a">
<text transform="translate(61.70 276.30) scale(0.75 1)">BTC</text>
<text transform="translate(172.50 279.20) scale(0.75 1)">UNCERT</text>
</g>
<g font-family="Liberation Sans" font-size="8.5" fill="#444">
<text transform="translate(39.59 202.69) rotate(-63.0) scale(0.90 1)" font-size="9.0" text-anchor="end">0.05</text>
<text transform="translate(128.82 257.64) rotate(75.0) scale(0.90 1)">0.05</text>
<text transform="translate(43.68 205.68) rotate(-63.0) scale(0.90 1)" font-size="9.0" text-anchor="end">0.1</text>
<text transform="translate(134.15 255.38) rotate(75.0) scale(0.90 1)">0.1</text>
<text transform="translate(47.77 208.67) rotate(-63.0) scale(0.90 1)" font-size="9.0" text-anchor="end">0.15</text>
<text transform="translate(139.47 253.12) rotate(75.0) scale(0.90 1)">0.15</text>
<text transform="translate(51.86 211.66) rotate(-63.0) scale(0.90 1)" font-size="9.0" text-anchor="end">0.2</text>
<text transform="translate(144.80 250.86) rotate(75.0) scale(0.90 1)">0.2</text>
<text transform="translate(55.95 214.65) rotate(-63.0) scale(0.90 1)" font-size="9.0" text-anchor="end">0.25</text>
<text transform="translate(150.12 248.60) rotate(75.0) scale(0.90 1)">0.25</text>
<text transform="translate(60.04 217.64) rotate(-63.0) scale(0.90 1)" font-size="9.0" text-anchor="end">0.3</text>
<text transform="translate(155.45 246.34) rotate(75.0) scale(0.90 1)">0.3</text>
<text transform="translate(64.13 220.63) rotate(-63.0) scale(0.90 1)" font-size="9.0" text-anchor="end">0.35</text>
<text transform="translate(160.77 244.08) rotate(75.0) scale(0.90 1)">0.35</text>
<text transform="translate(68.22 223.62) rotate(-63.0) scale(0.90 1)" font-size="9.0" text-anchor="end">0.4</text>
<text transform="translate(166.10 241.82) rotate(75.0) scale(0.90 1)">0.4</text>
<text transform="translate(72.31 226.61) rotate(-63.0) scale(0.90 1)" font-size="9.0" text-anchor="end">0.45</text>
<text transform="translate(171.42 239.56) rotate(75.0) scale(0.90 1)">0.45</text>
<text transform="translate(76.40 229.60) rotate(-63.0) scale(0.90 1)" font-size="9.0" text-anchor="end">0.5</text>
<text transform="translate(176.75 237.30) rotate(75.0) scale(0.90 1)">0.5</text>
<text transform="translate(80.49 232.59) rotate(-63.0) scale(0.90 1)" font-size="9.0" text-anchor="end">0.55</text>
<text transform="translate(182.07 235.04) rotate(75.0) scale(0.90 1)">0.55</text>
<text transform="translate(84.58 235.58) rotate(-63.0) scale(0.90 1)" font-size="9.0" text-anchor="end">0.6</text>
<text transform="translate(187.40 232.78) rotate(75.0) scale(0.90 1)">0.6</text>
<text transform="translate(88.67 238.57) rotate(-63.0) scale(0.90 1)" font-size="9.0" text-anchor="end">0.65</text>
<text transform="translate(192.72 230.52) rotate(75.0) scale(0.90 1)">0.65</text>
<text transform="translate(92.76 241.56) rotate(-63.0) scale(0.90 1)" font-size="9.0" text-anchor="end">0.7</text>
<text transform="translate(198.05 228.26) rotate(75.0) scale(0.90 1)">0.7</text>
<text transform="translate(96.85 244.55) rotate(-63.0) scale(0.90 1)" font-size="9.0" text-anchor="end">0.75</text>
<text transform="translate(203.38 226.00) rotate(75.0) scale(0.90 1)">0.75</text>
<text transform="translate(100.94 247.54) rotate(-63.0) scale(0.90 1)" font-size="9.0" text-anchor="end">0.8</text>
<text transform="translate(208.70 223.74) rotate(75.0) scale(0.90 1)">0.8</text>
<text transform="translate(105.03 250.53) rotate(-63.0) scale(0.90 1)" font-size="9.0" text-anchor="end">0.85</text>
<text transform="translate(214.02 221.48) rotate(75.0) scale(0.90 1)">0.85</text>
<text transform="translate(109.12 253.52) rotate(-63.0) scale(0.90 1)" font-size="9.0" text-anchor="end">0.9</text>
<text transform="translate(219.35 219.22) rotate(75.0) scale(0.90 1)">0.9</text>
<text transform="translate(113.21 256.51) rotate(-63.0) scale(0.90 1)" font-size="9.0" text-anchor="end">0.95</text>
<text transform="translate(224.68 216.96) rotate(75.0) scale(0.90 1)">0.95</text>
</g>
<text x="150.8" y="317.0" font-family="Liberation Serif" font-weight="bold" font-size="20.1" fill="#000" text-anchor="middle">UNCERT on BTC</text></g>
<g transform="translate(600,335)"><g stroke="#dcdcdc" stroke-width="0.6" fill="none">
<line x1="40.0" y1="194.7" x2="146.5" y2="149.5"/>
<line x1="40.0" y1="194.7" x2="121.8" y2="254.5"/>
<line x1="40.0" y1="194.7" x2="40.0" y2="65.7"/>
<line x1="146.5" y1="149.5" x2="146.5" y2="20.5"/>
<line x1="44.1" y1="197.7" x2="150.6" y2="152.5"/>
<line x1="45.3" y1="192.4" x2="127.1" y2="252.2"/>
<line x1="45.3" y1="192.4" x2="45.3" y2="63.4"/>
<line x1="150.6" y1="152.5" x2="150.6" y2="23.5"/>
<line x1="48.2" y1="200.7" x2="154.7" y2="155.5"/>
<line x1="50.7" y1="190.2" x2="132.4" y2="250.0"/>
<line x1="50.7" y1="190.2" x2="50.7" y2="61.2"/>
<line x1="154.7" y1="155.5" x2="154.7" y2="26.5"/>
<line x1="52.3" y1="203.7" x2="158.8" y2="158.5"/>
<line x1="56.0" y1="187.9" x2="137.8" y2="247.7"/>
<line x1="56.0" y1="187.9" x2="56.0" y2="58.9"/>
<line x1="158.8" y1="158.5" x2="158.8" y2="29.5"/>
<line x1="56.4" y1="206.7" x2="162.9" y2="161.5"/>
<line x1="61.3" y1="185.7" x2="143.1" y2="245.5"/>
<line x1="61.3" y1="185.7" x2="61.3" y2="56.7"/>
<line x1="162.9" y1="161.5" x2="162.9" y2="32.5"/>
<line x1="60.5" y1="209.6" x2="167.0" y2="164.4"/>
<line x1="66.6" y1="183.4" x2="148.4" y2="243.2"/>
<line x1="66.6" y1="183.4" x2="66.6" y2="54.4"/>
<line x1="167.0" y1="164.4" x2="167.0" y2="35.4"/>
<line x1="64.5" y1="212.6" x2="171.0" y2="167.4"/>
<line x1="72.0" y1="181.1" x2="153.8" y2="240.9"/>
<line x1="72.0" y1="181.1" x2="72.0" y2="52.1"/>
<line x1="171.0" y1="167.4" x2="171.0" y2="38.4"/>
<line x1="68.6" y1="215.6" x2="175.1" y2="170.4"/>
<line x1="77.3" y1="178.9" x2="159.1" y2="238.7"/>
<line x1="77.3" y1="178.9" x2="77.3" y2="49.9"/>
<line x1="175.1" y1="170.4" x2="175.1" y2="41.4"/>
<line x1="72.7" y1="218.6" x2="179.2" y2="173.4"/>
<line x1="82.6" y1="176.6" x2="164.4" y2="236.4"/>
<line x1="82.6" y1="176.6" x2="82.6" y2="47.6"/>
<line x1="179.2" y1="173.4" x2="179.2" y2="44.4"/>
<line x1="76.8" y1="221.6" x2="183.3" y2="176.4"/>
<line x1="87.9" y1="174.4" x2="169.7" y2="234.2"/>
<line x1="87.9" y1="174.4" x2="87.9" y2="45.4"/>
<line x1="183.3" y1="176.4" x2="183.3" y2="47.4"/>
<line x1="80.9" y1="224.6" x2="187.4" y2="179.4"/>
<line x1="93.2" y1="172.1" x2="175.1" y2="231.9"/>
<line x1="93.2" y1="172.1" x2="93.2" y2="43.1"/>
<line x1="187.4" y1="179.4" x2="187.4" y2="50.4"/>
<line x1="85.0" y1="227.6" x2="191.5" y2="182.4"/>
<line x1="98.6" y1="169.8" x2="180.4" y2="229.6"/>
<line x1="98.6" y1="169.8" x2="98.6" y2="40.8"/>
<line x1="191.5" y1="182.4" x2="191.5" y2="53.4"/>
<line x1="89.1" y1="230.6" x2="195.6" y2="185.4"/>
<line x1="103.9" y1="167.6" x2="185.7" y2="227.4"/>
<line x1="103.9" y1="167.6" x2="103.9" y2="38.6"/>
<line x1="195.6" y1="185.4" x2="195.6" y2="56.4"/>
<line x1="93.2" y1="233.6" x2="199.7" y2="188.4"/>
<line x1="109.2" y1="165.3" x2="191.0" y2="225.1"/>
<line x1="109.2" y1="165.3" x2="109.2" y2="36.3"/>
<line x1="199.7" y1="188.4" x2="199.7" y2="59.4"/>
<line x1="97.3" y1="236.6" x2="203.8" y2="191.4"/>
<line x1="114.6" y1="163.1" x2="196.4" y2="222.9"/>
<line x1="114.6" y1="163.1" x2="114.6" y2="34.1"/>
<line x1="203.8" y1="191.4" x2="203.8" y2="62.4"/>
<line x1="101.3" y1="239.6" x2="207.9" y2="194.4"/>
<line x1="119.9" y1="160.8" x2="201.7" y2="220.6"/>
<line x1="119.9" y1="160.8" x2="119.9" y2="31.8"/>
<line x1="207.9" y1="194.4" x2="207.9" y2="65.4"/>
<line x1="105.4" y1="242.5" x2="211.9" y2="197.3"/>
<line x1="125.2" y1="158.5" x2="207.0" y2="218.3"/>
<line x1="125.2" y1="158.5" x2="125.2" y2="29.5"/>
<line x1="211.9" y1="197.3" x2="211.9" y2="68.3"/>
<line x1="109.5" y1="245.5" x2="216.0" y2="200.3"/>
<line x1="130.5" y1="156.3" x2="212.3" y2="216.1"/>
<line x1="130.5" y1="156.3" x2="130.5" y2="27.3"/>
<line x1="216.0" y1="200.3" x2="216.0" y2="71.3"/>
<line x1="113.6" y1="248.5" x2="220.1" y2="203.3"/>
<line x1="135.9" y1="154.0" x2="217.7" y2="213.8"/>
<line x1="135.9" y1="154.0" x2="135.9" y2="25.0"/>
<line x1="220.1" y1="203.3" x2="220.1" y2="74.3"/>
<line x1="117.7" y1="251.5" x2="224.2" y2="206.3"/>
<line x1="141.2" y1="151.8" x2="223.0" y2="211.6"/>
<line x1="141.2" y1="151.8" x2="141.2" y2="22.8"/>
<line x1="224.2" y1="206.3" x2="224.2" y2="77.3"/>
<line x1="121.8" y1="254.5" x2="228.3" y2="209.3"/>
<line x1="146.5" y1="149.5" x2="228.3" y2="209.3"/>
<line x1="146.5" y1="149.5" x2="146.5" y2="20.5"/>
<line x1="228.3" y1="209.3" x2="228.3" y2="80.3"/>
<polyline points="40.0,192.2 146.5,147.0 228.3,206.8" stroke="#d2d2d2"/>
<polyline points="40.0,172.3 146.5,127.1 228.3,186.9" stroke="#d2d2d2"/>
<polyline points="40.0,152.5 146.5,107.3 228.3,167.1" stroke="#d2d2d2"/>
<polyline points="40.0,132.6 146.5,87.4 228.3,147.2" stroke="#d2d2d2"/>
<polyline points="40.0,112.7 146.5,67.5 228.3,127.3" stroke="#d2d2d2"/>
<polyline points="40.0,92.9 146.5,47.7 228.3,107.5" stroke="#d2d2d2"/>
<polyline points="40.0,73.0 146.5,27.8 228.3,87.6" stroke="#d2d2d2"/>
<polyline points="40.0,65.7 146.5,20.5 228.3,80.3" stroke="#d2d2d2"/>
</g>
<g stroke="#5a5a5a" stroke-width="0.7" fill="none">
<polyline points="40.0,194.7 121.8,254.5 228.3,209.3"/>
<polyline points="40.0,194.7 40.0,65.7"/>
<line x1="44.1" y1="197.7" x2="41.9" y2="198.9"/>
<line x1="127.1" y1="252.2" x2="127.1" y2="254.4"/>
<line x1="48.2" y1="200.7" x2="46.0" y2="201.9"/>
<line x1="132.4" y1="250.0" x2="132.4" y2="252.2"/>
<line x1="52.3" y1="203.7" x2="50.1" y2="204.9"/>
<line x1="137.8" y1="247.7" x2="137.8" y2="249.9"/>
<line x1="56.4" y1="206.7" x2="54.2" y2="207.9"/>
<line x1="143.1" y1="245.5" x2="143.1" y2="247.7"/>
<line x1="60.5" y1="209.6" x2="58.2" y2="210.8"/>
<line x1="148.4" y1="243.2" x2="148.4" y2="245.4"/>
<line x1="64.5" y1="212.6" x2="62.3" y2="213.8"/>
<line x1="153.8" y1="240.9" x2="153.8" y2="243.1"/>
<line x1="68.6" y1="215.6" x2="66.4" y2="216.8"/>
<line x1="159.1" y1="238.7" x2="159.1" y2="240.9"/>
<line x1="72.7" y1="218.6" x2="70.5" y2="219.8"/>
<line x1="164.4" y1="236.4" x2="164.4" y2="238.6"/>
<line x1="76.8" y1="221.6" x2="74.6" y2="222.8"/>
<line x1="169.7" y1="234.2" x2="169.7" y2="236.4"/>
<line x1="80.9" y1="224.6" x2="78.7" y2="225.8"/>
<line x1="175.1" y1="231.9" x2="175.1" y2="234.1"/>
<line x1="85.0" y1="227.6" x2="82.8" y2="228.8"/>
<line x1="180.4" y1="229.6" x2="180.4" y2="231.8"/>
<line x1="89.1" y1="230.6" x2="86.9" y2="231.8"/>
<line x1="185.7" y1="227.4" x2="185.7" y2="229.6"/>
<line x1="93.2" y1="233.6" x2="91.0" y2="234.8"/>
<line x1="191.0" y1="225.1" x2="191.0" y2="227.3"/>
<line x1="97.3" y1="236.6" x2="95.1" y2="237.8"/>
<line x1="196.4" y1="222.9" x2="196.4" y2="225.1"/>
<line x1="101.3" y1="239.6" x2="99.1" y2="240.8"/>
<line x1="201.7" y1="220.6" x2="201.7" y2="222.8"/>
<line x1="105.4" y1="242.5" x2="103.2" y2="243.7"/>
<line x1="207.0" y1="218.3" x2="207.0" y2="220.5"/>
<line x1="109.5" y1="245.5" x2="107.3" y2="246.7"/>
<line x1="212.3" y1="216.1" x2="212.3" y2="218.3"/>
<line x1="113.6" y1="248.5" x2="111.4" y2="249.7"/>
<line x1="217.7" y1="213.8" x2="217.7" y2="216.0"/>
<line x1="117.7" y1="251.5" x2="115.5" y2="252.7"/>
<line x1="223.0" y1="211.6" x2="223.0" y2="213.8"/>
<line x1="40.0" y1="192.2" x2="37.5" y2="192.2"/>
<line x1="40.0" y1="172.3" x2="37.5" y2="172.3"/>
<line x1="40.0" y1="152.5" x2="37.5" y2="152.5"/>
<line x1="40.0" y1="132.6" x2="37.5" y2="132.6"/>
<line x1="40.0" y1="112.7" x2="37.5" y2="112.7"/>
<line x1="40.0" y1="92.9" x2="37.5" y2="92.9"/>
<line x1="40.0" y1="73.0" x2="37.5" y2="73.0"/>
</g>
<g font-family="Liberation Sans" font-size="8.5" fill="#333" text-anchor="end">
<text transform="translate(36.00 195.36) scale(0.82 1)" text-anchor="end">-0.3</text>
<text transform="translate(36.00 175.51) scale(0.82 1)" text-anchor="end">-0.25</text>
<text transform="translate(36.00 155.65) scale(0.82 1)" text-anchor="end">-0.2</text>
<text transform="translate(36.00 135.80) scale(0.82 1)" text-anchor="end">-0.15</text>
<text transform="translate(36.00 115.95) scale(0.82 1)" text-anchor="end">-0.1</text>
<text transform="translate(36.00 96.10) scale(0.82 1)" text-anchor="end">-0.05</text>
<text transform="translate(36.00 76.25) scale(0.82 1)" text-anchor="end">0</text>
</g>
<g stroke="#000" stroke-width="0.45" stroke-linejoin="round">
<polygon points="139.9,71.1 144.0,74.1 149.4,38.6 145.3,25.8" fill="#fff500"/>
<polygon points="134.6,61.3 138.7,66.2 144.0,74.1 139.9,71.1" fill="#ffbb00"/>
<polygon points="144.0,74.1 148.1,77.1 153.4,42.2 149.4,38.6" fill="#fff500"/>
<polygon points="129.3,63.9 133.4,68.2 138.7,66.2 134.6,61.3" fill="#ffbe00"/>
<polygon points="138.7,66.2 142.8,69.4 148.1,77.1 144.0,74.1" fill="#ffca00"/>
<polygon points="148.1,77.1 152.2,80.1 157.5,45.7 153.4,42.2" fill="#fff500"/>
<polygon points="124.0,67.4 128.1,70.1 133.4,68.2 129.3,63.9" fill="#ffc700"/>
<polygon points="133.4,68.2 137.5,71.5 142.8,69.4 138.7,66.2" fill="#ffc800"/>
<polygon points="142.8,69.4 146.9,69.8 152.2,80.1 148.1,77.1" fill="#ffcb00"/>
<polygon points="152.2,80.1 156.3,83.0 161.6,49.2 157.5,45.7" fill="#fff500"/>
<polygon points="118.6,71.7 122.7,72.6 128.1,70.1 124.0,67.4" fill="#ffd800"/>
<polygon points="128.1,70.1 132.1,72.4 137.5,71.5 133.4,68.2" fill="#ffc500"/>
<polygon points="137.5,71.5 141.6,72.6 146.9,69.8 142.8,69.4" fill="#ffca00"/>
<polygon points="146.9,69.8 151.0,69.0 156.3,83.0 152.2,80.1" fill="#ffb700"/>
<polygon points="113.3,76.2 117.4,76.0 122.7,72.6 118.6,71.7" fill="#ffe900"/>
<polygon points="156.3,83.0 160.4,86.0 165.7,52.8 161.6,49.2" fill="#fff500"/>
<polygon points="122.7,72.6 126.8,73.1 132.1,72.4 128.1,70.1" fill="#ffc700"/>
<polygon points="132.1,72.4 136.2,73.8 141.6,72.6 137.5,71.5" fill="#ffc000"/>
<polygon points="141.6,72.6 145.7,72.3 151.0,69.0 146.9,69.8" fill="#ffbc00"/>
<polygon points="108.0,80.2 112.1,79.9 117.4,76.0 113.3,76.2" fill="#fff700"/>
<polygon points="151.0,69.0 155.1,69.3 160.4,86.0 156.3,83.0" fill="#ff9900"/>
<polygon points="117.4,76.0 121.5,74.5 126.8,73.1 122.7,72.6" fill="#ffd000"/>
<polygon points="160.4,86.0 164.5,89.0 169.8,56.3 165.7,52.8" fill="#fff500"/>
<polygon points="126.8,73.1 130.9,73.8 136.2,73.8 132.1,72.4" fill="#ffb300"/>
<polygon points="136.2,73.8 140.3,74.5 145.7,72.3 141.6,72.6" fill="#ffb300"/>
<polygon points="102.7,83.3 106.8,83.7 112.1,79.9 108.0,80.2" fill="#fffe00"/>
<polygon points="145.7,72.3 149.7,72.4 155.1,69.3 151.0,69.0" fill="#ffa100"/>
<polygon points="112.1,79.9 116.2,77.3 121.5,74.5 117.4,76.0" fill="#ffdd00"/>
<polygon points="155.1,69.3 159.2,72.3 164.5,89.0 160.4,86.0" fill="#ff8400"/>
<polygon points="121.5,74.5 125.6,73.8 130.9,73.8 126.8,73.1" fill="#ffad00"/>
<polygon points="164.5,89.0 168.6,92.0 173.9,59.9 169.8,56.3" fill="#fff500"/>
<polygon points="130.9,73.8 135.0,75.3 140.3,74.5 136.2,73.8" fill="#ffa100"/>
<polygon points="97.3,85.8 101.4,86.9 106.8,83.7 102.7,83.3" fill="#feff01"/>
<polygon points="140.3,74.5 144.4,75.4 149.7,72.4 145.7,72.3" fill="#ffa100"/>
<polygon points="106.8,83.7 110.8,81.3 116.2,77.3 112.1,79.9" fill="#ffe900"/>
<polygon points="149.7,72.4 153.8,74.5 159.2,72.3 155.1,69.3" fill="#ff8a00"/>
<polygon points="116.2,77.3 120.3,75.0 125.6,73.8 121.5,74.5" fill="#ffb100"/>
<polygon points="159.2,72.3 163.2,76.9 168.6,92.0 164.5,89.0" fill="#ff8400"/>
<polygon points="125.6,73.8 129.7,75.2 135.0,75.3 130.9,73.8" fill="#ff8f00"/>
<polygon points="92.0,88.5 96.1,89.7 101.4,86.9 97.3,85.8" fill="#fbff04"/>
<polygon points="168.6,92.0 172.7,95.0 178.0,63.4 173.9,59.9" fill="#fff500"/>
<polygon points="135.0,75.3 139.1,77.5 144.4,75.4 140.3,74.5" fill="#ff9500"/>
<polygon points="101.4,86.9 105.5,85.7 110.8,81.3 106.8,83.7" fill="#fff100"/>
<polygon points="144.4,75.4 148.5,77.3 153.8,74.5 149.7,72.4" fill="#ff9000"/>
<polygon points="110.8,81.3 114.9,78.4 120.3,75.0 116.2,77.3" fill="#ffbe00"/>
<polygon points="153.8,74.5 157.9,78.5 163.2,76.9 159.2,72.3" fill="#ff8400"/>
<polygon points="120.3,75.0 124.4,75.6 129.7,75.2 125.6,73.8" fill="#ff8700"/>
<polygon points="86.7,92.1 90.8,92.6 96.1,89.7 92.0,88.5" fill="#f1ff0e"/>
<polygon points="163.2,76.9 167.3,80.8 172.7,95.0 168.6,92.0" fill="#ff9100"/>
<polygon points="129.7,75.2 133.8,78.7 139.1,77.5 135.0,75.3" fill="#ff8200"/>
<polygon points="96.1,89.7 100.2,89.9 105.5,85.7 101.4,86.9" fill="#fff500"/>
<polygon points="172.7,95.0 176.8,98.0 182.1,67.0 178.0,63.4" fill="#fff500"/>
<polygon points="139.1,77.5 143.2,80.3 148.5,77.3 144.4,75.4" fill="#ff8f00"/>
<polygon points="105.5,85.7 109.6,83.6 114.9,78.4 110.8,81.3" fill="#ffcf00"/>
<polygon points="148.5,77.3 152.6,80.4 157.9,78.5 153.8,74.5" fill="#ff8800"/>
<polygon points="114.9,78.4 119.0,78.0 124.4,75.6 120.3,75.0" fill="#ff9000"/>
<polygon points="81.4,96.9 85.5,96.6 90.8,92.6 86.7,92.1" fill="#dcff23"/>
<polygon points="157.9,78.5 162.0,82.3 167.3,80.8 163.2,76.9" fill="#ff8b00"/>
<polygon points="124.4,75.6 128.4,79.5 133.8,78.7 129.7,75.2" fill="#ff7400"/>
<polygon points="90.8,92.6 94.9,93.6 100.2,89.9 96.1,89.7" fill="#fffa00"/>
<polygon points="167.3,80.8 171.4,81.9 176.8,98.0 172.7,95.0" fill="#ff9800"/>
<polygon points="133.8,78.7 137.9,82.9 143.2,80.3 139.1,77.5" fill="#ff8600"/>
<polygon points="100.2,89.9 104.3,89.6 109.6,83.6 105.5,85.7" fill="#ffdf00"/>
<polygon points="176.8,98.0 180.8,101.0 186.2,70.5 182.1,67.0" fill="#fff500"/>
<polygon points="143.2,80.3 147.3,83.2 152.6,80.4 148.5,77.3" fill="#ff8e00"/>
<polygon points="109.6,83.6 113.7,83.0 119.0,78.0 114.9,78.4" fill="#ffa700"/>
<polygon points="76.0,102.7 80.1,101.9 85.5,96.6 81.4,96.9" fill="#c0ff3f"/>
<polygon points="152.6,80.4 156.7,83.7 162.0,82.3 157.9,78.5" fill="#ff8900"/>
<polygon points="119.0,78.0 123.1,81.3 128.4,79.5 124.4,75.6" fill="#ff7500"/>
<polygon points="85.5,96.6 89.5,97.5 94.9,93.6 90.8,92.6" fill="#f7ff08"/>
<polygon points="162.0,82.3 166.1,84.2 171.4,81.9 167.3,80.8" fill="#ff9200"/>
<polygon points="128.4,79.5 132.5,85.0 137.9,82.9 133.8,78.7" fill="#ff7b00"/>
<polygon points="94.9,93.6 99.0,95.3 104.3,89.6 100.2,89.9" fill="#ffea00"/>
<polygon points="171.4,81.9 175.5,80.7 180.8,101.0 176.8,98.0" fill="#ff8900"/>
<polygon points="137.9,82.9 141.9,86.4 147.3,83.2 143.2,80.3" fill="#ff9000"/>
<polygon points="104.3,89.6 108.4,89.8 113.7,83.0 109.6,83.6" fill="#ffc500"/>
<polygon points="70.7,111.6 74.8,114.6 80.1,101.9 76.0,102.7" fill="#8cff73"/>
<polygon points="180.8,101.0 184.9,104.0 190.3,74.0 186.2,70.5" fill="#fff500"/>
<polygon points="147.3,83.2 151.4,85.7 156.7,83.7 152.6,80.4" fill="#ff8d00"/>
<polygon points="113.7,83.0 117.8,85.3 123.1,81.3 119.0,78.0" fill="#ff8b00"/>
<polygon points="80.1,101.9 84.2,102.4 89.5,97.5 85.5,96.6" fill="#deff21"/>
<polygon points="156.7,83.7 160.8,86.1 166.1,84.2 162.0,82.3" fill="#ff8b00"/>
<polygon points="123.1,81.3 127.2,87.2 132.5,85.0 128.4,79.5" fill="#ff7800"/>
<polygon points="89.5,97.5 93.6,100.3 99.0,95.3 94.9,93.6" fill="#fff700"/>
<polygon points="166.1,84.2 170.2,84.0 175.5,80.7 171.4,81.9" fill="#ff8a00"/>
<polygon points="132.5,85.0 136.6,89.7 141.9,86.4 137.9,82.9" fill="#ff8f00"/>
<polygon points="99.0,95.3 103.1,97.3 108.4,89.8 104.3,89.6" fill="#ffe000"/>
<polygon points="65.4,120.6 69.5,123.6 74.8,114.6 70.7,111.6" fill="#57ffa8"/>
<polygon points="175.5,80.7 179.6,79.9 184.9,104.0 180.8,101.0" fill="#ff6800"/>
<polygon points="141.9,86.4 146.0,88.6 151.4,85.7 147.3,83.2" fill="#ff9400"/>
<polygon points="108.4,89.8 112.5,91.6 117.8,85.3 113.7,83.0" fill="#ffaf00"/>
<polygon points="74.8,114.6 78.9,117.6 84.2,102.4 80.1,101.9" fill="#8cff73"/>
<polygon points="184.9,104.0 189.0,107.0 194.3,77.6 190.3,74.0" fill="#fff500"/>
<polygon points="151.4,85.7 155.4,88.0 160.8,86.1 156.7,83.7" fill="#ff8900"/>
<polygon points="117.8,85.3 121.9,90.3 127.2,87.2 123.1,81.3" fill="#ff8600"/>
<polygon points="84.2,102.4 88.3,105.3 93.6,100.3 89.5,97.5" fill="#f2ff0d"/>
<polygon points="160.8,86.1 164.9,87.3 170.2,84.0 166.1,84.2" fill="#ff8600"/>
<polygon points="127.2,87.2 131.3,92.8 136.6,89.7 132.5,85.0" fill="#ff8e00"/>
<polygon points="93.6,100.3 97.7,104.1 103.1,97.3 99.0,95.3" fill="#fff600"/>
<polygon points="60.1,129.6 64.2,132.6 69.5,123.6 65.4,120.6" fill="#21ffde"/>
<polygon points="170.2,84.0 174.3,83.6 179.6,79.9 175.5,80.7" fill="#ff7000"/>
<polygon points="136.6,89.7 140.7,92.4 146.0,88.6 141.9,86.4" fill="#ff9d00"/>
<polygon points="103.1,97.3 107.1,99.4 112.5,91.6 108.4,89.8" fill="#ffd800"/>
<polygon points="69.5,123.6 73.6,126.6 78.9,117.6 74.8,114.6" fill="#57ffa8"/>
<polygon points="179.6,79.9 183.7,81.9 189.0,107.0 184.9,104.0" fill="#ff4a00"/>
<polygon points="146.0,88.6 150.1,90.5 155.4,88.0 151.4,85.7" fill="#ff8f00"/>
<polygon points="112.5,91.6 116.6,95.0 121.9,90.3 117.8,85.3" fill="#ffa500"/>
<polygon points="78.9,117.6 83.0,120.6 88.3,105.3 84.2,102.4" fill="#8cff73"/>
<polygon points="189.0,107.0 193.1,110.0 198.4,81.1 194.3,77.6" fill="#fff500"/>
<polygon points="155.4,88.0 159.5,90.4 164.9,87.3 160.8,86.1" fill="#ff8300"/>
<polygon points="121.9,90.3 126.0,95.9 131.3,92.8 127.2,87.2" fill="#ff9500"/>
<polygon points="88.3,105.3 92.4,110.0 97.7,104.1 93.6,100.3" fill="#f2ff0d"/>
<polygon points="54.7,135.0 58.8,138.0 64.2,132.6 60.1,129.6" fill="#08fff7"/>
<polygon points="164.9,87.3 169.0,88.5 174.3,83.6 170.2,84.0" fill="#ff7900"/>
<polygon points="131.3,92.8 135.4,96.5 140.7,92.4 136.6,89.7" fill="#ffa400"/>
<polygon points="97.7,104.1 101.8,107.2 107.1,99.4 103.1,97.3" fill="#fffc00"/>
<polygon points="64.2,132.6 68.2,135.6 73.6,126.6 69.5,123.6" fill="#21ffde"/>
<polygon points="174.3,83.6 178.4,85.3 183.7,81.9 179.6,79.9" fill="#ff5500"/>
<polygon points="140.7,92.4 144.8,93.9 150.1,90.5 146.0,88.6" fill="#ff9b00"/>
<polygon points="107.1,99.4 111.2,101.4 116.6,95.0 112.5,91.6" fill="#ffd100"/>
<polygon points="73.6,126.6 77.7,129.6 83.0,120.6 78.9,117.6" fill="#57ffa8"/>
<polygon points="183.7,81.9 187.8,87.4 193.1,110.0 189.0,107.0" fill="#ff4200"/>
<polygon points="150.1,90.5 154.2,93.2 159.5,90.4 155.4,88.0" fill="#ff8500"/>
<polygon points="116.6,95.0 120.6,99.4 126.0,95.9 121.9,90.3" fill="#ffa900"/>
<polygon points="83.0,120.6 87.1,123.5 92.4,110.0 88.3,105.3" fill="#8cff73"/>
<polygon points="49.4,195.3 53.5,198.3 58.8,138.0 54.7,135.0" fill="#000094"/>
<polygon points="193.1,110.0 197.2,112.9 202.5,84.7 198.4,81.1" fill="#fff500"/>
<polygon points="159.5,90.4 163.6,93.3 169.0,88.5 164.9,87.3" fill="#ff7f00"/>
<polygon points="126.0,95.9 130.1,100.4 135.4,96.5 131.3,92.8" fill="#ffaa00"/>
<polygon points="92.4,110.0 96.5,114.1 101.8,107.2 97.7,104.1" fill="#e5ff1a"/>
<polygon points="58.8,138.0 62.9,141.0 68.2,135.6 64.2,132.6" fill="#08fff7"/>
<polygon points="169.0,88.5 173.0,90.7 178.4,85.3 174.3,83.6" fill="#ff6a00"/>
<polygon points="135.4,96.5 139.5,98.4 144.8,93.9 140.7,92.4" fill="#ffa900"/>
<polygon points="101.8,107.2 105.9,108.8 111.2,101.4 107.1,99.4" fill="#fffd00"/>
<polygon points="68.2,135.6 72.3,138.6 77.7,129.6 73.6,126.6" fill="#21ffde"/>
<polygon points="178.4,85.3 182.5,90.0 187.8,87.4 183.7,81.9" fill="#ff4b00"/>
<polygon points="144.8,93.9 148.9,96.3 154.2,93.2 150.1,90.5" fill="#ff8f00"/>
<polygon points="111.2,101.4 115.3,103.9 120.6,99.4 116.6,95.0" fill="#ffca00"/>
<polygon points="77.7,129.6 81.8,132.6 87.1,123.5 83.0,120.6" fill="#57ffa8"/>
<polygon points="187.8,87.4 191.9,94.0 197.2,112.9 193.1,110.0" fill="#ff5600"/>
<polygon points="154.2,93.2 158.3,97.4 163.6,93.3 159.5,90.4" fill="#ff8300"/>
<polygon points="120.6,99.4 124.7,103.8 130.1,100.4 126.0,95.9" fill="#ffb400"/>
<polygon points="87.1,123.5 91.2,126.5 96.5,114.1 92.4,110.0" fill="#8cff73"/>
<polygon points="53.5,198.3 57.6,201.3 62.9,141.0 58.8,138.0" fill="#000094"/>
<polygon points="197.2,112.9 201.3,115.9 206.6,88.2 202.5,84.7" fill="#fff500"/>
<polygon points="163.6,93.3 167.7,96.9 173.0,90.7 169.0,88.5" fill="#ff7f00"/>
<polygon points="130.1,100.4 134.1,103.1 139.5,98.4 135.4,96.5" fill="#ffb600"/>
<polygon points="96.5,114.1 100.6,116.1 105.9,108.8 101.8,107.2" fill="#dcff23"/>
<polygon points="62.9,141.0 67.0,144.0 72.3,138.6 68.2,135.6" fill="#08fff7"/>
<polygon points="173.0,90.7 177.1,94.5 182.5,90.0 178.4,85.3" fill="#ff6400"/>
<polygon points="139.5,98.4 143.6,100.3 148.9,96.3 144.8,93.9" fill="#ffa000"/>
<polygon points="105.9,108.8 110.0,109.5 115.3,103.9 111.2,101.4" fill="#fff200"/>
<polygon points="72.3,138.6 76.4,141.6 81.8,132.6 77.7,129.6" fill="#21ffde"/>
<polygon points="182.5,90.0 186.6,96.2 191.9,94.0 187.8,87.4" fill="#ff5900"/>
<polygon points="148.9,96.3 153.0,100.7 158.3,97.4 154.2,93.2" fill="#ff8a00"/>
<polygon points="115.3,103.9 119.4,107.1 124.7,103.8 120.6,99.4" fill="#ffc500"/>
<polygon points="81.8,132.6 85.8,135.5 91.2,126.5 87.1,123.5" fill="#57ffa8"/>
<polygon points="191.9,94.0 196.0,99.0 201.3,115.9 197.2,112.9" fill="#ff7300"/>
<polygon points="158.3,97.4 162.4,102.3 167.7,96.9 163.6,93.3" fill="#ff8d00"/>
<polygon points="124.7,103.8 128.8,107.5 134.1,103.1 130.1,100.4" fill="#ffbf00"/>
<polygon points="91.2,126.5 95.3,129.5 100.6,116.1 96.5,114.1" fill="#8cff73"/>
<polygon points="57.6,201.3 61.7,204.2 67.0,144.0 62.9,141.0" fill="#000094"/>
<polygon points="201.3,115.9 205.4,118.9 210.7,91.7 206.6,88.2" fill="#fff500"/>
<polygon points="167.7,96.9 171.8,100.4 177.1,94.5 173.0,90.7" fill="#ff8300"/>
<polygon points="134.1,103.1 138.2,105.3 143.6,100.3 139.5,98.4" fill="#ffb400"/>
<polygon points="100.6,116.1 104.7,116.0 110.0,109.5 105.9,108.8" fill="#e5ff1a"/>
<polygon points="67.0,144.0 71.1,147.0 76.4,141.6 72.3,138.6" fill="#08fff7"/>
<polygon points="177.1,94.5 181.2,99.3 186.6,96.2 182.5,90.0" fill="#ff6a00"/>
<polygon points="143.6,100.3 147.7,104.0 153.0,100.7 148.9,96.3" fill="#ff9800"/>
<polygon points="110.0,109.5 114.1,111.0 119.4,107.1 115.3,103.9" fill="#ffe000"/>
<polygon points="76.4,141.6 80.5,144.6 85.8,135.5 81.8,132.6" fill="#21ffde"/>
<polygon points="186.6,96.2 190.6,101.6 196.0,99.0 191.9,94.0" fill="#ff7200"/>
<polygon points="153.0,100.7 157.1,106.4 162.4,102.3 158.3,97.4" fill="#ff9500"/>
<polygon points="119.4,107.1 123.5,111.1 128.8,107.5 124.7,103.8" fill="#ffc700"/>
<polygon points="85.8,135.5 89.9,138.5 95.3,129.5 91.2,126.5" fill="#57ffa8"/>
<polygon points="196.0,99.0 200.1,100.9 205.4,118.9 201.3,115.9" fill="#ff8200"/>
<polygon points="162.4,102.3 166.5,106.4 171.8,100.4 167.7,96.9" fill="#ff9c00"/>
<polygon points="128.8,107.5 132.9,110.6 138.2,105.3 134.1,103.1" fill="#ffc400"/>
<polygon points="95.3,129.5 99.3,122.8 104.7,116.0 100.6,116.1" fill="#8cff73"/>
<polygon points="61.7,204.2 65.8,207.2 71.1,147.0 67.0,144.0" fill="#000094"/>
<polygon points="205.4,118.9 209.5,121.9 214.8,95.3 210.7,91.7" fill="#fff500"/>
<polygon points="171.8,100.4 175.9,103.6 181.2,99.3 177.1,94.5" fill="#ff8700"/>
<polygon points="138.2,105.3 142.3,108.3 147.7,104.0 143.6,100.3" fill="#ffad00"/>
<polygon points="104.7,116.0 108.8,116.0 114.1,111.0 110.0,109.5" fill="#fdff02"/>
<polygon points="71.1,147.0 75.2,150.0 80.5,144.6 76.4,141.6" fill="#08fff7"/>
<polygon points="181.2,99.3 185.3,103.7 190.6,101.6 186.6,96.2" fill="#ff7800"/>
<polygon points="147.7,104.0 151.7,109.5 157.1,106.4 153.0,100.7" fill="#ff9e00"/>
<polygon points="114.1,111.0 118.2,114.3 123.5,111.1 119.4,107.1" fill="#ffd400"/>
<polygon points="80.5,144.6 84.6,147.5 89.9,138.5 85.8,135.5" fill="#21ffde"/>
<polygon points="190.6,101.6 194.7,104.4 200.1,100.9 196.0,99.0" fill="#ff8500"/>
<polygon points="157.1,106.4 161.2,111.4 166.5,106.4 162.4,102.3" fill="#ffab00"/>
<polygon points="123.5,111.1 127.6,115.3 132.9,110.6 128.8,107.5" fill="#ffcf00"/>
<polygon points="89.9,138.5 94.0,129.2 99.3,122.8 95.3,129.5" fill="#57ffa8"/>
<polygon points="200.1,100.9 204.1,100.6 209.5,121.9 205.4,118.9" fill="#ff7900"/>
<polygon points="166.5,106.4 170.6,108.7 175.9,103.6 171.8,100.4" fill="#ffa500"/>
<polygon points="132.9,110.6 137.0,113.5 142.3,108.3 138.2,105.3" fill="#ffc500"/>
<polygon points="99.3,122.8 103.4,122.2 108.8,116.0 104.7,116.0" fill="#d9ff26"/>
<polygon points="65.8,207.2 69.9,210.2 75.2,150.0 71.1,147.0" fill="#000094"/>
<polygon points="209.5,121.9 213.6,124.9 218.9,98.8 214.8,95.3" fill="#fff500"/>
<polygon points="175.9,103.6 180.0,106.2 185.3,103.7 181.2,99.3" fill="#ff8800"/>
<polygon points="142.3,108.3 146.4,112.6 151.7,109.5 147.7,104.0" fill="#ffad00"/>
<polygon points="108.8,116.0 112.8,118.0 118.2,114.3 114.1,111.0" fill="#ffea00"/>
<polygon points="75.2,150.0 79.3,139.5 84.6,147.5 80.5,144.6" fill="#08fff7"/>
<polygon points="185.3,103.7 189.4,106.8 194.7,104.4 190.6,101.6" fill="#ff8400"/>
<polygon points="151.7,109.5 155.8,114.8 161.2,111.4 157.1,106.4" fill="#ffb100"/>
<polygon points="118.2,114.3 122.3,119.2 127.6,115.3 123.5,111.1" fill="#ffd700"/>
<polygon points="84.6,147.5 88.7,134.9 94.0,129.2 89.9,138.5" fill="#21ffde"/>
<polygon points="194.7,104.4 198.8,104.9 204.1,100.6 200.1,100.9" fill="#ff8300"/>
<polygon points="161.2,111.4 165.2,113.8 170.6,108.7 166.5,106.4" fill="#ffba00"/>
<polygon points="127.6,115.3 131.7,118.9 137.0,113.5 132.9,110.6" fill="#ffd900"/>
<polygon points="94.0,129.2 98.1,129.0 103.4,122.2 99.3,122.8" fill="#b8ff47"/>
<polygon points="204.1,100.6 208.2,100.7 213.6,124.9 209.5,121.9" fill="#ff6000"/>
<polygon points="170.6,108.7 174.7,109.7 180.0,106.2 175.9,103.6" fill="#ff9f00"/>
<polygon points="137.0,113.5 141.1,116.6 146.4,112.6 142.3,108.3" fill="#ffc400"/>
<polygon points="103.4,122.2 107.5,123.0 112.8,118.0 108.8,116.0" fill="#f5ff0a"/>
<polygon points="69.9,210.2 74.0,171.1 79.3,139.5 75.2,150.0" fill="#000094"/>
<polygon points="180.0,106.2 184.1,108.7 189.4,106.8 185.3,103.7" fill="#ff8600"/>
<polygon points="146.4,112.6 150.5,117.3 155.8,114.8 151.7,109.5" fill="#ffb800"/>
<polygon points="112.8,118.0 116.9,122.5 122.3,119.2 118.2,114.3" fill="#ffe200"/>
<polygon points="79.3,139.5 83.4,139.9 88.7,134.9 84.6,147.5" fill="#73ff8c"/>
<polygon points="189.4,106.8 193.5,108.6 198.8,104.9 194.7,104.4" fill="#ff8500"/>
<polygon points="155.8,114.8 159.9,117.9 165.2,113.8 161.2,111.4" fill="#ffc400"/>
<polygon points="122.3,119.2 126.4,123.8 131.7,118.9 127.6,115.3" fill="#ffe500"/>
<polygon points="88.7,134.9 92.8,135.7 98.1,129.0 94.0,129.2" fill="#9dff62"/>
<polygon points="198.8,104.9 202.9,105.1 208.2,100.7 204.1,100.6" fill="#ff7000"/>
<polygon points="165.2,113.8 169.3,114.0 174.7,109.7 170.6,108.7" fill="#ffb600"/>
<polygon points="131.7,118.9 135.8,121.5 141.1,116.6 137.0,113.5" fill="#ffde00"/>
<polygon points="98.1,129.0 102.2,129.4 107.5,123.0 103.4,122.2" fill="#d1ff2e"/>
<polygon points="174.7,109.7 178.8,110.8 184.1,108.7 180.0,106.2" fill="#ff8f00"/>
<polygon points="141.1,116.6 145.2,119.8 150.5,117.3 146.4,112.6" fill="#ffc500"/>
<polygon points="107.5,123.0 111.6,126.3 116.9,122.5 112.8,118.0" fill="#fff800"/>
<polygon points="74.0,171.1 78.0,144.3 83.4,139.9 79.3,139.5" fill="#0089ff"/>
<polygon points="184.1,108.7 188.2,111.3 193.5,108.6 189.4,106.8" fill="#ff8200"/>
<polygon points="150.5,117.3 154.6,120.8 159.9,117.9 155.8,114.8" fill="#ffc500"/>
<polygon points="116.9,122.5 121.0,127.7 126.4,123.8 122.3,119.2" fill="#ffee00"/>
<polygon points="83.4,139.9 87.5,141.3 92.8,135.7 88.7,134.9" fill="#87ff78"/>
<polygon points="193.5,108.6 197.6,109.9 202.9,105.1 198.8,104.9" fill="#ff7b00"/>
<polygon points="159.9,117.9 164.0,118.4 169.3,114.0 165.2,113.8" fill="#ffc500"/>
<polygon points="126.4,123.8 130.4,126.7 135.8,121.5 131.7,118.9" fill="#fff200"/>
<polygon points="92.8,135.7 96.9,136.4 102.2,129.4 98.1,129.0" fill="#aeff51"/>
<polygon points="169.3,114.0 173.4,113.9 178.8,110.8 174.7,109.7" fill="#ff9f00"/>
<polygon points="135.8,121.5 139.9,123.2 145.2,119.8 141.1,116.6" fill="#ffda00"/>
<polygon points="102.2,129.4 106.3,131.2 111.6,126.3 107.5,123.0" fill="#e6ff19"/>
<polygon points="178.8,110.8 182.8,113.4 188.2,111.3 184.1,108.7" fill="#ff8100"/>
<polygon points="145.2,119.8 149.3,122.7 154.6,120.8 150.5,117.3" fill="#ffc700"/>
<polygon points="111.6,126.3 115.7,130.9 121.0,127.7 116.9,122.5" fill="#fffa00"/>
<polygon points="78.0,144.3 82.1,145.6 87.5,141.3 83.4,139.9" fill="#76ff89"/>
<polygon points="188.2,111.3 192.3,114.1 197.6,109.9 193.5,108.6" fill="#ff7f00"/>
<polygon points="154.6,120.8 158.7,122.2 164.0,118.4 159.9,117.9" fill="#ffc900"/>
<polygon points="121.0,127.7 125.1,131.3 130.4,126.7 126.4,123.8" fill="#ffff00"/>
<polygon points="87.5,141.3 91.5,143.0 96.9,136.4 92.8,135.7" fill="#94ff6b"/>
<polygon points="164.0,118.4 168.1,118.0 173.4,113.9 169.3,114.0" fill="#ffb100"/>
<polygon points="130.4,126.7 134.5,127.5 139.9,123.2 135.8,121.5" fill="#fff100"/>
<polygon points="96.9,136.4 101.0,137.5 106.3,131.2 102.2,129.4" fill="#c0ff3f"/>
<polygon points="173.4,113.9 177.5,115.7 182.8,113.4 178.8,110.8" fill="#ff8700"/>
<polygon points="139.9,123.2 143.9,124.7 149.3,122.7 145.2,119.8" fill="#ffd000"/>
<polygon points="106.3,131.2 110.4,134.4 115.7,130.9 111.6,126.3" fill="#efff10"/>
<polygon points="182.8,113.4 186.9,117.4 192.3,114.1 188.2,111.3" fill="#ff7d00"/>
<polygon points="149.3,122.7 153.4,125.0 158.7,122.2 154.6,120.8" fill="#ffc700"/>
<polygon points="115.7,130.9 119.8,134.8 125.1,131.3 121.0,127.7" fill="#f7ff08"/>
<polygon points="82.1,145.6 86.2,148.1 91.5,143.0 87.5,141.3" fill="#83ff7c"/>
<polygon points="158.7,122.2 162.8,122.5 168.1,118.0 164.0,118.4" fill="#ffbd00"/>
<polygon points="125.1,131.3 129.2,132.1 134.5,127.5 130.4,126.7" fill="#faff05"/>
<polygon points="91.5,143.0 95.6,144.2 101.0,137.5 96.9,136.4" fill="#9eff61"/>
<polygon points="168.1,118.0 172.2,119.0 177.5,115.7 173.4,113.9" fill="#ff9600"/>
<polygon points="134.5,127.5 138.6,127.6 143.9,124.7 139.9,123.2" fill="#ffe000"/>
<polygon points="101.0,137.5 105.1,138.9 110.4,134.4 106.3,131.2" fill="#cfff30"/>
<polygon points="177.5,115.7 181.6,119.9 186.9,117.4 182.8,113.4" fill="#ff7e00"/>
<polygon points="143.9,124.7 148.0,126.9 153.4,125.0 149.3,122.7" fill="#ffc500"/>
<polygon points="110.4,134.4 114.5,137.7 119.8,134.8 115.7,130.9" fill="#edff12"/>
<polygon points="153.4,125.0 157.5,126.7 162.8,122.5 158.7,122.2" fill="#ffc100"/>
<polygon points="119.8,134.8 123.9,136.4 129.2,132.1 125.1,131.3" fill="#f0ff0f"/>
<polygon points="86.2,148.1 90.3,150.0 95.6,144.2 91.5,143.0" fill="#87ff78"/>
<polygon points="162.8,122.5 166.9,123.4 172.2,119.0 168.1,118.0" fill="#ffa800"/>
<polygon points="129.2,132.1 133.3,131.5 138.6,127.6 134.5,127.5" fill="#fff300"/>
<polygon points="95.6,144.2 99.7,144.3 105.1,138.9 101.0,137.5" fill="#acff53"/>
<polygon points="172.2,119.0 176.3,122.5 181.6,119.9 177.5,115.7" fill="#ff8600"/>
<polygon points="138.6,127.6 142.7,128.9 148.0,126.9 143.9,124.7" fill="#ffc900"/>
<polygon points="105.1,138.9 109.1,140.5 114.5,137.7 110.4,134.4" fill="#dcff23"/>
<polygon points="148.0,126.9 152.1,129.8 157.5,126.7 153.4,125.0" fill="#ffbe00"/>
<polygon points="114.5,137.7 118.6,139.7 123.9,136.4 119.8,134.8" fill="#ebff14"/>
<polygon points="157.5,126.7 161.5,128.4 166.9,123.4 162.8,122.5" fill="#ffb600"/>
<polygon points="123.9,136.4 128.0,136.1 133.3,131.5 129.2,132.1" fill="#fbff04"/>
<polygon points="90.3,150.0 94.4,149.9 99.7,144.3 95.6,144.2" fill="#90ff6f"/>
<polygon points="166.9,123.4 171.0,126.0 176.3,122.5 172.2,119.0" fill="#ff9700"/>
<polygon points="133.3,131.5 137.4,131.8 142.7,128.9 138.6,127.6" fill="#ffd700"/>
<polygon points="99.7,144.3 103.8,144.1 109.1,140.5 105.1,138.9" fill="#c3ff3c"/>
<polygon points="142.7,128.9 146.8,132.2 152.1,129.8 148.0,126.9" fill="#ffbc00"/>
<polygon points="109.1,140.5 113.2,142.2 118.6,139.7 114.5,137.7" fill="#e7ff18"/>
<polygon points="152.1,129.8 156.2,133.0 161.5,128.4 157.5,126.7" fill="#ffbe00"/>
<polygon points="118.6,139.7 122.7,140.4 128.0,136.1 123.9,136.4" fill="#f3ff0c"/>
<polygon points="161.5,128.4 165.6,130.5 171.0,126.0 166.9,123.4" fill="#ffac00"/>
<polygon points="128.0,136.1 132.1,135.9 137.4,131.8 133.3,131.5" fill="#ffe900"/>
<polygon points="94.4,149.9 98.5,148.4 103.8,144.1 99.7,144.3" fill="#a8ff57"/>
<polygon points="137.4,131.8 141.5,134.6 146.8,132.2 142.7,128.9" fill="#ffc100"/>
<polygon points="103.8,144.1 107.9,144.5 113.2,142.2 109.1,140.5" fill="#dcff23"/>
<polygon points="146.8,132.2 150.9,136.7 156.2,133.0 152.1,129.8" fill="#ffbf00"/>
<polygon points="113.2,142.2 117.3,143.9 122.7,140.4 118.6,139.7" fill="#f1ff0e"/>
<polygon points="156.2,133.0 160.3,135.7 165.6,130.5 161.5,128.4" fill="#ffbf00"/>
<polygon points="122.7,140.4 126.7,140.8 132.1,135.9 128.0,136.1" fill="#fff900"/>
<polygon points="132.1,135.9 136.2,137.9 141.5,134.6 137.4,131.8" fill="#ffd000"/>
<polygon points="98.5,148.4 102.6,147.5 107.9,144.5 103.8,144.1" fill="#ccff33"/>
<polygon points="141.5,134.6 145.6,139.5 150.9,136.7 146.8,132.2" fill="#ffc000"/>
<polygon points="107.9,144.5 112.0,146.4 117.3,143.9 113.2,142.2" fill="#f0ff0f"/>
<polygon points="150.9,136.7 155.0,140.5 160.3,135.7 156.2,133.0" fill="#ffcb00"/>
<polygon points="117.3,143.9 121.4,145.6 126.7,140.8 122.7,140.4" fill="#fbff04"/>
<polygon points="126.7,140.8 130.8,140.6 136.2,137.9 132.1,135.9" fill="#ffe500"/>
<polygon points="136.2,137.9 140.2,142.1 145.6,139.5 141.5,134.6" fill="#ffc800"/>
<polygon points="102.6,147.5 106.7,148.8 112.0,146.4 107.9,144.5" fill="#ebff14"/>
<polygon points="145.6,139.5 149.7,144.3 155.0,140.5 150.9,136.7" fill="#ffcf00"/>
<polygon points="112.0,146.4 116.1,149.5 121.4,145.6 117.3,143.9" fill="#f9ff06"/>
<polygon points="121.4,145.6 125.5,140.9 130.8,140.6 126.7,140.8" fill="#fff800"/>
<polygon points="130.8,140.6 134.9,137.7 140.2,142.1 136.2,137.9" fill="#ffcc00"/>
<polygon points="140.2,142.1 144.3,147.0 149.7,144.3 145.6,139.5" fill="#ffd200"/>
<polygon points="106.7,148.8 110.8,152.4 116.1,149.5 112.0,146.4" fill="#f8ff07"/>
<polygon points="116.1,149.5 120.2,152.6 125.5,140.9 121.4,145.6" fill="#f9ff06"/>
<polygon points="125.5,140.9 129.6,138.0 134.9,137.7 130.8,140.6" fill="#ff4800"/>
<polygon points="134.9,137.7 139.0,149.3 144.3,147.0 140.2,142.1" fill="#ff9d00"/>
<polygon points="110.8,152.4 114.9,156.7 120.2,152.6 116.1,149.5" fill="#f3ff0c"/>
<polygon points="120.2,152.6 124.3,154.7 129.6,138.0 125.5,140.9" fill="#ff7700"/>
<polygon points="129.6,138.0 133.7,152.1 139.0,149.3 134.9,137.7" fill="#ff8d00"/>
<polygon points="114.9,156.7 118.9,159.6 124.3,154.7 120.2,152.6" fill="#e9ff16"/>
<polygon points="124.3,154.7 128.4,155.9 133.7,152.1 129.6,138.0" fill="#ff5800"/>
<polygon points="118.9,159.6 123.0,160.3 128.4,155.9 124.3,154.7" fill="#eaff15"/>
</g>
<defs><linearGradient id="jg7" x1="0" y1="1" x2="0" y2="0">
<stop offset="0.000" stop-color="#000080"/>
<stop offset="0.125" stop-color="#0000ff"/>
<stop offset="0.250" stop-color="#0080ff"/>
<stop offset="0.375" stop-color="#00ffff"/>
<stop offset="0.500" stop-color="#80ff80"/>
<stop offset="0.625" stop-color="#ffff00"/>
<stop offset="0.750" stop-color="#ff8000"/>
<stop offset="0.875" stop-color="#ff0000"/>
<stop offset="1.000" stop-color="#800000"/>
</linearGradient></defs>
<rect x="249.6" y="21.5" width="9.5" height="233.8" fill="url(#jg7)" stroke="#333" stroke-width="0.6"/>
<g font-family="Liberation Sans" font-size="8.5" fill="#333">
<line x1="257.6" y1="250.7" x2="259.1" y2="250.7" stroke="#333" stroke-width="0.6"/>
<text transform="translate(261.60 253.69) scale(0.82 1)">-0.3</text>
<line x1="257.6" y1="214.7" x2="259.1" y2="214.7" stroke="#333" stroke-width="0.6"/>
<text transform="translate(261.60 217.71) scale(0.82 1)">-0.25</text>
<line x1="257.6" y1="178.7" x2="259.1" y2="178.7" stroke="#333" stroke-width="0.6"/>
<text transform="translate(261.60 181.73) scale(0.82 1)">-0.2</text>
<line x1="257.6" y1="142.8" x2="259.1" y2="142.8" stroke="#333" stroke-width="0.6"/>
<text transform="translate(261.60 145.75) scale(0.82 1)">-0.15</text>
<line x1="257.6" y1="106.8" x2="259.1" y2="106.8" stroke="#333" stroke-width="0.6"/>
<text transform="translate(261.60 109.77) scale(0.82 1)">-0.1</text>
<line x1="257.6" y1="70.8" x2="259.1" y2="70.8" stroke="#333" stroke-width="0.6"/>
<text transform="translate(261.60 73.79) scale(0.82 1)">-0.05</text>
<line x1="257.6" y1="34.8" x2="259.1" y2="34.8" stroke="#333" stroke-width="0.6"/>
<text transform="translate(261.60 37.81) scale(0.82 1)">0</text>
</g>
<g font-family="Liberation Sans" font-size="10.0" fill="#3a3a3a">
<text transform="translate(61.70 276.30) scale(0.75 1)">BTC</text>
<text transform="translate(172.50 279.20) scale(0.75 1)">VIX</text>
</g>
<g font-family="Liberation Sans" font-size="8.5" fill="#444">
<text transform="translate(39.59 202.69) rotate(-63.0) scale(0.90 1)" font-size="9.0" text-anchor="end">0.05</text>
<text transform="translate(128.82 257.64) rotate(75.0) scale(0.90 1)">0.05</text>
<text transform="translate(43.68 205.68) rotate(-63.0) scale(0.90 1)" font-size="9.0" text-anchor="end">0.1</text>
<text transform="translate(134.15 255.38) rotate(75.0) scale(0.90 1)">0.1</text>
<text transform="translate(47.77 208.67) rotate(-63.0) scale(0.90 1)" font-size="9.0" text-anchor="end">0.15</text>
<text transform="translate(139.47 253.12) rotate(75.0) scale(0.90 1)">0.15</text>
<text transform="translate(51.86 211.66) rotate(-63.0) scale(0.90 1)" font-size="9.0" text-anchor="end">0.2</text>
<text transform="translate(144.80 250.86) rotate(75.0) scale(0.90 1)">0.2</text>
<text transform="translate(55.95 214.65) rotate(-63.0) scale(0.90 1)" font-size="9.0" text-anchor="end">0.25</text>
<text transform="translate(150.12 248.60) rotate(75.0) scale(0.90 1)">0.25</text>
<text transform="translate(60.04 217.64) rotate(-63.0) scale(0.90 1)" font-size="9.0" text-anchor="end">0.3</text>
<text transform="translate(155.45 246.34) rotate(75.0) scale(0.90 1)">0.3</text>
<text transform="translate(64.13 220.63) rotate(-63.0) scale(0.90 1)" font-size="9.0" text-anchor="end">0.35</text>
<text transform="translate(160.77 244.08) rotate(75.0) scale(0.90 1)">0.35</text>
<text transform="translate(68.22 223.62) rotate(-63.0) scale(0.90 1)" font-size="9.0" text-anchor="end">0.4</text>
<text transform="translate(166.10 241.82) rotate(75.0) scale(0.90 1)">0.4</text>
<text transform="translate(72.31 226.61) rotate(-63.0) scale(0.90 1)" font-size="9.0" text-anchor="end">0.45</text>
<text transform="translate(171.42 239.56) rotate(75.0) scale(0.90 1)">0.45</text>
<text transform="translate(76.40 229.60) rotate(-63.0) scale(0.90 1)" font-size="9.0" text-anchor="end">0.5</text>
<text transform="translate(176.75 237.30) rotate(75.0) scale(0.90 1)">0.5</text>
<text transform="translate(80.49 232.59) rotate(-63.0) scale(0.90 1)" font-size="9.0" text-anchor="end">0.55</text>
<text transform="translate(182.07 235.04) rotate(75.0) scale(0.90 1)">0.55</text>
<text transform="translate(84.58 235.58) rotate(-63.0) scale(0.90 1)" font-size="9.0" text-anchor="end">0.6</text>
<text transform="translate(187.40 232.78) rotate(75.0) scale(0.90 1)">0.6</text>
<text transform="translate(88.67 238.57) rotate(-63.0) scale(0.90 1)" font-size="9.0" text-anchor="end">0.65</text>
<text transform="translate(192.72 230.52) rotate(75.0) scale(0.90 1)">0.65</text>
<text transform="translate(92.76 241.56) rotate(-63.0) scale(0.90 1)" font-size="9.0" text-anchor="end">0.7</text>
<text transform="translate(198.05 228.26) rotate(75.0) scale(0.90 1)">0.7</text>
<text transform="translate(96.85 244.55) rotate(-63.0) scale(0.90 1)" font-size="9.0" text-anchor="end">0.75</text>
<text transform="translate(203.38 226.00) rotate(75.0) scale(0.90 1)">0.75</text>
<text transform="translate(100.94 247.54) rotate(-63.0) scale(0.90 1)" font-size="9.0" text-anchor="end">0.8</text>
<text transform="translate(208.70 223.74) rotate(75.0) scale(0.90 1)">0.8</text>
<text transform="translate(105.03 250.53) rotate(-63.0) scale(0.90 1)" font-size="9.0" text-anchor="end">0.85</text>
<text transform="translate(214.02 221.48) rotate(75.0) scale(0.90 1)">0.85</text>
<text transform="translate(109.12 253.52) rotate(-63.0) scale(0.90 1)" font-size="9.0" text-anchor="end">0.9</text>
<text transform="translate(219.35 219.22) rotate(75.0) scale(0.90 1)">0.9</text>
<text transform="translate(113.21 256.51) rotate(-63.0) scale(0.90 1)" font-size="9.0" text-anchor="end">0.95</text>
<text transform="translate(224.68 216.96) rotate(75.0) scale(0.90 1)">0.95</text>
</g>
<text x="153.1" y="305.0" font-family="Liberation Serif" font-weight="bold" font-size="20.1" fill="#000" text-anchor="middle">VIX on BTC</text></g>
<g transform="translate(900,335)"><g stroke="#dcdcdc" stroke-width="0.6" fill="none">
<line x1="40.0" y1="194.7" x2="146.5" y2="149.5"/>
<line x1="40.0" y1="194.7" x2="121.8" y2="254.5"/>
<line x1="40.0" y1="194.7" x2="40.0" y2="65.7"/>
<line x1="146.5" y1="149.5" x2="146.5" y2="20.5"/>
<line x1="44.1" y1="197.7" x2="150.6" y2="152.5"/>
<line x1="45.3" y1="192.4" x2="127.1" y2="252.2"/>
<line x1="45.3" y1="192.4" x2="45.3" y2="63.4"/>
<line x1="150.6" y1="152.5" x2="150.6" y2="23.5"/>
<line x1="48.2" y1="200.7" x2="154.7" y2="155.5"/>
<line x1="50.7" y1="190.2" x2="132.4" y2="250.0"/>
<line x1="50.7" y1="190.2" x2="50.7" y2="61.2"/>
<line x1="154.7" y1="155.5" x2="154.7" y2="26.5"/>
<line x1="52.3" y1="203.7" x2="158.8" y2="158.5"/>
<line x1="56.0" y1="187.9" x2="137.8" y2="247.7"/>
<line x1="56.0" y1="187.9" x2="56.0" y2="58.9"/>
<line x1="158.8" y1="158.5" x2="158.8" y2="29.5"/>
<line x1="56.4" y1="206.7" x2="162.9" y2="161.5"/>
<line x1="61.3" y1="185.7" x2="143.1" y2="245.5"/>
<line x1="61.3" y1="185.7" x2="61.3" y2="56.7"/>
<line x1="162.9" y1="161.5" x2="162.9" y2="32.5"/>
<line x1="60.5" y1="209.6" x2="167.0" y2="164.4"/>
<line x1="66.6" y1="183.4" x2="148.4" y2="243.2"/>
<line x1="66.6" y1="183.4" x2="66.6" y2="54.4"/>
<line x1="167.0" y1="164.4" x2="167.0" y2="35.4"/>
<line x1="64.5" y1="212.6" x2="171.0" y2="167.4"/>
<line x1="72.0" y1="181.1" x2="153.8" y2="240.9"/>
<line x1="72.0" y1="181.1" x2="72.0" y2="52.1"/>
<line x1="171.0" y1="167.4" x2="171.0" y2="38.4"/>
<line x1="68.6" y1="215.6" x2="175.1" y2="170.4"/>
<line x1="77.3" y1="178.9" x2="159.1" y2="238.7"/>
<line x1="77.3" y1="178.9" x2="77.3" y2="49.9"/>
<line x1="175.1" y1="170.4" x2="175.1" y2="41.4"/>
<line x1="72.7" y1="218.6" x2="179.2" y2="173.4"/>
<line x1="82.6" y1="176.6" x2="164.4" y2="236.4"/>
<line x1="82.6" y1="176.6" x2="82.6" y2="47.6"/>
<line x1="179.2" y1="173.4" x2="179.2" y2="44.4"/>
<line x1="76.8" y1="221.6" x2="183.3" y2="176.4"/>
<line x1="87.9" y1="174.4" x2="169.7" y2="234.2"/>
<line x1="87.9" y1="174.4" x2="87.9" y2="45.4"/>
<line x1="183.3" y1="176.4" x2="183.3" y2="47.4"/>
<line x1="80.9" y1="224.6" x2="187.4" y2="179.4"/>
<line x1="93.2" y1="172.1" x2="175.1" y2="231.9"/>
<line x1="93.2" y1="172.1" x2="93.2" y2="43.1"/>
<line x1="187.4" y1="179.4" x2="187.4" y2="50.4"/>
<line x1="85.0" y1="227.6" x2="191.5" y2="182.4"/>
<line x1="98.6" y1="169.8" x2="180.4" y2="229.6"/>
<line x1="98.6" y1="169.8" x2="98.6" y2="40.8"/>
<line x1="191.5" y1="182.4" x2="191.5" y2="53.4"/>
<line x1="89.1" y1="230.6" x2="195.6" y2="185.4"/>
<line x1="103.9" y1="167.6" x2="185.7" y2="227.4"/>
<line x1="103.9" y1="167.6" x2="103.9" y2="38.6"/>
<line x1="195.6" y1="185.4" x2="195.6" y2="56.4"/>
<line x1="93.2" y1="233.6" x2="199.7" y2="188.4"/>
<line x1="109.2" y1="165.3" x2="191.0" y2="225.1"/>
<line x1="109.2" y1="165.3" x2="109.2" y2="36.3"/>
<line x1="199.7" y1="188.4" x2="199.7" y2="59.4"/>
<line x1="97.3" y1="236.6" x2="203.8" y2="191.4"/>
<line x1="114.6" y1="163.1" x2="196.4" y2="222.9"/>
<line x1="114.6" y1="163.1" x2="114.6" y2="34.1"/>
<line x1="203.8" y1="191.4" x2="203.8" y2="62.4"/>
<line x1="101.3" y1="239.6" x2="207.9" y2="194.4"/>
<line x1="119.9" y1="160.8" x2="201.7" y2="220.6"/>
<line x1="119.9" y1="160.8" x2="119.9" y2="31.8"/>
<line x1="207.9" y1="194.4" x2="207.9" y2="65.4"/>
<line x1="105.4" y1="242.5" x2="211.9" y2="197.3"/>
<line x1="125.2" y1="158.5" x2="207.0" y2="218.3"/>
<line x1="125.2" y1="158.5" x2="125.2" y2="29.5"/>
<line x1="211.9" y1="197.3" x2="211.9" y2="68.3"/>
<line x1="109.5" y1="245.5" x2="216.0" y2="200.3"/>
<line x1="130.5" y1="156.3" x2="212.3" y2="216.1"/>
<line x1="130.5" y1="156.3" x2="130.5" y2="27.3"/>
<line x1="216.0" y1="200.3" x2="216.0" y2="71.3"/>
<line x1="113.6" y1="248.5" x2="220.1" y2="203.3"/>
<line x1="135.9" y1="154.0" x2="217.7" y2="213.8"/>
<line x1="135.9" y1="154.0" x2="135.9" y2="25.0"/>
<line x1="220.1" y1="203.3" x2="220.1" y2="74.3"/>
<line x1="117.7" y1="251.5" x2="224.2" y2="206.3"/>
<line x1="141.2" y1="151.8" x2="223.0" y2="211.6"/>
<line x1="141.2" y1="151.8" x2="141.2" y2="22.8"/>
<line x1="224.2" y1="206.3" x2="224.2" y2="77.3"/>
<line x1="121.8" y1="254.5" x2="228.3" y2="209.3"/>
<line x1="146.5" y1="149.5" x2="228.3" y2="209.3"/>
<line x1="146.5" y1="149.5" x2="146.5" y2="20.5"/>
<line x1="228.3" y1="209.3" x2="228.3" y2="80.3"/>
<polyline points="40.0,194.7 146.5,149.5 228.3,209.3" stroke="#d2d2d2"/>
<polyline points="40.0,173.2 146.5,128.0 228.3,187.8" stroke="#d2d2d2"/>
<polyline points="40.0,151.7 146.5,106.5 228.3,166.3" stroke="#d2d2d2"/>
<polyline points="40.0,130.2 146.5,85.0 228.3,144.8" stroke="#d2d2d2"/>
<polyline points="40.0,108.7 146.5,63.5 228.3,123.3" stroke="#d2d2d2"/>
<polyline points="40.0,87.2 146.5,42.0 228.3,101.8" stroke="#d2d2d2"/>
<polyline points="40.0,65.7 146.5,20.5 228.3,80.3" stroke="#d2d2d2"/>
<polyline points="40.0,65.7 146.5,20.5 228.3,80.3" stroke="#d2d2d2"/>
</g>
<g stroke="#5a5a5a" stroke-width="0.7" fill="none">
<polyline points="40.0,194.7 121.8,254.5 228.3,209.3"/>
<polyline points="40.0,194.7 40.0,65.7"/>
<line x1="44.1" y1="197.7" x2="41.9" y2="198.9"/>
<line x1="127.1" y1="252.2" x2="127.1" y2="254.4"/>
<line x1="48.2" y1="200.7" x2="46.0" y2="201.9"/>
<line x1="132.4" y1="250.0" x2="132.4" y2="252.2"/>
<line x1="52.3" y1="203.7" x2="50.1" y2="204.9"/>
<line x1="137.8" y1="247.7" x2="137.8" y2="249.9"/>
<line x1="56.4" y1="206.7" x2="54.2" y2="207.9"/>
<line x1="143.1" y1="245.5" x2="143.1" y2="247.7"/>
<line x1="60.5" y1="209.6" x2="58.2" y2="210.8"/>
<line x1="148.4" y1="243.2" x2="148.4" y2="245.4"/>
<line x1="64.5" y1="212.6" x2="62.3" y2="213.8"/>
<line x1="153.8" y1="240.9" x2="153.8" y2="243.1"/>
<line x1="68.6" y1="215.6" x2="66.4" y2="216.8"/>
<line x1="159.1" y1="238.7" x2="159.1" y2="240.9"/>
<line x1="72.7" y1="218.6" x2="70.5" y2="219.8"/>
<line x1="164.4" y1="236.4" x2="164.4" y2="238.6"/>
<line x1="76.8" y1="221.6" x2="74.6" y2="222.8"/>
<line x1="169.7" y1="234.2" x2="169.7" y2="236.4"/>
<line x1="80.9" y1="224.6" x2="78.7" y2="225.8"/>
<line x1="175.1" y1="231.9" x2="175.1" y2="234.1"/>
<line x1="85.0" y1="227.6" x2="82.8" y2="228.8"/>
<line x1="180.4" y1="229.6" x2="180.4" y2="231.8"/>
<line x1="89.1" y1="230.6" x2="86.9" y2="231.8"/>
<line x1="185.7" y1="227.4" x2="185.7" y2="229.6"/>
<line x1="93.2" y1="233.6" x2="91.0" y2="234.8"/>
<line x1="191.0" y1="225.1" x2="191.0" y2="227.3"/>
<line x1="97.3" y1="236.6" x2="95.1" y2="237.8"/>
<line x1="196.4" y1="222.9" x2="196.4" y2="225.1"/>
<line x1="101.3" y1="239.6" x2="99.1" y2="240.8"/>
<line x1="201.7" y1="220.6" x2="201.7" y2="222.8"/>
<line x1="105.4" y1="242.5" x2="103.2" y2="243.7"/>
<line x1="207.0" y1="218.3" x2="207.0" y2="220.5"/>
<line x1="109.5" y1="245.5" x2="107.3" y2="246.7"/>
<line x1="212.3" y1="216.1" x2="212.3" y2="218.3"/>
<line x1="113.6" y1="248.5" x2="111.4" y2="249.7"/>
<line x1="217.7" y1="213.8" x2="217.7" y2="216.0"/>
<line x1="117.7" y1="251.5" x2="115.5" y2="252.7"/>
<line x1="223.0" y1="211.6" x2="223.0" y2="213.8"/>
<line x1="40.0" y1="194.7" x2="37.5" y2="194.7"/>
<line x1="40.0" y1="173.2" x2="37.5" y2="173.2"/>
<line x1="40.0" y1="151.7" x2="37.5" y2="151.7"/>
<line x1="40.0" y1="130.2" x2="37.5" y2="130.2"/>
<line x1="40.0" y1="108.7" x2="37.5" y2="108.7"/>
<line x1="40.0" y1="87.2" x2="37.5" y2="87.2"/>
<line x1="40.0" y1="65.7" x2="37.5" y2="65.7"/>
</g>
<g font-family="Liberation Sans" font-size="8.5" fill="#333" text-anchor="end">
<text transform="translate(36.00 197.90) scale(0.82 1)" text-anchor="end">0.1</text>
<text transform="translate(36.00 176.40) scale(0.82 1)" text-anchor="end">0.2</text>
<text transform="translate(36.00 154.90) scale(0.82 1)" text-anchor="end">0.3</text>
<text transform="translate(36.00 133.40) scale(0.82 1)" text-anchor="end">0.4</text>
<text transform="translate(36.00 111.90) scale(0.82 1)" text-anchor="end">0.5</text>
<text transform="translate(36.00 90.40) scale(0.82 1)" text-anchor="end">0.6</text>
<text transform="translate(36.00 68.90) scale(0.82 1)" text-anchor="end">0.7</text>
</g>
<g stroke="#000" stroke-width="0.45" stroke-linejoin="round">
<polygon points="139.9,81.1 144.0,84.1 149.4,90.1 145.3,87.3" fill="#6cff93"/>
<polygon points="134.6,79.2 138.7,82.2 144.0,84.1 139.9,81.1" fill="#94ff6b"/>
<polygon points="144.0,84.1 148.1,86.7 153.4,92.7 149.4,90.1" fill="#6dff92"/>
<polygon points="129.3,87.9 133.4,91.1 138.7,82.2 134.6,79.2" fill="#ffe200"/>
<polygon points="138.7,82.2 142.8,85.0 148.1,86.7 144.0,84.1" fill="#93ff6c"/>
<polygon points="148.1,86.7 152.2,89.3 157.5,95.4 153.4,92.7" fill="#70ff8f"/>
<polygon points="124.0,98.6 128.1,102.1 133.4,91.1 129.3,87.9" fill="#66ff99"/>
<polygon points="133.4,91.1 137.5,94.0 142.8,85.0 138.7,82.2" fill="#ffe200"/>
<polygon points="142.8,85.0 146.9,87.6 152.2,89.3 148.1,86.7" fill="#95ff6a"/>
<polygon points="152.2,89.3 156.3,92.1 161.6,98.3 157.5,95.4" fill="#73ff8c"/>
<polygon points="118.6,94.3 122.7,97.9 128.1,102.1 124.0,98.6" fill="#a3ff5c"/>
<polygon points="128.1,102.1 132.1,105.1 137.5,94.0 133.4,91.1" fill="#66ff99"/>
<polygon points="137.5,94.0 141.6,96.6 146.9,87.6 142.8,85.0" fill="#ffe200"/>
<polygon points="146.9,87.6 151.0,90.3 156.3,92.1 152.2,89.3" fill="#99ff66"/>
<polygon points="113.3,109.2 117.4,113.0 122.7,97.9 118.6,94.3" fill="#01fffe"/>
<polygon points="156.3,92.1 160.4,95.2 165.7,101.6 161.6,98.3" fill="#75ff8a"/>
<polygon points="122.7,97.9 126.8,101.1 132.1,105.1 128.1,102.1" fill="#a3ff5c"/>
<polygon points="132.1,105.1 136.2,107.8 141.6,96.6 137.5,94.0" fill="#66ff99"/>
<polygon points="141.6,96.6 145.7,99.3 151.0,90.3 146.9,87.6" fill="#ffe200"/>
<polygon points="108.0,113.4 112.1,117.2 117.4,113.0 113.3,109.2" fill="#01fffe"/>
<polygon points="151.0,90.3 155.1,93.2 160.4,95.2 156.3,92.1" fill="#9cff63"/>
<polygon points="117.4,113.0 121.5,116.3 126.8,101.1 122.7,97.9" fill="#01fffe"/>
<polygon points="160.4,95.2 164.5,98.7 169.8,105.2 165.7,101.6" fill="#74ff8b"/>
<polygon points="126.8,101.1 130.9,103.9 136.2,107.8 132.1,105.1" fill="#a3ff5c"/>
<polygon points="136.2,107.8 140.3,110.4 145.7,99.3 141.6,96.6" fill="#66ff99"/>
<polygon points="102.7,106.7 106.8,110.7 112.1,117.2 108.0,113.4" fill="#2affd5"/>
<polygon points="145.7,99.3 149.7,102.1 155.1,93.2 151.0,90.3" fill="#ffe200"/>
<polygon points="112.1,117.2 116.2,120.8 121.5,116.3 117.4,113.0" fill="#01fffe"/>
<polygon points="155.1,93.2 159.2,96.5 164.5,98.7 160.4,95.2" fill="#9cff63"/>
<polygon points="121.5,116.3 125.6,119.3 130.9,103.9 126.8,101.1" fill="#01fffe"/>
<polygon points="164.5,98.7 168.6,102.5 173.9,109.1 169.8,105.2" fill="#70ff8f"/>
<polygon points="130.9,103.9 135.0,106.6 140.3,110.4 136.2,107.8" fill="#a3ff5c"/>
<polygon points="97.3,119.4 101.4,123.4 106.8,110.7 102.7,106.7" fill="#01fffe"/>
<polygon points="140.3,110.4 144.4,113.1 149.7,102.1 145.7,99.3" fill="#66ff99"/>
<polygon points="106.8,110.7 110.8,114.4 116.2,120.8 112.1,117.2" fill="#2affd5"/>
<polygon points="149.7,102.1 153.8,105.2 159.2,96.5 155.1,93.2" fill="#ffe200"/>
<polygon points="116.2,120.8 120.3,123.9 125.6,119.3 121.5,116.3" fill="#01fffe"/>
<polygon points="159.2,96.5 163.2,100.2 168.6,102.5 164.5,98.7" fill="#99ff66"/>
<polygon points="125.6,119.3 129.7,122.0 135.0,106.6 130.9,103.9" fill="#01fffe"/>
<polygon points="92.0,121.3 96.1,125.4 101.4,123.4 97.3,119.4" fill="#3effc1"/>
<polygon points="168.6,102.5 172.7,106.5 178.0,113.1 173.9,109.1" fill="#68ff97"/>
<polygon points="135.0,106.6 139.1,109.2 144.4,113.1 140.3,110.4" fill="#a3ff5c"/>
<polygon points="101.4,123.4 105.5,127.2 110.8,114.4 106.8,110.7" fill="#01fffe"/>
<polygon points="144.4,113.1 148.5,116.1 153.8,105.2 149.7,102.1" fill="#66ff99"/>
<polygon points="110.8,114.4 114.9,117.7 120.3,123.9 116.2,120.8" fill="#2affd5"/>
<polygon points="153.8,105.2 157.9,108.7 163.2,100.2 159.2,96.5" fill="#ffe200"/>
<polygon points="120.3,123.9 124.4,126.7 129.7,122.0 125.6,119.3" fill="#01fffe"/>
<polygon points="86.7,121.2 90.8,125.1 96.1,125.4 92.0,121.3" fill="#3effc1"/>
<polygon points="163.2,100.2 167.3,104.1 172.7,106.5 168.6,102.5" fill="#93ff6c"/>
<polygon points="129.7,122.0 133.8,124.7 139.1,109.2 135.0,106.6" fill="#01fffe"/>
<polygon points="96.1,125.4 100.2,129.3 105.5,127.2 101.4,123.4" fill="#3effc1"/>
<polygon points="172.7,106.5 176.8,110.4 182.1,170.9 178.0,113.1" fill="#0087ff"/>
<polygon points="139.1,109.2 143.2,112.0 148.5,116.1 144.4,113.1" fill="#a3ff5c"/>
<polygon points="105.5,127.2 109.6,130.7 114.9,117.7 110.8,114.4" fill="#01fffe"/>
<polygon points="148.5,116.1 152.6,119.4 157.9,108.7 153.8,105.2" fill="#66ff99"/>
<polygon points="114.9,117.7 119.0,120.7 124.4,126.7 120.3,123.9" fill="#2affd5"/>
<polygon points="81.4,125.3 85.5,129.2 90.8,125.1 86.7,121.2" fill="#3effc1"/>
<polygon points="157.9,108.7 162.0,112.5 167.3,104.1 163.2,100.2" fill="#ffe200"/>
<polygon points="124.4,126.7 128.4,129.4 133.8,124.7 129.7,122.0" fill="#01fffe"/>
<polygon points="90.8,125.1 94.9,129.1 100.2,129.3 96.1,125.4" fill="#3effc1"/>
<polygon points="167.3,104.1 171.4,108.1 176.8,110.4 172.7,106.5" fill="#8aff75"/>
<polygon points="133.8,124.7 137.9,127.4 143.2,112.0 139.1,109.2" fill="#01fffe"/>
<polygon points="100.2,129.3 104.3,133.0 109.6,130.7 105.5,127.2" fill="#3effc1"/>
<polygon points="176.8,110.4 180.8,114.2 186.2,173.9 182.1,170.9" fill="#0087ff"/>
<polygon points="143.2,112.0 147.3,115.2 152.6,119.4 148.5,116.1" fill="#a3ff5c"/>
<polygon points="109.6,130.7 113.7,133.9 119.0,120.7 114.9,117.7" fill="#01fffe"/>
<polygon points="76.0,127.4 80.1,131.2 85.5,129.2 81.4,125.3" fill="#3effc1"/>
<polygon points="152.6,119.4 156.7,123.1 162.0,112.5 157.9,108.7" fill="#66ff99"/>
<polygon points="119.0,120.7 123.1,123.4 128.4,129.4 124.4,126.7" fill="#2affd5"/>
<polygon points="85.5,129.2 89.5,133.2 94.9,129.1 90.8,125.1" fill="#3effc1"/>
<polygon points="162.0,112.5 166.1,116.5 171.4,108.1 167.3,104.1" fill="#ffe200"/>
<polygon points="128.4,129.4 132.5,132.0 137.9,127.4 133.8,124.7" fill="#01fffe"/>
<polygon points="94.9,129.1 99.0,132.9 104.3,133.0 100.2,129.3" fill="#3effc1"/>
<polygon points="171.4,108.1 175.5,112.0 180.8,114.2 176.8,110.4" fill="#81ff7e"/>
<polygon points="137.9,127.4 141.9,130.4 147.3,115.2 143.2,112.0" fill="#01fffe"/>
<polygon points="104.3,133.0 108.4,136.3 113.7,133.9 109.6,130.7" fill="#3effc1"/>
<polygon points="70.7,127.4 74.8,131.1 80.1,131.2 76.0,127.4" fill="#3effc1"/>
<polygon points="180.8,114.2 184.9,117.7 190.3,176.9 186.2,173.9" fill="#0087ff"/>
<polygon points="147.3,115.2 151.4,118.7 156.7,123.1 152.6,119.4" fill="#a3ff5c"/>
<polygon points="113.7,133.9 117.8,136.7 123.1,123.4 119.0,120.7" fill="#01fffe"/>
<polygon points="80.1,131.2 84.2,135.2 89.5,133.2 85.5,129.2" fill="#3effc1"/>
<polygon points="156.7,123.1 160.8,127.1 166.1,116.5 162.0,112.5" fill="#66ff99"/>
<polygon points="123.1,123.4 127.2,126.0 132.5,132.0 128.4,129.4" fill="#2affd5"/>
<polygon points="89.5,133.2 93.6,137.2 99.0,132.9 94.9,129.1" fill="#3effc1"/>
<polygon points="166.1,116.5 170.2,120.5 175.5,112.0 171.4,108.1" fill="#ffe200"/>
<polygon points="132.5,132.0 136.6,134.9 141.9,130.4 137.9,127.4" fill="#01fffe"/>
<polygon points="99.0,132.9 103.1,136.4 108.4,136.3 104.3,133.0" fill="#3effc1"/>
<polygon points="65.4,131.8 69.5,135.3 74.8,131.1 70.7,127.4" fill="#3effc1"/>
<polygon points="175.5,112.0 179.6,115.6 184.9,117.7 180.8,114.2" fill="#78ff87"/>
<polygon points="141.9,130.4 146.0,133.7 151.4,118.7 147.3,115.2" fill="#01fffe"/>
<polygon points="108.4,136.3 112.5,139.2 117.8,136.7 113.7,133.9" fill="#3effc1"/>
<polygon points="74.8,131.1 78.9,135.0 84.2,135.2 80.1,131.2" fill="#3effc1"/>
<polygon points="184.9,117.7 189.0,120.7 194.3,179.9 190.3,176.9" fill="#0087ff"/>
<polygon points="151.4,118.7 155.4,122.6 160.8,127.1 156.7,123.1" fill="#a3ff5c"/>
<polygon points="117.8,136.7 121.9,139.3 127.2,126.0 123.1,123.4" fill="#01fffe"/>
<polygon points="84.2,135.2 88.3,139.2 93.6,137.2 89.5,133.2" fill="#3effc1"/>
<polygon points="160.8,127.1 164.9,131.1 170.2,120.5 166.1,116.5" fill="#66ff99"/>
<polygon points="127.2,126.0 131.3,128.7 136.6,134.9 132.5,132.0" fill="#2affd5"/>
<polygon points="93.6,137.2 97.7,140.8 103.1,136.4 99.0,132.9" fill="#3effc1"/>
<polygon points="60.1,136.2 64.2,139.6 69.5,135.3 65.4,131.8" fill="#3effc1"/>
<polygon points="170.2,120.5 174.3,124.2 179.6,115.6 175.5,112.0" fill="#ffe200"/>
<polygon points="136.6,134.9 140.7,138.1 146.0,133.7 141.9,130.4" fill="#01fffe"/>
<polygon points="103.1,136.4 107.1,139.5 112.5,139.2 108.4,136.3" fill="#3effc1"/>
<polygon points="69.5,135.3 73.6,139.1 78.9,135.0 74.8,131.1" fill="#3effc1"/>
<polygon points="179.6,115.6 183.7,118.8 189.0,120.7 184.9,117.7" fill="#72ff8d"/>
<polygon points="146.0,133.7 150.1,137.4 155.4,122.6 151.4,118.7" fill="#01fffe"/>
<polygon points="112.5,139.2 116.6,141.9 121.9,139.3 117.8,136.7" fill="#3effc1"/>
<polygon points="78.9,135.0 83.0,139.0 88.3,139.2 84.2,135.2" fill="#3effc1"/>
<polygon points="189.0,120.7 193.1,123.5 198.4,182.9 194.3,179.9" fill="#0087ff"/>
<polygon points="155.4,122.6 159.5,126.6 164.9,131.1 160.8,127.1" fill="#a3ff5c"/>
<polygon points="121.9,139.3 126.0,142.0 131.3,128.7 127.2,126.0" fill="#01fffe"/>
<polygon points="88.3,139.2 92.4,143.0 97.7,140.8 93.6,137.2" fill="#3effc1"/>
<polygon points="54.7,137.6 58.8,140.9 64.2,139.6 60.1,136.2" fill="#00acff"/>
<polygon points="164.9,131.1 169.0,134.9 174.3,124.2 170.2,120.5" fill="#66ff99"/>
<polygon points="131.3,128.7 135.4,131.7 140.7,138.1 136.6,134.9" fill="#2affd5"/>
<polygon points="97.7,140.8 101.8,144.1 107.1,139.5 103.1,136.4" fill="#3effc1"/>
<polygon points="64.2,139.6 68.2,143.2 73.6,139.1 69.5,135.3" fill="#3effc1"/>
<polygon points="174.3,124.2 178.4,127.6 183.7,118.8 179.6,115.6" fill="#ffe200"/>
<polygon points="140.7,138.1 144.8,141.6 150.1,137.4 146.0,133.7" fill="#01fffe"/>
<polygon points="107.1,139.5 111.2,142.3 116.6,141.9 112.5,139.2" fill="#3effc1"/>
<polygon points="73.6,139.1 77.7,143.1 83.0,139.0 78.9,135.0" fill="#3effc1"/>
<polygon points="183.7,118.8 187.8,121.7 193.1,123.5 189.0,120.7" fill="#70ff8f"/>
<polygon points="150.1,137.4 154.2,141.4 159.5,126.6 155.4,122.6" fill="#01fffe"/>
<polygon points="116.6,141.9 120.6,144.5 126.0,142.0 121.9,139.3" fill="#3effc1"/>
<polygon points="83.0,139.0 87.1,142.9 92.4,143.0 88.3,139.2" fill="#3effc1"/>
<polygon points="49.4,79.1 53.5,81.9 58.8,140.9 54.7,137.6" fill="#880000"/>
<polygon points="193.1,123.5 197.2,130.1 202.5,185.9 198.4,182.9" fill="#0087ff"/>
<polygon points="159.5,126.6 163.6,130.5 169.0,134.9 164.9,131.1" fill="#a3ff5c"/>
<polygon points="126.0,142.0 130.1,144.8 135.4,131.7 131.3,128.7" fill="#01fffe"/>
<polygon points="92.4,143.0 96.5,146.4 101.8,144.1 97.7,140.8" fill="#3effc1"/>
<polygon points="58.8,140.9 62.9,144.2 68.2,143.2 64.2,139.6" fill="#00a9ff"/>
<polygon points="169.0,134.9 173.0,138.5 178.4,127.6 174.3,124.2" fill="#66ff99"/>
<polygon points="135.4,131.7 139.5,135.1 144.8,141.6 140.7,138.1" fill="#2affd5"/>
<polygon points="101.8,144.1 105.9,147.0 111.2,142.3 107.1,139.5" fill="#3effc1"/>
<polygon points="68.2,143.2 72.3,147.2 77.7,143.1 73.6,139.1" fill="#3effc1"/>
<polygon points="178.4,127.6 182.5,130.6 187.8,121.7 183.7,118.8" fill="#ffe200"/>
<polygon points="144.8,141.6 148.9,145.5 154.2,141.4 150.1,137.4" fill="#01fffe"/>
<polygon points="111.2,142.3 115.3,144.9 120.6,144.5 116.6,141.9" fill="#3effc1"/>
<polygon points="77.7,143.1 81.8,147.1 87.1,142.9 83.0,139.0" fill="#3effc1"/>
<polygon points="187.8,121.7 191.9,124.4 197.2,130.1 193.1,123.5" fill="#ffe200"/>
<polygon points="154.2,141.4 158.3,145.4 163.6,130.5 159.5,126.6" fill="#01fffe"/>
<polygon points="120.6,144.5 124.7,147.2 130.1,144.8 126.0,142.0" fill="#3effc1"/>
<polygon points="87.1,142.9 91.2,146.5 96.5,146.4 92.4,143.0" fill="#3effc1"/>
<polygon points="53.5,81.9 57.6,84.7 62.9,144.2 58.8,140.9" fill="#860000"/>
<polygon points="197.2,130.1 201.3,139.5 206.6,188.8 202.5,185.9" fill="#0087ff"/>
<polygon points="163.6,130.5 167.7,134.2 173.0,138.5 169.0,134.9" fill="#a3ff5c"/>
<polygon points="130.1,144.8 134.1,148.0 139.5,135.1 135.4,131.7" fill="#01fffe"/>
<polygon points="96.5,146.4 100.6,149.5 105.9,147.0 101.8,144.1" fill="#3effc1"/>
<polygon points="62.9,144.2 67.0,147.5 72.3,147.2 68.2,143.2" fill="#00a6ff"/>
<polygon points="173.0,138.5 177.1,141.7 182.5,130.6 178.4,127.6" fill="#66ff99"/>
<polygon points="139.5,135.1 143.6,138.9 148.9,145.5 144.8,141.6" fill="#2affd5"/>
<polygon points="105.9,147.0 110.0,149.7 115.3,144.9 111.2,142.3" fill="#3effc1"/>
<polygon points="72.3,147.2 76.4,151.2 81.8,147.1 77.7,143.1" fill="#3effc1"/>
<polygon points="182.5,130.6 186.6,133.4 191.9,124.4 187.8,121.7" fill="#ffe200"/>
<polygon points="148.9,145.5 153.0,149.5 158.3,145.4 154.2,141.4" fill="#01fffe"/>
<polygon points="115.3,144.9 119.4,147.6 124.7,147.2 120.6,144.5" fill="#3effc1"/>
<polygon points="81.8,147.1 85.8,150.8 91.2,146.5 87.1,142.9" fill="#3effc1"/>
<polygon points="191.9,124.4 196.0,127.0 201.3,139.5 197.2,130.1" fill="#ffe200"/>
<polygon points="158.3,145.4 162.4,149.3 167.7,134.2 163.6,130.5" fill="#01fffe"/>
<polygon points="124.7,147.2 128.8,150.3 134.1,148.0 130.1,144.8" fill="#3effc1"/>
<polygon points="91.2,146.5 95.3,149.7 100.6,149.5 96.5,146.4" fill="#3effc1"/>
<polygon points="57.6,84.7 61.7,87.4 67.0,147.5 62.9,144.2" fill="#840000"/>
<polygon points="201.3,139.5 205.4,149.0 210.7,191.8 206.6,188.8" fill="#0087ff"/>
<polygon points="167.7,134.2 171.8,137.6 177.1,141.7 173.0,138.5" fill="#a3ff5c"/>
<polygon points="134.1,148.0 138.2,151.6 143.6,138.9 139.5,135.1" fill="#01fffe"/>
<polygon points="100.6,149.5 104.7,152.2 110.0,149.7 105.9,147.0" fill="#3effc1"/>
<polygon points="67.0,147.5 71.1,150.8 76.4,151.2 72.3,147.2" fill="#00a3ff"/>
<polygon points="177.1,141.7 181.2,144.5 186.6,133.4 182.5,130.6" fill="#66ff99"/>
<polygon points="143.6,138.9 147.7,142.8 153.0,149.5 148.9,145.5" fill="#2affd5"/>
<polygon points="110.0,149.7 114.1,152.3 119.4,147.6 115.3,144.9" fill="#3effc1"/>
<polygon points="76.4,151.2 80.5,155.1 85.8,150.8 81.8,147.1" fill="#3effc1"/>
<polygon points="186.6,133.4 190.6,136.0 196.0,127.0 191.9,124.4" fill="#ffe200"/>
<polygon points="153.0,149.5 157.1,153.4 162.4,149.3 158.3,145.4" fill="#01fffe"/>
<polygon points="119.4,147.6 123.5,150.5 128.8,150.3 124.7,147.2" fill="#3effc1"/>
<polygon points="85.8,150.8 89.9,154.2 95.3,149.7 91.2,146.5" fill="#3effc1"/>
<polygon points="196.0,127.0 200.1,129.8 205.4,149.0 201.3,139.5" fill="#ffe200"/>
<polygon points="162.4,149.3 166.5,152.8 171.8,137.6 167.7,134.2" fill="#01fffe"/>
<polygon points="128.8,150.3 132.9,153.7 138.2,151.6 134.1,148.0" fill="#3effc1"/>
<polygon points="95.3,149.7 99.3,152.6 104.7,152.2 100.6,149.5" fill="#3effc1"/>
<polygon points="61.7,87.4 65.8,90.2 71.1,150.8 67.0,147.5" fill="#820000"/>
<polygon points="205.4,149.0 209.5,158.4 214.8,194.8 210.7,191.8" fill="#0087ff"/>
<polygon points="171.8,137.6 175.9,140.6 181.2,144.5 177.1,141.7" fill="#a3ff5c"/>
<polygon points="138.2,151.6 142.3,155.5 147.7,142.8 143.6,138.9" fill="#01fffe"/>
<polygon points="104.7,152.2 108.8,154.8 114.1,152.3 110.0,149.7" fill="#3effc1"/>
<polygon points="71.1,150.8 75.2,154.2 80.5,155.1 76.4,151.2" fill="#00a0ff"/>
<polygon points="181.2,144.5 185.3,147.2 190.6,136.0 186.6,133.4" fill="#66ff99"/>
<polygon points="147.7,142.8 151.7,146.8 157.1,153.4 153.0,149.5" fill="#2affd5"/>
<polygon points="114.1,152.3 118.2,155.0 123.5,150.5 119.4,147.6" fill="#3effc1"/>
<polygon points="80.5,155.1 84.6,158.6 89.9,154.2 85.8,150.8" fill="#3effc1"/>
<polygon points="190.6,136.0 194.7,138.7 200.1,129.8 196.0,127.0" fill="#ffe200"/>
<polygon points="157.1,153.4 161.2,157.1 166.5,152.8 162.4,149.3" fill="#01fffe"/>
<polygon points="123.5,150.5 127.6,153.7 132.9,153.7 128.8,150.3" fill="#3effc1"/>
<polygon points="89.9,154.2 94.0,157.3 99.3,152.6 95.3,149.7" fill="#3effc1"/>
<polygon points="200.1,129.8 204.1,132.9 209.5,158.4 205.4,149.0" fill="#ffe200"/>
<polygon points="166.5,152.8 170.6,155.9 175.9,140.6 171.8,137.6" fill="#01fffe"/>
<polygon points="132.9,153.7 137.0,157.5 142.3,155.5 138.2,151.6" fill="#3effc1"/>
<polygon points="99.3,152.6 103.4,155.3 108.8,154.8 104.7,152.2" fill="#3effc1"/>
<polygon points="65.8,90.2 69.9,93.0 75.2,154.2 71.1,150.8" fill="#800000"/>
<polygon points="209.5,158.4 213.6,167.8 218.9,197.8 214.8,194.8" fill="#0087ff"/>
<polygon points="175.9,140.6 180.0,143.3 185.3,147.2 181.2,144.5" fill="#a3ff5c"/>
<polygon points="142.3,155.5 146.4,159.6 151.7,146.8 147.7,142.8" fill="#01fffe"/>
<polygon points="108.8,154.8 112.8,157.5 118.2,155.0 114.1,152.3" fill="#3effc1"/>
<polygon points="75.2,154.2 79.3,157.5 84.6,158.6 80.5,155.1" fill="#009dff"/>
<polygon points="185.3,147.2 189.4,149.8 194.7,138.7 190.6,136.0" fill="#66ff99"/>
<polygon points="151.7,146.8 155.8,150.7 161.2,157.1 157.1,153.4" fill="#2affd5"/>
<polygon points="118.2,155.0 122.3,158.1 127.6,153.7 123.5,150.5" fill="#3effc1"/>
<polygon points="84.6,158.6 88.7,161.8 94.0,157.3 89.9,154.2" fill="#3effc1"/>
<polygon points="194.7,138.7 198.8,141.7 204.1,132.9 200.1,129.8" fill="#ffe200"/>
<polygon points="161.2,157.1 165.2,160.5 170.6,155.9 166.5,152.8" fill="#01fffe"/>
<polygon points="127.6,153.7 131.7,157.4 137.0,157.5 132.9,153.7" fill="#3effc1"/>
<polygon points="94.0,157.3 98.1,160.0 103.4,155.3 99.3,152.6" fill="#3effc1"/>
<polygon points="204.1,132.9 208.2,136.4 213.6,167.8 209.5,158.4" fill="#ffe200"/>
<polygon points="170.6,155.9 174.7,158.8 180.0,143.3 175.9,140.6" fill="#01fffe"/>
<polygon points="137.0,157.5 141.1,161.5 146.4,159.6 142.3,155.5" fill="#3effc1"/>
<polygon points="103.4,155.3 107.5,157.9 112.8,157.5 108.8,154.8" fill="#3effc1"/>
<polygon points="69.9,93.0 74.0,95.8 79.3,157.5 75.2,154.2" fill="#800000"/>
<polygon points="180.0,143.3 184.1,145.9 189.4,149.8 185.3,147.2" fill="#a3ff5c"/>
<polygon points="146.4,159.6 150.5,163.5 155.8,150.7 151.7,146.8" fill="#01fffe"/>
<polygon points="112.8,157.5 116.9,160.4 122.3,158.1 118.2,155.0" fill="#3effc1"/>
<polygon points="79.3,157.5 83.4,160.8 88.7,161.8 84.6,158.6" fill="#009aff"/>
<polygon points="189.4,149.8 193.5,152.6 198.8,141.7 194.7,138.7" fill="#66ff99"/>
<polygon points="155.8,150.7 159.9,154.2 165.2,160.5 161.2,157.1" fill="#2affd5"/>
<polygon points="122.3,158.1 126.4,161.6 131.7,157.4 127.6,153.7" fill="#3effc1"/>
<polygon points="88.7,161.8 92.8,164.7 98.1,160.0 94.0,157.3" fill="#3effc1"/>
<polygon points="198.8,141.7 202.9,145.0 208.2,136.4 204.1,132.9" fill="#ffe200"/>
<polygon points="165.2,160.5 169.3,163.4 174.7,158.8 170.6,155.9" fill="#01fffe"/>
<polygon points="131.7,157.4 135.8,161.3 141.1,161.5 137.0,157.5" fill="#3effc1"/>
<polygon points="98.1,160.0 102.2,162.6 107.5,157.9 103.4,155.3" fill="#3effc1"/>
<polygon points="174.7,158.8 178.8,161.4 184.1,145.9 180.0,143.3" fill="#01fffe"/>
<polygon points="141.1,161.5 145.2,165.5 150.5,163.5 146.4,159.6" fill="#3effc1"/>
<polygon points="107.5,157.9 111.6,160.7 116.9,160.4 112.8,157.5" fill="#3effc1"/>
<polygon points="74.0,95.8 78.0,98.5 83.4,160.8 79.3,157.5" fill="#800000"/>
<polygon points="184.1,145.9 188.2,148.6 193.5,152.6 189.4,149.8" fill="#a3ff5c"/>
<polygon points="150.5,163.5 154.6,167.1 159.9,154.2 155.8,150.7" fill="#01fffe"/>
<polygon points="116.9,160.4 121.0,163.7 126.4,161.6 122.3,158.1" fill="#3effc1"/>
<polygon points="83.4,160.8 87.5,164.1 92.8,164.7 88.7,161.8" fill="#0097ff"/>
<polygon points="193.5,152.6 197.6,155.8 202.9,145.0 198.8,141.7" fill="#66ff99"/>
<polygon points="159.9,154.2 164.0,157.3 169.3,163.4 165.2,160.5" fill="#2affd5"/>
<polygon points="126.4,161.6 130.4,165.4 135.8,161.3 131.7,157.4" fill="#3effc1"/>
<polygon points="92.8,164.7 96.9,167.3 102.2,162.6 98.1,160.0" fill="#3effc1"/>
<polygon points="169.3,163.4 173.4,166.1 178.8,161.4 174.7,158.8" fill="#01fffe"/>
<polygon points="135.8,161.3 139.9,165.3 145.2,165.5 141.1,161.5" fill="#3effc1"/>
<polygon points="102.2,162.6 106.3,165.3 111.6,160.7 107.5,157.9" fill="#3effc1"/>
<polygon points="178.8,161.4 182.8,164.0 188.2,148.6 184.1,145.9" fill="#01fffe"/>
<polygon points="145.2,165.5 149.3,169.3 154.6,167.1 150.5,163.5" fill="#3effc1"/>
<polygon points="111.6,160.7 115.7,163.8 121.0,163.7 116.9,160.4" fill="#3effc1"/>
<polygon points="78.0,98.5 82.1,101.3 87.5,164.1 83.4,160.8" fill="#800000"/>
<polygon points="188.2,148.6 192.3,151.6 197.6,155.8 193.5,152.6" fill="#a3ff5c"/>
<polygon points="154.6,167.1 158.7,170.4 164.0,157.3 159.9,154.2" fill="#01fffe"/>
<polygon points="121.0,163.7 125.1,167.4 130.4,165.4 126.4,161.6" fill="#3effc1"/>
<polygon points="87.5,164.1 91.5,167.4 96.9,167.3 92.8,164.7" fill="#0094ff"/>
<polygon points="164.0,157.3 168.1,160.1 173.4,166.1 169.3,163.4" fill="#2affd5"/>
<polygon points="130.4,165.4 134.5,169.4 139.9,165.3 135.8,161.3" fill="#3effc1"/>
<polygon points="96.9,167.3 101.0,170.0 106.3,165.3 102.2,162.6" fill="#3effc1"/>
<polygon points="173.4,166.1 177.5,168.7 182.8,164.0 178.8,161.4" fill="#01fffe"/>
<polygon points="139.9,165.3 143.9,169.2 149.3,169.3 145.2,165.5" fill="#3effc1"/>
<polygon points="106.3,165.3 110.4,168.3 115.7,163.8 111.6,160.7" fill="#3effc1"/>
<polygon points="182.8,164.0 186.9,166.9 192.3,151.6 188.2,148.6" fill="#01fffe"/>
<polygon points="149.3,169.3 153.4,172.7 158.7,170.4 154.6,167.1" fill="#3effc1"/>
<polygon points="115.7,163.8 119.8,167.3 125.1,167.4 121.0,163.7" fill="#3effc1"/>
<polygon points="82.1,101.3 86.2,104.1 91.5,167.4 87.5,164.1" fill="#800000"/>
<polygon points="158.7,170.4 162.8,173.4 168.1,160.1 164.0,157.3" fill="#01fffe"/>
<polygon points="125.1,167.4 129.2,171.3 134.5,169.4 130.4,165.4" fill="#3effc1"/>
<polygon points="91.5,167.4 95.6,170.7 101.0,170.0 96.9,167.3" fill="#0091ff"/>
<polygon points="168.1,160.1 172.2,162.7 177.5,168.7 173.4,166.1" fill="#2affd5"/>
<polygon points="134.5,169.4 138.6,173.4 143.9,169.2 139.9,165.3" fill="#3effc1"/>
<polygon points="101.0,170.0 105.1,172.8 110.4,168.3 106.3,165.3" fill="#3effc1"/>
<polygon points="177.5,168.7 181.6,171.5 186.9,166.9 182.8,164.0" fill="#01fffe"/>
<polygon points="143.9,169.2 148.0,172.8 153.4,172.7 149.3,169.3" fill="#3effc1"/>
<polygon points="110.4,168.3 114.5,171.6 119.8,167.3 115.7,163.8" fill="#3effc1"/>
<polygon points="153.4,172.7 157.5,175.8 162.8,173.4 158.7,170.4" fill="#3effc1"/>
<polygon points="119.8,167.3 123.9,171.1 129.2,171.3 125.1,167.4" fill="#3effc1"/>
<polygon points="86.2,104.1 90.3,106.9 95.6,170.7 91.5,167.4" fill="#800000"/>
<polygon points="162.8,173.4 166.9,176.0 172.2,162.7 168.1,160.1" fill="#01fffe"/>
<polygon points="129.2,171.3 133.3,175.3 138.6,173.4 134.5,169.4" fill="#3effc1"/>
<polygon points="95.6,170.7 99.7,174.0 105.1,172.8 101.0,170.0" fill="#008eff"/>
<polygon points="172.2,162.7 176.3,165.4 181.6,171.5 177.5,168.7" fill="#2affd5"/>
<polygon points="138.6,173.4 142.7,177.1 148.0,172.8 143.9,169.2" fill="#3effc1"/>
<polygon points="105.1,172.8 109.1,175.9 114.5,171.6 110.4,168.3" fill="#3effc1"/>
<polygon points="148.0,172.8 152.1,176.1 157.5,175.8 153.4,172.7" fill="#3effc1"/>
<polygon points="114.5,171.6 118.6,175.3 123.9,171.1 119.8,167.3" fill="#3effc1"/>
<polygon points="157.5,175.8 161.5,178.6 166.9,176.0 162.8,173.4" fill="#3effc1"/>
<polygon points="123.9,171.1 128.0,175.1 133.3,175.3 129.2,171.3" fill="#3effc1"/>
<polygon points="90.3,106.9 94.4,109.6 99.7,174.0 95.6,170.7" fill="#800000"/>
<polygon points="166.9,176.0 171.0,178.7 176.3,165.4 172.2,162.7" fill="#01fffe"/>
<polygon points="133.3,175.3 137.4,179.2 142.7,177.1 138.6,173.4" fill="#3effc1"/>
<polygon points="99.7,174.0 103.8,177.3 109.1,175.9 105.1,172.8" fill="#008bff"/>
<polygon points="142.7,177.1 146.8,180.6 152.1,176.1 148.0,172.8" fill="#3effc1"/>
<polygon points="109.1,175.9 113.2,179.5 118.6,175.3 114.5,171.6" fill="#3effc1"/>
<polygon points="152.1,176.1 156.2,179.0 161.5,178.6 157.5,175.8" fill="#3effc1"/>
<polygon points="118.6,175.3 122.7,179.2 128.0,175.1 123.9,171.1" fill="#3effc1"/>
<polygon points="161.5,178.6 165.6,181.2 171.0,178.7 166.9,176.0" fill="#3effc1"/>
<polygon points="128.0,175.1 132.1,179.1 137.4,179.2 133.3,175.3" fill="#3effc1"/>
<polygon points="94.4,109.6 98.5,112.4 103.8,177.3 99.7,174.0" fill="#800000"/>
<polygon points="137.4,179.2 141.5,182.8 146.8,180.6 142.7,177.1" fill="#3effc1"/>
<polygon points="103.8,177.3 107.9,180.7 113.2,179.5 109.1,175.9" fill="#0088ff"/>
<polygon points="146.8,180.6 150.9,183.6 156.2,179.0 152.1,176.1" fill="#3effc1"/>
<polygon points="113.2,179.5 117.3,183.3 122.7,179.2 118.6,175.3" fill="#3effc1"/>
<polygon points="156.2,179.0 160.3,181.7 165.6,181.2 161.5,178.6" fill="#3effc1"/>
<polygon points="122.7,179.2 126.7,183.2 132.1,179.1 128.0,175.1" fill="#3effc1"/>
<polygon points="132.1,179.1 136.2,182.9 141.5,182.8 137.4,179.2" fill="#3effc1"/>
<polygon points="98.5,112.4 102.6,115.2 107.9,180.7 103.8,177.3" fill="#800000"/>
<polygon points="141.5,182.8 145.6,186.1 150.9,183.6 146.8,180.6" fill="#3effc1"/>
<polygon points="107.9,180.7 112.0,184.0 117.3,183.3 113.2,179.5" fill="#0085ff"/>
<polygon points="150.9,183.6 155.0,186.4 160.3,181.7 156.2,179.0" fill="#3effc1"/>
<polygon points="117.3,183.3 121.4,187.3 126.7,183.2 122.7,179.2" fill="#3effc1"/>
<polygon points="126.7,183.2 130.8,187.1 136.2,182.9 132.1,179.1" fill="#3effc1"/>
<polygon points="136.2,182.9 140.2,186.2 145.6,186.1 141.5,182.8" fill="#3effc1"/>
<polygon points="102.6,115.2 106.7,118.0 112.0,184.0 107.9,180.7" fill="#800000"/>
<polygon points="145.6,186.1 149.7,188.9 155.0,186.4 150.9,183.6" fill="#3effc1"/>
<polygon points="112.0,184.0 116.1,187.3 121.4,187.3 117.3,183.3" fill="#0082ff"/>
<polygon points="121.4,187.3 125.5,191.3 130.8,187.1 126.7,183.2" fill="#3effc1"/>
<polygon points="130.8,187.1 134.9,190.7 140.2,186.2 136.2,182.9" fill="#3effc1"/>
<polygon points="140.2,186.2 144.3,189.3 149.7,188.9 145.6,186.1" fill="#3effc1"/>
<polygon points="106.7,118.0 110.8,120.7 116.1,187.3 112.0,184.0" fill="#800000"/>
<polygon points="116.1,187.3 120.2,190.6 125.5,191.3 121.4,187.3" fill="#007fff"/>
<polygon points="125.5,191.3 129.6,195.0 134.9,190.7 130.8,187.1" fill="#3effc1"/>
<polygon points="134.9,190.7 139.0,193.9 144.3,189.3 140.2,186.2" fill="#3effc1"/>
<polygon points="110.8,120.7 114.9,123.5 120.2,190.6 116.1,187.3" fill="#800000"/>
<polygon points="120.2,190.6 124.3,193.9 129.6,195.0 125.5,191.3" fill="#007cff"/>
<polygon points="129.6,195.0 133.7,198.4 139.0,193.9 134.9,190.7" fill="#3effc1"/>
<polygon points="114.9,123.5 118.9,126.3 124.3,193.9 120.2,190.6" fill="#800000"/>
<polygon points="124.3,193.9 128.4,197.2 133.7,198.4 129.6,195.0" fill="#0079ff"/>
<polygon points="118.9,126.3 123.0,129.1 128.4,197.2 124.3,193.9" fill="#800000"/>
</g>
<defs><linearGradient id="jg8" x1="0" y1="1" x2="0" y2="0">
<stop offset="0.000" stop-color="#000080"/>
<stop offset="0.125" stop-color="#0000ff"/>
<stop offset="0.250" stop-color="#0080ff"/>
<stop offset="0.375" stop-color="#00ffff"/>
<stop offset="0.500" stop-color="#80ff80"/>
<stop offset="0.625" stop-color="#ffff00"/>
<stop offset="0.750" stop-color="#ff8000"/>
<stop offset="0.875" stop-color="#ff0000"/>
<stop offset="1.000" stop-color="#800000"/>
</linearGradient></defs>
<rect x="249.6" y="21.5" width="9.5" height="233.8" fill="url(#jg8)" stroke="#333" stroke-width="0.6"/>
<g font-family="Liberation Sans" font-size="8.5" fill="#333">
<line x1="257.6" y1="250.7" x2="259.1" y2="250.7" stroke="#333" stroke-width="0.6"/>
<text transform="translate(261.60 253.67) scale(0.82 1)">0.15</text>
<line x1="257.6" y1="227.5" x2="259.1" y2="227.5" stroke="#333" stroke-width="0.6"/>
<text transform="translate(261.60 230.52) scale(0.82 1)">0.2</text>
<line x1="257.6" y1="204.4" x2="259.1" y2="204.4" stroke="#333" stroke-width="0.6"/>
<text transform="translate(261.60 207.37) scale(0.82 1)">0.25</text>
<line x1="257.6" y1="181.2" x2="259.1" y2="181.2" stroke="#333" stroke-width="0.6"/>
<text transform="translate(261.60 184.22) scale(0.82 1)">0.3</text>
<line x1="257.6" y1="158.1" x2="259.1" y2="158.1" stroke="#333" stroke-width="0.6"/>
<text transform="translate(261.60 161.08) scale(0.82 1)">0.35</text>
<line x1="257.6" y1="134.9" x2="259.1" y2="134.9" stroke="#333" stroke-width="0.6"/>
<text transform="translate(261.60 137.93) scale(0.82 1)">0.4</text>
<line x1="257.6" y1="111.8" x2="259.1" y2="111.8" stroke="#333" stroke-width="0.6"/>
<text transform="translate(261.60 114.78) scale(0.82 1)">0.45</text>
<line x1="257.6" y1="88.6" x2="259.1" y2="88.6" stroke="#333" stroke-width="0.6"/>
<text transform="translate(261.60 91.63) scale(0.82 1)">0.5</text>
<line x1="257.6" y1="65.5" x2="259.1" y2="65.5" stroke="#333" stroke-width="0.6"/>
<text transform="translate(261.60 68.48) scale(0.82 1)">0.55</text>
<line x1="257.6" y1="42.3" x2="259.1" y2="42.3" stroke="#333" stroke-width="0.6"/>
<text transform="translate(261.60 45.33) scale(0.82 1)">0.6</text>
</g>
<g font-family="Liberation Sans" font-size="10.0" fill="#3a3a3a">
<text transform="translate(61.70 276.30) scale(0.75 1)">BTC</text>
<text transform="translate(172.50 279.20) scale(0.75 1)">XAU</text>
</g>
<g font-family="Liberation Sans" font-size="8.5" fill="#444">
<text transform="translate(39.59 202.69) rotate(-63.0) scale(0.90 1)" font-size="9.0" text-anchor="end">0.05</text>
<text transform="translate(128.82 257.64) rotate(75.0) scale(0.90 1)">0.05</text>
<text transform="translate(43.68 205.68) rotate(-63.0) scale(0.90 1)" font-size="9.0" text-anchor="end">0.1</text>
<text transform="translate(134.15 255.38) rotate(75.0) scale(0.90 1)">0.1</text>
<text transform="translate(47.77 208.67) rotate(-63.0) scale(0.90 1)" font-size="9.0" text-anchor="end">0.15</text>
<text transform="translate(139.47 253.12) rotate(75.0) scale(0.90 1)">0.15</text>
<text transform="translate(51.86 211.66) rotate(-63.0) scale(0.90 1)" font-size="9.0" text-anchor="end">0.2</text>
<text transform="translate(144.80 250.86) rotate(75.0) scale(0.90 1)">0.2</text>
<text transform="translate(55.95 214.65) rotate(-63.0) scale(0.90 1)" font-size="9.0" text-anchor="end">0.25</text>
<text transform="translate(150.12 248.60) rotate(75.0) scale(0.90 1)">0.25</text>
<text transform="translate(60.04 217.64) rotate(-63.0) scale(0.90 1)" font-size="9.0" text-anchor="end">0.3</text>
<text transform="translate(155.45 246.34) rotate(75.0) scale(0.90 1)">0.3</text>
<text transform="translate(64.13 220.63) rotate(-63.0) scale(0.90 1)" font-size="9.0" text-anchor="end">0.35</text>
<text transform="translate(160.77 244.08) rotate(75.0) scale(0.90 1)">0.35</text>
<text transform="translate(68.22 223.62) rotate(-63.0) scale(0.90 1)" font-size="9.0" text-anchor="end">0.4</text>
<text transform="translate(166.10 241.82) rotate(75.0) scale(0.90 1)">0.4</text>
<text transform="translate(72.31 226.61) rotate(-63.0) scale(0.90 1)" font-size="9.0" text-anchor="end">0.45</text>
<text transform="translate(171.42 239.56) rotate(75.0) scale(0.90 1)">0.45</text>
<text transform="translate(76.40 229.60) rotate(-63.0) scale(0.90 1)" font-size="9.0" text-anchor="end">0.5</text>
<text transform="translate(176.75 237.30) rotate(75.0) scale(0.90 1)">0.5</text>
<text transform="translate(80.49 232.59) rotate(-63.0) scale(0.90 1)" font-size="9.0" text-anchor="end">0.55</text>
<text transform="translate(182.07 235.04) rotate(75.0) scale(0.90 1)">0.55</text>
<text transform="translate(84.58 235.58) rotate(-63.0) scale(0.90 1)" font-size="9.0" text-anchor="end">0.6</text>
<text transform="translate(187.40 232.78) rotate(75.0) scale(0.90 1)">0.6</text>
<text transform="translate(88.67 238.57) rotate(-63.0) scale(0.90 1)" font-size="9.0" text-anchor="end">0.65</text>
<text transform="translate(192.72 230.52) rotate(75.0) scale(0.90 1)">0.65</text>
<text transform="translate(92.76 241.56) rotate(-63.0) scale(0.90 1)" font-size="9.0" text-anchor="end">0.7</text>
<text transform="translate(198.05 228.26) rotate(75.0) scale(0.90 1)">0.7</text>
<text transform="translate(96.85 244.55) rotate(-63.0) scale(0.90 1)" font-size="9.0" text-anchor="end">0.75</text>
<text transform="translate(203.38 226.00) rotate(75.0) scale(0.90 1)">0.75</text>
<text transform="translate(100.94 247.54) rotate(-63.0) scale(0.90 1)" font-size="9.0" text-anchor="end">0.8</text>
<text transform="translate(208.70 223.74) rotate(75.0) scale(0.90 1)">0.8</text>
<text transform="translate(105.03 250.53) rotate(-63.0) scale(0.90 1)" font-size="9.0" text-anchor="end">0.85</text>
<text transform="translate(214.02 221.48) rotate(75.0) scale(0.90 1)">0.85</text>
<text transform="translate(109.12 253.52) rotate(-63.0) scale(0.90 1)" font-size="9.0" text-anchor="end">0.9</text>
<text transform="translate(219.35 219.22) rotate(75.0) scale(0.90 1)">0.9</text>
<text transform="translate(113.21 256.51) rotate(-63.0) scale(0.90 1)" font-size="9.0" text-anchor="end">0.95</text>
<text transform="translate(224.68 216.96) rotate(75.0) scale(0.90 1)">0.95</text>
</g>
<text x="150.0" y="317.2" font-family="Liberation Serif" font-weight="bold" font-size="20.1" fill="#000" text-anchor="middle">XAU on BTC</text></g>

<line x1="0.5" y1="0" x2="0.5" y2="669" stroke="#000" stroke-width="1.2"/>
<line x1="0" y1="0.5" x2="1200" y2="0.5" stroke="#6f6f6f" stroke-width="1"/>
<line x1="1199.5" y1="0" x2="1199.5" y2="669" stroke="#b8b8b8" stroke-width="1"/>
<line x1="0" y1="668.5" x2="1200" y2="668.5" stroke="#000" stroke-width="1.2"/>
<line x1="300.5" y1="0" x2="300.5" y2="669" stroke="#333" stroke-width="1.3"/>
<line x1="600.5" y1="0" x2="600.5" y2="669" stroke="#333" stroke-width="1.3"/>
<line x1="900.5" y1="0" x2="900.5" y2="669" stroke="#333" stroke-width="1.3"/>
<line x1="0" y1="334.3" x2="1200" y2="334.3" stroke="#333" stroke-width="1.3"/>

</svg>
</body></html>
